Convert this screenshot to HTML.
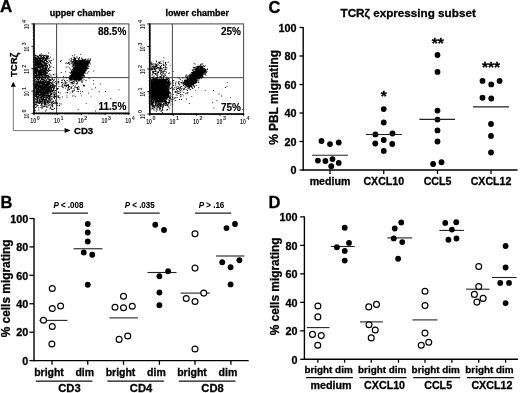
<!DOCTYPE html>
<html><head><meta charset="utf-8"><style>
html,body{margin:0;padding:0;background:#fff;}
svg{display:block;}
text{font-family:"Liberation Sans",sans-serif;}
svg{-webkit-font-smoothing:antialiased;will-change:transform;}
</style></head><body>
<svg width="520" height="393" viewBox="0 0 520 393">
<rect width="520" height="393" fill="#fff"/>
<text x="268.50" y="12.90" font-size="16.5" font-weight="bold" text-anchor="start" fill="#000" stroke="#000" stroke-width="0.3" >C</text>
<text x="408.15" y="16.90" font-size="11.7" font-weight="bold" text-anchor="middle" fill="#000" stroke="#000" stroke-width="0.3" >TCR&#950; expressing subset</text>
<line x1="303.20" y1="26.90" x2="303.20" y2="170.60" stroke="#000" stroke-width="1.4"/>
<line x1="302.50" y1="170.00" x2="517.50" y2="170.00" stroke="#000" stroke-width="1.4"/>
<line x1="299.50" y1="170.00" x2="303.20" y2="170.00" stroke="#000" stroke-width="1.3"/>
<text x="296.60" y="174.20" font-size="10.8" font-weight="bold" text-anchor="end" fill="#000" stroke="#000" stroke-width="0.3" >0</text>
<line x1="299.50" y1="141.50" x2="303.20" y2="141.50" stroke="#000" stroke-width="1.3"/>
<text x="296.60" y="145.70" font-size="10.8" font-weight="bold" text-anchor="end" fill="#000" stroke="#000" stroke-width="0.3" >20</text>
<line x1="299.50" y1="113.00" x2="303.20" y2="113.00" stroke="#000" stroke-width="1.3"/>
<text x="296.60" y="117.20" font-size="10.8" font-weight="bold" text-anchor="end" fill="#000" stroke="#000" stroke-width="0.3" >40</text>
<line x1="299.50" y1="84.50" x2="303.20" y2="84.50" stroke="#000" stroke-width="1.3"/>
<text x="296.60" y="88.70" font-size="10.8" font-weight="bold" text-anchor="end" fill="#000" stroke="#000" stroke-width="0.3" >60</text>
<line x1="299.50" y1="56.00" x2="303.20" y2="56.00" stroke="#000" stroke-width="1.3"/>
<text x="296.60" y="60.20" font-size="10.8" font-weight="bold" text-anchor="end" fill="#000" stroke="#000" stroke-width="0.3" >80</text>
<line x1="299.50" y1="27.50" x2="303.20" y2="27.50" stroke="#000" stroke-width="1.3"/>
<text x="296.60" y="31.70" font-size="10.8" font-weight="bold" text-anchor="end" fill="#000" stroke="#000" stroke-width="0.3" >100</text>
<text transform="translate(278.30,97.40) rotate(-90)" font-size="11.9" font-weight="bold" text-anchor="middle" stroke="#000" stroke-width="0.3">% PBL migrating</text>
<line x1="330.00" y1="170.00" x2="330.00" y2="173.90" stroke="#000" stroke-width="1.3"/>
<text x="330.00" y="185.10" font-size="10.6" font-weight="bold" text-anchor="middle" fill="#000" stroke="#000" stroke-width="0.3" >medium</text>
<line x1="383.75" y1="170.00" x2="383.75" y2="173.90" stroke="#000" stroke-width="1.3"/>
<text x="383.75" y="185.10" font-size="10.6" font-weight="bold" text-anchor="middle" fill="#000" stroke="#000" stroke-width="0.3" >CXCL10</text>
<line x1="437.50" y1="170.00" x2="437.50" y2="173.90" stroke="#000" stroke-width="1.3"/>
<text x="437.50" y="185.10" font-size="10.6" font-weight="bold" text-anchor="middle" fill="#000" stroke="#000" stroke-width="0.3" >CCL5</text>
<line x1="491.00" y1="170.00" x2="491.00" y2="173.90" stroke="#000" stroke-width="1.3"/>
<text x="491.00" y="185.10" font-size="10.6" font-weight="bold" text-anchor="middle" fill="#000" stroke="#000" stroke-width="0.3" >CXCL12</text>
<circle cx="321.50" cy="141.00" r="2.9" fill="#000"/>
<circle cx="330.00" cy="144.10" r="2.9" fill="#000"/>
<circle cx="338.75" cy="142.50" r="2.9" fill="#000"/>
<circle cx="317.90" cy="160.60" r="2.9" fill="#000"/>
<circle cx="325.40" cy="161.00" r="2.9" fill="#000"/>
<circle cx="332.50" cy="159.10" r="2.9" fill="#000"/>
<circle cx="338.75" cy="162.90" r="2.9" fill="#000"/>
<circle cx="331.25" cy="166.25" r="2.9" fill="#000"/>
<circle cx="383.75" cy="109.10" r="2.9" fill="#000"/>
<circle cx="383.75" cy="122.50" r="2.9" fill="#000"/>
<circle cx="375.40" cy="134.40" r="2.9" fill="#000"/>
<circle cx="392.50" cy="133.50" r="2.9" fill="#000"/>
<circle cx="383.75" cy="140.00" r="2.9" fill="#000"/>
<circle cx="375.25" cy="143.50" r="2.9" fill="#000"/>
<circle cx="392.25" cy="144.00" r="2.9" fill="#000"/>
<circle cx="383.75" cy="150.90" r="2.9" fill="#000"/>
<circle cx="437.50" cy="55.00" r="2.9" fill="#000"/>
<circle cx="437.50" cy="71.90" r="2.9" fill="#000"/>
<circle cx="437.50" cy="110.60" r="2.9" fill="#000"/>
<circle cx="437.50" cy="119.60" r="2.9" fill="#000"/>
<circle cx="437.50" cy="130.40" r="2.9" fill="#000"/>
<circle cx="437.50" cy="141.50" r="2.9" fill="#000"/>
<circle cx="433.10" cy="164.00" r="2.9" fill="#000"/>
<circle cx="441.50" cy="162.25" r="2.9" fill="#000"/>
<circle cx="482.50" cy="80.90" r="2.9" fill="#000"/>
<circle cx="491.25" cy="84.40" r="2.9" fill="#000"/>
<circle cx="499.60" cy="80.90" r="2.9" fill="#000"/>
<circle cx="482.50" cy="97.75" r="2.9" fill="#000"/>
<circle cx="491.25" cy="98.50" r="2.9" fill="#000"/>
<circle cx="491.00" cy="124.00" r="2.9" fill="#000"/>
<circle cx="491.00" cy="135.90" r="2.9" fill="#000"/>
<circle cx="491.00" cy="152.50" r="2.9" fill="#000"/>
<line x1="312.10" y1="155.25" x2="347.90" y2="155.25" stroke="#222" stroke-width="1.1"/>
<line x1="366.00" y1="134.50" x2="401.90" y2="134.50" stroke="#222" stroke-width="1.1"/>
<line x1="419.40" y1="119.40" x2="455.00" y2="119.40" stroke="#222" stroke-width="1.1"/>
<line x1="473.10" y1="106.90" x2="509.00" y2="106.90" stroke="#222" stroke-width="1.1"/>
<text x="383.75" y="101.35" font-size="15.5" font-weight="bold" text-anchor="middle" fill="#000" stroke="#000" stroke-width="0.3" >*</text>
<text x="437.75" y="48.20" font-size="15.5" font-weight="bold" text-anchor="middle" fill="#000" stroke="#000" stroke-width="0.3" >**</text>
<text x="491.00" y="72.00" font-size="15.5" font-weight="bold" text-anchor="middle" fill="#000" stroke="#000" stroke-width="0.3" >***</text>
<text x="268.50" y="207.75" font-size="16.5" font-weight="bold" text-anchor="start" fill="#000" stroke="#000" stroke-width="0.3" >D</text>
<line x1="304.40" y1="216.40" x2="304.40" y2="359.90" stroke="#000" stroke-width="1.4"/>
<line x1="303.70" y1="359.30" x2="518.00" y2="359.30" stroke="#000" stroke-width="1.4"/>
<line x1="300.20" y1="359.30" x2="304.40" y2="359.30" stroke="#000" stroke-width="1.3"/>
<text x="297.60" y="363.50" font-size="10.8" font-weight="bold" text-anchor="end" fill="#000" stroke="#000" stroke-width="0.3" >0</text>
<line x1="300.20" y1="330.82" x2="304.40" y2="330.82" stroke="#000" stroke-width="1.3"/>
<text x="297.60" y="335.02" font-size="10.8" font-weight="bold" text-anchor="end" fill="#000" stroke="#000" stroke-width="0.3" >20</text>
<line x1="300.20" y1="302.34" x2="304.40" y2="302.34" stroke="#000" stroke-width="1.3"/>
<text x="297.60" y="306.54" font-size="10.8" font-weight="bold" text-anchor="end" fill="#000" stroke="#000" stroke-width="0.3" >40</text>
<line x1="300.20" y1="273.86" x2="304.40" y2="273.86" stroke="#000" stroke-width="1.3"/>
<text x="297.60" y="278.06" font-size="10.8" font-weight="bold" text-anchor="end" fill="#000" stroke="#000" stroke-width="0.3" >60</text>
<line x1="300.20" y1="245.38" x2="304.40" y2="245.38" stroke="#000" stroke-width="1.3"/>
<text x="297.60" y="249.58" font-size="10.8" font-weight="bold" text-anchor="end" fill="#000" stroke="#000" stroke-width="0.3" >80</text>
<line x1="300.20" y1="216.90" x2="304.40" y2="216.90" stroke="#000" stroke-width="1.3"/>
<text x="297.60" y="221.10" font-size="10.8" font-weight="bold" text-anchor="end" fill="#000" stroke="#000" stroke-width="0.3" >100</text>
<text transform="translate(279.00,286.40) rotate(-90)" font-size="11.9" font-weight="bold" text-anchor="middle" stroke="#000" stroke-width="0.3">% cells migrating</text>
<line x1="317.90" y1="359.30" x2="317.90" y2="362.70" stroke="#000" stroke-width="1.3"/>
<line x1="344.60" y1="359.30" x2="344.60" y2="362.70" stroke="#000" stroke-width="1.3"/>
<line x1="371.25" y1="359.30" x2="371.25" y2="362.70" stroke="#000" stroke-width="1.3"/>
<line x1="398.50" y1="359.30" x2="398.50" y2="362.70" stroke="#000" stroke-width="1.3"/>
<line x1="425.00" y1="359.30" x2="425.00" y2="362.70" stroke="#000" stroke-width="1.3"/>
<line x1="451.90" y1="359.30" x2="451.90" y2="362.70" stroke="#000" stroke-width="1.3"/>
<line x1="478.75" y1="359.30" x2="478.75" y2="362.70" stroke="#000" stroke-width="1.3"/>
<line x1="505.60" y1="359.30" x2="505.60" y2="362.70" stroke="#000" stroke-width="1.3"/>
<text x="328.55" y="373.20" font-size="9.9" font-weight="bold" text-anchor="middle" fill="#000" stroke="#000" stroke-width="0.3" >bright dim</text>
<line x1="305.95" y1="377.70" x2="352.95" y2="377.70" stroke="#111" stroke-width="1.2"/>
<text x="330.95" y="388.80" font-size="10.7" font-weight="bold" text-anchor="middle" fill="#000" stroke="#000" stroke-width="0.3" >medium</text>
<text x="382.18" y="373.20" font-size="9.9" font-weight="bold" text-anchor="middle" fill="#000" stroke="#000" stroke-width="0.3" >bright dim</text>
<line x1="359.57" y1="377.70" x2="406.57" y2="377.70" stroke="#111" stroke-width="1.2"/>
<text x="384.57" y="388.80" font-size="10.7" font-weight="bold" text-anchor="middle" fill="#000" stroke="#000" stroke-width="0.3" >CXCL10</text>
<text x="435.75" y="373.20" font-size="9.9" font-weight="bold" text-anchor="middle" fill="#000" stroke="#000" stroke-width="0.3" >bright dim</text>
<line x1="413.15" y1="377.70" x2="460.15" y2="377.70" stroke="#111" stroke-width="1.2"/>
<text x="438.15" y="388.80" font-size="10.7" font-weight="bold" text-anchor="middle" fill="#000" stroke="#000" stroke-width="0.3" >CCL5</text>
<text x="489.48" y="373.20" font-size="9.9" font-weight="bold" text-anchor="middle" fill="#000" stroke="#000" stroke-width="0.3" >bright dim</text>
<line x1="466.88" y1="377.70" x2="513.88" y2="377.70" stroke="#111" stroke-width="1.2"/>
<text x="491.88" y="388.80" font-size="10.7" font-weight="bold" text-anchor="middle" fill="#000" stroke="#000" stroke-width="0.3" >CXCL12</text>
<line x1="306.90" y1="327.60" x2="329.40" y2="327.60" stroke="#222" stroke-width="1.1"/>
<line x1="331.00" y1="246.50" x2="354.75" y2="246.50" stroke="#222" stroke-width="1.1"/>
<line x1="360.00" y1="321.90" x2="382.75" y2="321.90" stroke="#222" stroke-width="1.1"/>
<line x1="387.25" y1="237.90" x2="412.25" y2="237.90" stroke="#222" stroke-width="1.1"/>
<line x1="412.50" y1="319.90" x2="437.50" y2="319.90" stroke="#222" stroke-width="1.1"/>
<line x1="439.40" y1="230.40" x2="464.00" y2="230.40" stroke="#222" stroke-width="1.1"/>
<line x1="466.00" y1="289.20" x2="489.40" y2="289.20" stroke="#222" stroke-width="1.1"/>
<line x1="491.90" y1="277.50" x2="516.60" y2="277.50" stroke="#222" stroke-width="1.1"/>
<circle cx="317.90" cy="306.00" r="2.95" fill="#fff" stroke="#000" stroke-width="1.15"/>
<circle cx="317.90" cy="316.90" r="2.95" fill="#fff" stroke="#000" stroke-width="1.15"/>
<circle cx="312.50" cy="334.40" r="2.95" fill="#fff" stroke="#000" stroke-width="1.15"/>
<circle cx="321.25" cy="335.60" r="2.95" fill="#fff" stroke="#000" stroke-width="1.15"/>
<circle cx="317.75" cy="345.25" r="2.95" fill="#fff" stroke="#000" stroke-width="1.15"/>
<circle cx="368.75" cy="306.90" r="2.95" fill="#fff" stroke="#000" stroke-width="1.15"/>
<circle cx="376.50" cy="304.40" r="2.95" fill="#fff" stroke="#000" stroke-width="1.15"/>
<circle cx="369.00" cy="324.75" r="2.95" fill="#fff" stroke="#000" stroke-width="1.15"/>
<circle cx="375.25" cy="330.00" r="2.95" fill="#fff" stroke="#000" stroke-width="1.15"/>
<circle cx="371.25" cy="337.90" r="2.95" fill="#fff" stroke="#000" stroke-width="1.15"/>
<circle cx="425.00" cy="291.25" r="2.95" fill="#fff" stroke="#000" stroke-width="1.15"/>
<circle cx="425.00" cy="305.60" r="2.95" fill="#fff" stroke="#000" stroke-width="1.15"/>
<circle cx="425.00" cy="333.10" r="2.95" fill="#fff" stroke="#000" stroke-width="1.15"/>
<circle cx="428.75" cy="342.25" r="2.95" fill="#fff" stroke="#000" stroke-width="1.15"/>
<circle cx="421.25" cy="345.25" r="2.95" fill="#fff" stroke="#000" stroke-width="1.15"/>
<circle cx="478.75" cy="266.50" r="2.95" fill="#fff" stroke="#000" stroke-width="1.15"/>
<circle cx="478.75" cy="286.50" r="2.95" fill="#fff" stroke="#000" stroke-width="1.15"/>
<circle cx="474.40" cy="294.40" r="2.95" fill="#fff" stroke="#000" stroke-width="1.15"/>
<circle cx="483.10" cy="298.40" r="2.95" fill="#fff" stroke="#000" stroke-width="1.15"/>
<circle cx="476.90" cy="302.10" r="2.95" fill="#fff" stroke="#000" stroke-width="1.15"/>
<circle cx="344.75" cy="227.75" r="2.9" fill="#000"/>
<circle cx="349.00" cy="242.90" r="2.9" fill="#000"/>
<circle cx="336.90" cy="247.25" r="2.9" fill="#000"/>
<circle cx="344.75" cy="250.90" r="2.9" fill="#000"/>
<circle cx="344.75" cy="260.60" r="2.9" fill="#000"/>
<circle cx="401.25" cy="222.50" r="2.9" fill="#000"/>
<circle cx="394.75" cy="228.50" r="2.9" fill="#000"/>
<circle cx="393.75" cy="238.40" r="2.9" fill="#000"/>
<circle cx="402.25" cy="242.10" r="2.9" fill="#000"/>
<circle cx="398.10" cy="258.75" r="2.9" fill="#000"/>
<circle cx="445.25" cy="222.90" r="2.9" fill="#000"/>
<circle cx="456.25" cy="222.25" r="2.9" fill="#000"/>
<circle cx="451.90" cy="229.60" r="2.9" fill="#000"/>
<circle cx="448.40" cy="239.75" r="2.9" fill="#000"/>
<circle cx="456.50" cy="238.50" r="2.9" fill="#000"/>
<circle cx="505.60" cy="246.00" r="2.9" fill="#000"/>
<circle cx="505.60" cy="267.50" r="2.9" fill="#000"/>
<circle cx="500.25" cy="282.90" r="2.9" fill="#000"/>
<circle cx="509.00" cy="282.90" r="2.9" fill="#000"/>
<circle cx="505.60" cy="303.10" r="2.9" fill="#000"/>
<text x="0.50" y="207.75" font-size="16.5" font-weight="bold" text-anchor="start" fill="#000" stroke="#000" stroke-width="0.3" >B</text>
<line x1="34.00" y1="217.90" x2="34.00" y2="361.20" stroke="#000" stroke-width="1.4"/>
<line x1="33.30" y1="360.60" x2="248.70" y2="360.60" stroke="#000" stroke-width="1.4"/>
<line x1="29.40" y1="360.60" x2="34.00" y2="360.60" stroke="#000" stroke-width="1.3"/>
<text x="28.20" y="364.80" font-size="10.8" font-weight="bold" text-anchor="end" fill="#000" stroke="#000" stroke-width="0.3" >0</text>
<line x1="29.40" y1="332.18" x2="34.00" y2="332.18" stroke="#000" stroke-width="1.3"/>
<text x="28.20" y="336.38" font-size="10.8" font-weight="bold" text-anchor="end" fill="#000" stroke="#000" stroke-width="0.3" >20</text>
<line x1="29.40" y1="303.76" x2="34.00" y2="303.76" stroke="#000" stroke-width="1.3"/>
<text x="28.20" y="307.96" font-size="10.8" font-weight="bold" text-anchor="end" fill="#000" stroke="#000" stroke-width="0.3" >40</text>
<line x1="29.40" y1="275.34" x2="34.00" y2="275.34" stroke="#000" stroke-width="1.3"/>
<text x="28.20" y="279.54" font-size="10.8" font-weight="bold" text-anchor="end" fill="#000" stroke="#000" stroke-width="0.3" >60</text>
<line x1="29.40" y1="246.92" x2="34.00" y2="246.92" stroke="#000" stroke-width="1.3"/>
<text x="28.20" y="251.12" font-size="10.8" font-weight="bold" text-anchor="end" fill="#000" stroke="#000" stroke-width="0.3" >80</text>
<line x1="29.40" y1="218.50" x2="34.00" y2="218.50" stroke="#000" stroke-width="1.3"/>
<text x="28.20" y="222.70" font-size="10.8" font-weight="bold" text-anchor="end" fill="#000" stroke="#000" stroke-width="0.3" >100</text>
<text transform="translate(9.80,288.40) rotate(-90)" font-size="11.9" font-weight="bold" text-anchor="middle" stroke="#000" stroke-width="0.3">% cells migrating</text>
<line x1="52.00" y1="360.60" x2="52.00" y2="364.80" stroke="#000" stroke-width="1.3"/>
<line x1="87.75" y1="360.60" x2="87.75" y2="364.80" stroke="#000" stroke-width="1.3"/>
<line x1="123.50" y1="360.60" x2="123.50" y2="364.80" stroke="#000" stroke-width="1.3"/>
<line x1="159.40" y1="360.60" x2="159.40" y2="364.80" stroke="#000" stroke-width="1.3"/>
<line x1="195.00" y1="360.60" x2="195.00" y2="364.80" stroke="#000" stroke-width="1.3"/>
<line x1="230.90" y1="360.60" x2="230.90" y2="364.80" stroke="#000" stroke-width="1.3"/>
<text x="49.00" y="375.80" font-size="10.5" font-weight="bold" text-anchor="middle" fill="#000" stroke="#000" stroke-width="0.3" >bright</text>
<text x="84.75" y="375.80" font-size="10.5" font-weight="bold" text-anchor="middle" fill="#000" stroke="#000" stroke-width="0.3" >dim</text>
<line x1="35.78" y1="381.20" x2="92.38" y2="381.20" stroke="#111" stroke-width="1.2"/>
<text x="69.47" y="391.50" font-size="11.2" font-weight="bold" text-anchor="middle" fill="#000" stroke="#000" stroke-width="0.3" >CD3</text>
<line x1="52.00" y1="213.10" x2="88.05" y2="213.10" stroke="#222" stroke-width="1.1"/>
<text x="120.50" y="375.80" font-size="10.5" font-weight="bold" text-anchor="middle" fill="#000" stroke="#000" stroke-width="0.3" >bright</text>
<text x="156.40" y="375.80" font-size="10.5" font-weight="bold" text-anchor="middle" fill="#000" stroke="#000" stroke-width="0.3" >dim</text>
<line x1="107.35" y1="381.20" x2="163.95" y2="381.20" stroke="#111" stroke-width="1.2"/>
<text x="141.05" y="391.50" font-size="11.2" font-weight="bold" text-anchor="middle" fill="#000" stroke="#000" stroke-width="0.3" >CD4</text>
<line x1="123.50" y1="213.10" x2="159.70" y2="213.10" stroke="#222" stroke-width="1.1"/>
<text x="192.00" y="375.80" font-size="10.5" font-weight="bold" text-anchor="middle" fill="#000" stroke="#000" stroke-width="0.3" >bright</text>
<text x="227.90" y="375.80" font-size="10.5" font-weight="bold" text-anchor="middle" fill="#000" stroke="#000" stroke-width="0.3" >dim</text>
<line x1="178.85" y1="381.20" x2="235.45" y2="381.20" stroke="#111" stroke-width="1.2"/>
<text x="212.55" y="391.50" font-size="11.2" font-weight="bold" text-anchor="middle" fill="#000" stroke="#000" stroke-width="0.3" >CD8</text>
<line x1="195.00" y1="213.10" x2="231.20" y2="213.10" stroke="#222" stroke-width="1.1"/>
<text x="68.40" y="207.90" font-size="9.6" font-weight="bold" text-anchor="middle" fill="#000" stroke="#000" stroke-width="0.1" textLength="30.0" lengthAdjust="spacingAndGlyphs"><tspan font-style="italic">P</tspan> &lt; .008</text>
<text x="139.70" y="207.90" font-size="9.6" font-weight="bold" text-anchor="middle" fill="#000" stroke="#000" stroke-width="0.1" textLength="30.0" lengthAdjust="spacingAndGlyphs"><tspan font-style="italic">P</tspan> &lt; .035</text>
<text x="211.50" y="207.90" font-size="9.6" font-weight="bold" text-anchor="middle" fill="#000" stroke="#000" stroke-width="0.1" textLength="25.6" lengthAdjust="spacingAndGlyphs"><tspan font-style="italic">P</tspan> &gt; .16</text>
<line x1="39.40" y1="320.40" x2="67.50" y2="320.40" stroke="#222" stroke-width="1.1"/>
<line x1="73.50" y1="248.75" x2="102.50" y2="248.75" stroke="#222" stroke-width="1.1"/>
<line x1="109.40" y1="317.90" x2="137.90" y2="317.90" stroke="#222" stroke-width="1.1"/>
<line x1="147.50" y1="272.50" x2="176.50" y2="272.50" stroke="#222" stroke-width="1.1"/>
<line x1="180.60" y1="293.10" x2="209.90" y2="293.10" stroke="#222" stroke-width="1.1"/>
<line x1="216.00" y1="256.00" x2="244.40" y2="256.00" stroke="#222" stroke-width="1.1"/>
<circle cx="52.25" cy="288.50" r="2.95" fill="#fff" stroke="#000" stroke-width="1.15"/>
<circle cx="52.25" cy="308.50" r="2.95" fill="#fff" stroke="#000" stroke-width="1.15"/>
<circle cx="60.60" cy="306.00" r="2.95" fill="#fff" stroke="#000" stroke-width="1.15"/>
<circle cx="43.50" cy="320.25" r="2.95" fill="#fff" stroke="#000" stroke-width="1.15"/>
<circle cx="52.25" cy="326.50" r="2.95" fill="#fff" stroke="#000" stroke-width="1.15"/>
<circle cx="51.90" cy="344.00" r="2.95" fill="#fff" stroke="#000" stroke-width="1.15"/>
<circle cx="123.50" cy="296.25" r="2.95" fill="#fff" stroke="#000" stroke-width="1.15"/>
<circle cx="115.00" cy="307.25" r="2.95" fill="#fff" stroke="#000" stroke-width="1.15"/>
<circle cx="123.50" cy="307.75" r="2.95" fill="#fff" stroke="#000" stroke-width="1.15"/>
<circle cx="132.25" cy="306.25" r="2.95" fill="#fff" stroke="#000" stroke-width="1.15"/>
<circle cx="127.75" cy="336.00" r="2.95" fill="#fff" stroke="#000" stroke-width="1.15"/>
<circle cx="119.10" cy="339.40" r="2.95" fill="#fff" stroke="#000" stroke-width="1.15"/>
<circle cx="195.00" cy="233.75" r="2.95" fill="#fff" stroke="#000" stroke-width="1.15"/>
<circle cx="195.00" cy="268.10" r="2.95" fill="#fff" stroke="#000" stroke-width="1.15"/>
<circle cx="203.75" cy="293.10" r="2.95" fill="#fff" stroke="#000" stroke-width="1.15"/>
<circle cx="186.25" cy="298.50" r="2.95" fill="#fff" stroke="#000" stroke-width="1.15"/>
<circle cx="195.00" cy="301.50" r="2.95" fill="#fff" stroke="#000" stroke-width="1.15"/>
<circle cx="195.00" cy="349.00" r="2.95" fill="#fff" stroke="#000" stroke-width="1.15"/>
<circle cx="87.75" cy="224.00" r="2.9" fill="#000"/>
<circle cx="87.75" cy="232.50" r="2.9" fill="#000"/>
<circle cx="87.75" cy="241.50" r="2.9" fill="#000"/>
<circle cx="83.75" cy="252.50" r="2.9" fill="#000"/>
<circle cx="92.25" cy="254.75" r="2.9" fill="#000"/>
<circle cx="87.75" cy="284.75" r="2.9" fill="#000"/>
<circle cx="155.25" cy="224.75" r="2.9" fill="#000"/>
<circle cx="164.00" cy="230.00" r="2.9" fill="#000"/>
<circle cx="168.10" cy="271.25" r="2.9" fill="#000"/>
<circle cx="159.40" cy="276.25" r="2.9" fill="#000"/>
<circle cx="159.40" cy="292.50" r="2.9" fill="#000"/>
<circle cx="159.40" cy="305.25" r="2.9" fill="#000"/>
<circle cx="226.50" cy="228.10" r="2.9" fill="#000"/>
<circle cx="235.00" cy="224.00" r="2.9" fill="#000"/>
<circle cx="222.25" cy="262.25" r="2.9" fill="#000"/>
<circle cx="239.40" cy="260.25" r="2.9" fill="#000"/>
<circle cx="230.60" cy="267.25" r="2.9" fill="#000"/>
<circle cx="230.60" cy="284.40" r="2.9" fill="#000"/>
<text x="0.00" y="12.30" font-size="17" font-weight="bold" text-anchor="start" fill="#000" stroke="#000" stroke-width="0.3" >A</text>
<text x="82.20" y="16.40" font-size="9" font-weight="bold" text-anchor="middle" fill="#000" stroke="#000" stroke-width="0.3" >upper chamber</text>
<text x="197.20" y="16.40" font-size="9" font-weight="bold" text-anchor="middle" fill="#000" stroke="#000" stroke-width="0.3" >lower chamber</text>
<rect x="34.00" y="23.90" width="94.90" height="89.50" fill="none" stroke="#444" stroke-width="1"/>
<line x1="56.60" y1="23.90" x2="56.60" y2="113.40" stroke="#444" stroke-width="1"/>
<line x1="34.00" y1="77.60" x2="128.90" y2="77.60" stroke="#444" stroke-width="1"/>
<path d="M41.9 66.4h.9v.9h-.9zM46.7 66.0h.9v.9h-.9zM43.5 65.4h.9v.9h-.9zM40.6 60.4h.9v.9h-.9zM39.1 61.3h.9v.9h-.9zM45.7 62.4h.9v.9h-.9zM35.6 71.8h.9v.9h-.9zM39.5 62.9h.9v.9h-.9zM43.1 56.0h.9v.9h-.9zM39.0 66.0h.9v.9h-.9zM38.5 62.3h.9v.9h-.9zM35.1 56.7h.9v.9h-.9zM42.2 76.4h.9v.9h-.9zM39.8 63.2h.9v.9h-.9zM36.6 68.1h.9v.9h-.9zM35.6 65.2h.9v.9h-.9zM45.1 58.0h.9v.9h-.9zM43.3 74.3h.9v.9h-.9zM39.4 75.5h.9v.9h-.9zM46.1 59.6h.9v.9h-.9zM34.9 64.7h.9v.9h-.9zM37.8 63.6h.9v.9h-.9zM39.3 58.0h.9v.9h-.9zM34.7 66.7h.9v.9h-.9zM37.7 71.0h.9v.9h-.9zM48.0 68.8h.9v.9h-.9zM36.7 69.8h.9v.9h-.9zM43.6 55.9h.9v.9h-.9zM39.1 58.1h.9v.9h-.9zM42.7 67.2h.9v.9h-.9zM36.7 71.4h.9v.9h-.9zM35.7 63.7h.9v.9h-.9zM34.3 67.1h.9v.9h-.9zM35.0 75.6h.9v.9h-.9zM39.5 54.4h.9v.9h-.9zM35.2 62.5h.9v.9h-.9zM36.3 62.2h.9v.9h-.9zM38.6 76.9h.9v.9h-.9zM42.8 61.5h.9v.9h-.9zM36.6 55.6h.9v.9h-.9zM36.9 63.5h.9v.9h-.9zM39.3 68.1h.9v.9h-.9zM38.9 57.7h.9v.9h-.9zM46.6 73.0h.9v.9h-.9zM43.5 57.7h.9v.9h-.9zM42.7 68.9h.9v.9h-.9zM35.9 59.6h.9v.9h-.9zM42.5 73.9h.9v.9h-.9zM38.5 60.2h.9v.9h-.9zM41.0 68.4h.9v.9h-.9zM36.1 72.1h.9v.9h-.9zM45.6 60.1h.9v.9h-.9zM35.7 57.5h.9v.9h-.9zM42.3 67.0h.9v.9h-.9zM36.6 67.2h.9v.9h-.9zM38.9 65.5h.9v.9h-.9zM42.0 71.9h.9v.9h-.9zM38.3 65.2h.9v.9h-.9zM53.2 66.9h.9v.9h-.9zM43.5 65.1h.9v.9h-.9zM39.9 66.5h.9v.9h-.9zM41.5 64.6h.9v.9h-.9zM43.2 59.1h.9v.9h-.9zM39.7 61.8h.9v.9h-.9zM38.0 61.7h.9v.9h-.9zM36.7 62.0h.9v.9h-.9zM38.2 73.2h.9v.9h-.9zM35.5 58.4h.9v.9h-.9zM46.0 61.0h.9v.9h-.9zM40.8 66.7h.9v.9h-.9zM43.1 63.7h.9v.9h-.9zM40.3 60.5h.9v.9h-.9zM41.2 60.6h.9v.9h-.9zM44.7 67.8h.9v.9h-.9zM42.1 69.8h.9v.9h-.9zM46.5 74.4h.9v.9h-.9zM46.1 73.1h.9v.9h-.9zM45.3 63.4h.9v.9h-.9zM46.3 67.7h.9v.9h-.9zM35.4 64.9h.9v.9h-.9zM36.2 58.5h.9v.9h-.9zM46.5 76.2h.9v.9h-.9zM43.0 56.4h.9v.9h-.9zM35.1 62.3h.9v.9h-.9zM45.6 68.0h.9v.9h-.9zM41.0 65.0h.9v.9h-.9zM41.3 61.4h.9v.9h-.9zM38.3 74.7h.9v.9h-.9zM35.7 63.6h.9v.9h-.9zM37.0 65.2h.9v.9h-.9zM37.4 58.0h.9v.9h-.9zM41.7 76.4h.9v.9h-.9zM39.0 55.2h.9v.9h-.9zM42.7 65.3h.9v.9h-.9zM34.9 73.4h.9v.9h-.9zM43.6 78.4h.9v.9h-.9zM37.2 75.1h.9v.9h-.9zM42.1 72.6h.9v.9h-.9zM41.6 61.8h.9v.9h-.9zM41.8 56.9h.9v.9h-.9zM45.0 64.2h.9v.9h-.9zM44.2 57.8h.9v.9h-.9zM39.7 75.0h.9v.9h-.9zM40.7 53.3h.9v.9h-.9zM49.2 65.0h.9v.9h-.9zM34.4 59.3h.9v.9h-.9zM44.4 55.0h.9v.9h-.9zM42.2 66.4h.9v.9h-.9zM42.7 55.1h.9v.9h-.9zM40.9 72.6h.9v.9h-.9zM41.2 69.3h.9v.9h-.9zM45.8 62.6h.9v.9h-.9zM38.3 73.3h.9v.9h-.9zM45.3 73.7h.9v.9h-.9zM35.8 61.7h.9v.9h-.9zM41.5 73.9h.9v.9h-.9zM37.4 75.8h.9v.9h-.9zM38.6 67.1h.9v.9h-.9zM41.3 63.2h.9v.9h-.9zM44.3 73.2h.9v.9h-.9zM34.7 76.7h.9v.9h-.9zM44.8 63.4h.9v.9h-.9zM42.2 57.3h.9v.9h-.9zM38.2 72.0h.9v.9h-.9zM42.2 69.6h.9v.9h-.9zM40.5 59.4h.9v.9h-.9zM36.1 68.3h.9v.9h-.9zM42.1 61.8h.9v.9h-.9zM34.5 73.7h.9v.9h-.9zM35.0 63.9h.9v.9h-.9zM49.2 60.6h.9v.9h-.9zM40.7 55.6h.9v.9h-.9zM34.4 64.2h.9v.9h-.9zM36.4 75.9h.9v.9h-.9zM48.2 59.7h.9v.9h-.9zM43.1 65.3h.9v.9h-.9zM44.5 74.9h.9v.9h-.9zM41.6 55.1h.9v.9h-.9zM42.5 61.5h.9v.9h-.9zM42.9 74.7h.9v.9h-.9zM44.1 59.5h.9v.9h-.9zM41.0 74.7h.9v.9h-.9zM37.7 75.1h.9v.9h-.9zM43.1 58.4h.9v.9h-.9zM39.3 68.4h.9v.9h-.9zM45.2 68.3h.9v.9h-.9zM35.2 70.4h.9v.9h-.9zM38.1 65.1h.9v.9h-.9zM43.7 63.9h.9v.9h-.9zM46.1 59.0h.9v.9h-.9zM39.9 63.3h.9v.9h-.9zM47.3 58.7h.9v.9h-.9zM44.0 74.1h.9v.9h-.9zM49.5 70.2h.9v.9h-.9zM39.2 64.4h.9v.9h-.9zM48.1 71.1h.9v.9h-.9zM37.2 66.8h.9v.9h-.9zM44.5 62.7h.9v.9h-.9zM41.8 65.0h.9v.9h-.9zM39.6 75.7h.9v.9h-.9zM34.7 63.9h.9v.9h-.9zM47.0 66.7h.9v.9h-.9zM46.5 74.9h.9v.9h-.9zM37.8 63.1h.9v.9h-.9zM41.2 73.0h.9v.9h-.9zM41.3 56.2h.9v.9h-.9zM43.2 71.4h.9v.9h-.9zM41.8 72.2h.9v.9h-.9zM41.0 72.0h.9v.9h-.9zM38.8 76.5h.9v.9h-.9zM41.7 69.9h.9v.9h-.9zM38.5 74.0h.9v.9h-.9zM44.6 59.9h.9v.9h-.9zM35.8 68.8h.9v.9h-.9zM36.2 58.0h.9v.9h-.9zM40.2 57.5h.9v.9h-.9zM40.5 65.5h.9v.9h-.9zM41.1 71.4h.9v.9h-.9zM38.1 70.3h.9v.9h-.9zM35.5 55.4h.9v.9h-.9zM46.5 75.5h.9v.9h-.9zM46.8 61.7h.9v.9h-.9zM44.1 60.8h.9v.9h-.9zM43.6 71.5h.9v.9h-.9zM45.1 75.6h.9v.9h-.9zM34.6 72.4h.9v.9h-.9zM36.4 63.0h.9v.9h-.9zM37.7 64.4h.9v.9h-.9zM36.2 73.6h.9v.9h-.9zM36.5 63.1h.9v.9h-.9zM36.0 73.5h.9v.9h-.9zM41.2 70.3h.9v.9h-.9zM36.5 65.5h.9v.9h-.9zM44.3 74.1h.9v.9h-.9zM35.0 62.1h.9v.9h-.9zM43.6 71.5h.9v.9h-.9zM36.5 69.0h.9v.9h-.9zM39.0 61.9h.9v.9h-.9zM46.5 67.2h.9v.9h-.9zM39.3 66.4h.9v.9h-.9zM49.9 66.7h.9v.9h-.9zM43.1 58.4h.9v.9h-.9zM46.8 76.7h.9v.9h-.9zM39.4 77.2h.9v.9h-.9zM39.0 54.7h.9v.9h-.9zM35.0 73.4h.9v.9h-.9zM45.0 67.0h.9v.9h-.9zM45.7 58.7h.9v.9h-.9zM44.4 75.5h.9v.9h-.9zM34.6 65.4h.9v.9h-.9zM35.8 69.3h.9v.9h-.9zM37.3 73.9h.9v.9h-.9zM39.6 65.7h.9v.9h-.9zM42.7 54.6h.9v.9h-.9zM41.5 76.2h.9v.9h-.9zM35.8 70.5h.9v.9h-.9zM43.7 75.5h.9v.9h-.9zM44.4 61.9h.9v.9h-.9zM37.1 74.3h.9v.9h-.9zM38.0 74.2h.9v.9h-.9zM41.4 64.5h.9v.9h-.9zM38.1 62.8h.9v.9h-.9zM38.1 60.7h.9v.9h-.9zM46.5 57.5h.9v.9h-.9zM38.3 62.3h.9v.9h-.9zM37.4 63.1h.9v.9h-.9zM37.9 58.1h.9v.9h-.9zM42.6 71.8h.9v.9h-.9zM43.0 63.6h.9v.9h-.9zM43.5 69.4h.9v.9h-.9zM39.8 62.3h.9v.9h-.9zM48.0 63.7h.9v.9h-.9zM45.0 71.8h.9v.9h-.9zM45.1 66.7h.9v.9h-.9zM35.3 68.7h.9v.9h-.9zM36.4 65.3h.9v.9h-.9zM41.2 65.7h.9v.9h-.9zM39.3 75.0h.9v.9h-.9zM40.8 64.0h.9v.9h-.9zM50.6 65.7h.9v.9h-.9zM35.8 69.8h.9v.9h-.9zM36.4 58.5h.9v.9h-.9zM42.3 76.9h.9v.9h-.9zM40.9 66.8h.9v.9h-.9zM35.5 58.5h.9v.9h-.9zM38.0 72.1h.9v.9h-.9zM36.9 71.1h.9v.9h-.9zM42.4 67.7h.9v.9h-.9zM51.3 75.5h.9v.9h-.9zM42.1 57.0h.9v.9h-.9zM35.3 67.6h.9v.9h-.9zM38.0 75.2h.9v.9h-.9zM35.6 75.8h.9v.9h-.9zM40.2 69.9h.9v.9h-.9zM35.7 67.0h.9v.9h-.9zM37.6 62.8h.9v.9h-.9zM37.9 66.1h.9v.9h-.9zM45.7 66.5h.9v.9h-.9zM40.0 73.1h.9v.9h-.9zM34.5 72.0h.9v.9h-.9zM38.0 70.7h.9v.9h-.9zM41.1 73.6h.9v.9h-.9zM39.5 55.0h.9v.9h-.9zM38.1 69.9h.9v.9h-.9zM34.7 65.8h.9v.9h-.9zM36.7 71.4h.9v.9h-.9zM50.5 63.1h.9v.9h-.9zM41.0 66.7h.9v.9h-.9zM34.4 72.4h.9v.9h-.9zM46.7 57.1h.9v.9h-.9zM45.0 59.7h.9v.9h-.9zM34.3 68.7h.9v.9h-.9zM36.5 74.9h.9v.9h-.9zM44.3 60.9h.9v.9h-.9zM34.7 71.3h.9v.9h-.9zM47.0 61.1h.9v.9h-.9zM40.4 59.4h.9v.9h-.9zM39.5 66.1h.9v.9h-.9zM42.6 70.2h.9v.9h-.9zM43.3 74.1h.9v.9h-.9zM42.7 73.3h.9v.9h-.9zM39.5 62.0h.9v.9h-.9zM34.4 69.8h.9v.9h-.9zM43.8 69.2h.9v.9h-.9zM36.7 63.0h.9v.9h-.9zM36.5 70.7h.9v.9h-.9zM35.3 75.0h.9v.9h-.9zM41.0 64.3h.9v.9h-.9zM43.7 77.2h.9v.9h-.9zM42.1 57.4h.9v.9h-.9zM34.8 61.6h.9v.9h-.9zM38.8 70.1h.9v.9h-.9zM44.7 62.7h.9v.9h-.9zM39.8 66.2h.9v.9h-.9zM48.9 64.2h.9v.9h-.9zM52.9 58.8h.9v.9h-.9zM40.9 72.2h.9v.9h-.9zM45.1 69.4h.9v.9h-.9zM50.9 60.1h.9v.9h-.9zM41.3 59.9h.9v.9h-.9zM42.5 72.5h.9v.9h-.9zM35.8 75.2h.9v.9h-.9zM41.6 74.5h.9v.9h-.9zM42.5 63.7h.9v.9h-.9zM41.1 65.3h.9v.9h-.9zM41.7 65.6h.9v.9h-.9zM37.5 58.7h.9v.9h-.9zM37.9 64.6h.9v.9h-.9zM37.5 58.1h.9v.9h-.9zM44.0 57.1h.9v.9h-.9zM38.0 64.2h.9v.9h-.9zM38.3 56.4h.9v.9h-.9zM43.8 63.9h.9v.9h-.9zM43.8 69.4h.9v.9h-.9zM40.3 71.2h.9v.9h-.9zM45.1 75.6h.9v.9h-.9zM45.2 73.3h.9v.9h-.9zM38.5 70.6h.9v.9h-.9zM35.0 75.0h.9v.9h-.9zM45.5 64.9h.9v.9h-.9zM42.7 71.5h.9v.9h-.9zM40.1 59.5h.9v.9h-.9zM42.7 65.0h.9v.9h-.9zM41.7 75.5h.9v.9h-.9zM43.6 67.8h.9v.9h-.9zM34.9 66.6h.9v.9h-.9zM35.9 72.8h.9v.9h-.9zM43.7 62.3h.9v.9h-.9zM39.1 73.2h.9v.9h-.9zM34.6 54.6h.9v.9h-.9zM34.4 57.7h.9v.9h-.9zM37.3 58.5h.9v.9h-.9zM37.1 59.7h.9v.9h-.9zM36.4 74.5h.9v.9h-.9zM48.2 55.6h.9v.9h-.9zM38.8 60.2h.9v.9h-.9zM39.3 66.1h.9v.9h-.9zM35.8 70.1h.9v.9h-.9zM45.2 71.9h.9v.9h-.9zM35.6 62.7h.9v.9h-.9zM38.0 60.8h.9v.9h-.9zM41.1 73.1h.9v.9h-.9zM50.1 56.7h.9v.9h-.9zM43.5 56.9h.9v.9h-.9zM35.4 62.8h.9v.9h-.9zM47.0 65.0h.9v.9h-.9zM46.5 76.8h.9v.9h-.9zM43.2 72.6h.9v.9h-.9zM34.6 69.3h.9v.9h-.9zM39.1 65.4h.9v.9h-.9zM34.5 72.7h.9v.9h-.9zM35.6 68.8h.9v.9h-.9zM35.0 62.2h.9v.9h-.9zM47.2 57.1h.9v.9h-.9zM35.4 60.5h.9v.9h-.9zM36.0 72.0h.9v.9h-.9zM43.9 68.6h.9v.9h-.9zM41.3 73.9h.9v.9h-.9zM39.6 55.5h.9v.9h-.9zM40.7 73.1h.9v.9h-.9zM34.9 64.6h.9v.9h-.9zM35.5 75.9h.9v.9h-.9zM34.8 69.4h.9v.9h-.9zM41.9 65.6h.9v.9h-.9zM41.8 74.1h.9v.9h-.9zM37.5 69.3h.9v.9h-.9zM37.8 72.0h.9v.9h-.9zM43.6 57.2h.9v.9h-.9zM46.0 68.5h.9v.9h-.9zM34.6 62.6h.9v.9h-.9zM35.1 55.0h.9v.9h-.9zM38.4 57.4h.9v.9h-.9zM42.3 67.0h.9v.9h-.9zM50.2 60.4h.9v.9h-.9zM38.2 70.6h.9v.9h-.9zM44.6 59.2h.9v.9h-.9zM37.4 57.1h.9v.9h-.9zM39.1 77.7h.9v.9h-.9zM37.7 61.0h.9v.9h-.9zM44.8 66.1h.9v.9h-.9zM34.8 61.3h.9v.9h-.9zM37.7 59.0h.9v.9h-.9zM35.7 63.0h.9v.9h-.9zM34.6 73.2h.9v.9h-.9zM34.5 58.4h.9v.9h-.9zM38.1 71.6h.9v.9h-.9zM45.3 72.9h.9v.9h-.9zM45.1 65.4h.9v.9h-.9zM46.7 61.7h.9v.9h-.9zM41.7 60.2h.9v.9h-.9zM45.4 60.1h.9v.9h-.9zM47.8 62.1h.9v.9h-.9zM45.7 72.5h.9v.9h-.9zM47.1 55.8h.9v.9h-.9zM37.4 70.8h.9v.9h-.9zM35.7 69.5h.9v.9h-.9zM45.6 55.1h.9v.9h-.9zM36.5 60.4h.9v.9h-.9zM45.7 72.0h.9v.9h-.9zM39.7 68.6h.9v.9h-.9zM37.0 60.8h.9v.9h-.9zM40.0 73.0h.9v.9h-.9zM35.2 57.8h.9v.9h-.9zM40.3 63.5h.9v.9h-.9zM38.0 57.0h.9v.9h-.9zM48.6 70.2h.9v.9h-.9zM40.8 56.8h.9v.9h-.9zM43.1 58.2h.9v.9h-.9zM35.1 69.9h.9v.9h-.9zM44.9 64.5h.9v.9h-.9zM41.8 69.3h.9v.9h-.9zM43.6 70.6h.9v.9h-.9zM50.7 69.7h.9v.9h-.9zM39.3 58.8h.9v.9h-.9zM34.7 71.5h.9v.9h-.9zM39.8 58.3h.9v.9h-.9zM39.7 61.2h.9v.9h-.9zM34.6 62.3h.9v.9h-.9zM46.1 56.2h.9v.9h-.9zM37.4 58.7h.9v.9h-.9zM36.2 71.0h.9v.9h-.9zM45.3 71.3h.9v.9h-.9zM38.8 64.3h.9v.9h-.9zM41.7 63.2h.9v.9h-.9zM36.1 59.4h.9v.9h-.9zM44.5 65.6h.9v.9h-.9zM40.6 69.0h.9v.9h-.9zM41.0 75.6h.9v.9h-.9zM46.3 56.0h.9v.9h-.9zM44.1 74.2h.9v.9h-.9zM46.4 77.0h.9v.9h-.9zM39.4 63.2h.9v.9h-.9zM42.9 69.7h.9v.9h-.9zM36.2 75.1h.9v.9h-.9zM44.8 69.5h.9v.9h-.9zM35.7 61.6h.9v.9h-.9zM38.4 70.5h.9v.9h-.9zM44.4 75.2h.9v.9h-.9zM39.7 57.6h.9v.9h-.9zM36.2 66.3h.9v.9h-.9zM45.6 54.6h.9v.9h-.9zM38.9 72.4h.9v.9h-.9zM37.2 68.9h.9v.9h-.9zM47.4 58.1h.9v.9h-.9zM39.8 68.7h.9v.9h-.9zM40.6 70.9h.9v.9h-.9zM35.7 57.1h.9v.9h-.9zM40.5 65.3h.9v.9h-.9zM39.4 69.7h.9v.9h-.9zM40.8 62.9h.9v.9h-.9zM40.3 66.9h.9v.9h-.9zM45.1 78.3h.9v.9h-.9zM42.4 69.3h.9v.9h-.9zM38.8 67.2h.9v.9h-.9zM47.9 56.1h.9v.9h-.9zM37.7 59.0h.9v.9h-.9zM37.1 73.6h.9v.9h-.9zM39.6 70.5h.9v.9h-.9zM44.3 72.9h.9v.9h-.9zM36.6 67.6h.9v.9h-.9zM42.1 67.8h.9v.9h-.9zM41.7 67.2h.9v.9h-.9zM37.4 70.3h.9v.9h-.9zM38.8 61.5h.9v.9h-.9zM46.3 66.9h.9v.9h-.9zM36.9 63.2h.9v.9h-.9zM45.2 68.6h.9v.9h-.9zM43.2 62.1h.9v.9h-.9zM48.0 52.5h.9v.9h-.9zM40.5 56.5h.9v.9h-.9zM38.9 60.2h.9v.9h-.9zM38.7 71.4h.9v.9h-.9zM44.0 73.9h.9v.9h-.9zM43.2 67.9h.9v.9h-.9zM43.5 66.7h.9v.9h-.9zM45.9 59.7h.9v.9h-.9zM43.2 66.5h.9v.9h-.9zM39.3 73.3h.9v.9h-.9zM37.6 66.7h.9v.9h-.9zM38.0 67.6h.9v.9h-.9zM39.5 64.4h.9v.9h-.9zM41.9 57.2h.9v.9h-.9zM40.6 68.3h.9v.9h-.9zM49.2 67.0h.9v.9h-.9zM43.0 61.3h.9v.9h-.9zM40.0 60.5h.9v.9h-.9zM34.4 70.3h.9v.9h-.9zM37.6 60.4h.9v.9h-.9zM41.1 69.1h.9v.9h-.9zM49.5 61.4h.9v.9h-.9zM36.2 69.4h.9v.9h-.9zM41.1 63.3h.9v.9h-.9zM46.4 64.5h.9v.9h-.9zM45.2 74.1h.9v.9h-.9zM45.3 70.7h.9v.9h-.9zM34.9 70.0h.9v.9h-.9zM43.8 63.9h.9v.9h-.9zM38.2 72.2h.9v.9h-.9zM40.6 64.9h.9v.9h-.9zM35.0 76.2h.9v.9h-.9zM39.1 75.4h.9v.9h-.9zM48.8 68.6h.9v.9h-.9zM38.9 72.3h.9v.9h-.9zM40.6 65.4h.9v.9h-.9zM40.6 71.6h.9v.9h-.9zM40.2 59.3h.9v.9h-.9zM41.2 79.0h.9v.9h-.9zM40.5 74.0h.9v.9h-.9zM39.0 58.8h.9v.9h-.9zM35.4 60.3h.9v.9h-.9zM45.9 68.1h.9v.9h-.9zM41.5 71.5h.9v.9h-.9zM36.8 60.5h.9v.9h-.9zM43.4 76.9h.9v.9h-.9zM36.1 61.7h.9v.9h-.9zM37.2 75.5h.9v.9h-.9zM35.7 73.1h.9v.9h-.9zM47.0 66.1h.9v.9h-.9zM38.0 62.8h.9v.9h-.9zM42.6 59.1h.9v.9h-.9zM34.5 56.8h.9v.9h-.9zM46.0 68.4h.9v.9h-.9zM42.7 71.1h.9v.9h-.9zM40.0 72.0h.9v.9h-.9zM39.8 64.3h.9v.9h-.9zM36.8 73.6h.9v.9h-.9zM39.3 61.0h.9v.9h-.9zM53.7 74.3h.9v.9h-.9zM39.8 75.7h.9v.9h-.9zM41.7 58.7h.9v.9h-.9zM38.9 73.6h.9v.9h-.9zM36.5 68.1h.9v.9h-.9zM43.3 70.1h.9v.9h-.9zM39.6 71.2h.9v.9h-.9zM42.0 67.2h.9v.9h-.9zM37.4 66.6h.9v.9h-.9zM38.6 63.2h.9v.9h-.9zM39.3 76.3h.9v.9h-.9zM44.4 75.1h.9v.9h-.9zM37.7 59.6h.9v.9h-.9zM41.2 71.9h.9v.9h-.9zM42.2 61.0h.9v.9h-.9zM39.4 60.6h.9v.9h-.9zM39.4 61.1h.9v.9h-.9zM39.3 65.8h.9v.9h-.9zM36.9 62.7h.9v.9h-.9zM36.9 61.3h.9v.9h-.9zM35.4 58.8h.9v.9h-.9zM35.1 62.9h.9v.9h-.9zM36.5 70.1h.9v.9h-.9zM40.7 54.4h.9v.9h-.9zM47.8 68.0h.9v.9h-.9zM37.2 68.5h.9v.9h-.9zM34.7 54.7h.9v.9h-.9zM39.1 62.1h.9v.9h-.9zM37.0 74.1h.9v.9h-.9zM44.6 74.0h.9v.9h-.9zM39.7 70.4h.9v.9h-.9zM35.4 57.0h.9v.9h-.9zM35.8 71.9h.9v.9h-.9zM35.9 64.9h.9v.9h-.9zM35.5 58.8h.9v.9h-.9zM40.6 66.0h.9v.9h-.9zM36.5 75.7h.9v.9h-.9zM34.5 71.2h.9v.9h-.9zM45.2 63.3h.9v.9h-.9zM38.2 55.8h.9v.9h-.9zM39.6 72.8h.9v.9h-.9zM40.9 75.5h.9v.9h-.9zM40.9 66.1h.9v.9h-.9zM38.5 59.9h.9v.9h-.9zM35.2 65.0h.9v.9h-.9zM46.4 69.5h.9v.9h-.9zM43.0 68.2h.9v.9h-.9zM35.7 61.5h.9v.9h-.9zM34.6 58.5h.9v.9h-.9zM44.3 62.1h.9v.9h-.9zM46.1 57.3h.9v.9h-.9zM36.8 61.5h.9v.9h-.9zM44.6 74.1h.9v.9h-.9zM42.1 57.0h.9v.9h-.9zM47.5 69.8h.9v.9h-.9zM39.3 70.6h.9v.9h-.9zM40.9 63.2h.9v.9h-.9zM35.1 67.9h.9v.9h-.9zM40.5 61.1h.9v.9h-.9zM46.9 70.3h.9v.9h-.9zM43.7 70.3h.9v.9h-.9zM34.7 72.1h.9v.9h-.9zM50.6 65.9h.9v.9h-.9zM44.4 77.0h.9v.9h-.9zM46.4 71.9h.9v.9h-.9zM42.7 65.5h.9v.9h-.9zM45.8 70.8h.9v.9h-.9zM43.0 59.5h.9v.9h-.9zM45.0 74.9h.9v.9h-.9zM34.5 68.9h.9v.9h-.9zM39.2 73.7h.9v.9h-.9zM41.9 61.0h.9v.9h-.9zM36.0 77.9h.9v.9h-.9zM39.2 54.4h.9v.9h-.9zM43.4 67.8h.9v.9h-.9zM35.3 60.8h.9v.9h-.9zM34.7 59.5h.9v.9h-.9zM35.5 71.5h.9v.9h-.9zM42.2 57.8h.9v.9h-.9zM41.7 65.9h.9v.9h-.9zM39.4 58.0h.9v.9h-.9zM48.8 73.5h.9v.9h-.9zM35.2 57.0h.9v.9h-.9zM43.8 63.3h.9v.9h-.9zM45.0 73.7h.9v.9h-.9zM40.6 70.8h.9v.9h-.9zM38.2 69.7h.9v.9h-.9zM38.2 76.4h.9v.9h-.9zM43.9 55.1h.9v.9h-.9zM42.1 68.6h.9v.9h-.9zM34.9 71.0h.9v.9h-.9zM44.3 71.0h.9v.9h-.9zM39.6 69.0h.9v.9h-.9zM35.3 59.1h.9v.9h-.9zM34.9 57.1h.9v.9h-.9zM49.7 69.9h.9v.9h-.9zM44.5 69.8h.9v.9h-.9zM44.0 60.0h.9v.9h-.9zM34.9 56.4h.9v.9h-.9zM46.0 66.7h.9v.9h-.9zM34.7 57.7h.9v.9h-.9zM42.7 71.4h.9v.9h-.9zM35.6 61.9h.9v.9h-.9zM41.6 72.5h.9v.9h-.9zM46.0 60.1h.9v.9h-.9zM35.1 63.0h.9v.9h-.9zM36.3 57.7h.9v.9h-.9zM38.1 72.5h.9v.9h-.9zM40.1 65.9h.9v.9h-.9zM34.9 58.6h.9v.9h-.9zM41.2 78.5h.9v.9h-.9zM36.7 69.3h.9v.9h-.9zM44.7 65.3h.9v.9h-.9zM39.1 74.2h.9v.9h-.9zM38.9 63.6h.9v.9h-.9zM39.3 75.9h.9v.9h-.9zM40.1 62.6h.9v.9h-.9zM41.0 77.7h.9v.9h-.9zM47.9 57.4h.9v.9h-.9zM45.0 71.1h.9v.9h-.9zM37.8 61.8h.9v.9h-.9zM39.0 66.2h.9v.9h-.9zM41.0 69.9h.9v.9h-.9zM47.1 55.2h.9v.9h-.9zM34.7 59.4h.9v.9h-.9zM34.5 58.1h.9v.9h-.9zM45.5 70.2h.9v.9h-.9zM44.5 59.7h.9v.9h-.9zM41.3 64.7h.9v.9h-.9zM40.0 62.1h.9v.9h-.9zM37.0 61.0h.9v.9h-.9zM38.2 76.4h.9v.9h-.9zM37.8 66.2h.9v.9h-.9zM34.8 71.9h.9v.9h-.9zM38.9 70.2h.9v.9h-.9zM37.0 76.9h.9v.9h-.9zM38.6 62.3h.9v.9h-.9zM40.0 57.8h.9v.9h-.9zM43.9 64.7h.9v.9h-.9zM40.8 55.4h.9v.9h-.9zM45.9 55.7h.9v.9h-.9zM36.9 75.0h.9v.9h-.9zM37.2 71.2h.9v.9h-.9zM44.2 62.4h.9v.9h-.9zM36.2 60.8h.9v.9h-.9zM37.4 71.2h.9v.9h-.9zM44.5 67.6h.9v.9h-.9zM36.7 55.9h.9v.9h-.9zM42.7 76.3h.9v.9h-.9zM35.1 75.0h.9v.9h-.9zM39.8 75.9h.9v.9h-.9zM46.7 73.0h.9v.9h-.9zM46.4 65.2h.9v.9h-.9zM36.0 63.0h.9v.9h-.9zM37.7 70.1h.9v.9h-.9zM39.5 59.5h.9v.9h-.9zM42.9 69.8h.9v.9h-.9zM38.2 58.3h.9v.9h-.9zM45.4 55.8h.9v.9h-.9zM46.3 68.8h.9v.9h-.9zM39.7 60.9h.9v.9h-.9zM39.1 71.9h.9v.9h-.9zM43.1 72.8h.9v.9h-.9zM35.3 73.2h.9v.9h-.9zM36.8 67.9h.9v.9h-.9zM37.7 73.3h.9v.9h-.9zM34.8 69.4h.9v.9h-.9zM37.5 74.5h.9v.9h-.9zM39.7 73.4h.9v.9h-.9zM44.9 59.2h.9v.9h-.9zM37.4 61.4h.9v.9h-.9zM46.8 62.9h.9v.9h-.9zM39.6 59.1h.9v.9h-.9zM46.3 58.3h.9v.9h-.9zM45.5 74.8h.9v.9h-.9zM45.7 57.0h.9v.9h-.9zM42.9 59.0h.9v.9h-.9zM42.9 71.5h.9v.9h-.9zM44.7 59.8h.9v.9h-.9zM37.4 59.5h.9v.9h-.9zM43.6 77.5h.9v.9h-.9zM41.3 72.0h.9v.9h-.9zM42.8 68.1h.9v.9h-.9zM46.2 57.4h.9v.9h-.9zM39.7 61.0h.9v.9h-.9zM38.7 77.3h.9v.9h-.9zM44.1 71.8h.9v.9h-.9zM36.4 55.2h.9v.9h-.9zM35.4 69.1h.9v.9h-.9zM36.8 63.5h.9v.9h-.9zM40.2 71.1h.9v.9h-.9zM42.8 61.6h.9v.9h-.9zM42.2 59.5h.9v.9h-.9zM37.4 57.2h.9v.9h-.9zM49.9 62.1h.9v.9h-.9zM48.7 73.6h.9v.9h-.9zM37.7 73.9h.9v.9h-.9zM36.1 70.6h.9v.9h-.9zM36.1 72.4h.9v.9h-.9zM45.9 59.7h.9v.9h-.9zM46.2 63.5h.9v.9h-.9zM38.9 74.0h.9v.9h-.9zM40.5 74.4h.9v.9h-.9zM45.5 63.5h.9v.9h-.9zM34.5 72.8h.9v.9h-.9zM48.1 75.7h.9v.9h-.9zM36.3 78.5h.9v.9h-.9zM36.0 61.8h.9v.9h-.9zM44.2 70.4h.9v.9h-.9zM36.8 65.4h.9v.9h-.9zM43.5 66.6h.9v.9h-.9zM43.9 64.4h.9v.9h-.9zM35.3 61.1h.9v.9h-.9zM37.1 56.1h.9v.9h-.9zM46.1 70.3h.9v.9h-.9zM41.7 70.7h.9v.9h-.9zM40.4 74.5h.9v.9h-.9zM41.0 58.1h.9v.9h-.9zM40.6 63.0h.9v.9h-.9zM39.6 67.6h.9v.9h-.9zM36.5 74.9h.9v.9h-.9zM44.2 65.1h.9v.9h-.9zM40.4 58.8h.9v.9h-.9zM39.6 68.5h.9v.9h-.9zM38.8 75.6h.9v.9h-.9zM38.9 75.9h.9v.9h-.9zM41.0 75.2h.9v.9h-.9zM36.1 64.8h.9v.9h-.9zM34.4 60.7h.9v.9h-.9zM39.4 71.9h.9v.9h-.9zM37.2 71.9h.9v.9h-.9zM40.6 72.3h.9v.9h-.9zM40.7 65.0h.9v.9h-.9zM35.7 61.5h.9v.9h-.9zM41.0 62.7h.9v.9h-.9zM41.4 74.7h.9v.9h-.9zM37.6 75.9h.9v.9h-.9zM38.2 63.5h.9v.9h-.9zM43.3 74.1h.9v.9h-.9zM36.9 64.4h.9v.9h-.9zM37.2 66.1h.9v.9h-.9zM49.1 66.5h.9v.9h-.9zM39.1 60.8h.9v.9h-.9zM41.2 64.5h.9v.9h-.9zM43.6 61.0h.9v.9h-.9zM40.2 60.6h.9v.9h-.9zM44.9 65.4h.9v.9h-.9zM36.8 55.7h.9v.9h-.9zM34.7 73.4h.9v.9h-.9zM39.5 59.3h.9v.9h-.9zM36.2 65.2h.9v.9h-.9zM41.2 71.4h.9v.9h-.9zM38.5 61.7h.9v.9h-.9zM41.2 62.9h.9v.9h-.9zM41.0 68.7h.9v.9h-.9zM39.6 67.9h.9v.9h-.9zM47.7 74.8h.9v.9h-.9zM42.5 72.6h.9v.9h-.9zM42.4 58.0h.9v.9h-.9zM47.0 75.1h.9v.9h-.9zM34.4 67.8h.9v.9h-.9zM37.6 70.2h.9v.9h-.9zM39.4 60.5h.9v.9h-.9zM42.6 66.6h.9v.9h-.9zM34.9 70.8h.9v.9h-.9zM44.5 72.7h.9v.9h-.9zM35.4 74.7h.9v.9h-.9zM34.6 60.7h.9v.9h-.9zM40.1 72.9h.9v.9h-.9zM38.3 66.3h.9v.9h-.9zM35.8 69.1h.9v.9h-.9zM41.8 72.0h.9v.9h-.9zM42.1 64.2h.9v.9h-.9zM46.3 75.2h.9v.9h-.9zM36.0 71.3h.9v.9h-.9zM45.8 72.5h.9v.9h-.9zM35.4 64.3h.9v.9h-.9zM42.8 66.8h.9v.9h-.9zM48.8 57.9h.9v.9h-.9zM43.8 73.1h.9v.9h-.9zM35.8 73.3h.9v.9h-.9zM42.9 57.3h.9v.9h-.9zM44.1 69.7h.9v.9h-.9zM44.4 70.1h.9v.9h-.9zM39.3 57.5h.9v.9h-.9zM48.5 76.3h.9v.9h-.9zM36.3 65.8h.9v.9h-.9zM36.1 59.6h.9v.9h-.9zM40.0 55.3h.9v.9h-.9zM36.5 70.8h.9v.9h-.9zM36.9 62.4h.9v.9h-.9zM36.2 64.0h.9v.9h-.9zM40.3 59.7h.9v.9h-.9zM47.2 87.1h.9v.9h-.9zM46.0 82.4h.9v.9h-.9zM35.0 84.2h.9v.9h-.9zM50.5 94.2h.9v.9h-.9zM40.0 95.2h.9v.9h-.9zM40.9 97.1h.9v.9h-.9zM46.1 85.3h.9v.9h-.9zM48.2 83.4h.9v.9h-.9zM36.9 79.3h.9v.9h-.9zM44.7 87.7h.9v.9h-.9zM42.5 85.5h.9v.9h-.9zM52.3 85.5h.9v.9h-.9zM38.3 95.5h.9v.9h-.9zM52.2 90.0h.9v.9h-.9zM36.9 84.4h.9v.9h-.9zM47.0 88.1h.9v.9h-.9zM53.1 79.8h.9v.9h-.9zM47.4 84.2h.9v.9h-.9zM51.6 87.5h.9v.9h-.9zM49.7 84.1h.9v.9h-.9zM34.8 81.3h.9v.9h-.9zM39.1 81.9h.9v.9h-.9zM50.8 96.0h.9v.9h-.9zM44.8 81.8h.9v.9h-.9zM42.2 83.9h.9v.9h-.9zM52.5 89.9h.9v.9h-.9zM46.2 85.6h.9v.9h-.9zM38.7 83.4h.9v.9h-.9zM35.7 90.2h.9v.9h-.9zM43.6 83.2h.9v.9h-.9zM40.5 97.4h.9v.9h-.9zM36.8 82.5h.9v.9h-.9zM41.5 83.8h.9v.9h-.9zM40.2 91.2h.9v.9h-.9zM54.3 77.3h.9v.9h-.9zM42.9 88.2h.9v.9h-.9zM42.5 86.9h.9v.9h-.9zM40.8 94.0h.9v.9h-.9zM40.0 87.2h.9v.9h-.9zM43.0 88.6h.9v.9h-.9zM41.9 94.0h.9v.9h-.9zM42.9 89.0h.9v.9h-.9zM42.7 82.0h.9v.9h-.9zM37.6 81.7h.9v.9h-.9zM44.3 83.7h.9v.9h-.9zM36.1 89.4h.9v.9h-.9zM46.4 77.4h.9v.9h-.9zM54.0 88.2h.9v.9h-.9zM42.3 94.4h.9v.9h-.9zM43.5 84.4h.9v.9h-.9zM57.3 81.6h.9v.9h-.9zM42.4 93.1h.9v.9h-.9zM36.0 87.4h.9v.9h-.9zM45.5 102.4h.9v.9h-.9zM37.2 87.7h.9v.9h-.9zM47.3 88.5h.9v.9h-.9zM35.2 90.4h.9v.9h-.9zM43.7 90.7h.9v.9h-.9zM50.4 94.1h.9v.9h-.9zM45.7 89.9h.9v.9h-.9zM35.9 87.2h.9v.9h-.9zM44.4 85.6h.9v.9h-.9zM43.6 83.0h.9v.9h-.9zM53.0 100.9h.9v.9h-.9zM40.5 90.4h.9v.9h-.9zM41.5 95.6h.9v.9h-.9zM45.8 88.5h.9v.9h-.9zM41.5 88.8h.9v.9h-.9zM36.5 92.1h.9v.9h-.9zM38.4 91.2h.9v.9h-.9zM43.8 94.6h.9v.9h-.9zM42.9 94.1h.9v.9h-.9zM37.0 91.7h.9v.9h-.9zM41.5 89.2h.9v.9h-.9zM43.5 93.6h.9v.9h-.9zM38.7 89.9h.9v.9h-.9zM35.3 95.2h.9v.9h-.9zM38.4 82.0h.9v.9h-.9zM36.5 97.8h.9v.9h-.9zM34.6 88.7h.9v.9h-.9zM39.5 77.2h.9v.9h-.9zM40.8 92.0h.9v.9h-.9zM41.8 93.6h.9v.9h-.9zM40.6 88.0h.9v.9h-.9zM40.5 90.1h.9v.9h-.9zM55.3 90.2h.9v.9h-.9zM44.3 84.3h.9v.9h-.9zM38.1 96.8h.9v.9h-.9zM35.8 82.5h.9v.9h-.9zM42.4 85.4h.9v.9h-.9zM55.7 73.8h.9v.9h-.9zM45.3 92.3h.9v.9h-.9zM35.7 84.1h.9v.9h-.9zM45.8 97.8h.9v.9h-.9zM37.0 78.5h.9v.9h-.9zM49.3 97.1h.9v.9h-.9zM40.8 74.7h.9v.9h-.9zM52.4 86.8h.9v.9h-.9zM50.3 87.7h.9v.9h-.9zM40.6 85.3h.9v.9h-.9zM52.6 96.6h.9v.9h-.9zM39.5 82.4h.9v.9h-.9zM54.6 85.8h.9v.9h-.9zM34.4 88.0h.9v.9h-.9zM42.3 87.4h.9v.9h-.9zM39.9 86.1h.9v.9h-.9zM40.0 90.0h.9v.9h-.9zM37.7 86.3h.9v.9h-.9zM42.1 95.8h.9v.9h-.9zM45.4 87.3h.9v.9h-.9zM46.5 90.4h.9v.9h-.9zM50.1 91.0h.9v.9h-.9zM54.7 96.1h.9v.9h-.9zM42.7 85.5h.9v.9h-.9zM48.7 91.1h.9v.9h-.9zM42.4 79.1h.9v.9h-.9zM37.5 90.1h.9v.9h-.9zM48.0 92.8h.9v.9h-.9zM34.6 94.2h.9v.9h-.9zM39.5 90.3h.9v.9h-.9zM45.7 83.2h.9v.9h-.9zM39.2 75.6h.9v.9h-.9zM37.0 77.2h.9v.9h-.9zM45.8 88.4h.9v.9h-.9zM48.9 90.1h.9v.9h-.9zM38.9 90.1h.9v.9h-.9zM40.5 91.7h.9v.9h-.9zM45.0 82.1h.9v.9h-.9zM43.0 88.3h.9v.9h-.9zM41.0 93.4h.9v.9h-.9zM54.1 85.8h.9v.9h-.9zM40.7 74.5h.9v.9h-.9zM42.2 85.4h.9v.9h-.9zM39.6 89.7h.9v.9h-.9zM46.8 83.6h.9v.9h-.9zM40.6 82.2h.9v.9h-.9zM48.0 78.9h.9v.9h-.9zM41.0 99.7h.9v.9h-.9zM43.3 90.8h.9v.9h-.9zM42.0 81.0h.9v.9h-.9zM42.8 90.4h.9v.9h-.9zM36.4 90.0h.9v.9h-.9zM51.1 94.4h.9v.9h-.9zM35.9 82.1h.9v.9h-.9zM36.1 94.4h.9v.9h-.9zM47.0 92.2h.9v.9h-.9zM37.3 81.0h.9v.9h-.9zM43.5 88.6h.9v.9h-.9zM37.4 88.9h.9v.9h-.9zM47.2 89.4h.9v.9h-.9zM36.2 75.3h.9v.9h-.9zM41.3 89.0h.9v.9h-.9zM41.3 85.4h.9v.9h-.9zM38.5 92.3h.9v.9h-.9zM42.7 88.7h.9v.9h-.9zM36.7 84.3h.9v.9h-.9zM44.1 82.0h.9v.9h-.9zM34.8 86.0h.9v.9h-.9zM50.8 89.1h.9v.9h-.9zM52.5 87.2h.9v.9h-.9zM41.0 79.6h.9v.9h-.9zM39.3 96.6h.9v.9h-.9zM45.1 92.4h.9v.9h-.9zM47.6 87.9h.9v.9h-.9zM41.7 88.7h.9v.9h-.9zM47.4 90.7h.9v.9h-.9zM46.2 88.9h.9v.9h-.9zM38.0 86.4h.9v.9h-.9zM36.9 94.0h.9v.9h-.9zM39.3 86.7h.9v.9h-.9zM58.5 86.0h.9v.9h-.9zM35.6 87.9h.9v.9h-.9zM51.4 87.0h.9v.9h-.9zM47.0 88.6h.9v.9h-.9zM40.6 106.9h.9v.9h-.9zM43.5 84.8h.9v.9h-.9zM39.8 90.3h.9v.9h-.9zM45.7 92.6h.9v.9h-.9zM43.9 79.4h.9v.9h-.9zM46.5 86.1h.9v.9h-.9zM41.1 79.1h.9v.9h-.9zM39.3 83.6h.9v.9h-.9zM42.8 79.3h.9v.9h-.9zM43.3 88.7h.9v.9h-.9zM35.7 84.3h.9v.9h-.9zM37.4 93.4h.9v.9h-.9zM42.0 85.9h.9v.9h-.9zM36.4 85.4h.9v.9h-.9zM48.5 84.2h.9v.9h-.9zM43.9 82.9h.9v.9h-.9zM55.6 93.5h.9v.9h-.9zM50.3 80.0h.9v.9h-.9zM35.8 94.5h.9v.9h-.9zM41.7 86.5h.9v.9h-.9zM45.2 80.5h.9v.9h-.9zM48.0 88.1h.9v.9h-.9zM46.1 84.0h.9v.9h-.9zM46.3 83.8h.9v.9h-.9zM49.2 94.8h.9v.9h-.9zM48.9 91.1h.9v.9h-.9zM47.1 71.8h.9v.9h-.9zM48.4 86.4h.9v.9h-.9zM43.6 86.3h.9v.9h-.9zM34.6 84.8h.9v.9h-.9zM47.3 96.5h.9v.9h-.9zM39.0 82.6h.9v.9h-.9zM52.4 82.7h.9v.9h-.9zM56.5 88.3h.9v.9h-.9zM37.3 93.9h.9v.9h-.9zM54.0 79.4h.9v.9h-.9zM53.1 86.3h.9v.9h-.9zM52.7 85.7h.9v.9h-.9zM35.9 91.0h.9v.9h-.9zM49.0 100.6h.9v.9h-.9zM54.2 92.2h.9v.9h-.9zM41.5 84.9h.9v.9h-.9zM41.1 83.0h.9v.9h-.9zM41.2 72.7h.9v.9h-.9zM44.2 87.8h.9v.9h-.9zM59.7 92.6h.9v.9h-.9zM39.9 91.4h.9v.9h-.9zM35.0 84.4h.9v.9h-.9zM37.7 96.6h.9v.9h-.9zM46.9 80.9h.9v.9h-.9zM42.6 93.7h.9v.9h-.9zM46.2 90.3h.9v.9h-.9zM37.4 84.2h.9v.9h-.9zM43.6 93.5h.9v.9h-.9zM37.6 81.3h.9v.9h-.9zM50.4 82.4h.9v.9h-.9zM50.0 89.5h.9v.9h-.9zM48.7 98.5h.9v.9h-.9zM47.5 92.7h.9v.9h-.9zM37.0 83.8h.9v.9h-.9zM47.2 97.2h.9v.9h-.9zM52.0 101.9h.9v.9h-.9zM45.0 89.2h.9v.9h-.9zM49.5 88.1h.9v.9h-.9zM42.6 81.7h.9v.9h-.9zM49.4 81.6h.9v.9h-.9zM46.3 79.5h.9v.9h-.9zM50.1 81.8h.9v.9h-.9zM48.5 78.5h.9v.9h-.9zM40.1 95.1h.9v.9h-.9zM37.8 88.4h.9v.9h-.9zM39.9 74.1h.9v.9h-.9zM45.0 90.6h.9v.9h-.9zM35.8 91.4h.9v.9h-.9zM37.8 82.0h.9v.9h-.9zM43.0 83.9h.9v.9h-.9zM57.9 78.7h.9v.9h-.9zM47.8 93.9h.9v.9h-.9zM38.5 77.6h.9v.9h-.9zM46.7 85.1h.9v.9h-.9zM45.5 94.8h.9v.9h-.9zM40.6 81.6h.9v.9h-.9zM43.3 89.2h.9v.9h-.9zM37.0 89.9h.9v.9h-.9zM44.5 79.7h.9v.9h-.9zM54.2 94.5h.9v.9h-.9zM48.5 80.9h.9v.9h-.9zM40.4 84.7h.9v.9h-.9zM40.3 81.3h.9v.9h-.9zM45.8 89.4h.9v.9h-.9zM45.4 85.0h.9v.9h-.9zM51.4 89.1h.9v.9h-.9zM43.4 84.2h.9v.9h-.9zM42.6 93.8h.9v.9h-.9zM41.0 86.5h.9v.9h-.9zM38.7 92.0h.9v.9h-.9zM40.1 84.4h.9v.9h-.9zM38.2 91.3h.9v.9h-.9zM39.5 77.9h.9v.9h-.9zM47.0 83.8h.9v.9h-.9zM45.3 90.2h.9v.9h-.9zM50.8 94.3h.9v.9h-.9zM39.3 87.0h.9v.9h-.9zM34.6 98.1h.9v.9h-.9zM45.9 96.4h.9v.9h-.9zM40.9 75.7h.9v.9h-.9zM53.0 88.6h.9v.9h-.9zM43.9 88.3h.9v.9h-.9zM47.2 91.2h.9v.9h-.9zM35.9 94.5h.9v.9h-.9zM39.6 85.2h.9v.9h-.9zM54.2 93.5h.9v.9h-.9zM40.8 76.9h.9v.9h-.9zM44.1 91.2h.9v.9h-.9zM42.5 80.5h.9v.9h-.9zM37.9 80.5h.9v.9h-.9zM44.4 92.9h.9v.9h-.9zM49.7 83.6h.9v.9h-.9zM44.5 91.3h.9v.9h-.9zM39.7 87.1h.9v.9h-.9zM56.8 89.2h.9v.9h-.9zM48.7 85.4h.9v.9h-.9zM43.3 77.7h.9v.9h-.9zM42.8 95.2h.9v.9h-.9zM56.6 95.2h.9v.9h-.9zM47.5 88.3h.9v.9h-.9zM39.1 87.0h.9v.9h-.9zM47.0 83.3h.9v.9h-.9zM49.1 82.1h.9v.9h-.9zM37.2 81.9h.9v.9h-.9zM36.4 79.8h.9v.9h-.9zM50.4 86.8h.9v.9h-.9zM44.4 94.9h.9v.9h-.9zM51.2 85.0h.9v.9h-.9zM51.6 90.3h.9v.9h-.9zM43.0 90.7h.9v.9h-.9zM34.9 83.3h.9v.9h-.9zM42.3 91.7h.9v.9h-.9zM40.6 87.2h.9v.9h-.9zM49.3 96.5h.9v.9h-.9zM48.0 95.6h.9v.9h-.9zM40.4 86.2h.9v.9h-.9zM45.1 86.2h.9v.9h-.9zM39.7 97.9h.9v.9h-.9zM41.7 82.2h.9v.9h-.9zM46.2 99.0h.9v.9h-.9zM43.5 95.4h.9v.9h-.9zM40.2 85.1h.9v.9h-.9zM38.5 87.1h.9v.9h-.9zM54.9 81.1h.9v.9h-.9zM53.6 81.9h.9v.9h-.9zM41.5 93.0h.9v.9h-.9zM47.1 89.7h.9v.9h-.9zM36.3 90.2h.9v.9h-.9zM36.4 103.4h.9v.9h-.9zM41.6 89.1h.9v.9h-.9zM35.5 85.1h.9v.9h-.9zM34.6 93.9h.9v.9h-.9zM41.3 91.4h.9v.9h-.9zM38.6 85.0h.9v.9h-.9zM51.4 82.2h.9v.9h-.9zM37.3 90.4h.9v.9h-.9zM35.6 85.4h.9v.9h-.9zM48.9 83.1h.9v.9h-.9zM48.7 83.9h.9v.9h-.9zM52.7 96.0h.9v.9h-.9zM39.9 86.7h.9v.9h-.9zM37.6 89.2h.9v.9h-.9zM50.5 79.3h.9v.9h-.9zM49.0 80.1h.9v.9h-.9zM37.4 77.3h.9v.9h-.9zM56.7 88.4h.9v.9h-.9zM44.6 83.9h.9v.9h-.9zM49.9 75.4h.9v.9h-.9zM43.2 101.2h.9v.9h-.9zM40.5 88.1h.9v.9h-.9zM47.4 83.1h.9v.9h-.9zM43.1 93.8h.9v.9h-.9zM44.3 90.2h.9v.9h-.9zM40.7 89.9h.9v.9h-.9zM43.4 96.7h.9v.9h-.9zM47.7 86.5h.9v.9h-.9zM41.5 92.3h.9v.9h-.9zM47.9 82.5h.9v.9h-.9zM38.6 81.1h.9v.9h-.9zM49.0 81.6h.9v.9h-.9zM40.0 89.3h.9v.9h-.9zM51.0 87.9h.9v.9h-.9zM42.3 84.7h.9v.9h-.9zM53.6 94.4h.9v.9h-.9zM42.4 79.6h.9v.9h-.9zM37.9 91.5h.9v.9h-.9zM38.3 93.4h.9v.9h-.9zM45.3 89.8h.9v.9h-.9zM47.2 91.0h.9v.9h-.9zM37.4 86.0h.9v.9h-.9zM58.2 80.8h.9v.9h-.9zM39.9 94.4h.9v.9h-.9zM42.0 83.1h.9v.9h-.9zM34.4 91.2h.9v.9h-.9zM49.6 96.4h.9v.9h-.9zM43.3 94.3h.9v.9h-.9zM36.3 89.0h.9v.9h-.9zM38.6 89.0h.9v.9h-.9zM47.9 94.4h.9v.9h-.9zM36.6 95.6h.9v.9h-.9zM39.9 81.8h.9v.9h-.9zM41.9 79.2h.9v.9h-.9zM43.0 89.7h.9v.9h-.9zM41.7 91.2h.9v.9h-.9zM41.0 88.0h.9v.9h-.9zM35.0 88.3h.9v.9h-.9zM37.5 85.3h.9v.9h-.9zM42.4 89.1h.9v.9h-.9zM36.3 78.6h.9v.9h-.9zM41.0 90.8h.9v.9h-.9zM45.3 93.4h.9v.9h-.9zM51.5 91.0h.9v.9h-.9zM42.9 81.8h.9v.9h-.9zM36.9 85.2h.9v.9h-.9zM44.7 89.3h.9v.9h-.9zM43.0 87.1h.9v.9h-.9zM47.1 89.2h.9v.9h-.9zM44.9 89.9h.9v.9h-.9zM39.4 81.8h.9v.9h-.9zM46.2 90.5h.9v.9h-.9zM41.6 85.5h.9v.9h-.9zM57.8 83.4h.9v.9h-.9zM41.6 89.6h.9v.9h-.9zM35.5 88.7h.9v.9h-.9zM54.7 93.6h.9v.9h-.9zM47.1 91.6h.9v.9h-.9zM43.7 93.8h.9v.9h-.9zM42.0 85.5h.9v.9h-.9zM43.7 93.4h.9v.9h-.9zM45.1 92.0h.9v.9h-.9zM38.8 95.2h.9v.9h-.9zM58.2 96.0h.9v.9h-.9zM40.9 82.9h.9v.9h-.9zM44.8 82.1h.9v.9h-.9zM47.7 84.8h.9v.9h-.9zM49.2 96.2h.9v.9h-.9zM38.8 89.8h.9v.9h-.9zM38.5 79.5h.9v.9h-.9zM39.0 86.7h.9v.9h-.9zM49.7 78.9h.9v.9h-.9zM49.8 100.1h.9v.9h-.9zM46.9 91.3h.9v.9h-.9zM42.9 80.9h.9v.9h-.9zM46.5 90.3h.9v.9h-.9zM47.8 103.4h.9v.9h-.9zM47.7 90.6h.9v.9h-.9zM53.2 79.9h.9v.9h-.9zM35.6 85.7h.9v.9h-.9zM38.7 92.2h.9v.9h-.9zM40.9 98.4h.9v.9h-.9zM52.9 92.6h.9v.9h-.9zM40.5 91.7h.9v.9h-.9zM48.3 81.6h.9v.9h-.9zM45.3 92.2h.9v.9h-.9zM44.4 97.4h.9v.9h-.9zM50.9 83.0h.9v.9h-.9zM43.8 83.0h.9v.9h-.9zM46.8 82.8h.9v.9h-.9zM49.0 90.3h.9v.9h-.9zM49.3 87.1h.9v.9h-.9zM35.1 98.6h.9v.9h-.9zM41.9 96.3h.9v.9h-.9zM45.8 92.0h.9v.9h-.9zM54.9 90.0h.9v.9h-.9zM52.1 79.1h.9v.9h-.9zM48.7 86.5h.9v.9h-.9zM42.1 88.1h.9v.9h-.9zM45.3 97.9h.9v.9h-.9zM37.6 88.3h.9v.9h-.9zM38.3 95.0h.9v.9h-.9zM40.2 90.7h.9v.9h-.9zM40.4 92.0h.9v.9h-.9zM49.6 85.6h.9v.9h-.9zM43.3 79.5h.9v.9h-.9zM45.0 93.1h.9v.9h-.9zM39.4 94.7h.9v.9h-.9zM39.1 76.9h.9v.9h-.9zM34.6 85.1h.9v.9h-.9zM43.1 87.5h.9v.9h-.9zM42.6 92.3h.9v.9h-.9zM39.9 80.4h.9v.9h-.9zM34.9 100.7h.9v.9h-.9zM40.9 86.9h.9v.9h-.9zM52.5 90.9h.9v.9h-.9zM37.6 88.0h.9v.9h-.9zM48.6 95.2h.9v.9h-.9zM37.2 92.6h.9v.9h-.9zM44.6 94.6h.9v.9h-.9zM52.0 85.9h.9v.9h-.9zM35.0 90.4h.9v.9h-.9zM54.5 92.1h.9v.9h-.9zM44.5 102.4h.9v.9h-.9zM36.2 93.4h.9v.9h-.9zM39.3 88.3h.9v.9h-.9zM43.6 97.1h.9v.9h-.9zM36.9 84.8h.9v.9h-.9zM36.0 90.9h.9v.9h-.9zM40.0 90.5h.9v.9h-.9zM36.0 85.8h.9v.9h-.9zM49.8 87.0h.9v.9h-.9zM47.1 91.2h.9v.9h-.9zM40.7 78.6h.9v.9h-.9zM49.4 89.0h.9v.9h-.9zM49.4 75.9h.9v.9h-.9zM36.4 75.1h.9v.9h-.9zM37.3 94.3h.9v.9h-.9zM46.7 87.8h.9v.9h-.9zM43.9 92.6h.9v.9h-.9zM41.0 90.4h.9v.9h-.9zM43.9 74.9h.9v.9h-.9zM40.5 96.2h.9v.9h-.9zM40.4 87.1h.9v.9h-.9zM39.1 85.1h.9v.9h-.9zM50.3 86.4h.9v.9h-.9zM36.4 69.3h.9v.9h-.9zM39.3 76.2h.9v.9h-.9zM37.5 92.8h.9v.9h-.9zM47.6 76.5h.9v.9h-.9zM48.5 90.8h.9v.9h-.9zM37.9 92.4h.9v.9h-.9zM36.2 80.8h.9v.9h-.9zM35.0 81.3h.9v.9h-.9zM48.7 80.0h.9v.9h-.9zM35.5 82.3h.9v.9h-.9zM44.3 86.0h.9v.9h-.9zM48.6 83.7h.9v.9h-.9zM34.6 85.0h.9v.9h-.9zM43.2 82.4h.9v.9h-.9zM44.8 98.9h.9v.9h-.9zM39.2 88.2h.9v.9h-.9zM51.7 84.1h.9v.9h-.9zM37.4 81.4h.9v.9h-.9zM45.5 91.0h.9v.9h-.9zM41.9 88.2h.9v.9h-.9zM51.2 93.1h.9v.9h-.9zM34.8 87.8h.9v.9h-.9zM43.5 92.2h.9v.9h-.9zM41.4 84.0h.9v.9h-.9zM39.9 77.2h.9v.9h-.9zM42.7 84.3h.9v.9h-.9zM45.8 81.7h.9v.9h-.9zM40.0 81.9h.9v.9h-.9zM35.9 92.0h.9v.9h-.9zM39.8 90.5h.9v.9h-.9zM35.5 88.4h.9v.9h-.9zM36.8 84.9h.9v.9h-.9zM39.5 91.3h.9v.9h-.9zM43.9 86.7h.9v.9h-.9zM48.2 88.9h.9v.9h-.9zM46.2 92.3h.9v.9h-.9zM42.3 86.0h.9v.9h-.9zM44.8 85.2h.9v.9h-.9zM45.2 94.4h.9v.9h-.9zM48.3 85.4h.9v.9h-.9zM34.4 87.4h.9v.9h-.9zM41.9 94.4h.9v.9h-.9zM40.2 86.5h.9v.9h-.9zM47.5 84.9h.9v.9h-.9zM41.7 98.0h.9v.9h-.9zM52.4 91.5h.9v.9h-.9zM44.4 81.9h.9v.9h-.9zM46.3 88.1h.9v.9h-.9zM44.1 84.6h.9v.9h-.9zM42.6 86.6h.9v.9h-.9zM44.7 96.3h.9v.9h-.9zM45.0 77.8h.9v.9h-.9zM36.4 78.2h.9v.9h-.9zM37.5 91.1h.9v.9h-.9zM45.3 84.1h.9v.9h-.9zM44.4 83.2h.9v.9h-.9zM35.1 79.3h.9v.9h-.9zM37.1 96.2h.9v.9h-.9zM34.6 95.2h.9v.9h-.9zM51.3 86.6h.9v.9h-.9zM42.4 84.0h.9v.9h-.9zM42.5 91.6h.9v.9h-.9zM42.7 93.7h.9v.9h-.9zM50.4 89.8h.9v.9h-.9zM44.8 87.3h.9v.9h-.9zM44.9 81.0h.9v.9h-.9zM45.3 88.9h.9v.9h-.9zM37.1 100.6h.9v.9h-.9zM36.4 82.5h.9v.9h-.9zM44.5 76.1h.9v.9h-.9zM37.5 78.6h.9v.9h-.9zM36.4 86.9h.9v.9h-.9zM44.7 94.3h.9v.9h-.9zM47.9 94.8h.9v.9h-.9zM46.5 84.9h.9v.9h-.9zM49.9 84.8h.9v.9h-.9zM38.7 96.8h.9v.9h-.9zM47.8 89.0h.9v.9h-.9zM47.5 92.9h.9v.9h-.9zM34.8 87.1h.9v.9h-.9zM35.0 88.4h.9v.9h-.9zM38.3 95.8h.9v.9h-.9zM46.0 82.8h.9v.9h-.9zM42.5 80.4h.9v.9h-.9zM42.9 90.9h.9v.9h-.9zM44.3 76.1h.9v.9h-.9zM40.5 90.7h.9v.9h-.9zM44.6 94.6h.9v.9h-.9zM34.3 90.8h.9v.9h-.9zM38.4 88.8h.9v.9h-.9zM45.3 91.8h.9v.9h-.9zM38.9 88.8h.9v.9h-.9zM35.0 79.2h.9v.9h-.9zM46.2 87.3h.9v.9h-.9zM36.5 82.6h.9v.9h-.9zM42.7 97.0h.9v.9h-.9zM49.4 92.4h.9v.9h-.9zM37.6 87.1h.9v.9h-.9zM45.7 90.0h.9v.9h-.9zM45.3 86.3h.9v.9h-.9zM54.0 96.5h.9v.9h-.9zM42.0 81.8h.9v.9h-.9zM56.0 84.3h.9v.9h-.9zM50.4 99.1h.9v.9h-.9zM36.5 89.4h.9v.9h-.9zM40.4 90.7h.9v.9h-.9zM44.7 99.3h.9v.9h-.9zM46.5 87.6h.9v.9h-.9zM49.9 86.0h.9v.9h-.9zM40.2 101.1h.9v.9h-.9zM37.3 84.7h.9v.9h-.9zM42.9 81.3h.9v.9h-.9zM39.7 94.0h.9v.9h-.9zM37.5 84.4h.9v.9h-.9zM40.2 81.8h.9v.9h-.9zM35.6 88.6h.9v.9h-.9zM58.2 92.1h.9v.9h-.9zM47.5 78.6h.9v.9h-.9zM42.5 80.5h.9v.9h-.9zM47.6 86.3h.9v.9h-.9zM42.9 87.1h.9v.9h-.9zM38.8 78.5h.9v.9h-.9zM46.4 79.3h.9v.9h-.9zM34.9 85.9h.9v.9h-.9zM38.0 89.2h.9v.9h-.9zM49.2 89.1h.9v.9h-.9zM43.9 87.8h.9v.9h-.9zM48.2 76.6h.9v.9h-.9zM45.0 82.0h.9v.9h-.9zM34.6 87.7h.9v.9h-.9zM40.1 91.1h.9v.9h-.9zM49.8 73.7h.9v.9h-.9zM42.1 99.4h.9v.9h-.9zM48.3 96.3h.9v.9h-.9zM43.3 79.0h.9v.9h-.9zM35.3 91.9h.9v.9h-.9zM48.8 83.3h.9v.9h-.9zM40.9 89.2h.9v.9h-.9zM37.4 85.5h.9v.9h-.9zM53.1 100.8h.9v.9h-.9zM41.9 98.6h.9v.9h-.9zM39.2 82.8h.9v.9h-.9zM40.5 93.4h.9v.9h-.9zM40.2 101.7h.9v.9h-.9zM44.8 88.8h.9v.9h-.9zM37.7 96.7h.9v.9h-.9zM40.3 86.7h.9v.9h-.9zM40.3 93.2h.9v.9h-.9zM49.1 84.0h.9v.9h-.9zM43.2 90.0h.9v.9h-.9zM48.9 88.3h.9v.9h-.9zM53.8 86.2h.9v.9h-.9zM38.7 84.9h.9v.9h-.9zM42.5 82.8h.9v.9h-.9zM49.2 89.3h.9v.9h-.9zM37.3 89.8h.9v.9h-.9zM39.1 86.0h.9v.9h-.9zM46.1 91.9h.9v.9h-.9zM37.6 93.1h.9v.9h-.9zM54.8 85.1h.9v.9h-.9zM47.5 78.3h.9v.9h-.9zM38.7 91.4h.9v.9h-.9zM42.9 88.9h.9v.9h-.9zM38.9 85.9h.9v.9h-.9zM47.9 98.0h.9v.9h-.9zM41.3 77.8h.9v.9h-.9zM50.9 91.3h.9v.9h-.9zM47.1 88.8h.9v.9h-.9zM57.8 88.1h.9v.9h-.9zM46.0 76.6h.9v.9h-.9zM38.9 83.6h.9v.9h-.9zM42.5 89.8h.9v.9h-.9zM37.8 98.1h.9v.9h-.9zM35.7 85.0h.9v.9h-.9zM44.2 80.2h.9v.9h-.9zM46.4 91.5h.9v.9h-.9zM40.8 99.2h.9v.9h-.9zM43.2 89.4h.9v.9h-.9zM36.4 77.6h.9v.9h-.9zM38.6 85.8h.9v.9h-.9zM39.7 92.3h.9v.9h-.9zM41.5 80.9h.9v.9h-.9zM37.8 95.7h.9v.9h-.9zM39.0 84.6h.9v.9h-.9zM35.5 93.1h.9v.9h-.9zM40.0 89.0h.9v.9h-.9zM39.2 94.7h.9v.9h-.9zM45.2 91.0h.9v.9h-.9zM50.7 86.5h.9v.9h-.9zM41.6 92.0h.9v.9h-.9zM45.5 86.2h.9v.9h-.9zM43.0 84.7h.9v.9h-.9zM47.3 93.3h.9v.9h-.9zM42.7 99.0h.9v.9h-.9zM35.9 86.3h.9v.9h-.9zM53.8 85.2h.9v.9h-.9zM36.3 96.1h.9v.9h-.9zM46.2 80.5h.9v.9h-.9zM47.7 81.6h.9v.9h-.9zM34.6 86.8h.9v.9h-.9zM39.6 81.1h.9v.9h-.9zM40.3 81.7h.9v.9h-.9zM43.1 87.6h.9v.9h-.9zM47.5 85.0h.9v.9h-.9zM34.6 79.8h.9v.9h-.9zM41.1 97.0h.9v.9h-.9zM48.2 83.9h.9v.9h-.9zM48.8 80.7h.9v.9h-.9zM49.3 85.4h.9v.9h-.9zM47.7 91.5h.9v.9h-.9zM40.9 89.7h.9v.9h-.9zM35.7 87.3h.9v.9h-.9zM49.8 112.4h.9v.9h-.9zM47.3 88.2h.9v.9h-.9zM36.1 94.1h.9v.9h-.9zM36.7 82.9h.9v.9h-.9zM45.0 80.5h.9v.9h-.9zM52.7 94.3h.9v.9h-.9zM39.0 84.4h.9v.9h-.9zM34.5 79.3h.9v.9h-.9zM45.6 91.5h.9v.9h-.9zM45.0 89.3h.9v.9h-.9zM39.0 89.9h.9v.9h-.9zM35.5 87.8h.9v.9h-.9zM52.3 95.7h.9v.9h-.9zM39.7 85.7h.9v.9h-.9zM51.7 98.5h.9v.9h-.9zM35.7 85.2h.9v.9h-.9zM44.2 95.1h.9v.9h-.9zM37.2 91.6h.9v.9h-.9zM40.7 102.0h.9v.9h-.9zM45.5 86.9h.9v.9h-.9zM40.5 94.1h.9v.9h-.9zM47.1 81.2h.9v.9h-.9zM44.1 79.7h.9v.9h-.9zM37.8 79.9h.9v.9h-.9zM34.5 83.6h.9v.9h-.9zM36.3 90.9h.9v.9h-.9zM47.9 86.3h.9v.9h-.9zM35.4 92.6h.9v.9h-.9zM39.1 76.1h.9v.9h-.9zM47.5 91.7h.9v.9h-.9zM49.1 86.4h.9v.9h-.9zM34.5 84.7h.9v.9h-.9zM46.4 83.1h.9v.9h-.9zM38.1 79.3h.9v.9h-.9zM35.1 92.8h.9v.9h-.9zM45.7 80.7h.9v.9h-.9zM35.7 84.3h.9v.9h-.9zM46.3 80.7h.9v.9h-.9zM41.6 74.8h.9v.9h-.9zM34.5 90.3h.9v.9h-.9zM48.6 80.8h.9v.9h-.9zM37.7 92.5h.9v.9h-.9zM40.2 84.5h.9v.9h-.9zM46.1 88.9h.9v.9h-.9zM50.0 92.5h.9v.9h-.9zM39.0 87.0h.9v.9h-.9zM42.3 79.6h.9v.9h-.9zM36.4 93.6h.9v.9h-.9zM36.2 93.7h.9v.9h-.9zM44.6 86.9h.9v.9h-.9zM46.2 90.6h.9v.9h-.9zM50.6 85.3h.9v.9h-.9zM41.2 86.3h.9v.9h-.9zM55.0 93.4h.9v.9h-.9zM36.7 85.7h.9v.9h-.9zM38.1 87.8h.9v.9h-.9zM44.1 101.6h.9v.9h-.9zM37.8 93.9h.9v.9h-.9zM45.6 83.5h.9v.9h-.9zM41.8 84.8h.9v.9h-.9zM43.1 93.8h.9v.9h-.9zM35.8 95.7h.9v.9h-.9zM40.3 96.8h.9v.9h-.9zM45.4 95.2h.9v.9h-.9zM46.4 94.3h.9v.9h-.9zM43.1 82.8h.9v.9h-.9zM47.1 92.1h.9v.9h-.9zM56.4 75.7h.9v.9h-.9zM41.5 94.2h.9v.9h-.9zM34.6 86.4h.9v.9h-.9zM56.6 96.3h.9v.9h-.9zM37.0 96.4h.9v.9h-.9zM50.5 92.5h.9v.9h-.9zM45.3 89.2h.9v.9h-.9zM37.1 84.7h.9v.9h-.9zM47.6 88.7h.9v.9h-.9zM54.8 85.8h.9v.9h-.9zM41.4 85.8h.9v.9h-.9zM44.6 90.1h.9v.9h-.9zM43.3 82.9h.9v.9h-.9zM52.5 83.8h.9v.9h-.9zM47.4 86.1h.9v.9h-.9zM35.0 96.3h.9v.9h-.9zM42.1 82.7h.9v.9h-.9zM45.6 85.7h.9v.9h-.9zM47.7 87.2h.9v.9h-.9zM39.9 100.8h.9v.9h-.9zM41.4 86.9h.9v.9h-.9zM35.8 83.4h.9v.9h-.9zM47.1 91.2h.9v.9h-.9zM42.9 83.7h.9v.9h-.9zM47.3 77.6h.9v.9h-.9zM40.6 86.4h.9v.9h-.9zM37.4 88.8h.9v.9h-.9zM38.5 83.1h.9v.9h-.9zM54.6 92.3h.9v.9h-.9zM50.7 88.2h.9v.9h-.9zM49.2 92.6h.9v.9h-.9zM50.8 102.1h.9v.9h-.9zM41.4 89.5h.9v.9h-.9zM42.6 66.8h.9v.9h-.9zM34.7 88.1h.9v.9h-.9zM47.1 84.5h.9v.9h-.9zM50.3 95.7h.9v.9h-.9zM40.3 96.5h.9v.9h-.9zM54.3 90.8h.9v.9h-.9zM36.6 96.8h.9v.9h-.9zM41.9 85.7h.9v.9h-.9zM43.7 84.8h.9v.9h-.9zM50.0 92.7h.9v.9h-.9zM50.9 91.5h.9v.9h-.9zM37.8 87.0h.9v.9h-.9zM48.7 85.6h.9v.9h-.9zM62.0 86.5h.9v.9h-.9zM39.2 94.9h.9v.9h-.9zM47.9 87.8h.9v.9h-.9zM41.5 90.6h.9v.9h-.9zM48.4 92.6h.9v.9h-.9zM41.0 90.6h.9v.9h-.9zM48.5 92.6h.9v.9h-.9zM45.7 82.7h.9v.9h-.9zM38.0 86.6h.9v.9h-.9zM44.2 93.5h.9v.9h-.9zM47.0 87.2h.9v.9h-.9zM43.2 98.6h.9v.9h-.9zM39.0 89.8h.9v.9h-.9zM53.2 90.1h.9v.9h-.9zM38.9 90.2h.9v.9h-.9zM40.5 87.3h.9v.9h-.9zM49.8 90.8h.9v.9h-.9zM41.3 93.4h.9v.9h-.9zM45.8 88.6h.9v.9h-.9zM45.0 89.5h.9v.9h-.9zM40.8 85.2h.9v.9h-.9zM43.2 82.3h.9v.9h-.9zM34.8 95.8h.9v.9h-.9zM41.4 87.9h.9v.9h-.9zM42.1 88.1h.9v.9h-.9zM43.1 88.4h.9v.9h-.9zM37.8 93.6h.9v.9h-.9zM38.5 94.2h.9v.9h-.9zM38.1 81.6h.9v.9h-.9zM49.4 87.1h.9v.9h-.9zM38.6 90.3h.9v.9h-.9zM36.2 88.5h.9v.9h-.9zM40.0 85.3h.9v.9h-.9zM38.8 91.2h.9v.9h-.9zM48.7 82.9h.9v.9h-.9zM53.5 84.4h.9v.9h-.9zM39.0 73.7h.9v.9h-.9zM53.0 87.5h.9v.9h-.9zM38.8 83.5h.9v.9h-.9zM35.9 96.1h.9v.9h-.9zM42.5 98.7h.9v.9h-.9zM41.7 73.9h.9v.9h-.9zM48.5 85.8h.9v.9h-.9zM41.5 97.4h.9v.9h-.9zM41.3 95.0h.9v.9h-.9zM43.0 83.5h.9v.9h-.9zM46.3 84.4h.9v.9h-.9zM51.0 93.8h.9v.9h-.9zM43.4 91.7h.9v.9h-.9zM46.7 86.3h.9v.9h-.9zM48.8 86.6h.9v.9h-.9zM47.0 82.3h.9v.9h-.9zM43.7 90.5h.9v.9h-.9zM37.9 85.5h.9v.9h-.9zM39.5 92.4h.9v.9h-.9zM38.3 90.7h.9v.9h-.9zM52.9 90.2h.9v.9h-.9zM36.0 88.8h.9v.9h-.9zM49.8 86.3h.9v.9h-.9zM50.3 91.7h.9v.9h-.9zM45.8 86.5h.9v.9h-.9zM39.7 86.5h.9v.9h-.9zM43.5 91.2h.9v.9h-.9zM45.8 86.3h.9v.9h-.9zM43.5 90.4h.9v.9h-.9zM36.1 83.5h.9v.9h-.9zM37.9 86.8h.9v.9h-.9zM41.3 86.5h.9v.9h-.9zM37.4 92.1h.9v.9h-.9zM44.9 78.2h.9v.9h-.9zM43.2 81.3h.9v.9h-.9zM54.2 85.4h.9v.9h-.9zM40.5 88.6h.9v.9h-.9zM41.8 87.7h.9v.9h-.9zM53.2 89.5h.9v.9h-.9zM48.5 94.9h.9v.9h-.9zM36.8 98.2h.9v.9h-.9zM47.6 93.8h.9v.9h-.9zM37.5 93.0h.9v.9h-.9zM45.8 84.9h.9v.9h-.9zM58.0 91.5h.9v.9h-.9zM41.6 89.3h.9v.9h-.9zM49.0 94.9h.9v.9h-.9zM46.9 95.4h.9v.9h-.9zM52.7 80.7h.9v.9h-.9zM40.0 82.5h.9v.9h-.9zM43.8 96.8h.9v.9h-.9zM47.4 81.8h.9v.9h-.9zM41.2 94.3h.9v.9h-.9zM39.7 87.5h.9v.9h-.9zM45.1 77.2h.9v.9h-.9zM48.2 90.2h.9v.9h-.9zM46.8 82.2h.9v.9h-.9zM38.1 84.5h.9v.9h-.9zM44.8 88.5h.9v.9h-.9zM44.0 98.9h.9v.9h-.9zM51.6 83.8h.9v.9h-.9zM38.9 98.4h.9v.9h-.9zM41.1 96.4h.9v.9h-.9zM53.5 84.9h.9v.9h-.9zM41.4 88.6h.9v.9h-.9zM37.5 82.3h.9v.9h-.9zM40.5 93.2h.9v.9h-.9zM40.2 86.9h.9v.9h-.9zM40.1 79.9h.9v.9h-.9zM52.8 74.1h.9v.9h-.9zM38.9 91.5h.9v.9h-.9zM34.5 91.7h.9v.9h-.9zM51.3 83.0h.9v.9h-.9zM44.5 81.5h.9v.9h-.9zM46.4 88.6h.9v.9h-.9zM44.5 96.3h.9v.9h-.9zM46.2 96.2h.9v.9h-.9zM47.2 80.9h.9v.9h-.9zM44.8 91.1h.9v.9h-.9zM34.9 96.1h.9v.9h-.9zM43.6 90.3h.9v.9h-.9zM37.3 88.6h.9v.9h-.9zM45.1 86.2h.9v.9h-.9zM43.6 75.4h.9v.9h-.9zM52.0 81.4h.9v.9h-.9zM39.7 82.4h.9v.9h-.9zM37.7 91.4h.9v.9h-.9zM37.2 89.8h.9v.9h-.9zM36.9 101.4h.9v.9h-.9zM46.7 99.8h.9v.9h-.9zM36.5 92.1h.9v.9h-.9zM36.9 91.6h.9v.9h-.9zM47.5 78.5h.9v.9h-.9zM35.7 81.1h.9v.9h-.9zM35.3 83.7h.9v.9h-.9zM36.9 79.4h.9v.9h-.9zM43.7 91.4h.9v.9h-.9zM34.6 84.7h.9v.9h-.9zM43.1 86.7h.9v.9h-.9zM38.5 92.9h.9v.9h-.9zM48.6 92.2h.9v.9h-.9zM41.7 100.0h.9v.9h-.9zM54.4 85.7h.9v.9h-.9zM42.3 95.2h.9v.9h-.9zM37.9 90.5h.9v.9h-.9zM43.4 83.8h.9v.9h-.9zM41.6 78.6h.9v.9h-.9zM39.5 76.1h.9v.9h-.9zM57.9 97.1h.9v.9h-.9zM51.0 89.9h.9v.9h-.9zM49.5 95.7h.9v.9h-.9zM49.7 93.6h.9v.9h-.9zM37.1 90.6h.9v.9h-.9zM39.6 81.0h.9v.9h-.9zM35.6 90.6h.9v.9h-.9zM49.9 79.8h.9v.9h-.9zM54.4 96.8h.9v.9h-.9zM40.6 85.2h.9v.9h-.9zM42.6 93.9h.9v.9h-.9zM40.5 81.4h.9v.9h-.9zM45.3 75.6h.9v.9h-.9zM43.9 95.0h.9v.9h-.9zM45.0 92.7h.9v.9h-.9zM46.2 92.4h.9v.9h-.9zM43.9 83.0h.9v.9h-.9zM41.5 87.6h.9v.9h-.9zM51.2 97.8h.9v.9h-.9zM45.7 83.5h.9v.9h-.9zM38.3 86.9h.9v.9h-.9zM52.0 90.0h.9v.9h-.9zM42.6 83.4h.9v.9h-.9zM48.7 89.7h.9v.9h-.9zM42.7 88.6h.9v.9h-.9zM54.0 87.0h.9v.9h-.9zM54.0 95.5h.9v.9h-.9zM43.3 93.3h.9v.9h-.9zM42.2 83.0h.9v.9h-.9zM41.3 82.6h.9v.9h-.9zM46.3 88.1h.9v.9h-.9zM46.7 93.0h.9v.9h-.9zM45.9 89.9h.9v.9h-.9zM37.3 89.0h.9v.9h-.9zM37.3 88.6h.9v.9h-.9zM51.9 77.8h.9v.9h-.9zM44.2 87.5h.9v.9h-.9zM37.9 91.9h.9v.9h-.9zM43.2 84.9h.9v.9h-.9zM38.3 107.3h.9v.9h-.9zM40.4 77.2h.9v.9h-.9zM36.9 85.8h.9v.9h-.9zM40.5 87.5h.9v.9h-.9zM36.2 91.2h.9v.9h-.9zM39.9 79.8h.9v.9h-.9zM37.7 85.7h.9v.9h-.9zM48.5 90.9h.9v.9h-.9zM40.8 88.1h.9v.9h-.9zM44.4 100.2h.9v.9h-.9zM39.0 90.8h.9v.9h-.9zM47.7 82.3h.9v.9h-.9zM44.2 89.0h.9v.9h-.9zM39.9 91.4h.9v.9h-.9zM49.7 94.8h.9v.9h-.9zM41.8 89.1h.9v.9h-.9zM58.3 81.4h.9v.9h-.9zM44.4 93.3h.9v.9h-.9zM44.0 91.9h.9v.9h-.9zM44.1 92.5h.9v.9h-.9zM51.3 86.7h.9v.9h-.9zM44.3 87.7h.9v.9h-.9zM40.4 87.9h.9v.9h-.9zM35.6 92.5h.9v.9h-.9zM54.1 98.2h.9v.9h-.9zM51.3 82.2h.9v.9h-.9zM52.9 83.7h.9v.9h-.9zM42.7 99.1h.9v.9h-.9zM36.0 93.0h.9v.9h-.9zM44.8 87.1h.9v.9h-.9zM37.3 90.5h.9v.9h-.9zM40.0 94.3h.9v.9h-.9zM51.0 79.7h.9v.9h-.9zM39.7 86.1h.9v.9h-.9zM35.3 81.3h.9v.9h-.9zM43.6 86.8h.9v.9h-.9zM36.3 84.8h.9v.9h-.9zM46.4 80.8h.9v.9h-.9zM37.0 97.5h.9v.9h-.9zM51.6 78.3h.9v.9h-.9zM34.4 90.3h.9v.9h-.9zM35.3 86.5h.9v.9h-.9zM40.1 91.4h.9v.9h-.9zM42.0 74.8h.9v.9h-.9zM35.0 94.1h.9v.9h-.9zM42.0 77.8h.9v.9h-.9zM46.2 92.2h.9v.9h-.9zM41.4 86.0h.9v.9h-.9zM45.8 95.3h.9v.9h-.9zM44.0 91.2h.9v.9h-.9zM42.7 85.7h.9v.9h-.9zM37.0 89.5h.9v.9h-.9zM41.0 86.5h.9v.9h-.9zM49.0 90.9h.9v.9h-.9zM48.7 78.5h.9v.9h-.9zM46.6 84.5h.9v.9h-.9zM37.7 82.9h.9v.9h-.9zM50.9 93.0h.9v.9h-.9zM38.3 81.2h.9v.9h-.9zM43.1 85.2h.9v.9h-.9zM53.8 79.2h.9v.9h-.9zM37.5 86.5h.9v.9h-.9zM43.1 88.8h.9v.9h-.9zM47.9 100.4h.9v.9h-.9zM40.8 84.7h.9v.9h-.9zM37.0 89.5h.9v.9h-.9zM48.5 86.4h.9v.9h-.9zM50.7 88.2h.9v.9h-.9zM52.8 90.0h.9v.9h-.9zM36.1 84.2h.9v.9h-.9zM35.6 77.6h.9v.9h-.9zM44.7 93.2h.9v.9h-.9zM55.7 87.7h.9v.9h-.9zM41.5 81.3h.9v.9h-.9zM49.4 90.3h.9v.9h-.9zM39.1 92.1h.9v.9h-.9zM46.6 76.8h.9v.9h-.9zM47.8 88.8h.9v.9h-.9zM40.5 85.5h.9v.9h-.9zM54.4 97.2h.9v.9h-.9zM54.9 81.1h.9v.9h-.9zM38.7 93.4h.9v.9h-.9zM35.1 83.7h.9v.9h-.9zM37.3 99.1h.9v.9h-.9zM49.9 90.8h.9v.9h-.9zM44.4 85.5h.9v.9h-.9zM40.4 91.7h.9v.9h-.9zM38.4 95.4h.9v.9h-.9zM39.8 82.8h.9v.9h-.9zM51.4 87.1h.9v.9h-.9zM46.6 85.5h.9v.9h-.9zM40.2 91.3h.9v.9h-.9zM34.4 94.5h.9v.9h-.9zM35.7 76.8h.9v.9h-.9zM45.0 90.6h.9v.9h-.9zM43.7 80.7h.9v.9h-.9zM48.8 79.2h.9v.9h-.9zM40.0 83.3h.9v.9h-.9zM40.5 93.1h.9v.9h-.9zM38.9 91.4h.9v.9h-.9zM47.5 77.7h.9v.9h-.9zM35.4 85.7h.9v.9h-.9zM39.2 89.8h.9v.9h-.9zM38.2 92.3h.9v.9h-.9zM47.8 87.0h.9v.9h-.9zM34.6 88.0h.9v.9h-.9zM39.5 91.4h.9v.9h-.9zM42.4 92.4h.9v.9h-.9zM40.2 96.7h.9v.9h-.9zM40.6 81.9h.9v.9h-.9zM46.2 78.9h.9v.9h-.9zM47.8 80.7h.9v.9h-.9zM43.6 82.5h.9v.9h-.9zM40.1 89.0h.9v.9h-.9zM42.3 85.7h.9v.9h-.9zM57.0 88.1h.9v.9h-.9zM36.7 93.6h.9v.9h-.9zM48.3 95.3h.9v.9h-.9zM54.6 82.4h.9v.9h-.9zM49.9 94.8h.9v.9h-.9zM43.0 89.5h.9v.9h-.9zM45.1 84.6h.9v.9h-.9zM54.6 77.3h.9v.9h-.9zM39.5 89.7h.9v.9h-.9zM46.7 97.8h.9v.9h-.9zM37.1 88.3h.9v.9h-.9zM48.6 80.1h.9v.9h-.9zM42.7 99.3h.9v.9h-.9zM51.6 91.2h.9v.9h-.9zM42.6 87.2h.9v.9h-.9zM45.5 86.1h.9v.9h-.9zM42.6 106.5h.9v.9h-.9zM41.6 82.2h.9v.9h-.9zM44.6 86.1h.9v.9h-.9zM41.0 87.5h.9v.9h-.9zM48.0 89.4h.9v.9h-.9zM35.2 87.2h.9v.9h-.9zM46.1 85.2h.9v.9h-.9zM50.5 92.7h.9v.9h-.9zM36.6 89.9h.9v.9h-.9zM55.9 97.4h.9v.9h-.9zM42.6 93.4h.9v.9h-.9zM38.6 79.3h.9v.9h-.9zM46.6 89.5h.9v.9h-.9zM46.3 87.9h.9v.9h-.9zM45.1 84.9h.9v.9h-.9zM46.1 93.0h.9v.9h-.9zM42.6 92.9h.9v.9h-.9zM37.0 97.9h.9v.9h-.9zM54.1 108.0h.9v.9h-.9zM45.8 100.6h.9v.9h-.9zM35.1 102.5h.9v.9h-.9zM49.4 95.1h.9v.9h-.9zM47.9 103.0h.9v.9h-.9zM47.1 96.5h.9v.9h-.9zM47.8 95.0h.9v.9h-.9zM54.4 101.5h.9v.9h-.9zM35.9 106.4h.9v.9h-.9zM52.1 98.4h.9v.9h-.9zM59.4 97.0h.9v.9h-.9zM46.2 105.7h.9v.9h-.9zM40.5 105.0h.9v.9h-.9zM43.5 100.9h.9v.9h-.9zM36.5 102.3h.9v.9h-.9zM36.2 97.1h.9v.9h-.9zM40.9 96.1h.9v.9h-.9zM55.0 95.7h.9v.9h-.9zM38.7 99.7h.9v.9h-.9zM44.0 104.2h.9v.9h-.9zM49.7 99.8h.9v.9h-.9zM41.3 101.1h.9v.9h-.9zM49.8 103.8h.9v.9h-.9zM40.4 92.8h.9v.9h-.9zM59.0 104.8h.9v.9h-.9zM45.8 102.4h.9v.9h-.9zM40.3 97.0h.9v.9h-.9zM41.7 100.1h.9v.9h-.9zM39.6 95.2h.9v.9h-.9zM41.8 103.3h.9v.9h-.9zM40.5 101.1h.9v.9h-.9zM39.1 100.2h.9v.9h-.9zM43.1 96.1h.9v.9h-.9zM36.7 102.6h.9v.9h-.9zM38.3 103.0h.9v.9h-.9zM41.1 103.5h.9v.9h-.9zM41.6 95.0h.9v.9h-.9zM43.4 99.7h.9v.9h-.9zM48.6 99.2h.9v.9h-.9zM41.2 104.4h.9v.9h-.9zM52.2 104.0h.9v.9h-.9zM51.3 102.8h.9v.9h-.9zM49.4 104.5h.9v.9h-.9zM46.8 101.3h.9v.9h-.9zM45.0 110.6h.9v.9h-.9zM44.1 100.1h.9v.9h-.9zM41.5 100.9h.9v.9h-.9zM45.7 96.5h.9v.9h-.9zM38.5 102.2h.9v.9h-.9zM35.8 102.0h.9v.9h-.9zM45.0 105.6h.9v.9h-.9zM55.7 102.5h.9v.9h-.9zM40.1 96.3h.9v.9h-.9zM38.5 101.2h.9v.9h-.9zM39.1 101.3h.9v.9h-.9zM43.9 103.6h.9v.9h-.9zM41.7 101.4h.9v.9h-.9zM38.8 99.1h.9v.9h-.9zM37.0 101.5h.9v.9h-.9zM54.8 101.7h.9v.9h-.9zM46.6 97.1h.9v.9h-.9zM54.0 97.9h.9v.9h-.9zM49.6 101.4h.9v.9h-.9zM37.3 105.1h.9v.9h-.9zM44.1 101.7h.9v.9h-.9zM47.2 100.9h.9v.9h-.9zM41.3 102.9h.9v.9h-.9zM41.2 101.3h.9v.9h-.9zM39.3 95.0h.9v.9h-.9zM39.3 99.0h.9v.9h-.9zM44.1 105.7h.9v.9h-.9zM36.4 101.5h.9v.9h-.9zM40.1 96.8h.9v.9h-.9zM40.5 92.0h.9v.9h-.9zM37.6 101.6h.9v.9h-.9zM44.5 100.5h.9v.9h-.9zM38.4 109.6h.9v.9h-.9zM42.9 97.6h.9v.9h-.9zM55.7 103.5h.9v.9h-.9zM41.4 105.8h.9v.9h-.9zM45.1 103.6h.9v.9h-.9zM45.6 96.9h.9v.9h-.9zM50.8 101.6h.9v.9h-.9zM36.9 97.9h.9v.9h-.9zM50.7 99.5h.9v.9h-.9zM44.3 103.6h.9v.9h-.9zM44.9 94.9h.9v.9h-.9zM48.5 104.8h.9v.9h-.9zM50.1 107.5h.9v.9h-.9zM46.5 104.1h.9v.9h-.9zM55.1 99.8h.9v.9h-.9zM56.2 107.9h.9v.9h-.9zM49.5 108.4h.9v.9h-.9zM50.0 97.5h.9v.9h-.9zM52.0 102.3h.9v.9h-.9zM46.9 101.6h.9v.9h-.9zM53.5 103.2h.9v.9h-.9zM39.1 102.9h.9v.9h-.9zM49.1 98.1h.9v.9h-.9zM41.0 99.5h.9v.9h-.9zM39.7 102.4h.9v.9h-.9zM51.1 108.6h.9v.9h-.9zM52.4 105.1h.9v.9h-.9zM52.0 106.3h.9v.9h-.9zM41.4 103.8h.9v.9h-.9zM46.3 100.5h.9v.9h-.9zM40.8 99.0h.9v.9h-.9zM42.1 96.1h.9v.9h-.9zM47.7 100.9h.9v.9h-.9zM44.7 102.4h.9v.9h-.9zM49.1 98.6h.9v.9h-.9zM43.3 94.6h.9v.9h-.9zM40.1 93.2h.9v.9h-.9zM54.8 93.7h.9v.9h-.9zM47.3 106.9h.9v.9h-.9zM40.8 107.5h.9v.9h-.9zM56.9 104.8h.9v.9h-.9zM60.6 103.5h.9v.9h-.9zM38.9 103.1h.9v.9h-.9zM40.9 95.8h.9v.9h-.9zM35.1 110.3h.9v.9h-.9zM40.2 100.9h.9v.9h-.9zM39.4 101.6h.9v.9h-.9zM42.4 99.4h.9v.9h-.9zM35.6 95.4h.9v.9h-.9zM38.9 102.2h.9v.9h-.9zM58.6 105.3h.9v.9h-.9zM56.9 103.0h.9v.9h-.9zM43.5 95.8h.9v.9h-.9zM44.1 92.5h.9v.9h-.9zM42.0 107.6h.9v.9h-.9zM46.4 105.6h.9v.9h-.9zM41.5 95.6h.9v.9h-.9zM40.8 99.5h.9v.9h-.9zM52.6 109.0h.9v.9h-.9zM39.0 99.7h.9v.9h-.9zM43.1 99.7h.9v.9h-.9zM35.5 101.5h.9v.9h-.9zM46.7 102.6h.9v.9h-.9zM35.7 100.6h.9v.9h-.9zM36.6 104.8h.9v.9h-.9zM37.0 100.0h.9v.9h-.9zM41.0 98.8h.9v.9h-.9zM36.8 94.0h.9v.9h-.9zM56.3 102.1h.9v.9h-.9zM46.1 109.5h.9v.9h-.9zM43.5 103.3h.9v.9h-.9zM44.4 105.9h.9v.9h-.9zM47.7 102.4h.9v.9h-.9zM42.4 102.2h.9v.9h-.9zM52.4 92.8h.9v.9h-.9zM43.3 99.5h.9v.9h-.9zM42.1 93.2h.9v.9h-.9zM49.3 97.7h.9v.9h-.9zM42.6 99.1h.9v.9h-.9zM36.1 99.3h.9v.9h-.9zM37.3 97.4h.9v.9h-.9zM42.0 101.1h.9v.9h-.9zM44.6 100.6h.9v.9h-.9zM59.2 102.9h.9v.9h-.9zM35.7 98.7h.9v.9h-.9zM39.6 100.4h.9v.9h-.9zM40.0 97.7h.9v.9h-.9zM55.8 101.3h.9v.9h-.9zM41.9 100.1h.9v.9h-.9zM42.7 106.7h.9v.9h-.9zM47.6 105.6h.9v.9h-.9zM46.2 102.4h.9v.9h-.9zM51.7 109.0h.9v.9h-.9zM44.4 94.3h.9v.9h-.9zM48.4 98.7h.9v.9h-.9zM36.9 98.7h.9v.9h-.9zM51.6 105.9h.9v.9h-.9zM49.3 97.0h.9v.9h-.9zM61.9 96.5h.9v.9h-.9zM43.7 95.4h.9v.9h-.9zM53.5 102.9h.9v.9h-.9zM50.5 101.5h.9v.9h-.9zM43.8 101.9h.9v.9h-.9zM37.5 105.1h.9v.9h-.9zM50.7 99.6h.9v.9h-.9zM44.2 102.4h.9v.9h-.9zM55.3 102.9h.9v.9h-.9zM44.6 99.1h.9v.9h-.9zM34.8 98.8h.9v.9h-.9zM44.8 100.2h.9v.9h-.9zM44.8 104.2h.9v.9h-.9zM47.4 102.3h.9v.9h-.9zM48.9 101.9h.9v.9h-.9zM44.1 103.1h.9v.9h-.9zM36.4 106.2h.9v.9h-.9zM35.3 104.5h.9v.9h-.9zM44.4 105.6h.9v.9h-.9zM44.6 97.4h.9v.9h-.9zM51.9 101.9h.9v.9h-.9zM45.2 101.5h.9v.9h-.9zM51.4 104.5h.9v.9h-.9zM46.0 95.0h.9v.9h-.9zM41.5 101.6h.9v.9h-.9zM56.9 102.7h.9v.9h-.9zM43.7 106.0h.9v.9h-.9zM43.6 101.1h.9v.9h-.9zM45.5 95.2h.9v.9h-.9zM51.1 102.9h.9v.9h-.9zM42.4 96.6h.9v.9h-.9zM45.9 106.8h.9v.9h-.9zM39.9 97.0h.9v.9h-.9zM47.3 94.8h.9v.9h-.9zM39.8 99.4h.9v.9h-.9zM39.6 100.1h.9v.9h-.9zM40.5 102.6h.9v.9h-.9zM42.9 98.8h.9v.9h-.9zM41.2 103.8h.9v.9h-.9zM51.1 104.8h.9v.9h-.9zM49.3 88.0h.9v.9h-.9zM37.4 100.0h.9v.9h-.9zM45.8 94.8h.9v.9h-.9zM54.4 102.4h.9v.9h-.9zM40.1 101.9h.9v.9h-.9zM42.0 98.2h.9v.9h-.9zM48.0 99.4h.9v.9h-.9zM34.5 98.7h.9v.9h-.9zM43.6 96.9h.9v.9h-.9zM53.3 96.9h.9v.9h-.9zM56.7 104.8h.9v.9h-.9zM37.8 101.8h.9v.9h-.9zM52.7 100.5h.9v.9h-.9zM36.1 101.7h.9v.9h-.9zM58.4 95.3h.9v.9h-.9zM48.3 101.3h.9v.9h-.9zM43.6 99.7h.9v.9h-.9zM42.2 105.4h.9v.9h-.9zM48.6 97.3h.9v.9h-.9zM55.4 96.1h.9v.9h-.9zM49.1 102.0h.9v.9h-.9zM52.9 102.7h.9v.9h-.9zM51.9 101.2h.9v.9h-.9zM51.3 102.7h.9v.9h-.9zM59.5 98.5h.9v.9h-.9zM52.9 103.1h.9v.9h-.9zM45.7 99.0h.9v.9h-.9zM47.6 95.4h.9v.9h-.9zM34.9 104.1h.9v.9h-.9zM35.0 107.0h.9v.9h-.9zM42.6 102.3h.9v.9h-.9zM45.0 103.0h.9v.9h-.9zM42.6 99.8h.9v.9h-.9zM43.6 105.5h.9v.9h-.9zM52.5 106.4h.9v.9h-.9zM47.1 100.5h.9v.9h-.9zM35.8 103.9h.9v.9h-.9zM50.4 99.7h.9v.9h-.9zM50.2 106.5h.9v.9h-.9zM45.2 105.5h.9v.9h-.9zM46.7 94.4h.9v.9h-.9zM41.2 99.7h.9v.9h-.9zM48.2 97.9h.9v.9h-.9zM41.5 97.5h.9v.9h-.9zM44.3 101.6h.9v.9h-.9zM75.6 75.4h.9v.9h-.9zM83.5 71.1h.9v.9h-.9zM80.6 63.5h.9v.9h-.9zM81.4 64.2h.9v.9h-.9zM79.2 73.0h.9v.9h-.9zM70.6 72.5h.9v.9h-.9zM77.6 67.8h.9v.9h-.9zM81.7 70.5h.9v.9h-.9zM77.2 68.1h.9v.9h-.9zM78.4 74.3h.9v.9h-.9zM85.9 66.1h.9v.9h-.9zM80.7 65.7h.9v.9h-.9zM71.4 76.8h.9v.9h-.9zM76.7 71.1h.9v.9h-.9zM77.9 75.7h.9v.9h-.9zM86.2 64.0h.9v.9h-.9zM79.1 75.7h.9v.9h-.9zM83.9 61.9h.9v.9h-.9zM75.8 75.4h.9v.9h-.9zM77.4 69.9h.9v.9h-.9zM85.0 62.7h.9v.9h-.9zM75.0 68.1h.9v.9h-.9zM76.8 68.8h.9v.9h-.9zM82.6 71.9h.9v.9h-.9zM76.3 69.7h.9v.9h-.9zM83.9 61.3h.9v.9h-.9zM74.2 79.3h.9v.9h-.9zM77.5 66.6h.9v.9h-.9zM82.5 73.2h.9v.9h-.9zM72.6 78.5h.9v.9h-.9zM78.3 78.4h.9v.9h-.9zM77.7 64.5h.9v.9h-.9zM79.0 75.0h.9v.9h-.9zM85.0 69.8h.9v.9h-.9zM81.3 73.9h.9v.9h-.9zM80.1 66.1h.9v.9h-.9zM78.6 63.6h.9v.9h-.9zM79.3 70.3h.9v.9h-.9zM76.7 76.0h.9v.9h-.9zM73.3 68.6h.9v.9h-.9zM73.4 79.5h.9v.9h-.9zM81.7 73.3h.9v.9h-.9zM83.6 62.6h.9v.9h-.9zM72.8 76.9h.9v.9h-.9zM82.1 64.1h.9v.9h-.9zM83.5 63.2h.9v.9h-.9zM81.8 70.9h.9v.9h-.9zM76.5 76.0h.9v.9h-.9zM77.4 63.8h.9v.9h-.9zM77.9 66.6h.9v.9h-.9zM76.8 60.1h.9v.9h-.9zM89.2 61.1h.9v.9h-.9zM79.6 67.7h.9v.9h-.9zM79.2 69.0h.9v.9h-.9zM82.3 68.5h.9v.9h-.9zM78.9 60.3h.9v.9h-.9zM80.4 69.3h.9v.9h-.9zM83.3 70.3h.9v.9h-.9zM82.1 76.8h.9v.9h-.9zM75.8 66.0h.9v.9h-.9zM78.9 72.2h.9v.9h-.9zM77.2 68.6h.9v.9h-.9zM77.5 74.2h.9v.9h-.9zM73.5 72.5h.9v.9h-.9zM70.6 78.7h.9v.9h-.9zM75.4 71.9h.9v.9h-.9zM77.5 65.9h.9v.9h-.9zM81.1 70.0h.9v.9h-.9zM75.0 75.1h.9v.9h-.9zM76.9 67.3h.9v.9h-.9zM69.9 75.9h.9v.9h-.9zM78.0 67.7h.9v.9h-.9zM73.6 77.6h.9v.9h-.9zM79.9 62.7h.9v.9h-.9zM77.6 75.3h.9v.9h-.9zM76.1 68.6h.9v.9h-.9zM86.5 62.8h.9v.9h-.9zM77.7 68.1h.9v.9h-.9zM76.4 62.9h.9v.9h-.9zM76.3 63.4h.9v.9h-.9zM82.3 77.7h.9v.9h-.9zM73.4 70.0h.9v.9h-.9zM78.9 65.6h.9v.9h-.9zM87.2 63.8h.9v.9h-.9zM78.3 63.1h.9v.9h-.9zM76.7 64.7h.9v.9h-.9zM78.3 67.6h.9v.9h-.9zM87.4 61.7h.9v.9h-.9zM76.9 65.6h.9v.9h-.9zM86.3 67.5h.9v.9h-.9zM69.8 78.7h.9v.9h-.9zM77.0 75.4h.9v.9h-.9zM77.9 77.7h.9v.9h-.9zM83.8 62.4h.9v.9h-.9zM82.5 60.3h.9v.9h-.9zM74.7 78.5h.9v.9h-.9zM72.4 74.9h.9v.9h-.9zM85.9 66.4h.9v.9h-.9zM79.0 66.1h.9v.9h-.9zM76.9 77.5h.9v.9h-.9zM77.3 75.8h.9v.9h-.9zM80.5 77.5h.9v.9h-.9zM75.6 69.8h.9v.9h-.9zM75.5 62.8h.9v.9h-.9zM84.7 70.0h.9v.9h-.9zM82.1 61.1h.9v.9h-.9zM83.6 62.2h.9v.9h-.9zM82.5 62.6h.9v.9h-.9zM85.9 64.0h.9v.9h-.9zM84.7 63.1h.9v.9h-.9zM84.1 64.6h.9v.9h-.9zM73.1 73.0h.9v.9h-.9zM82.9 73.8h.9v.9h-.9zM78.8 61.3h.9v.9h-.9zM80.7 76.5h.9v.9h-.9zM70.0 73.4h.9v.9h-.9zM80.3 77.0h.9v.9h-.9zM83.8 65.5h.9v.9h-.9zM73.1 72.5h.9v.9h-.9zM82.7 70.0h.9v.9h-.9zM78.9 72.0h.9v.9h-.9zM69.9 78.5h.9v.9h-.9zM88.3 61.4h.9v.9h-.9zM79.2 74.7h.9v.9h-.9zM74.1 76.8h.9v.9h-.9zM83.4 73.6h.9v.9h-.9zM76.4 68.4h.9v.9h-.9zM75.4 71.5h.9v.9h-.9zM86.7 63.3h.9v.9h-.9zM74.5 73.8h.9v.9h-.9zM83.8 69.9h.9v.9h-.9zM76.4 70.2h.9v.9h-.9zM79.7 72.5h.9v.9h-.9zM81.9 62.8h.9v.9h-.9zM84.2 61.2h.9v.9h-.9zM81.9 62.8h.9v.9h-.9zM81.7 62.7h.9v.9h-.9zM75.2 74.9h.9v.9h-.9zM85.6 61.1h.9v.9h-.9zM78.3 66.3h.9v.9h-.9zM82.6 70.9h.9v.9h-.9zM86.9 62.7h.9v.9h-.9zM72.8 77.1h.9v.9h-.9zM74.0 75.4h.9v.9h-.9zM77.8 65.9h.9v.9h-.9zM82.8 69.7h.9v.9h-.9zM76.5 75.8h.9v.9h-.9zM74.0 77.8h.9v.9h-.9zM80.0 74.3h.9v.9h-.9zM77.3 68.5h.9v.9h-.9zM85.7 60.7h.9v.9h-.9zM81.3 72.8h.9v.9h-.9zM74.4 73.1h.9v.9h-.9zM78.4 73.1h.9v.9h-.9zM83.1 65.4h.9v.9h-.9zM82.1 75.4h.9v.9h-.9zM77.3 69.6h.9v.9h-.9zM79.1 67.0h.9v.9h-.9zM87.0 65.0h.9v.9h-.9zM79.1 63.0h.9v.9h-.9zM81.0 75.2h.9v.9h-.9zM79.5 67.1h.9v.9h-.9zM74.3 77.1h.9v.9h-.9zM84.8 66.6h.9v.9h-.9zM78.1 69.6h.9v.9h-.9zM74.5 76.6h.9v.9h-.9zM74.5 70.8h.9v.9h-.9zM75.0 78.7h.9v.9h-.9zM80.1 71.2h.9v.9h-.9zM71.1 78.7h.9v.9h-.9zM84.2 62.9h.9v.9h-.9zM80.0 61.7h.9v.9h-.9zM87.5 59.5h.9v.9h-.9zM73.0 77.5h.9v.9h-.9zM80.8 69.3h.9v.9h-.9zM80.8 74.8h.9v.9h-.9zM74.9 69.7h.9v.9h-.9zM81.5 75.6h.9v.9h-.9zM75.1 75.7h.9v.9h-.9zM81.7 70.6h.9v.9h-.9zM78.4 62.1h.9v.9h-.9zM82.7 66.2h.9v.9h-.9zM81.9 67.1h.9v.9h-.9zM79.8 66.7h.9v.9h-.9zM84.5 71.2h.9v.9h-.9zM72.5 77.8h.9v.9h-.9zM71.9 76.8h.9v.9h-.9zM85.0 63.2h.9v.9h-.9zM83.7 61.2h.9v.9h-.9zM81.4 73.0h.9v.9h-.9zM74.6 76.3h.9v.9h-.9zM69.3 75.7h.9v.9h-.9zM74.2 78.3h.9v.9h-.9zM76.4 65.3h.9v.9h-.9zM83.5 62.0h.9v.9h-.9zM85.0 65.2h.9v.9h-.9zM80.0 68.9h.9v.9h-.9zM85.6 63.2h.9v.9h-.9zM78.6 70.0h.9v.9h-.9zM74.1 67.3h.9v.9h-.9zM76.9 72.4h.9v.9h-.9zM73.5 76.3h.9v.9h-.9zM78.7 70.5h.9v.9h-.9zM71.8 77.3h.9v.9h-.9zM72.0 77.8h.9v.9h-.9zM80.1 70.5h.9v.9h-.9zM79.5 69.3h.9v.9h-.9zM82.6 68.8h.9v.9h-.9zM85.6 65.8h.9v.9h-.9zM72.6 72.6h.9v.9h-.9zM80.8 71.7h.9v.9h-.9zM82.4 66.9h.9v.9h-.9zM79.3 70.9h.9v.9h-.9zM85.7 70.1h.9v.9h-.9zM82.2 61.4h.9v.9h-.9zM71.1 74.6h.9v.9h-.9zM75.6 69.1h.9v.9h-.9zM74.0 77.7h.9v.9h-.9zM78.1 76.3h.9v.9h-.9zM82.4 63.5h.9v.9h-.9zM85.3 65.1h.9v.9h-.9zM71.5 73.0h.9v.9h-.9zM78.3 63.4h.9v.9h-.9zM75.1 75.5h.9v.9h-.9zM81.0 70.3h.9v.9h-.9zM72.7 81.1h.9v.9h-.9zM79.6 65.9h.9v.9h-.9zM74.9 73.0h.9v.9h-.9zM82.5 70.7h.9v.9h-.9zM81.5 72.1h.9v.9h-.9zM74.2 78.1h.9v.9h-.9zM84.2 66.2h.9v.9h-.9zM78.0 64.1h.9v.9h-.9zM74.3 73.2h.9v.9h-.9zM81.6 62.0h.9v.9h-.9zM82.5 68.9h.9v.9h-.9zM74.8 79.5h.9v.9h-.9zM78.7 74.0h.9v.9h-.9zM80.6 71.5h.9v.9h-.9zM81.9 61.0h.9v.9h-.9zM70.7 80.0h.9v.9h-.9zM78.3 66.4h.9v.9h-.9zM82.3 63.7h.9v.9h-.9zM80.9 61.9h.9v.9h-.9zM76.8 63.5h.9v.9h-.9zM85.7 59.5h.9v.9h-.9zM87.3 68.2h.9v.9h-.9zM84.6 66.1h.9v.9h-.9zM78.7 66.7h.9v.9h-.9zM75.3 75.2h.9v.9h-.9zM85.6 62.9h.9v.9h-.9zM86.2 67.9h.9v.9h-.9zM75.6 74.9h.9v.9h-.9zM80.4 76.2h.9v.9h-.9zM79.6 73.1h.9v.9h-.9zM74.7 70.2h.9v.9h-.9zM81.3 62.2h.9v.9h-.9zM74.4 66.8h.9v.9h-.9zM75.0 74.2h.9v.9h-.9zM76.3 74.2h.9v.9h-.9zM82.1 70.5h.9v.9h-.9zM72.3 77.5h.9v.9h-.9zM80.4 71.3h.9v.9h-.9zM77.9 75.7h.9v.9h-.9zM75.4 75.8h.9v.9h-.9zM81.8 64.7h.9v.9h-.9zM79.4 66.3h.9v.9h-.9zM76.7 77.2h.9v.9h-.9zM81.3 63.8h.9v.9h-.9zM84.5 67.5h.9v.9h-.9zM74.7 66.9h.9v.9h-.9zM82.9 74.1h.9v.9h-.9zM87.6 59.2h.9v.9h-.9zM73.1 70.4h.9v.9h-.9zM82.5 69.9h.9v.9h-.9zM80.2 64.2h.9v.9h-.9zM78.8 69.5h.9v.9h-.9zM76.6 75.6h.9v.9h-.9zM87.9 62.8h.9v.9h-.9zM82.4 64.2h.9v.9h-.9zM81.2 71.0h.9v.9h-.9zM75.7 68.7h.9v.9h-.9zM71.9 75.7h.9v.9h-.9zM84.3 67.9h.9v.9h-.9zM88.5 62.1h.9v.9h-.9zM76.6 66.7h.9v.9h-.9zM82.6 75.5h.9v.9h-.9zM78.9 68.6h.9v.9h-.9zM83.0 68.7h.9v.9h-.9zM74.3 74.6h.9v.9h-.9zM80.9 71.5h.9v.9h-.9zM81.4 61.0h.9v.9h-.9zM86.7 66.9h.9v.9h-.9zM74.6 74.5h.9v.9h-.9zM80.0 63.3h.9v.9h-.9zM79.2 76.0h.9v.9h-.9zM75.0 66.9h.9v.9h-.9zM81.9 75.4h.9v.9h-.9zM80.9 66.0h.9v.9h-.9zM82.7 73.5h.9v.9h-.9zM72.9 73.9h.9v.9h-.9zM85.7 61.4h.9v.9h-.9zM73.1 74.6h.9v.9h-.9zM77.2 61.3h.9v.9h-.9zM82.7 59.1h.9v.9h-.9zM76.0 75.3h.9v.9h-.9zM78.8 70.2h.9v.9h-.9zM84.1 59.9h.9v.9h-.9zM75.2 71.9h.9v.9h-.9zM81.1 70.0h.9v.9h-.9zM71.0 78.2h.9v.9h-.9zM73.5 77.8h.9v.9h-.9zM79.2 73.2h.9v.9h-.9zM81.4 69.3h.9v.9h-.9zM78.7 76.2h.9v.9h-.9zM81.2 74.0h.9v.9h-.9zM84.9 63.4h.9v.9h-.9zM73.1 73.6h.9v.9h-.9zM88.5 66.1h.9v.9h-.9zM80.2 66.8h.9v.9h-.9zM82.5 62.8h.9v.9h-.9zM81.0 61.9h.9v.9h-.9zM78.4 69.0h.9v.9h-.9zM78.3 75.4h.9v.9h-.9zM68.5 77.6h.9v.9h-.9zM83.3 62.9h.9v.9h-.9zM81.1 69.5h.9v.9h-.9zM82.4 66.9h.9v.9h-.9zM84.1 63.5h.9v.9h-.9zM81.6 67.3h.9v.9h-.9zM75.1 69.8h.9v.9h-.9zM74.8 77.5h.9v.9h-.9zM81.0 62.2h.9v.9h-.9zM83.9 64.1h.9v.9h-.9zM79.5 75.7h.9v.9h-.9zM79.4 69.1h.9v.9h-.9zM82.1 67.2h.9v.9h-.9zM72.2 73.2h.9v.9h-.9zM84.8 58.7h.9v.9h-.9zM82.3 76.7h.9v.9h-.9zM84.7 63.4h.9v.9h-.9zM79.1 76.3h.9v.9h-.9zM76.7 76.6h.9v.9h-.9zM81.2 74.7h.9v.9h-.9zM80.5 69.5h.9v.9h-.9zM74.5 71.6h.9v.9h-.9zM84.6 59.9h.9v.9h-.9zM83.7 68.4h.9v.9h-.9zM79.4 71.9h.9v.9h-.9zM86.6 64.8h.9v.9h-.9zM71.8 72.8h.9v.9h-.9zM81.9 71.7h.9v.9h-.9zM81.2 74.7h.9v.9h-.9zM77.1 75.2h.9v.9h-.9zM83.6 67.4h.9v.9h-.9zM75.4 71.4h.9v.9h-.9zM82.6 60.0h.9v.9h-.9zM74.5 76.5h.9v.9h-.9zM77.5 75.6h.9v.9h-.9zM83.1 73.0h.9v.9h-.9zM80.4 73.4h.9v.9h-.9zM73.3 70.3h.9v.9h-.9zM84.3 64.9h.9v.9h-.9zM76.8 77.1h.9v.9h-.9zM78.2 64.0h.9v.9h-.9zM82.7 71.3h.9v.9h-.9zM81.3 63.6h.9v.9h-.9zM70.5 75.5h.9v.9h-.9zM78.1 69.2h.9v.9h-.9zM80.4 72.6h.9v.9h-.9zM86.7 63.1h.9v.9h-.9zM77.0 68.8h.9v.9h-.9zM80.3 72.0h.9v.9h-.9zM71.2 71.5h.9v.9h-.9zM81.6 73.0h.9v.9h-.9zM76.2 62.6h.9v.9h-.9zM84.7 67.5h.9v.9h-.9zM84.4 62.0h.9v.9h-.9zM80.4 75.0h.9v.9h-.9zM81.8 67.4h.9v.9h-.9zM77.5 73.4h.9v.9h-.9zM77.7 74.1h.9v.9h-.9zM79.5 60.1h.9v.9h-.9zM74.5 73.2h.9v.9h-.9zM72.6 75.7h.9v.9h-.9zM73.0 78.2h.9v.9h-.9zM86.6 60.3h.9v.9h-.9zM83.2 62.5h.9v.9h-.9zM81.6 67.4h.9v.9h-.9zM76.7 74.1h.9v.9h-.9zM85.5 64.1h.9v.9h-.9zM78.9 78.7h.9v.9h-.9zM71.6 73.0h.9v.9h-.9zM83.5 62.2h.9v.9h-.9zM83.0 75.1h.9v.9h-.9zM75.9 70.6h.9v.9h-.9zM84.9 61.2h.9v.9h-.9zM80.5 72.8h.9v.9h-.9zM79.5 72.8h.9v.9h-.9zM80.4 70.5h.9v.9h-.9zM86.3 65.2h.9v.9h-.9zM81.7 62.2h.9v.9h-.9zM90.1 58.6h.9v.9h-.9zM83.6 62.3h.9v.9h-.9zM78.8 66.6h.9v.9h-.9zM81.2 68.9h.9v.9h-.9zM85.2 60.8h.9v.9h-.9zM83.1 74.1h.9v.9h-.9zM82.5 61.2h.9v.9h-.9zM82.6 61.4h.9v.9h-.9zM80.6 63.9h.9v.9h-.9zM77.6 68.6h.9v.9h-.9zM76.3 69.8h.9v.9h-.9zM83.5 60.9h.9v.9h-.9zM87.9 60.2h.9v.9h-.9zM84.9 61.1h.9v.9h-.9zM79.0 65.6h.9v.9h-.9zM71.8 74.9h.9v.9h-.9zM79.7 76.0h.9v.9h-.9zM73.8 76.5h.9v.9h-.9zM78.3 77.4h.9v.9h-.9zM87.9 64.9h.9v.9h-.9zM81.1 70.8h.9v.9h-.9zM80.2 69.3h.9v.9h-.9zM83.5 65.6h.9v.9h-.9zM75.5 76.6h.9v.9h-.9zM84.0 70.9h.9v.9h-.9zM81.8 69.3h.9v.9h-.9zM76.6 66.4h.9v.9h-.9zM78.4 79.9h.9v.9h-.9zM73.3 71.9h.9v.9h-.9zM83.6 73.2h.9v.9h-.9zM73.2 73.8h.9v.9h-.9zM78.9 76.1h.9v.9h-.9zM79.2 60.3h.9v.9h-.9zM79.3 66.8h.9v.9h-.9zM75.3 77.4h.9v.9h-.9zM81.2 73.1h.9v.9h-.9zM73.1 75.0h.9v.9h-.9zM83.0 65.2h.9v.9h-.9zM78.6 79.7h.9v.9h-.9zM74.5 67.7h.9v.9h-.9zM80.8 74.4h.9v.9h-.9zM72.5 75.2h.9v.9h-.9zM83.7 70.0h.9v.9h-.9zM85.1 69.0h.9v.9h-.9zM74.1 68.8h.9v.9h-.9zM87.2 62.5h.9v.9h-.9zM84.2 60.2h.9v.9h-.9zM75.0 79.3h.9v.9h-.9zM82.0 71.4h.9v.9h-.9zM79.5 61.8h.9v.9h-.9zM74.5 73.3h.9v.9h-.9zM78.9 64.6h.9v.9h-.9zM80.8 73.5h.9v.9h-.9zM86.8 65.7h.9v.9h-.9zM81.7 60.3h.9v.9h-.9zM74.0 74.8h.9v.9h-.9zM76.0 78.6h.9v.9h-.9zM81.3 73.4h.9v.9h-.9zM69.9 78.8h.9v.9h-.9zM86.0 64.0h.9v.9h-.9zM86.9 64.7h.9v.9h-.9zM74.6 76.3h.9v.9h-.9zM77.4 69.9h.9v.9h-.9zM84.8 64.3h.9v.9h-.9zM80.1 63.5h.9v.9h-.9zM80.4 65.9h.9v.9h-.9zM81.5 74.9h.9v.9h-.9zM79.0 74.0h.9v.9h-.9zM77.3 76.7h.9v.9h-.9zM73.1 72.6h.9v.9h-.9zM80.7 72.6h.9v.9h-.9zM74.9 77.9h.9v.9h-.9zM82.7 65.6h.9v.9h-.9zM78.4 66.6h.9v.9h-.9zM80.3 77.8h.9v.9h-.9zM76.6 78.0h.9v.9h-.9zM80.9 71.7h.9v.9h-.9zM75.5 74.9h.9v.9h-.9zM79.7 70.4h.9v.9h-.9zM77.0 65.0h.9v.9h-.9zM77.9 70.9h.9v.9h-.9zM83.6 64.0h.9v.9h-.9zM78.5 61.6h.9v.9h-.9zM80.2 66.3h.9v.9h-.9zM78.3 75.4h.9v.9h-.9zM80.1 64.0h.9v.9h-.9zM81.0 62.3h.9v.9h-.9zM84.3 66.0h.9v.9h-.9zM74.5 74.9h.9v.9h-.9zM71.2 75.6h.9v.9h-.9zM80.4 63.3h.9v.9h-.9zM75.2 77.3h.9v.9h-.9zM84.4 68.0h.9v.9h-.9zM81.5 70.4h.9v.9h-.9zM78.7 74.7h.9v.9h-.9zM78.3 66.1h.9v.9h-.9zM80.4 76.1h.9v.9h-.9zM81.7 77.4h.9v.9h-.9zM73.0 68.6h.9v.9h-.9zM81.3 69.3h.9v.9h-.9zM79.4 77.4h.9v.9h-.9zM80.0 72.1h.9v.9h-.9zM85.3 69.3h.9v.9h-.9zM79.6 62.4h.9v.9h-.9zM82.1 65.7h.9v.9h-.9zM80.8 67.1h.9v.9h-.9zM73.8 74.3h.9v.9h-.9zM80.4 73.2h.9v.9h-.9zM76.0 70.1h.9v.9h-.9zM78.0 74.8h.9v.9h-.9zM80.5 71.5h.9v.9h-.9zM77.1 79.0h.9v.9h-.9zM79.2 60.7h.9v.9h-.9zM77.8 61.7h.9v.9h-.9zM80.0 76.9h.9v.9h-.9zM79.4 75.3h.9v.9h-.9zM74.6 64.3h.9v.9h-.9zM78.9 61.4h.9v.9h-.9zM83.0 60.4h.9v.9h-.9zM76.0 67.7h.9v.9h-.9zM78.9 77.6h.9v.9h-.9zM80.2 61.1h.9v.9h-.9zM88.8 62.1h.9v.9h-.9zM80.8 73.8h.9v.9h-.9zM83.0 61.8h.9v.9h-.9zM83.6 65.3h.9v.9h-.9zM80.2 74.2h.9v.9h-.9zM74.6 78.5h.9v.9h-.9zM76.2 78.5h.9v.9h-.9zM77.8 61.4h.9v.9h-.9zM74.6 68.0h.9v.9h-.9zM84.0 70.3h.9v.9h-.9zM85.5 64.6h.9v.9h-.9zM79.4 73.9h.9v.9h-.9zM77.0 65.8h.9v.9h-.9zM79.8 69.2h.9v.9h-.9zM82.8 64.6h.9v.9h-.9zM80.9 64.3h.9v.9h-.9zM74.8 74.2h.9v.9h-.9zM80.2 72.0h.9v.9h-.9zM70.6 70.3h.9v.9h-.9zM80.5 67.3h.9v.9h-.9zM74.3 73.7h.9v.9h-.9zM75.0 76.6h.9v.9h-.9zM80.6 68.6h.9v.9h-.9zM81.5 62.5h.9v.9h-.9zM84.0 66.3h.9v.9h-.9zM84.6 71.9h.9v.9h-.9zM84.3 63.4h.9v.9h-.9zM81.1 75.0h.9v.9h-.9zM83.9 63.4h.9v.9h-.9zM75.3 70.3h.9v.9h-.9zM84.3 66.0h.9v.9h-.9zM74.2 68.3h.9v.9h-.9zM82.5 66.8h.9v.9h-.9zM79.9 70.2h.9v.9h-.9zM71.7 72.9h.9v.9h-.9zM75.2 73.7h.9v.9h-.9zM83.3 66.7h.9v.9h-.9zM85.2 62.6h.9v.9h-.9zM77.8 72.4h.9v.9h-.9zM81.3 65.7h.9v.9h-.9zM86.3 65.5h.9v.9h-.9zM79.2 75.4h.9v.9h-.9zM73.5 79.3h.9v.9h-.9zM78.5 73.5h.9v.9h-.9zM83.1 63.5h.9v.9h-.9zM79.0 77.7h.9v.9h-.9zM84.5 59.0h.9v.9h-.9zM85.3 61.6h.9v.9h-.9zM73.0 75.2h.9v.9h-.9zM70.3 76.3h.9v.9h-.9zM81.6 69.8h.9v.9h-.9zM74.7 75.4h.9v.9h-.9zM78.2 72.6h.9v.9h-.9zM86.5 62.4h.9v.9h-.9zM73.1 73.1h.9v.9h-.9zM78.4 75.0h.9v.9h-.9zM75.9 70.0h.9v.9h-.9zM78.0 70.6h.9v.9h-.9zM82.6 71.8h.9v.9h-.9zM85.2 62.4h.9v.9h-.9zM79.0 77.1h.9v.9h-.9zM78.9 63.7h.9v.9h-.9zM82.3 64.0h.9v.9h-.9zM79.7 62.9h.9v.9h-.9zM72.3 68.8h.9v.9h-.9zM83.5 69.7h.9v.9h-.9zM76.4 64.9h.9v.9h-.9zM84.7 66.0h.9v.9h-.9zM74.2 68.1h.9v.9h-.9zM86.5 61.4h.9v.9h-.9zM79.0 68.7h.9v.9h-.9zM83.4 64.1h.9v.9h-.9zM84.6 62.9h.9v.9h-.9zM78.2 63.9h.9v.9h-.9zM79.9 78.0h.9v.9h-.9zM79.6 72.4h.9v.9h-.9zM75.8 81.1h.9v.9h-.9zM75.3 75.4h.9v.9h-.9zM76.7 69.2h.9v.9h-.9zM84.8 65.0h.9v.9h-.9zM78.7 70.6h.9v.9h-.9zM74.3 68.8h.9v.9h-.9zM74.4 78.4h.9v.9h-.9zM86.1 66.3h.9v.9h-.9zM79.9 79.2h.9v.9h-.9zM79.0 77.2h.9v.9h-.9zM75.5 79.1h.9v.9h-.9zM80.9 73.3h.9v.9h-.9zM78.3 74.3h.9v.9h-.9zM76.8 78.1h.9v.9h-.9zM82.1 68.9h.9v.9h-.9zM79.7 72.4h.9v.9h-.9zM88.4 60.5h.9v.9h-.9zM81.4 64.4h.9v.9h-.9zM83.4 69.5h.9v.9h-.9zM78.6 72.1h.9v.9h-.9zM79.8 63.2h.9v.9h-.9zM78.0 76.2h.9v.9h-.9zM81.4 70.2h.9v.9h-.9zM80.8 62.7h.9v.9h-.9zM79.8 60.0h.9v.9h-.9zM76.5 69.5h.9v.9h-.9zM78.3 77.7h.9v.9h-.9zM69.7 78.3h.9v.9h-.9zM72.1 74.0h.9v.9h-.9zM85.7 66.8h.9v.9h-.9zM81.4 77.3h.9v.9h-.9zM87.0 62.4h.9v.9h-.9zM84.6 65.8h.9v.9h-.9zM83.0 71.7h.9v.9h-.9zM79.8 69.5h.9v.9h-.9zM81.0 65.6h.9v.9h-.9zM79.5 72.1h.9v.9h-.9zM74.6 76.8h.9v.9h-.9zM77.2 68.6h.9v.9h-.9zM84.7 63.8h.9v.9h-.9zM82.5 66.6h.9v.9h-.9zM84.0 71.5h.9v.9h-.9zM76.6 68.8h.9v.9h-.9zM74.2 76.0h.9v.9h-.9zM72.9 68.7h.9v.9h-.9zM70.4 75.0h.9v.9h-.9zM71.6 73.1h.9v.9h-.9zM81.6 66.3h.9v.9h-.9zM84.6 68.7h.9v.9h-.9zM72.7 68.6h.9v.9h-.9zM79.1 62.3h.9v.9h-.9zM85.7 61.2h.9v.9h-.9zM79.6 59.5h.9v.9h-.9zM75.9 65.0h.9v.9h-.9zM88.0 61.3h.9v.9h-.9zM75.1 68.3h.9v.9h-.9zM81.3 65.0h.9v.9h-.9zM77.6 79.6h.9v.9h-.9zM84.1 68.1h.9v.9h-.9zM88.5 60.6h.9v.9h-.9zM78.4 72.8h.9v.9h-.9zM73.2 74.6h.9v.9h-.9zM71.1 78.3h.9v.9h-.9zM83.3 64.3h.9v.9h-.9zM80.1 66.8h.9v.9h-.9zM72.9 74.5h.9v.9h-.9zM73.2 72.7h.9v.9h-.9zM75.5 72.0h.9v.9h-.9zM72.4 79.1h.9v.9h-.9zM73.4 78.7h.9v.9h-.9zM80.6 61.8h.9v.9h-.9zM82.8 67.5h.9v.9h-.9zM75.5 76.7h.9v.9h-.9zM89.3 59.6h.9v.9h-.9zM81.8 66.4h.9v.9h-.9zM73.4 75.0h.9v.9h-.9zM87.1 63.5h.9v.9h-.9zM79.7 71.0h.9v.9h-.9zM79.8 76.4h.9v.9h-.9zM75.6 69.4h.9v.9h-.9zM87.0 62.3h.9v.9h-.9zM82.0 62.7h.9v.9h-.9zM75.7 67.2h.9v.9h-.9zM79.8 61.7h.9v.9h-.9zM75.2 70.6h.9v.9h-.9zM74.3 65.5h.9v.9h-.9zM77.3 66.6h.9v.9h-.9zM74.1 74.4h.9v.9h-.9zM78.5 72.2h.9v.9h-.9zM73.8 76.2h.9v.9h-.9zM74.9 66.2h.9v.9h-.9zM76.8 64.9h.9v.9h-.9zM69.5 72.1h.9v.9h-.9zM73.5 70.4h.9v.9h-.9zM72.6 78.0h.9v.9h-.9zM78.7 67.4h.9v.9h-.9zM73.0 75.6h.9v.9h-.9zM85.7 64.5h.9v.9h-.9zM82.4 75.0h.9v.9h-.9zM78.3 75.0h.9v.9h-.9zM69.1 78.6h.9v.9h-.9zM74.0 69.7h.9v.9h-.9zM76.8 73.6h.9v.9h-.9zM84.0 68.5h.9v.9h-.9zM85.4 73.2h.9v.9h-.9zM85.4 66.2h.9v.9h-.9zM80.7 74.5h.9v.9h-.9zM77.0 62.4h.9v.9h-.9zM75.4 78.4h.9v.9h-.9zM78.7 71.0h.9v.9h-.9zM74.7 69.9h.9v.9h-.9zM81.5 63.0h.9v.9h-.9zM81.0 71.5h.9v.9h-.9zM88.4 63.4h.9v.9h-.9zM69.6 75.2h.9v.9h-.9zM71.6 76.2h.9v.9h-.9zM76.5 64.4h.9v.9h-.9zM74.6 72.6h.9v.9h-.9zM76.2 72.5h.9v.9h-.9zM77.8 67.7h.9v.9h-.9zM80.9 72.8h.9v.9h-.9zM75.0 74.5h.9v.9h-.9zM79.5 69.5h.9v.9h-.9zM73.1 73.9h.9v.9h-.9zM73.4 73.5h.9v.9h-.9zM72.7 77.6h.9v.9h-.9zM77.8 73.6h.9v.9h-.9zM77.8 64.2h.9v.9h-.9zM74.5 74.0h.9v.9h-.9zM75.4 74.8h.9v.9h-.9zM74.3 69.9h.9v.9h-.9zM80.5 76.6h.9v.9h-.9zM74.8 64.7h.9v.9h-.9zM81.7 61.8h.9v.9h-.9zM86.5 68.5h.9v.9h-.9zM76.2 61.5h.9v.9h-.9zM76.4 63.1h.9v.9h-.9zM81.0 69.0h.9v.9h-.9zM74.5 78.7h.9v.9h-.9zM76.0 72.5h.9v.9h-.9zM70.5 77.3h.9v.9h-.9zM81.0 69.7h.9v.9h-.9zM77.2 69.6h.9v.9h-.9zM79.4 60.3h.9v.9h-.9zM83.8 60.4h.9v.9h-.9zM80.4 75.5h.9v.9h-.9zM77.4 74.3h.9v.9h-.9zM77.8 70.3h.9v.9h-.9zM78.1 77.4h.9v.9h-.9zM79.1 71.2h.9v.9h-.9zM76.7 66.2h.9v.9h-.9zM79.9 75.2h.9v.9h-.9zM73.1 72.5h.9v.9h-.9zM88.8 62.1h.9v.9h-.9zM78.1 75.5h.9v.9h-.9zM83.4 69.0h.9v.9h-.9zM78.3 73.5h.9v.9h-.9zM80.9 76.0h.9v.9h-.9zM73.9 79.0h.9v.9h-.9zM80.6 64.4h.9v.9h-.9zM80.0 73.2h.9v.9h-.9zM84.6 65.2h.9v.9h-.9zM79.0 75.3h.9v.9h-.9zM84.4 63.0h.9v.9h-.9zM78.6 76.5h.9v.9h-.9zM77.9 78.5h.9v.9h-.9zM74.2 70.6h.9v.9h-.9zM84.2 69.0h.9v.9h-.9zM81.4 70.0h.9v.9h-.9zM81.8 75.0h.9v.9h-.9zM80.5 60.3h.9v.9h-.9zM76.7 75.7h.9v.9h-.9zM83.2 67.2h.9v.9h-.9zM79.7 71.2h.9v.9h-.9zM71.5 76.9h.9v.9h-.9zM80.3 62.7h.9v.9h-.9zM84.6 65.0h.9v.9h-.9zM80.7 71.8h.9v.9h-.9zM71.2 74.1h.9v.9h-.9zM77.4 65.9h.9v.9h-.9zM79.0 74.0h.9v.9h-.9zM76.4 67.5h.9v.9h-.9zM80.4 60.5h.9v.9h-.9zM84.2 63.6h.9v.9h-.9zM73.5 63.2h.9v.9h-.9zM77.2 67.8h.9v.9h-.9zM82.9 69.6h.9v.9h-.9zM73.0 67.2h.9v.9h-.9zM70.9 77.6h.9v.9h-.9zM84.2 65.3h.9v.9h-.9zM85.3 65.2h.9v.9h-.9zM75.0 76.4h.9v.9h-.9zM85.2 69.9h.9v.9h-.9zM74.4 75.8h.9v.9h-.9zM73.3 67.8h.9v.9h-.9zM80.1 72.9h.9v.9h-.9zM83.1 67.4h.9v.9h-.9zM73.9 76.3h.9v.9h-.9zM81.8 65.6h.9v.9h-.9zM70.4 77.1h.9v.9h-.9zM77.6 64.6h.9v.9h-.9zM77.7 73.0h.9v.9h-.9zM81.9 69.4h.9v.9h-.9zM73.3 73.3h.9v.9h-.9zM77.5 60.6h.9v.9h-.9zM72.7 77.4h.9v.9h-.9zM79.2 68.2h.9v.9h-.9zM84.3 60.8h.9v.9h-.9zM80.5 71.7h.9v.9h-.9zM84.6 63.4h.9v.9h-.9zM83.9 71.7h.9v.9h-.9zM79.5 73.7h.9v.9h-.9zM82.3 65.2h.9v.9h-.9zM82.2 63.8h.9v.9h-.9zM84.8 63.8h.9v.9h-.9zM83.8 71.6h.9v.9h-.9zM82.4 72.5h.9v.9h-.9zM69.9 76.0h.9v.9h-.9zM83.3 65.7h.9v.9h-.9zM77.8 62.3h.9v.9h-.9zM74.7 71.7h.9v.9h-.9zM82.0 77.0h.9v.9h-.9zM76.2 73.4h.9v.9h-.9zM77.2 71.7h.9v.9h-.9zM74.5 66.7h.9v.9h-.9zM77.5 73.0h.9v.9h-.9zM68.7 77.1h.9v.9h-.9zM84.2 60.6h.9v.9h-.9zM80.2 75.1h.9v.9h-.9zM78.3 74.9h.9v.9h-.9zM74.9 79.0h.9v.9h-.9zM81.2 65.0h.9v.9h-.9zM75.7 70.9h.9v.9h-.9zM86.7 61.0h.9v.9h-.9zM82.1 63.2h.9v.9h-.9zM74.2 75.4h.9v.9h-.9zM80.4 65.1h.9v.9h-.9zM84.0 75.8h.9v.9h-.9zM83.2 67.1h.9v.9h-.9zM79.9 73.5h.9v.9h-.9zM76.1 68.0h.9v.9h-.9zM82.1 74.3h.9v.9h-.9zM79.1 69.9h.9v.9h-.9zM84.3 62.7h.9v.9h-.9zM82.2 65.9h.9v.9h-.9zM82.8 66.0h.9v.9h-.9zM74.7 65.3h.9v.9h-.9zM71.6 75.2h.9v.9h-.9zM72.0 79.6h.9v.9h-.9zM72.7 75.8h.9v.9h-.9zM85.0 61.6h.9v.9h-.9zM71.9 75.4h.9v.9h-.9zM71.0 75.5h.9v.9h-.9zM74.2 76.5h.9v.9h-.9zM74.4 70.8h.9v.9h-.9zM86.1 62.7h.9v.9h-.9zM78.0 64.8h.9v.9h-.9zM77.3 69.4h.9v.9h-.9zM83.0 64.0h.9v.9h-.9zM87.8 62.2h.9v.9h-.9zM70.4 78.0h.9v.9h-.9zM75.2 67.7h.9v.9h-.9zM75.7 71.7h.9v.9h-.9zM87.6 61.9h.9v.9h-.9zM79.3 77.6h.9v.9h-.9zM72.4 74.3h.9v.9h-.9zM75.8 61.5h.9v.9h-.9zM79.4 62.3h.9v.9h-.9zM75.1 74.3h.9v.9h-.9zM83.3 60.6h.9v.9h-.9zM81.8 60.3h.9v.9h-.9zM85.1 64.0h.9v.9h-.9zM81.3 61.6h.9v.9h-.9zM75.3 74.2h.9v.9h-.9zM82.6 75.4h.9v.9h-.9zM73.6 72.3h.9v.9h-.9zM72.8 65.3h.9v.9h-.9zM70.7 75.0h.9v.9h-.9zM82.7 72.3h.9v.9h-.9zM82.6 60.1h.9v.9h-.9zM84.7 61.1h.9v.9h-.9zM81.5 70.5h.9v.9h-.9zM81.4 71.5h.9v.9h-.9zM78.7 67.7h.9v.9h-.9zM76.7 68.3h.9v.9h-.9zM75.3 64.0h.9v.9h-.9zM78.1 70.5h.9v.9h-.9zM76.5 62.5h.9v.9h-.9zM81.2 78.2h.9v.9h-.9zM76.1 78.3h.9v.9h-.9zM77.0 68.4h.9v.9h-.9zM73.4 78.3h.9v.9h-.9zM77.3 71.7h.9v.9h-.9zM81.1 70.1h.9v.9h-.9zM84.8 71.0h.9v.9h-.9zM76.4 72.8h.9v.9h-.9zM76.5 77.6h.9v.9h-.9zM76.6 75.1h.9v.9h-.9zM86.5 65.1h.9v.9h-.9zM80.5 60.4h.9v.9h-.9zM75.7 79.6h.9v.9h-.9zM74.3 72.2h.9v.9h-.9zM79.0 71.5h.9v.9h-.9zM84.5 72.2h.9v.9h-.9zM78.9 76.6h.9v.9h-.9zM77.3 63.0h.9v.9h-.9zM85.7 65.2h.9v.9h-.9zM80.2 66.7h.9v.9h-.9zM75.4 76.0h.9v.9h-.9zM81.4 74.9h.9v.9h-.9zM78.9 71.4h.9v.9h-.9zM78.3 65.9h.9v.9h-.9zM78.6 65.0h.9v.9h-.9zM90.1 59.8h.9v.9h-.9zM79.9 64.5h.9v.9h-.9zM79.6 62.9h.9v.9h-.9zM78.5 70.4h.9v.9h-.9zM73.1 65.7h.9v.9h-.9zM70.4 77.6h.9v.9h-.9zM73.5 75.9h.9v.9h-.9zM76.1 69.5h.9v.9h-.9zM80.4 63.7h.9v.9h-.9zM75.7 66.0h.9v.9h-.9zM84.9 61.2h.9v.9h-.9zM78.5 74.1h.9v.9h-.9zM81.4 67.3h.9v.9h-.9zM72.9 74.7h.9v.9h-.9zM81.2 65.8h.9v.9h-.9zM72.4 75.9h.9v.9h-.9zM80.0 68.9h.9v.9h-.9zM80.7 73.6h.9v.9h-.9zM81.0 68.2h.9v.9h-.9zM78.1 74.8h.9v.9h-.9zM85.6 65.4h.9v.9h-.9zM83.2 61.5h.9v.9h-.9zM80.4 63.1h.9v.9h-.9zM84.9 67.9h.9v.9h-.9zM73.1 74.4h.9v.9h-.9zM83.8 68.3h.9v.9h-.9zM76.8 75.7h.9v.9h-.9zM78.9 70.2h.9v.9h-.9zM79.3 70.9h.9v.9h-.9zM76.0 67.7h.9v.9h-.9zM77.4 62.5h.9v.9h-.9zM75.6 71.9h.9v.9h-.9zM79.0 66.6h.9v.9h-.9zM82.5 61.9h.9v.9h-.9zM79.8 62.2h.9v.9h-.9zM82.6 63.7h.9v.9h-.9zM82.1 71.7h.9v.9h-.9zM85.3 65.5h.9v.9h-.9zM84.5 64.3h.9v.9h-.9zM79.3 66.5h.9v.9h-.9zM74.7 77.0h.9v.9h-.9zM83.8 64.8h.9v.9h-.9zM84.9 64.3h.9v.9h-.9zM89.9 63.5h.9v.9h-.9zM79.9 65.8h.9v.9h-.9zM78.2 66.8h.9v.9h-.9zM75.7 75.2h.9v.9h-.9zM80.7 79.0h.9v.9h-.9zM86.0 68.9h.9v.9h-.9zM74.5 77.1h.9v.9h-.9zM81.6 61.8h.9v.9h-.9zM80.8 68.6h.9v.9h-.9zM76.1 72.8h.9v.9h-.9zM82.0 61.2h.9v.9h-.9zM70.5 79.1h.9v.9h-.9zM74.5 66.2h.9v.9h-.9zM77.5 71.3h.9v.9h-.9zM71.9 79.4h.9v.9h-.9zM70.0 76.6h.9v.9h-.9zM84.1 65.5h.9v.9h-.9zM81.9 66.8h.9v.9h-.9zM77.2 72.3h.9v.9h-.9zM85.8 68.3h.9v.9h-.9zM70.7 77.4h.9v.9h-.9zM75.8 63.9h.9v.9h-.9zM79.5 76.9h.9v.9h-.9zM81.3 74.3h.9v.9h-.9zM80.9 71.9h.9v.9h-.9zM72.2 73.2h.9v.9h-.9zM80.7 66.2h.9v.9h-.9zM73.5 68.7h.9v.9h-.9zM79.6 64.1h.9v.9h-.9zM81.9 74.3h.9v.9h-.9zM75.3 64.3h.9v.9h-.9zM76.2 65.1h.9v.9h-.9zM71.6 75.3h.9v.9h-.9zM83.9 64.5h.9v.9h-.9zM76.8 76.5h.9v.9h-.9zM77.0 66.4h.9v.9h-.9zM76.7 74.9h.9v.9h-.9zM82.7 75.1h.9v.9h-.9zM75.0 71.7h.9v.9h-.9zM71.1 79.4h.9v.9h-.9zM78.1 75.8h.9v.9h-.9zM69.7 77.3h.9v.9h-.9zM77.7 69.1h.9v.9h-.9zM78.3 62.7h.9v.9h-.9zM76.5 62.8h.9v.9h-.9zM84.1 63.2h.9v.9h-.9zM83.3 69.2h.9v.9h-.9zM71.7 79.3h.9v.9h-.9zM73.1 71.5h.9v.9h-.9zM86.0 68.1h.9v.9h-.9zM81.5 60.3h.9v.9h-.9zM76.0 68.2h.9v.9h-.9zM79.8 65.0h.9v.9h-.9zM78.0 68.6h.9v.9h-.9zM77.5 67.1h.9v.9h-.9zM80.0 77.9h.9v.9h-.9zM71.8 69.0h.9v.9h-.9zM82.5 73.9h.9v.9h-.9zM83.5 62.0h.9v.9h-.9zM76.0 64.3h.9v.9h-.9zM72.5 73.6h.9v.9h-.9zM78.6 70.9h.9v.9h-.9zM82.9 62.0h.9v.9h-.9zM76.7 67.6h.9v.9h-.9zM77.6 70.0h.9v.9h-.9zM78.8 77.7h.9v.9h-.9zM84.2 67.9h.9v.9h-.9zM83.4 63.9h.9v.9h-.9zM83.4 73.7h.9v.9h-.9zM74.0 71.1h.9v.9h-.9zM78.6 66.8h.9v.9h-.9zM83.9 70.5h.9v.9h-.9zM79.7 66.7h.9v.9h-.9zM74.6 73.9h.9v.9h-.9zM79.4 75.6h.9v.9h-.9zM87.8 64.2h.9v.9h-.9zM77.7 78.6h.9v.9h-.9zM81.1 67.9h.9v.9h-.9zM79.2 68.3h.9v.9h-.9zM82.6 64.2h.9v.9h-.9zM80.3 61.2h.9v.9h-.9zM77.5 63.3h.9v.9h-.9zM76.2 63.0h.9v.9h-.9zM79.9 70.0h.9v.9h-.9zM85.8 69.9h.9v.9h-.9zM77.5 77.0h.9v.9h-.9zM77.6 66.5h.9v.9h-.9zM78.8 74.7h.9v.9h-.9zM78.0 65.3h.9v.9h-.9zM83.5 70.7h.9v.9h-.9zM81.9 63.0h.9v.9h-.9zM73.2 77.0h.9v.9h-.9zM76.1 66.0h.9v.9h-.9zM71.6 70.4h.9v.9h-.9zM74.0 69.6h.9v.9h-.9zM77.3 68.4h.9v.9h-.9zM80.6 64.1h.9v.9h-.9zM79.8 73.7h.9v.9h-.9zM84.9 71.2h.9v.9h-.9zM85.2 63.2h.9v.9h-.9zM83.9 59.6h.9v.9h-.9zM78.5 68.1h.9v.9h-.9zM77.2 68.9h.9v.9h-.9zM80.7 65.8h.9v.9h-.9zM76.2 66.1h.9v.9h-.9zM71.4 74.1h.9v.9h-.9zM78.3 73.6h.9v.9h-.9zM79.1 62.7h.9v.9h-.9zM78.9 76.6h.9v.9h-.9zM82.4 63.3h.9v.9h-.9zM77.1 76.1h.9v.9h-.9zM80.8 76.5h.9v.9h-.9zM77.4 62.7h.9v.9h-.9zM72.8 77.8h.9v.9h-.9zM77.1 75.2h.9v.9h-.9zM86.3 64.2h.9v.9h-.9zM73.8 72.2h.9v.9h-.9zM81.2 68.4h.9v.9h-.9zM88.5 63.0h.9v.9h-.9zM78.8 64.0h.9v.9h-.9zM85.4 62.8h.9v.9h-.9zM79.8 71.9h.9v.9h-.9zM76.2 72.3h.9v.9h-.9zM75.0 77.7h.9v.9h-.9zM88.2 67.9h.9v.9h-.9zM79.2 67.6h.9v.9h-.9zM81.0 65.4h.9v.9h-.9zM82.2 67.5h.9v.9h-.9zM70.8 72.0h.9v.9h-.9zM79.6 73.8h.9v.9h-.9zM71.4 73.6h.9v.9h-.9zM85.9 63.8h.9v.9h-.9zM84.1 66.9h.9v.9h-.9zM81.1 71.6h.9v.9h-.9zM83.0 74.1h.9v.9h-.9zM79.2 73.9h.9v.9h-.9zM77.9 67.0h.9v.9h-.9zM80.4 69.1h.9v.9h-.9zM81.9 63.2h.9v.9h-.9zM76.2 68.2h.9v.9h-.9zM84.7 64.9h.9v.9h-.9zM75.8 68.7h.9v.9h-.9zM78.0 72.5h.9v.9h-.9zM80.2 60.3h.9v.9h-.9zM79.9 60.4h.9v.9h-.9zM79.2 76.1h.9v.9h-.9zM79.1 74.4h.9v.9h-.9zM69.6 76.5h.9v.9h-.9zM82.7 69.5h.9v.9h-.9zM87.3 62.8h.9v.9h-.9zM84.8 62.6h.9v.9h-.9zM77.3 77.7h.9v.9h-.9zM74.3 72.7h.9v.9h-.9zM85.9 64.6h.9v.9h-.9zM76.0 68.1h.9v.9h-.9zM87.3 65.1h.9v.9h-.9zM79.3 75.0h.9v.9h-.9zM75.4 73.1h.9v.9h-.9zM78.5 79.1h.9v.9h-.9zM80.9 71.7h.9v.9h-.9zM74.6 68.4h.9v.9h-.9zM71.0 76.1h.9v.9h-.9zM74.3 67.1h.9v.9h-.9zM78.3 73.4h.9v.9h-.9zM77.8 63.6h.9v.9h-.9zM79.4 65.8h.9v.9h-.9zM76.0 73.1h.9v.9h-.9zM75.4 68.2h.9v.9h-.9zM73.0 77.9h.9v.9h-.9zM74.2 69.6h.9v.9h-.9zM69.6 79.1h.9v.9h-.9zM79.2 71.9h.9v.9h-.9zM74.0 73.2h.9v.9h-.9zM86.1 68.0h.9v.9h-.9zM77.2 65.9h.9v.9h-.9zM78.4 66.0h.9v.9h-.9zM72.4 78.1h.9v.9h-.9zM80.5 72.1h.9v.9h-.9zM79.0 75.6h.9v.9h-.9zM73.8 67.6h.9v.9h-.9zM79.0 61.7h.9v.9h-.9zM75.1 73.5h.9v.9h-.9zM83.2 67.7h.9v.9h-.9zM78.0 74.5h.9v.9h-.9zM85.2 58.8h.9v.9h-.9zM80.8 65.3h.9v.9h-.9zM78.0 71.2h.9v.9h-.9zM78.0 77.0h.9v.9h-.9zM77.9 64.4h.9v.9h-.9zM75.8 77.1h.9v.9h-.9zM83.3 70.7h.9v.9h-.9zM82.7 64.5h.9v.9h-.9zM79.4 60.3h.9v.9h-.9zM73.4 78.4h.9v.9h-.9zM83.1 72.0h.9v.9h-.9zM80.3 74.4h.9v.9h-.9zM81.5 66.8h.9v.9h-.9zM85.5 62.4h.9v.9h-.9zM79.7 69.2h.9v.9h-.9zM83.7 72.7h.9v.9h-.9zM83.3 64.3h.9v.9h-.9zM74.0 77.6h.9v.9h-.9zM81.3 73.3h.9v.9h-.9zM77.5 60.6h.9v.9h-.9zM80.8 66.6h.9v.9h-.9zM78.2 80.6h.9v.9h-.9zM77.0 74.0h.9v.9h-.9zM76.5 75.9h.9v.9h-.9zM82.5 64.0h.9v.9h-.9zM79.8 77.8h.9v.9h-.9zM73.1 73.0h.9v.9h-.9zM81.1 69.1h.9v.9h-.9zM75.9 73.3h.9v.9h-.9zM76.9 68.0h.9v.9h-.9zM69.8 78.5h.9v.9h-.9zM84.4 59.7h.9v.9h-.9zM76.8 65.7h.9v.9h-.9zM77.8 73.5h.9v.9h-.9zM82.2 65.1h.9v.9h-.9zM75.3 75.3h.9v.9h-.9zM80.4 74.8h.9v.9h-.9zM72.8 71.8h.9v.9h-.9zM81.5 67.2h.9v.9h-.9zM79.3 66.1h.9v.9h-.9zM75.7 67.4h.9v.9h-.9zM78.5 67.1h.9v.9h-.9zM87.2 61.2h.9v.9h-.9zM78.1 64.7h.9v.9h-.9zM80.0 73.0h.9v.9h-.9zM74.3 69.7h.9v.9h-.9zM78.6 68.0h.9v.9h-.9zM77.5 67.0h.9v.9h-.9zM76.4 66.3h.9v.9h-.9zM87.5 61.4h.9v.9h-.9zM81.1 65.2h.9v.9h-.9zM75.1 71.0h.9v.9h-.9zM73.6 77.0h.9v.9h-.9zM83.7 71.5h.9v.9h-.9zM84.9 67.4h.9v.9h-.9zM76.3 70.6h.9v.9h-.9zM78.0 63.7h.9v.9h-.9zM83.2 63.9h.9v.9h-.9zM78.5 61.6h.9v.9h-.9zM84.4 71.2h.9v.9h-.9zM71.4 72.2h.9v.9h-.9zM77.0 63.2h.9v.9h-.9zM74.1 76.8h.9v.9h-.9zM80.2 63.5h.9v.9h-.9zM70.8 70.3h.9v.9h-.9zM73.9 73.2h.9v.9h-.9zM86.2 62.2h.9v.9h-.9zM84.0 64.5h.9v.9h-.9zM73.2 70.7h.9v.9h-.9zM81.0 74.3h.9v.9h-.9zM77.2 72.2h.9v.9h-.9zM83.7 72.9h.9v.9h-.9zM79.6 61.0h.9v.9h-.9zM81.3 61.8h.9v.9h-.9zM75.1 78.3h.9v.9h-.9zM81.7 63.4h.9v.9h-.9zM78.5 65.8h.9v.9h-.9zM75.3 76.1h.9v.9h-.9zM82.2 61.6h.9v.9h-.9zM74.0 77.4h.9v.9h-.9zM81.5 70.5h.9v.9h-.9zM84.2 66.3h.9v.9h-.9zM85.0 64.7h.9v.9h-.9zM81.6 67.9h.9v.9h-.9zM72.5 76.8h.9v.9h-.9zM86.1 61.5h.9v.9h-.9zM78.2 63.9h.9v.9h-.9zM74.6 67.6h.9v.9h-.9zM77.1 74.2h.9v.9h-.9zM76.0 69.1h.9v.9h-.9zM75.2 68.7h.9v.9h-.9zM76.0 79.0h.9v.9h-.9zM83.7 70.9h.9v.9h-.9zM72.5 72.0h.9v.9h-.9zM75.6 73.0h.9v.9h-.9zM73.2 68.0h.9v.9h-.9zM81.6 67.7h.9v.9h-.9zM78.0 71.8h.9v.9h-.9zM76.7 74.8h.9v.9h-.9zM74.4 63.7h.9v.9h-.9zM83.8 64.3h.9v.9h-.9zM79.4 66.6h.9v.9h-.9zM80.5 75.9h.9v.9h-.9zM80.4 67.9h.9v.9h-.9zM82.5 69.6h.9v.9h-.9zM78.7 70.9h.9v.9h-.9zM81.4 77.7h.9v.9h-.9zM75.6 63.1h.9v.9h-.9zM81.9 62.5h.9v.9h-.9zM73.0 76.7h.9v.9h-.9zM76.4 68.7h.9v.9h-.9zM85.7 66.8h.9v.9h-.9zM80.1 77.9h.9v.9h-.9zM81.1 61.5h.9v.9h-.9zM79.4 61.9h.9v.9h-.9zM72.6 77.9h.9v.9h-.9zM79.3 75.4h.9v.9h-.9zM80.2 71.1h.9v.9h-.9zM77.4 63.9h.9v.9h-.9zM80.8 72.2h.9v.9h-.9zM83.2 62.6h.9v.9h-.9zM78.8 67.9h.9v.9h-.9zM86.4 66.8h.9v.9h-.9zM82.4 67.5h.9v.9h-.9zM77.1 62.0h.9v.9h-.9zM84.3 69.9h.9v.9h-.9zM77.8 71.4h.9v.9h-.9zM71.0 78.3h.9v.9h-.9zM84.2 68.2h.9v.9h-.9zM79.9 69.8h.9v.9h-.9zM83.6 62.1h.9v.9h-.9zM83.6 64.3h.9v.9h-.9zM77.7 63.6h.9v.9h-.9zM80.6 79.9h.9v.9h-.9zM83.0 63.2h.9v.9h-.9zM73.9 71.9h.9v.9h-.9zM75.1 75.5h.9v.9h-.9zM70.4 76.7h.9v.9h-.9zM82.7 73.2h.9v.9h-.9zM83.2 63.7h.9v.9h-.9zM74.0 77.9h.9v.9h-.9zM79.4 71.0h.9v.9h-.9zM83.4 67.9h.9v.9h-.9zM78.1 76.9h.9v.9h-.9zM77.3 62.6h.9v.9h-.9zM72.9 72.1h.9v.9h-.9zM83.0 73.9h.9v.9h-.9zM81.5 72.8h.9v.9h-.9zM79.7 65.4h.9v.9h-.9zM73.7 77.7h.9v.9h-.9zM79.1 64.5h.9v.9h-.9zM76.4 67.0h.9v.9h-.9zM80.3 76.9h.9v.9h-.9zM77.2 77.6h.9v.9h-.9zM83.2 67.7h.9v.9h-.9zM79.3 69.7h.9v.9h-.9zM73.2 74.4h.9v.9h-.9zM74.0 69.2h.9v.9h-.9zM76.3 64.4h.9v.9h-.9zM80.6 66.9h.9v.9h-.9zM77.9 72.7h.9v.9h-.9zM80.8 74.0h.9v.9h-.9zM85.7 68.3h.9v.9h-.9zM81.6 65.0h.9v.9h-.9zM75.1 76.5h.9v.9h-.9zM77.4 65.0h.9v.9h-.9zM83.5 64.4h.9v.9h-.9zM78.2 66.6h.9v.9h-.9zM83.6 64.8h.9v.9h-.9zM81.6 63.7h.9v.9h-.9zM75.2 67.8h.9v.9h-.9zM85.3 63.1h.9v.9h-.9zM71.0 74.4h.9v.9h-.9zM79.3 63.9h.9v.9h-.9zM87.7 64.9h.9v.9h-.9zM76.6 76.8h.9v.9h-.9zM83.7 68.8h.9v.9h-.9zM79.0 77.5h.9v.9h-.9zM78.9 64.5h.9v.9h-.9zM81.6 72.9h.9v.9h-.9zM83.3 63.2h.9v.9h-.9zM71.5 77.4h.9v.9h-.9zM70.5 79.4h.9v.9h-.9zM74.6 73.4h.9v.9h-.9zM81.1 65.5h.9v.9h-.9zM79.3 75.2h.9v.9h-.9zM79.4 76.2h.9v.9h-.9zM74.9 71.6h.9v.9h-.9zM80.5 75.8h.9v.9h-.9zM78.4 65.4h.9v.9h-.9zM76.8 73.0h.9v.9h-.9zM81.5 64.1h.9v.9h-.9zM78.2 69.2h.9v.9h-.9zM84.7 68.3h.9v.9h-.9zM78.4 65.3h.9v.9h-.9zM76.3 63.7h.9v.9h-.9zM80.9 77.4h.9v.9h-.9zM87.1 61.6h.9v.9h-.9zM74.6 68.0h.9v.9h-.9zM75.1 70.3h.9v.9h-.9zM81.6 61.5h.9v.9h-.9zM79.7 60.5h.9v.9h-.9zM77.4 69.4h.9v.9h-.9zM82.3 68.1h.9v.9h-.9zM85.0 64.3h.9v.9h-.9zM76.3 66.5h.9v.9h-.9zM78.6 66.0h.9v.9h-.9zM76.3 71.3h.9v.9h-.9zM76.5 80.7h.9v.9h-.9zM77.3 66.0h.9v.9h-.9zM83.9 68.0h.9v.9h-.9zM74.4 70.0h.9v.9h-.9zM80.1 66.9h.9v.9h-.9zM84.8 62.0h.9v.9h-.9zM82.7 72.8h.9v.9h-.9zM81.7 64.7h.9v.9h-.9zM86.0 62.1h.9v.9h-.9zM81.0 68.3h.9v.9h-.9zM70.9 78.8h.9v.9h-.9zM81.9 57.7h.9v.9h-.9zM77.4 77.3h.9v.9h-.9zM79.3 72.0h.9v.9h-.9zM81.0 71.6h.9v.9h-.9zM79.5 69.7h.9v.9h-.9zM75.0 73.2h.9v.9h-.9zM74.9 78.3h.9v.9h-.9zM83.6 62.6h.9v.9h-.9zM77.3 62.8h.9v.9h-.9zM76.6 70.8h.9v.9h-.9zM79.5 69.6h.9v.9h-.9zM79.6 69.4h.9v.9h-.9zM79.1 68.2h.9v.9h-.9zM77.9 79.4h.9v.9h-.9zM80.2 69.7h.9v.9h-.9zM78.3 73.0h.9v.9h-.9zM80.7 60.1h.9v.9h-.9zM85.5 65.2h.9v.9h-.9zM83.7 67.1h.9v.9h-.9zM79.0 78.5h.9v.9h-.9zM79.4 63.8h.9v.9h-.9zM82.5 70.7h.9v.9h-.9zM77.6 74.5h.9v.9h-.9zM83.8 71.0h.9v.9h-.9zM73.4 73.0h.9v.9h-.9zM82.1 67.9h.9v.9h-.9zM81.6 64.5h.9v.9h-.9zM86.4 65.1h.9v.9h-.9zM79.0 70.2h.9v.9h-.9zM71.3 71.0h.9v.9h-.9zM82.5 67.8h.9v.9h-.9zM76.9 75.3h.9v.9h-.9zM77.3 68.1h.9v.9h-.9zM77.4 65.0h.9v.9h-.9zM75.6 72.4h.9v.9h-.9zM79.9 69.9h.9v.9h-.9zM78.2 73.7h.9v.9h-.9zM72.3 71.1h.9v.9h-.9zM78.8 60.1h.9v.9h-.9zM79.9 69.2h.9v.9h-.9zM82.5 65.1h.9v.9h-.9zM86.0 65.3h.9v.9h-.9zM73.1 76.8h.9v.9h-.9zM73.1 78.3h.9v.9h-.9zM79.5 78.5h.9v.9h-.9zM76.6 66.2h.9v.9h-.9zM72.6 71.5h.9v.9h-.9zM73.3 76.1h.9v.9h-.9zM74.8 75.6h.9v.9h-.9zM78.6 63.3h.9v.9h-.9zM87.1 64.9h.9v.9h-.9zM75.5 70.6h.9v.9h-.9zM77.9 64.4h.9v.9h-.9zM84.8 61.4h.9v.9h-.9zM76.5 62.8h.9v.9h-.9zM77.6 70.7h.9v.9h-.9zM77.8 73.1h.9v.9h-.9zM73.6 73.9h.9v.9h-.9zM82.2 71.0h.9v.9h-.9zM74.7 71.1h.9v.9h-.9zM80.0 71.4h.9v.9h-.9zM74.1 75.5h.9v.9h-.9zM75.9 72.1h.9v.9h-.9zM81.1 73.0h.9v.9h-.9zM79.3 78.2h.9v.9h-.9zM86.5 63.7h.9v.9h-.9zM81.4 62.9h.9v.9h-.9zM76.6 70.0h.9v.9h-.9zM78.4 68.8h.9v.9h-.9zM76.2 79.6h.9v.9h-.9zM75.5 66.1h.9v.9h-.9zM79.5 75.0h.9v.9h-.9zM76.9 74.2h.9v.9h-.9zM83.8 64.4h.9v.9h-.9zM82.3 59.0h.9v.9h-.9zM76.8 69.0h.9v.9h-.9zM77.1 63.4h.9v.9h-.9zM82.2 63.1h.9v.9h-.9zM83.7 66.7h.9v.9h-.9zM80.7 65.4h.9v.9h-.9zM83.1 70.8h.9v.9h-.9zM78.9 71.8h.9v.9h-.9zM75.1 69.6h.9v.9h-.9zM80.0 71.1h.9v.9h-.9zM82.9 64.3h.9v.9h-.9zM80.3 71.7h.9v.9h-.9zM72.6 75.6h.9v.9h-.9zM74.5 72.6h.9v.9h-.9zM80.7 63.6h.9v.9h-.9zM73.9 67.0h.9v.9h-.9zM72.8 73.6h.9v.9h-.9zM76.3 73.3h.9v.9h-.9zM82.6 65.8h.9v.9h-.9zM82.0 71.9h.9v.9h-.9zM76.3 78.7h.9v.9h-.9zM79.1 71.3h.9v.9h-.9zM84.8 63.0h.9v.9h-.9zM74.0 77.4h.9v.9h-.9zM74.2 70.1h.9v.9h-.9zM83.7 65.3h.9v.9h-.9zM84.2 63.6h.9v.9h-.9zM79.4 80.3h.9v.9h-.9zM82.3 74.9h.9v.9h-.9zM86.7 61.9h.9v.9h-.9zM86.4 64.3h.9v.9h-.9zM74.3 76.1h.9v.9h-.9zM89.4 62.2h.9v.9h-.9zM77.9 72.4h.9v.9h-.9zM80.5 69.6h.9v.9h-.9zM81.2 67.9h.9v.9h-.9zM73.0 75.6h.9v.9h-.9zM78.3 66.8h.9v.9h-.9zM83.2 70.6h.9v.9h-.9zM77.3 75.9h.9v.9h-.9zM82.3 72.9h.9v.9h-.9zM75.4 72.2h.9v.9h-.9zM77.6 70.9h.9v.9h-.9zM83.5 64.2h.9v.9h-.9zM74.5 67.8h.9v.9h-.9zM79.2 73.1h.9v.9h-.9zM75.0 69.3h.9v.9h-.9zM83.8 61.5h.9v.9h-.9zM70.3 76.3h.9v.9h-.9zM80.2 67.0h.9v.9h-.9zM84.6 63.4h.9v.9h-.9zM85.8 63.0h.9v.9h-.9zM78.5 78.5h.9v.9h-.9zM79.7 74.7h.9v.9h-.9zM85.7 65.9h.9v.9h-.9zM82.9 66.6h.9v.9h-.9zM74.9 74.9h.9v.9h-.9zM82.0 63.2h.9v.9h-.9zM75.0 68.3h.9v.9h-.9zM78.5 73.7h.9v.9h-.9zM72.5 77.4h.9v.9h-.9zM78.0 70.8h.9v.9h-.9zM87.9 61.5h.9v.9h-.9zM71.7 72.3h.9v.9h-.9zM81.1 78.0h.9v.9h-.9zM75.5 65.6h.9v.9h-.9zM83.4 63.3h.9v.9h-.9zM79.5 59.6h.9v.9h-.9zM72.0 74.6h.9v.9h-.9zM76.4 75.7h.9v.9h-.9zM76.8 67.9h.9v.9h-.9zM76.3 65.6h.9v.9h-.9zM82.4 68.5h.9v.9h-.9zM78.0 65.1h.9v.9h-.9zM83.6 69.7h.9v.9h-.9zM79.8 72.6h.9v.9h-.9zM77.2 69.6h.9v.9h-.9zM75.5 62.5h.9v.9h-.9zM78.5 78.8h.9v.9h-.9zM73.8 70.8h.9v.9h-.9zM80.7 70.6h.9v.9h-.9zM78.0 76.0h.9v.9h-.9zM83.1 60.4h.9v.9h-.9zM74.2 71.8h.9v.9h-.9zM77.5 68.9h.9v.9h-.9zM72.4 70.7h.9v.9h-.9zM81.0 74.6h.9v.9h-.9zM83.2 62.0h.9v.9h-.9zM78.5 62.4h.9v.9h-.9zM80.3 67.2h.9v.9h-.9zM74.7 69.6h.9v.9h-.9zM78.7 75.9h.9v.9h-.9zM71.6 75.3h.9v.9h-.9zM74.6 71.6h.9v.9h-.9zM77.8 63.6h.9v.9h-.9zM83.6 68.2h.9v.9h-.9zM86.3 65.3h.9v.9h-.9zM81.5 59.8h.9v.9h-.9zM77.0 76.1h.9v.9h-.9zM75.7 75.9h.9v.9h-.9zM73.9 70.8h.9v.9h-.9zM81.9 64.3h.9v.9h-.9zM73.9 68.9h.9v.9h-.9zM85.9 64.3h.9v.9h-.9zM84.6 70.0h.9v.9h-.9zM79.6 62.1h.9v.9h-.9zM83.4 68.9h.9v.9h-.9zM82.1 71.5h.9v.9h-.9zM69.6 76.1h.9v.9h-.9zM77.7 71.5h.9v.9h-.9zM75.6 75.0h.9v.9h-.9zM80.1 65.5h.9v.9h-.9zM76.7 72.0h.9v.9h-.9zM77.4 65.4h.9v.9h-.9zM69.5 77.0h.9v.9h-.9zM71.4 77.2h.9v.9h-.9zM80.0 64.0h.9v.9h-.9zM78.5 72.6h.9v.9h-.9zM85.3 61.7h.9v.9h-.9zM80.4 70.4h.9v.9h-.9zM78.7 78.8h.9v.9h-.9zM85.4 62.4h.9v.9h-.9zM77.4 75.1h.9v.9h-.9zM80.9 67.4h.9v.9h-.9zM69.8 78.7h.9v.9h-.9zM81.1 68.5h.9v.9h-.9zM78.3 74.4h.9v.9h-.9zM75.9 70.4h.9v.9h-.9zM77.3 76.1h.9v.9h-.9zM79.2 75.4h.9v.9h-.9zM80.5 69.7h.9v.9h-.9zM76.3 65.1h.9v.9h-.9zM83.5 72.5h.9v.9h-.9zM76.1 73.6h.9v.9h-.9zM69.5 77.0h.9v.9h-.9zM73.1 73.6h.9v.9h-.9zM85.5 68.4h.9v.9h-.9zM76.0 62.7h.9v.9h-.9zM87.9 61.5h.9v.9h-.9zM72.4 71.6h.9v.9h-.9zM77.3 66.7h.9v.9h-.9zM76.4 73.4h.9v.9h-.9zM79.6 68.2h.9v.9h-.9zM76.7 67.5h.9v.9h-.9zM80.9 64.2h.9v.9h-.9zM77.9 76.4h.9v.9h-.9zM83.5 62.6h.9v.9h-.9zM77.0 69.5h.9v.9h-.9zM87.3 61.2h.9v.9h-.9zM81.6 77.5h.9v.9h-.9zM80.4 63.4h.9v.9h-.9zM78.5 69.8h.9v.9h-.9zM70.9 77.7h.9v.9h-.9zM74.1 65.5h.9v.9h-.9zM74.2 72.9h.9v.9h-.9zM74.8 67.2h.9v.9h-.9zM80.4 78.8h.9v.9h-.9zM83.8 63.8h.9v.9h-.9zM78.7 64.8h.9v.9h-.9zM79.7 70.2h.9v.9h-.9zM73.3 73.6h.9v.9h-.9zM82.5 72.8h.9v.9h-.9zM82.8 62.7h.9v.9h-.9zM83.3 66.5h.9v.9h-.9zM78.4 62.7h.9v.9h-.9zM77.2 73.6h.9v.9h-.9zM82.5 66.1h.9v.9h-.9zM75.2 77.2h.9v.9h-.9zM72.6 71.2h.9v.9h-.9zM84.6 60.8h.9v.9h-.9zM87.5 59.1h.9v.9h-.9zM80.6 65.8h.9v.9h-.9zM85.4 65.8h.9v.9h-.9zM76.1 76.8h.9v.9h-.9zM81.7 74.0h.9v.9h-.9zM74.6 67.5h.9v.9h-.9zM82.0 64.6h.9v.9h-.9zM81.2 61.9h.9v.9h-.9zM80.5 62.7h.9v.9h-.9zM82.6 72.5h.9v.9h-.9zM78.5 61.6h.9v.9h-.9zM78.8 73.1h.9v.9h-.9zM76.8 68.8h.9v.9h-.9zM81.1 71.6h.9v.9h-.9zM81.4 71.3h.9v.9h-.9zM77.6 60.1h.9v.9h-.9zM71.4 73.5h.9v.9h-.9zM72.4 74.7h.9v.9h-.9zM78.3 64.4h.9v.9h-.9zM79.5 77.8h.9v.9h-.9zM79.9 75.7h.9v.9h-.9zM82.6 69.1h.9v.9h-.9zM75.0 71.4h.9v.9h-.9zM83.2 61.1h.9v.9h-.9zM82.5 62.8h.9v.9h-.9zM80.9 78.3h.9v.9h-.9zM69.4 75.5h.9v.9h-.9zM78.8 64.6h.9v.9h-.9zM78.7 70.7h.9v.9h-.9zM77.5 66.5h.9v.9h-.9zM85.1 64.8h.9v.9h-.9zM72.8 73.7h.9v.9h-.9zM82.4 73.1h.9v.9h-.9zM77.6 63.2h.9v.9h-.9zM73.9 72.8h.9v.9h-.9zM82.6 60.9h.9v.9h-.9zM84.6 61.8h.9v.9h-.9zM87.2 68.0h.9v.9h-.9zM83.2 62.0h.9v.9h-.9zM80.5 69.5h.9v.9h-.9zM82.6 70.6h.9v.9h-.9zM84.2 65.3h.9v.9h-.9zM75.5 72.8h.9v.9h-.9zM82.7 62.4h.9v.9h-.9zM75.2 62.1h.9v.9h-.9zM75.4 71.5h.9v.9h-.9zM82.1 59.4h.9v.9h-.9zM72.8 72.9h.9v.9h-.9zM81.3 77.4h.9v.9h-.9zM81.5 59.3h.9v.9h-.9zM72.8 75.3h.9v.9h-.9zM76.2 70.7h.9v.9h-.9zM70.3 75.5h.9v.9h-.9zM79.2 75.7h.9v.9h-.9zM74.2 78.5h.9v.9h-.9zM76.7 76.1h.9v.9h-.9zM77.3 74.0h.9v.9h-.9zM83.6 75.1h.9v.9h-.9zM74.9 75.4h.9v.9h-.9zM81.4 61.9h.9v.9h-.9zM77.7 75.5h.9v.9h-.9zM81.4 71.7h.9v.9h-.9zM85.5 64.8h.9v.9h-.9zM85.7 68.2h.9v.9h-.9zM75.7 62.4h.9v.9h-.9zM83.7 65.0h.9v.9h-.9zM83.2 72.3h.9v.9h-.9zM74.3 71.3h.9v.9h-.9zM79.6 77.0h.9v.9h-.9zM85.1 64.5h.9v.9h-.9zM85.4 63.8h.9v.9h-.9zM80.8 73.9h.9v.9h-.9zM79.5 77.8h.9v.9h-.9zM85.6 66.8h.9v.9h-.9zM84.1 65.8h.9v.9h-.9zM78.7 61.0h.9v.9h-.9zM80.4 63.9h.9v.9h-.9zM72.7 76.9h.9v.9h-.9zM73.4 79.5h.9v.9h-.9zM72.6 70.5h.9v.9h-.9zM76.2 76.6h.9v.9h-.9zM86.0 64.5h.9v.9h-.9zM83.8 71.7h.9v.9h-.9zM69.5 77.3h.9v.9h-.9zM83.5 66.1h.9v.9h-.9zM74.1 71.5h.9v.9h-.9zM82.2 72.8h.9v.9h-.9zM76.6 62.9h.9v.9h-.9zM77.2 65.0h.9v.9h-.9zM73.8 73.5h.9v.9h-.9zM76.9 65.8h.9v.9h-.9zM84.4 62.9h.9v.9h-.9zM78.5 64.3h.9v.9h-.9zM80.4 73.9h.9v.9h-.9zM85.4 70.0h.9v.9h-.9zM78.7 71.4h.9v.9h-.9zM76.3 75.6h.9v.9h-.9zM86.7 64.9h.9v.9h-.9zM73.7 72.2h.9v.9h-.9zM84.3 68.4h.9v.9h-.9zM84.3 62.5h.9v.9h-.9zM72.4 70.8h.9v.9h-.9zM80.2 68.2h.9v.9h-.9zM78.3 71.9h.9v.9h-.9zM70.0 78.1h.9v.9h-.9zM87.8 62.5h.9v.9h-.9zM84.7 70.1h.9v.9h-.9zM82.8 71.2h.9v.9h-.9zM80.7 70.5h.9v.9h-.9zM79.2 69.3h.9v.9h-.9zM81.1 74.6h.9v.9h-.9zM78.6 69.0h.9v.9h-.9zM80.9 67.7h.9v.9h-.9zM80.4 72.5h.9v.9h-.9zM77.8 71.9h.9v.9h-.9zM80.9 61.9h.9v.9h-.9zM77.2 66.9h.9v.9h-.9zM74.8 77.8h.9v.9h-.9zM79.9 62.8h.9v.9h-.9zM82.2 69.2h.9v.9h-.9zM81.0 71.4h.9v.9h-.9zM86.3 62.0h.9v.9h-.9zM83.8 64.2h.9v.9h-.9zM77.3 66.0h.9v.9h-.9zM77.6 70.7h.9v.9h-.9zM85.5 64.5h.9v.9h-.9zM71.9 74.6h.9v.9h-.9zM79.9 72.3h.9v.9h-.9zM75.0 76.5h.9v.9h-.9zM85.9 64.1h.9v.9h-.9zM79.2 70.2h.9v.9h-.9zM80.3 75.8h.9v.9h-.9zM75.9 67.6h.9v.9h-.9zM73.7 70.2h.9v.9h-.9zM84.7 67.9h.9v.9h-.9zM82.1 72.0h.9v.9h-.9zM79.5 71.3h.9v.9h-.9zM79.8 74.3h.9v.9h-.9zM70.1 78.2h.9v.9h-.9zM75.1 74.8h.9v.9h-.9zM80.7 73.7h.9v.9h-.9zM84.7 65.9h.9v.9h-.9zM76.0 69.5h.9v.9h-.9zM70.5 77.3h.9v.9h-.9zM80.9 78.2h.9v.9h-.9zM86.1 63.2h.9v.9h-.9zM75.6 72.2h.9v.9h-.9zM84.7 62.7h.9v.9h-.9zM86.6 61.0h.9v.9h-.9zM75.2 67.9h.9v.9h-.9zM87.2 62.8h.9v.9h-.9zM79.3 70.7h.9v.9h-.9zM76.8 70.2h.9v.9h-.9zM76.5 68.1h.9v.9h-.9zM79.4 75.0h.9v.9h-.9zM80.0 69.7h.9v.9h-.9zM79.8 65.8h.9v.9h-.9zM77.7 65.2h.9v.9h-.9zM87.3 60.3h.9v.9h-.9zM75.4 72.5h.9v.9h-.9zM76.8 72.4h.9v.9h-.9zM81.7 68.0h.9v.9h-.9zM71.6 73.4h.9v.9h-.9zM86.3 65.1h.9v.9h-.9zM83.5 63.4h.9v.9h-.9zM88.7 60.6h.9v.9h-.9zM80.1 63.2h.9v.9h-.9zM78.8 67.7h.9v.9h-.9zM77.8 67.2h.9v.9h-.9zM76.5 69.6h.9v.9h-.9zM80.0 61.5h.9v.9h-.9zM87.7 58.2h.9v.9h-.9zM77.4 72.4h.9v.9h-.9zM85.1 68.6h.9v.9h-.9zM75.2 74.5h.9v.9h-.9zM72.4 76.0h.9v.9h-.9zM73.7 67.1h.9v.9h-.9zM84.1 66.9h.9v.9h-.9zM72.5 71.1h.9v.9h-.9zM81.4 63.6h.9v.9h-.9zM79.0 74.3h.9v.9h-.9zM77.9 67.6h.9v.9h-.9zM85.3 64.6h.9v.9h-.9zM83.2 68.7h.9v.9h-.9zM71.9 73.8h.9v.9h-.9zM74.2 74.1h.9v.9h-.9zM79.9 75.2h.9v.9h-.9zM81.8 59.7h.9v.9h-.9zM81.1 63.5h.9v.9h-.9zM81.7 67.1h.9v.9h-.9zM88.9 62.3h.9v.9h-.9zM83.8 68.7h.9v.9h-.9zM78.3 66.9h.9v.9h-.9zM82.5 70.2h.9v.9h-.9zM79.7 67.8h.9v.9h-.9zM85.5 66.0h.9v.9h-.9zM79.3 73.7h.9v.9h-.9zM74.5 80.0h.9v.9h-.9zM67.3 85.2h.9v.9h-.9zM77.7 79.4h.9v.9h-.9zM76.8 87.9h.9v.9h-.9zM65.0 87.7h.9v.9h-.9zM65.7 84.8h.9v.9h-.9zM68.7 85.9h.9v.9h-.9zM62.9 87.3h.9v.9h-.9zM56.3 82.9h.9v.9h-.9zM67.0 92.3h.9v.9h-.9zM74.3 82.5h.9v.9h-.9zM64.8 85.0h.9v.9h-.9zM66.5 95.4h.9v.9h-.9zM52.3 85.1h.9v.9h-.9zM54.4 89.7h.9v.9h-.9zM65.4 92.4h.9v.9h-.9zM67.1 89.9h.9v.9h-.9zM72.1 90.4h.9v.9h-.9zM70.9 70.7h.9v.9h-.9zM65.9 77.4h.9v.9h-.9zM77.0 87.4h.9v.9h-.9zM70.8 87.0h.9v.9h-.9zM72.0 82.1h.9v.9h-.9zM83.7 85.9h.9v.9h-.9zM69.5 77.9h.9v.9h-.9zM66.6 84.9h.9v.9h-.9zM69.6 82.5h.9v.9h-.9zM70.4 79.5h.9v.9h-.9zM70.8 77.5h.9v.9h-.9zM65.0 81.3h.9v.9h-.9zM76.5 87.1h.9v.9h-.9zM71.2 79.4h.9v.9h-.9zM68.1 88.6h.9v.9h-.9zM79.1 77.8h.9v.9h-.9zM67.9 85.3h.9v.9h-.9zM73.1 84.9h.9v.9h-.9zM75.2 78.0h.9v.9h-.9zM81.1 79.4h.9v.9h-.9zM71.1 87.3h.9v.9h-.9zM78.5 89.1h.9v.9h-.9zM76.6 90.9h.9v.9h-.9zM69.8 88.4h.9v.9h-.9zM81.0 81.2h.9v.9h-.9zM61.5 80.1h.9v.9h-.9zM80.2 90.8h.9v.9h-.9zM68.4 86.0h.9v.9h-.9zM74.0 89.9h.9v.9h-.9zM58.3 82.2h.9v.9h-.9zM69.1 86.4h.9v.9h-.9zM71.3 83.4h.9v.9h-.9zM72.8 72.6h.9v.9h-.9zM91.4 88.8h.9v.9h-.9zM76.8 81.8h.9v.9h-.9zM73.6 94.7h.9v.9h-.9zM83.0 85.3h.9v.9h-.9zM62.6 85.7h.9v.9h-.9zM68.9 89.0h.9v.9h-.9zM62.3 84.0h.9v.9h-.9zM72.7 82.7h.9v.9h-.9zM77.9 79.5h.9v.9h-.9zM62.6 83.2h.9v.9h-.9zM76.4 83.5h.9v.9h-.9zM66.9 88.8h.9v.9h-.9zM72.4 82.4h.9v.9h-.9zM71.7 83.8h.9v.9h-.9zM75.0 85.6h.9v.9h-.9zM65.5 82.6h.9v.9h-.9zM68.1 86.7h.9v.9h-.9zM73.4 80.9h.9v.9h-.9zM69.6 86.4h.9v.9h-.9zM78.2 86.1h.9v.9h-.9zM83.9 85.0h.9v.9h-.9zM75.8 83.3h.9v.9h-.9zM64.2 85.4h.9v.9h-.9zM74.1 86.5h.9v.9h-.9zM71.8 83.3h.9v.9h-.9zM65.4 83.5h.9v.9h-.9zM74.0 89.5h.9v.9h-.9zM48.8 87.8h.9v.9h-.9zM78.1 91.0h.9v.9h-.9zM73.4 88.1h.9v.9h-.9zM67.9 84.5h.9v.9h-.9zM74.4 79.7h.9v.9h-.9zM65.6 85.9h.9v.9h-.9zM61.9 85.2h.9v.9h-.9zM60.9 85.8h.9v.9h-.9zM71.1 82.2h.9v.9h-.9zM64.6 82.5h.9v.9h-.9zM55.8 83.0h.9v.9h-.9zM71.7 90.7h.9v.9h-.9zM67.5 84.1h.9v.9h-.9zM80.2 93.2h.9v.9h-.9zM67.6 89.9h.9v.9h-.9zM78.8 87.4h.9v.9h-.9zM64.2 80.4h.9v.9h-.9zM74.7 96.1h.9v.9h-.9zM69.7 92.4h.9v.9h-.9zM83.6 78.9h.9v.9h-.9zM66.8 92.1h.9v.9h-.9zM77.4 87.5h.9v.9h-.9zM70.8 87.9h.9v.9h-.9zM66.6 96.9h.9v.9h-.9zM63.1 76.3h.9v.9h-.9zM71.9 91.8h.9v.9h-.9zM67.6 84.6h.9v.9h-.9zM64.0 84.6h.9v.9h-.9zM64.0 80.1h.9v.9h-.9zM61.0 82.3h.9v.9h-.9zM83.4 84.6h.9v.9h-.9zM72.2 95.6h.9v.9h-.9zM66.6 80.1h.9v.9h-.9zM74.4 79.0h.9v.9h-.9zM73.1 90.5h.9v.9h-.9zM63.6 82.4h.9v.9h-.9zM82.3 79.8h.9v.9h-.9zM66.3 86.0h.9v.9h-.9zM68.7 80.8h.9v.9h-.9zM81.6 82.1h.9v.9h-.9zM73.1 82.9h.9v.9h-.9zM69.3 78.3h.9v.9h-.9zM77.1 82.8h.9v.9h-.9zM79.4 79.3h.9v.9h-.9zM67.6 87.2h.9v.9h-.9zM71.6 81.7h.9v.9h-.9zM69.9 78.7h.9v.9h-.9zM71.2 72.2h.9v.9h-.9zM72.0 91.4h.9v.9h-.9zM76.9 89.0h.9v.9h-.9zM68.0 87.3h.9v.9h-.9zM68.2 84.5h.9v.9h-.9zM70.2 68.7h.9v.9h-.9zM77.1 87.1h.9v.9h-.9zM76.5 80.3h.9v.9h-.9zM75.5 87.2h.9v.9h-.9zM55.8 76.4h.9v.9h-.9zM71.2 81.7h.9v.9h-.9zM70.7 81.8h.9v.9h-.9zM80.9 75.8h.9v.9h-.9zM61.7 80.2h.9v.9h-.9zM61.7 82.1h.9v.9h-.9zM74.7 58.8h.9v.9h-.9zM77.3 76.7h.9v.9h-.9zM82.2 81.4h.9v.9h-.9zM82.5 67.7h.9v.9h-.9zM86.9 72.6h.9v.9h-.9zM87.5 66.6h.9v.9h-.9zM60.7 60.0h.9v.9h-.9zM76.1 71.6h.9v.9h-.9zM73.5 74.7h.9v.9h-.9zM67.2 63.2h.9v.9h-.9zM81.6 68.3h.9v.9h-.9zM75.6 77.4h.9v.9h-.9zM82.3 62.6h.9v.9h-.9zM76.3 56.5h.9v.9h-.9zM74.9 70.6h.9v.9h-.9zM63.3 78.5h.9v.9h-.9zM88.4 71.3h.9v.9h-.9zM81.2 78.1h.9v.9h-.9zM73.8 75.0h.9v.9h-.9zM77.6 57.7h.9v.9h-.9zM68.9 64.2h.9v.9h-.9zM82.2 68.7h.9v.9h-.9zM81.6 64.8h.9v.9h-.9zM66.4 81.9h.9v.9h-.9zM93.4 70.6h.9v.9h-.9zM73.7 76.0h.9v.9h-.9zM67.5 66.6h.9v.9h-.9zM65.3 71.3h.9v.9h-.9zM76.7 65.3h.9v.9h-.9zM70.6 57.8h.9v.9h-.9zM69.4 76.3h.9v.9h-.9zM72.6 76.5h.9v.9h-.9zM69.2 67.5h.9v.9h-.9zM71.9 66.3h.9v.9h-.9zM80.2 54.2h.9v.9h-.9zM80.0 72.7h.9v.9h-.9zM75.0 68.5h.9v.9h-.9zM73.5 72.7h.9v.9h-.9zM75.4 62.3h.9v.9h-.9zM76.0 74.4h.9v.9h-.9zM77.5 68.2h.9v.9h-.9zM76.4 64.7h.9v.9h-.9zM71.9 55.3h.9v.9h-.9zM73.8 74.6h.9v.9h-.9zM72.4 61.9h.9v.9h-.9zM81.1 69.1h.9v.9h-.9zM76.0 71.2h.9v.9h-.9zM79.7 67.7h.9v.9h-.9zM69.4 79.7h.9v.9h-.9zM75.4 62.8h.9v.9h-.9zM76.3 76.0h.9v.9h-.9zM65.5 76.8h.9v.9h-.9zM74.1 81.4h.9v.9h-.9zM79.5 67.3h.9v.9h-.9zM83.4 76.6h.9v.9h-.9zM72.7 69.6h.9v.9h-.9zM71.6 74.2h.9v.9h-.9zM65.6 66.8h.9v.9h-.9zM60.8 72.0h.9v.9h-.9zM60.1 61.0h.9v.9h-.9zM75.9 60.2h.9v.9h-.9zM73.5 58.7h.9v.9h-.9zM73.5 56.8h.9v.9h-.9zM76.1 62.9h.9v.9h-.9zM77.6 60.9h.9v.9h-.9zM79.1 62.1h.9v.9h-.9zM78.2 61.9h.9v.9h-.9zM75.1 59.2h.9v.9h-.9zM66.2 62.5h.9v.9h-.9zM74.6 65.7h.9v.9h-.9zM68.4 63.0h.9v.9h-.9zM71.9 61.0h.9v.9h-.9zM72.1 61.8h.9v.9h-.9zM74.9 63.1h.9v.9h-.9zM75.5 62.2h.9v.9h-.9zM79.3 62.2h.9v.9h-.9zM74.6 64.0h.9v.9h-.9zM74.6 62.0h.9v.9h-.9zM73.9 59.4h.9v.9h-.9zM65.0 62.7h.9v.9h-.9zM71.2 62.8h.9v.9h-.9zM81.0 57.9h.9v.9h-.9zM77.9 60.8h.9v.9h-.9zM76.5 58.2h.9v.9h-.9zM75.1 61.4h.9v.9h-.9zM79.8 66.1h.9v.9h-.9zM76.1 60.2h.9v.9h-.9zM82.4 60.8h.9v.9h-.9zM74.8 61.3h.9v.9h-.9zM76.6 62.7h.9v.9h-.9zM73.1 60.8h.9v.9h-.9zM81.3 64.8h.9v.9h-.9zM76.5 61.7h.9v.9h-.9zM74.3 63.5h.9v.9h-.9zM73.3 61.3h.9v.9h-.9zM73.5 59.6h.9v.9h-.9zM75.2 61.0h.9v.9h-.9zM73.1 60.9h.9v.9h-.9zM75.3 59.9h.9v.9h-.9zM72.9 60.7h.9v.9h-.9zM77.4 63.7h.9v.9h-.9zM75.7 60.4h.9v.9h-.9zM75.0 65.6h.9v.9h-.9zM78.1 58.8h.9v.9h-.9zM74.9 59.8h.9v.9h-.9zM73.8 57.0h.9v.9h-.9zM75.1 57.8h.9v.9h-.9zM73.1 64.6h.9v.9h-.9zM78.4 59.0h.9v.9h-.9zM71.6 58.9h.9v.9h-.9zM68.8 58.7h.9v.9h-.9zM74.2 58.6h.9v.9h-.9zM77.6 60.9h.9v.9h-.9zM73.3 65.2h.9v.9h-.9zM77.4 61.2h.9v.9h-.9zM81.2 64.2h.9v.9h-.9zM72.7 61.8h.9v.9h-.9zM73.6 57.6h.9v.9h-.9zM81.4 64.6h.9v.9h-.9zM70.8 62.2h.9v.9h-.9zM69.6 63.6h.9v.9h-.9zM74.9 60.4h.9v.9h-.9zM79.3 61.1h.9v.9h-.9zM74.2 63.2h.9v.9h-.9zM74.1 63.1h.9v.9h-.9zM75.1 63.0h.9v.9h-.9zM77.2 62.9h.9v.9h-.9zM71.7 65.5h.9v.9h-.9zM74.5 65.3h.9v.9h-.9zM73.1 60.4h.9v.9h-.9zM74.2 63.8h.9v.9h-.9zM73.6 62.0h.9v.9h-.9zM69.8 59.9h.9v.9h-.9zM75.8 60.8h.9v.9h-.9zM68.8 62.2h.9v.9h-.9zM71.8 65.7h.9v.9h-.9zM74.4 66.5h.9v.9h-.9zM77.3 62.2h.9v.9h-.9zM73.5 60.8h.9v.9h-.9zM76.6 56.4h.9v.9h-.9zM78.4 58.2h.9v.9h-.9zM74.2 54.5h.9v.9h-.9zM76.6 62.8h.9v.9h-.9zM76.0 61.8h.9v.9h-.9zM73.8 61.4h.9v.9h-.9zM79.1 60.0h.9v.9h-.9zM76.8 62.8h.9v.9h-.9zM74.3 61.6h.9v.9h-.9zM75.8 59.9h.9v.9h-.9zM83.3 60.0h.9v.9h-.9zM80.8 63.6h.9v.9h-.9zM68.2 61.7h.9v.9h-.9zM78.6 63.0h.9v.9h-.9zM72.0 61.7h.9v.9h-.9zM71.0 58.5h.9v.9h-.9zM74.3 61.5h.9v.9h-.9zM80.5 61.9h.9v.9h-.9zM78.7 58.1h.9v.9h-.9zM71.1 59.9h.9v.9h-.9zM81.0 57.8h.9v.9h-.9zM69.7 60.9h.9v.9h-.9zM79.1 57.1h.9v.9h-.9zM74.2 57.8h.9v.9h-.9zM80.0 62.7h.9v.9h-.9zM76.0 60.9h.9v.9h-.9zM74.3 61.4h.9v.9h-.9zM72.9 58.9h.9v.9h-.9zM71.3 61.1h.9v.9h-.9zM72.3 63.2h.9v.9h-.9zM67.9 62.4h.9v.9h-.9zM76.9 64.0h.9v.9h-.9zM74.2 57.4h.9v.9h-.9zM71.9 63.8h.9v.9h-.9zM74.0 60.0h.9v.9h-.9zM73.1 60.9h.9v.9h-.9zM74.3 57.2h.9v.9h-.9zM73.0 63.5h.9v.9h-.9zM80.0 60.7h.9v.9h-.9zM73.3 64.3h.9v.9h-.9zM74.4 58.2h.9v.9h-.9zM85.8 103.2h.9v.9h-.9zM118.5 89.4h.9v.9h-.9zM98.7 91.3h.9v.9h-.9zM110.4 98.1h.9v.9h-.9zM93.3 83.6h.9v.9h-.9zM82.0 91.3h.9v.9h-.9zM88.0 92.7h.9v.9h-.9zM81.2 95.4h.9v.9h-.9zM92.9 79.9h.9v.9h-.9zM90.6 96.4h.9v.9h-.9zM88.7 77.8h.9v.9h-.9zM85.5 80.1h.9v.9h-.9zM95.0 110.5h.9v.9h-.9zM105.1 91.1h.9v.9h-.9zM77.6 88.5h.9v.9h-.9zM95.0 87.3h.9v.9h-.9zM77.7 65.8h.9v.9h-.9zM71.6 85.9h.9v.9h-.9zM77.7 109.3h.9v.9h-.9zM61.8 79.6h.9v.9h-.9zM99.8 83.6h.9v.9h-.9z" fill="#000"/>
<line x1="34.00" y1="23.40" x2="34.00" y2="114.20" stroke="#000" stroke-width="1.5"/>
<line x1="33.20" y1="113.40" x2="129.40" y2="113.40" stroke="#000" stroke-width="1.6"/>
<line x1="34.00" y1="113.40" x2="34.00" y2="115.20" stroke="#000" stroke-width="0.9"/>
<line x1="31.40" y1="113.40" x2="34.00" y2="113.40" stroke="#000" stroke-width="0.9"/>
<line x1="41.14" y1="113.40" x2="41.14" y2="114.50" stroke="#000" stroke-width="0.6"/>
<line x1="32.70" y1="106.66" x2="34.00" y2="106.66" stroke="#000" stroke-width="0.6"/>
<line x1="45.32" y1="113.40" x2="45.32" y2="114.50" stroke="#000" stroke-width="0.6"/>
<line x1="32.70" y1="102.72" x2="34.00" y2="102.72" stroke="#000" stroke-width="0.6"/>
<line x1="48.28" y1="113.40" x2="48.28" y2="114.50" stroke="#000" stroke-width="0.6"/>
<line x1="32.70" y1="99.93" x2="34.00" y2="99.93" stroke="#000" stroke-width="0.6"/>
<line x1="50.58" y1="113.40" x2="50.58" y2="114.50" stroke="#000" stroke-width="0.6"/>
<line x1="32.70" y1="97.76" x2="34.00" y2="97.76" stroke="#000" stroke-width="0.6"/>
<line x1="52.46" y1="113.40" x2="52.46" y2="114.50" stroke="#000" stroke-width="0.6"/>
<line x1="32.70" y1="95.99" x2="34.00" y2="95.99" stroke="#000" stroke-width="0.6"/>
<line x1="54.05" y1="113.40" x2="54.05" y2="114.50" stroke="#000" stroke-width="0.6"/>
<line x1="32.70" y1="94.49" x2="34.00" y2="94.49" stroke="#000" stroke-width="0.6"/>
<line x1="55.43" y1="113.40" x2="55.43" y2="114.50" stroke="#000" stroke-width="0.6"/>
<line x1="32.70" y1="93.19" x2="34.00" y2="93.19" stroke="#000" stroke-width="0.6"/>
<line x1="56.64" y1="113.40" x2="56.64" y2="114.50" stroke="#000" stroke-width="0.6"/>
<line x1="32.70" y1="92.05" x2="34.00" y2="92.05" stroke="#000" stroke-width="0.6"/>
<text x="33.30" y="123.00" font-size="6.6" fill="#2a2a2a" font-weight="bold" text-anchor="middle" textLength="5.9" lengthAdjust="spacingAndGlyphs">10</text>
<text x="36.80" y="119.60" font-size="5.4" fill="#2a2a2a" font-weight="bold">0</text>
<g transform="translate(29.30,113.40) rotate(-90)"><text x="-2.6" y="0" font-size="6.6" fill="#2a2a2a" font-weight="bold" text-anchor="middle" textLength="5.0" lengthAdjust="spacingAndGlyphs">10</text><text x="1.0" y="-3.3" font-size="5.4" fill="#2a2a2a" font-weight="bold">0</text></g>
<line x1="57.73" y1="113.40" x2="57.73" y2="115.20" stroke="#000" stroke-width="0.9"/>
<line x1="31.40" y1="91.03" x2="34.00" y2="91.03" stroke="#000" stroke-width="0.9"/>
<line x1="64.87" y1="113.40" x2="64.87" y2="114.50" stroke="#000" stroke-width="0.6"/>
<line x1="32.70" y1="84.29" x2="34.00" y2="84.29" stroke="#000" stroke-width="0.6"/>
<line x1="69.04" y1="113.40" x2="69.04" y2="114.50" stroke="#000" stroke-width="0.6"/>
<line x1="32.70" y1="80.35" x2="34.00" y2="80.35" stroke="#000" stroke-width="0.6"/>
<line x1="72.01" y1="113.40" x2="72.01" y2="114.50" stroke="#000" stroke-width="0.6"/>
<line x1="32.70" y1="77.55" x2="34.00" y2="77.55" stroke="#000" stroke-width="0.6"/>
<line x1="74.31" y1="113.40" x2="74.31" y2="114.50" stroke="#000" stroke-width="0.6"/>
<line x1="32.70" y1="75.39" x2="34.00" y2="75.39" stroke="#000" stroke-width="0.6"/>
<line x1="76.19" y1="113.40" x2="76.19" y2="114.50" stroke="#000" stroke-width="0.6"/>
<line x1="32.70" y1="73.61" x2="34.00" y2="73.61" stroke="#000" stroke-width="0.6"/>
<line x1="77.77" y1="113.40" x2="77.77" y2="114.50" stroke="#000" stroke-width="0.6"/>
<line x1="32.70" y1="72.12" x2="34.00" y2="72.12" stroke="#000" stroke-width="0.6"/>
<line x1="79.15" y1="113.40" x2="79.15" y2="114.50" stroke="#000" stroke-width="0.6"/>
<line x1="32.70" y1="70.82" x2="34.00" y2="70.82" stroke="#000" stroke-width="0.6"/>
<line x1="80.36" y1="113.40" x2="80.36" y2="114.50" stroke="#000" stroke-width="0.6"/>
<line x1="32.70" y1="69.67" x2="34.00" y2="69.67" stroke="#000" stroke-width="0.6"/>
<text x="57.02" y="123.00" font-size="6.6" fill="#2a2a2a" font-weight="bold" text-anchor="middle" textLength="5.9" lengthAdjust="spacingAndGlyphs">10</text>
<text x="60.52" y="119.60" font-size="5.4" fill="#2a2a2a" font-weight="bold">1</text>
<g transform="translate(29.30,91.03) rotate(-90)"><text x="-2.6" y="0" font-size="6.6" fill="#2a2a2a" font-weight="bold" text-anchor="middle" textLength="5.0" lengthAdjust="spacingAndGlyphs">10</text><text x="1.0" y="-3.3" font-size="5.4" fill="#2a2a2a" font-weight="bold">1</text></g>
<line x1="81.45" y1="113.40" x2="81.45" y2="115.20" stroke="#000" stroke-width="0.9"/>
<line x1="31.40" y1="68.65" x2="34.00" y2="68.65" stroke="#000" stroke-width="0.9"/>
<line x1="88.59" y1="113.40" x2="88.59" y2="114.50" stroke="#000" stroke-width="0.6"/>
<line x1="32.70" y1="61.91" x2="34.00" y2="61.91" stroke="#000" stroke-width="0.6"/>
<line x1="92.77" y1="113.40" x2="92.77" y2="114.50" stroke="#000" stroke-width="0.6"/>
<line x1="32.70" y1="57.97" x2="34.00" y2="57.97" stroke="#000" stroke-width="0.6"/>
<line x1="95.73" y1="113.40" x2="95.73" y2="114.50" stroke="#000" stroke-width="0.6"/>
<line x1="32.70" y1="55.18" x2="34.00" y2="55.18" stroke="#000" stroke-width="0.6"/>
<line x1="98.03" y1="113.40" x2="98.03" y2="114.50" stroke="#000" stroke-width="0.6"/>
<line x1="32.70" y1="53.01" x2="34.00" y2="53.01" stroke="#000" stroke-width="0.6"/>
<line x1="99.91" y1="113.40" x2="99.91" y2="114.50" stroke="#000" stroke-width="0.6"/>
<line x1="32.70" y1="51.24" x2="34.00" y2="51.24" stroke="#000" stroke-width="0.6"/>
<line x1="101.50" y1="113.40" x2="101.50" y2="114.50" stroke="#000" stroke-width="0.6"/>
<line x1="32.70" y1="49.74" x2="34.00" y2="49.74" stroke="#000" stroke-width="0.6"/>
<line x1="102.88" y1="113.40" x2="102.88" y2="114.50" stroke="#000" stroke-width="0.6"/>
<line x1="32.70" y1="48.44" x2="34.00" y2="48.44" stroke="#000" stroke-width="0.6"/>
<line x1="104.09" y1="113.40" x2="104.09" y2="114.50" stroke="#000" stroke-width="0.6"/>
<line x1="32.70" y1="47.30" x2="34.00" y2="47.30" stroke="#000" stroke-width="0.6"/>
<text x="80.75" y="123.00" font-size="6.6" fill="#2a2a2a" font-weight="bold" text-anchor="middle" textLength="5.9" lengthAdjust="spacingAndGlyphs">10</text>
<text x="84.25" y="119.60" font-size="5.4" fill="#2a2a2a" font-weight="bold">2</text>
<g transform="translate(29.30,68.65) rotate(-90)"><text x="-2.6" y="0" font-size="6.6" fill="#2a2a2a" font-weight="bold" text-anchor="middle" textLength="5.0" lengthAdjust="spacingAndGlyphs">10</text><text x="1.0" y="-3.3" font-size="5.4" fill="#2a2a2a" font-weight="bold">2</text></g>
<line x1="105.18" y1="113.40" x2="105.18" y2="115.20" stroke="#000" stroke-width="0.9"/>
<line x1="31.40" y1="46.28" x2="34.00" y2="46.28" stroke="#000" stroke-width="0.9"/>
<line x1="112.32" y1="113.40" x2="112.32" y2="114.50" stroke="#000" stroke-width="0.6"/>
<line x1="32.70" y1="39.54" x2="34.00" y2="39.54" stroke="#000" stroke-width="0.6"/>
<line x1="116.49" y1="113.40" x2="116.49" y2="114.50" stroke="#000" stroke-width="0.6"/>
<line x1="32.70" y1="35.60" x2="34.00" y2="35.60" stroke="#000" stroke-width="0.6"/>
<line x1="119.46" y1="113.40" x2="119.46" y2="114.50" stroke="#000" stroke-width="0.6"/>
<line x1="32.70" y1="32.80" x2="34.00" y2="32.80" stroke="#000" stroke-width="0.6"/>
<line x1="121.76" y1="113.40" x2="121.76" y2="114.50" stroke="#000" stroke-width="0.6"/>
<line x1="32.70" y1="30.64" x2="34.00" y2="30.64" stroke="#000" stroke-width="0.6"/>
<line x1="123.64" y1="113.40" x2="123.64" y2="114.50" stroke="#000" stroke-width="0.6"/>
<line x1="32.70" y1="28.86" x2="34.00" y2="28.86" stroke="#000" stroke-width="0.6"/>
<line x1="125.22" y1="113.40" x2="125.22" y2="114.50" stroke="#000" stroke-width="0.6"/>
<line x1="32.70" y1="27.37" x2="34.00" y2="27.37" stroke="#000" stroke-width="0.6"/>
<line x1="126.60" y1="113.40" x2="126.60" y2="114.50" stroke="#000" stroke-width="0.6"/>
<line x1="32.70" y1="26.07" x2="34.00" y2="26.07" stroke="#000" stroke-width="0.6"/>
<line x1="127.81" y1="113.40" x2="127.81" y2="114.50" stroke="#000" stroke-width="0.6"/>
<line x1="32.70" y1="24.92" x2="34.00" y2="24.92" stroke="#000" stroke-width="0.6"/>
<text x="104.48" y="123.00" font-size="6.6" fill="#2a2a2a" font-weight="bold" text-anchor="middle" textLength="5.9" lengthAdjust="spacingAndGlyphs">10</text>
<text x="107.98" y="119.60" font-size="5.4" fill="#2a2a2a" font-weight="bold">3</text>
<g transform="translate(29.30,46.28) rotate(-90)"><text x="-2.6" y="0" font-size="6.6" fill="#2a2a2a" font-weight="bold" text-anchor="middle" textLength="5.0" lengthAdjust="spacingAndGlyphs">10</text><text x="1.0" y="-3.3" font-size="5.4" fill="#2a2a2a" font-weight="bold">3</text></g>
<line x1="128.90" y1="113.40" x2="128.90" y2="115.20" stroke="#000" stroke-width="0.9"/>
<line x1="31.40" y1="23.90" x2="34.00" y2="23.90" stroke="#000" stroke-width="0.9"/>
<text x="128.20" y="123.00" font-size="6.6" fill="#2a2a2a" font-weight="bold" text-anchor="middle" textLength="5.9" lengthAdjust="spacingAndGlyphs">10</text>
<text x="131.70" y="119.60" font-size="5.4" fill="#2a2a2a" font-weight="bold">4</text>
<g transform="translate(29.30,23.90) rotate(-90)"><text x="-2.6" y="0" font-size="6.6" fill="#2a2a2a" font-weight="bold" text-anchor="middle" textLength="5.0" lengthAdjust="spacingAndGlyphs">10</text><text x="1.0" y="-3.3" font-size="5.4" fill="#2a2a2a" font-weight="bold">4</text></g>
<text x="126.30" y="34.80" font-size="10" font-weight="bold" text-anchor="end" fill="#000" stroke="#000" stroke-width="0.15" >88.5%</text>
<text x="126.30" y="110.40" font-size="10" font-weight="bold" text-anchor="end" fill="#000" stroke="#000" stroke-width="0.15" >11.5%</text>
<rect x="149.80" y="23.90" width="93.80" height="90.10" fill="none" stroke="#444" stroke-width="1"/>
<line x1="172.40" y1="23.90" x2="172.40" y2="114.00" stroke="#444" stroke-width="1"/>
<line x1="149.80" y1="77.70" x2="243.60" y2="77.70" stroke="#444" stroke-width="1"/>
<path d="M155.2 68.4h.9v.9h-.9zM157.8 67.1h.9v.9h-.9zM165.0 63.1h.9v.9h-.9zM164.9 73.6h.9v.9h-.9zM152.9 67.5h.9v.9h-.9zM159.7 67.0h.9v.9h-.9zM153.5 66.5h.9v.9h-.9zM154.3 66.3h.9v.9h-.9zM152.8 71.8h.9v.9h-.9zM160.3 65.7h.9v.9h-.9zM155.3 70.1h.9v.9h-.9zM150.8 67.2h.9v.9h-.9zM165.9 71.8h.9v.9h-.9zM158.5 68.1h.9v.9h-.9zM164.3 70.9h.9v.9h-.9zM156.4 73.3h.9v.9h-.9zM152.1 72.2h.9v.9h-.9zM161.4 74.7h.9v.9h-.9zM154.7 73.4h.9v.9h-.9zM164.2 64.7h.9v.9h-.9zM160.1 67.7h.9v.9h-.9zM163.5 70.7h.9v.9h-.9zM153.6 65.8h.9v.9h-.9zM156.6 68.0h.9v.9h-.9zM163.1 62.4h.9v.9h-.9zM159.9 68.0h.9v.9h-.9zM165.5 70.7h.9v.9h-.9zM167.7 61.8h.9v.9h-.9zM158.8 67.8h.9v.9h-.9zM165.3 62.1h.9v.9h-.9zM159.1 67.4h.9v.9h-.9zM165.5 67.0h.9v.9h-.9zM153.1 71.2h.9v.9h-.9zM155.2 69.4h.9v.9h-.9zM154.4 63.5h.9v.9h-.9zM152.1 77.2h.9v.9h-.9zM161.1 65.1h.9v.9h-.9zM165.5 68.4h.9v.9h-.9zM162.7 64.1h.9v.9h-.9zM161.1 74.9h.9v.9h-.9zM162.2 72.2h.9v.9h-.9zM163.7 70.7h.9v.9h-.9zM155.4 68.7h.9v.9h-.9zM152.4 66.4h.9v.9h-.9zM167.9 72.9h.9v.9h-.9zM169.1 72.5h.9v.9h-.9zM163.8 70.2h.9v.9h-.9zM153.8 70.8h.9v.9h-.9zM160.2 76.1h.9v.9h-.9zM157.4 67.0h.9v.9h-.9zM160.8 63.1h.9v.9h-.9zM157.1 72.3h.9v.9h-.9zM150.9 68.5h.9v.9h-.9zM154.5 66.5h.9v.9h-.9zM155.2 73.4h.9v.9h-.9zM155.2 73.1h.9v.9h-.9zM153.0 63.4h.9v.9h-.9zM152.1 65.8h.9v.9h-.9zM158.3 72.2h.9v.9h-.9zM163.0 75.8h.9v.9h-.9zM158.9 70.0h.9v.9h-.9zM154.1 67.8h.9v.9h-.9zM164.8 62.6h.9v.9h-.9zM163.0 79.2h.9v.9h-.9zM164.8 75.1h.9v.9h-.9zM154.1 69.1h.9v.9h-.9zM160.1 67.9h.9v.9h-.9zM155.1 74.1h.9v.9h-.9zM159.9 69.3h.9v.9h-.9zM155.5 64.1h.9v.9h-.9zM154.9 65.6h.9v.9h-.9zM166.3 76.5h.9v.9h-.9zM163.2 67.0h.9v.9h-.9zM159.7 62.9h.9v.9h-.9zM156.0 63.9h.9v.9h-.9zM159.1 61.7h.9v.9h-.9zM157.9 72.0h.9v.9h-.9zM156.9 67.2h.9v.9h-.9zM156.4 71.4h.9v.9h-.9zM152.5 66.3h.9v.9h-.9zM160.2 72.9h.9v.9h-.9zM154.1 68.7h.9v.9h-.9zM157.7 76.7h.9v.9h-.9zM153.6 71.1h.9v.9h-.9zM164.7 66.6h.9v.9h-.9zM161.0 74.5h.9v.9h-.9zM152.9 67.7h.9v.9h-.9zM153.7 67.8h.9v.9h-.9zM160.4 69.5h.9v.9h-.9zM163.4 57.3h.9v.9h-.9zM150.7 64.9h.9v.9h-.9zM158.4 61.9h.9v.9h-.9zM155.3 63.6h.9v.9h-.9zM157.0 65.2h.9v.9h-.9zM156.6 66.6h.9v.9h-.9zM160.5 68.0h.9v.9h-.9zM162.5 71.0h.9v.9h-.9zM154.3 73.1h.9v.9h-.9zM155.9 60.4h.9v.9h-.9zM151.8 66.6h.9v.9h-.9zM158.1 63.8h.9v.9h-.9zM157.0 73.4h.9v.9h-.9zM159.1 63.1h.9v.9h-.9zM152.2 71.1h.9v.9h-.9zM151.4 68.7h.9v.9h-.9zM158.6 62.2h.9v.9h-.9zM153.3 71.8h.9v.9h-.9zM153.7 69.3h.9v.9h-.9zM164.9 68.6h.9v.9h-.9zM160.0 72.5h.9v.9h-.9zM155.6 65.0h.9v.9h-.9zM158.2 67.4h.9v.9h-.9zM169.7 64.7h.9v.9h-.9zM162.3 74.6h.9v.9h-.9zM151.2 68.0h.9v.9h-.9zM163.0 71.7h.9v.9h-.9zM157.5 74.6h.9v.9h-.9zM158.7 67.8h.9v.9h-.9zM151.8 69.2h.9v.9h-.9zM152.7 64.7h.9v.9h-.9zM166.0 64.3h.9v.9h-.9zM154.8 66.2h.9v.9h-.9zM152.3 74.4h.9v.9h-.9zM156.7 67.8h.9v.9h-.9zM156.5 75.3h.9v.9h-.9zM151.2 64.1h.9v.9h-.9zM158.7 64.9h.9v.9h-.9zM160.4 61.2h.9v.9h-.9zM161.4 70.7h.9v.9h-.9zM164.9 65.9h.9v.9h-.9zM163.1 65.0h.9v.9h-.9zM163.7 68.8h.9v.9h-.9zM157.8 71.0h.9v.9h-.9zM164.9 69.0h.9v.9h-.9zM164.2 74.4h.9v.9h-.9zM157.1 63.4h.9v.9h-.9zM160.6 67.0h.9v.9h-.9zM160.5 76.8h.9v.9h-.9zM155.4 67.5h.9v.9h-.9zM151.6 68.0h.9v.9h-.9zM155.6 66.3h.9v.9h-.9zM160.2 73.6h.9v.9h-.9zM160.6 71.1h.9v.9h-.9zM160.3 66.8h.9v.9h-.9zM159.7 62.4h.9v.9h-.9zM159.5 70.4h.9v.9h-.9zM153.0 76.7h.9v.9h-.9zM154.1 66.6h.9v.9h-.9zM162.3 68.6h.9v.9h-.9zM153.1 67.7h.9v.9h-.9zM164.2 75.7h.9v.9h-.9zM163.1 64.4h.9v.9h-.9zM158.5 68.0h.9v.9h-.9zM165.0 64.6h.9v.9h-.9zM155.7 65.4h.9v.9h-.9zM158.7 69.0h.9v.9h-.9zM162.7 60.6h.9v.9h-.9zM151.6 74.5h.9v.9h-.9zM156.2 65.6h.9v.9h-.9zM155.6 64.4h.9v.9h-.9zM155.6 65.3h.9v.9h-.9zM155.2 73.4h.9v.9h-.9zM161.3 70.1h.9v.9h-.9zM165.7 69.2h.9v.9h-.9zM150.5 61.8h.9v.9h-.9zM151.5 63.0h.9v.9h-.9zM159.9 65.9h.9v.9h-.9zM158.2 61.8h.9v.9h-.9zM160.9 72.0h.9v.9h-.9zM159.6 70.0h.9v.9h-.9zM161.5 68.4h.9v.9h-.9zM151.3 62.4h.9v.9h-.9zM153.6 75.8h.9v.9h-.9zM160.8 68.2h.9v.9h-.9zM151.6 65.9h.9v.9h-.9zM159.4 76.3h.9v.9h-.9zM158.2 72.2h.9v.9h-.9zM156.1 67.9h.9v.9h-.9zM166.7 67.4h.9v.9h-.9zM153.0 72.6h.9v.9h-.9zM151.5 70.2h.9v.9h-.9zM163.2 75.5h.9v.9h-.9zM163.5 73.2h.9v.9h-.9zM150.5 69.1h.9v.9h-.9zM161.8 74.6h.9v.9h-.9zM157.2 76.2h.9v.9h-.9zM152.3 63.9h.9v.9h-.9zM155.6 70.7h.9v.9h-.9zM156.3 74.6h.9v.9h-.9zM162.5 73.0h.9v.9h-.9zM154.9 71.1h.9v.9h-.9zM151.7 68.8h.9v.9h-.9zM152.2 74.3h.9v.9h-.9zM152.4 68.8h.9v.9h-.9zM153.3 67.4h.9v.9h-.9zM152.2 68.4h.9v.9h-.9zM152.4 72.8h.9v.9h-.9zM150.4 62.9h.9v.9h-.9zM156.2 64.6h.9v.9h-.9zM156.0 61.3h.9v.9h-.9zM162.5 96.9h.9v.9h-.9zM164.4 86.7h.9v.9h-.9zM156.6 87.3h.9v.9h-.9zM155.1 79.4h.9v.9h-.9zM153.2 80.1h.9v.9h-.9zM162.8 81.2h.9v.9h-.9zM162.4 85.0h.9v.9h-.9zM168.0 83.5h.9v.9h-.9zM162.8 89.9h.9v.9h-.9zM150.4 83.5h.9v.9h-.9zM152.8 91.9h.9v.9h-.9zM150.6 85.2h.9v.9h-.9zM153.5 80.7h.9v.9h-.9zM159.0 90.4h.9v.9h-.9zM162.7 91.1h.9v.9h-.9zM159.5 92.8h.9v.9h-.9zM155.9 93.8h.9v.9h-.9zM166.9 84.9h.9v.9h-.9zM158.1 81.0h.9v.9h-.9zM155.5 81.2h.9v.9h-.9zM156.0 85.9h.9v.9h-.9zM155.3 86.2h.9v.9h-.9zM155.3 93.0h.9v.9h-.9zM159.1 87.8h.9v.9h-.9zM159.2 88.9h.9v.9h-.9zM150.8 85.5h.9v.9h-.9zM152.6 91.3h.9v.9h-.9zM152.0 89.1h.9v.9h-.9zM155.1 93.1h.9v.9h-.9zM153.9 87.1h.9v.9h-.9zM150.9 94.8h.9v.9h-.9zM153.3 92.6h.9v.9h-.9zM152.1 82.5h.9v.9h-.9zM153.0 86.1h.9v.9h-.9zM162.1 94.4h.9v.9h-.9zM153.0 84.8h.9v.9h-.9zM162.5 88.8h.9v.9h-.9zM157.4 94.4h.9v.9h-.9zM161.5 88.7h.9v.9h-.9zM163.3 76.2h.9v.9h-.9zM151.1 86.0h.9v.9h-.9zM151.8 90.7h.9v.9h-.9zM157.1 97.7h.9v.9h-.9zM167.7 97.2h.9v.9h-.9zM156.9 84.2h.9v.9h-.9zM156.9 81.8h.9v.9h-.9zM159.9 87.4h.9v.9h-.9zM151.1 84.5h.9v.9h-.9zM161.8 93.3h.9v.9h-.9zM163.8 89.5h.9v.9h-.9zM168.8 82.7h.9v.9h-.9zM159.8 86.4h.9v.9h-.9zM161.3 84.0h.9v.9h-.9zM151.9 93.8h.9v.9h-.9zM157.6 90.3h.9v.9h-.9zM152.2 92.1h.9v.9h-.9zM158.8 79.2h.9v.9h-.9zM153.8 97.7h.9v.9h-.9zM156.7 88.5h.9v.9h-.9zM152.1 89.3h.9v.9h-.9zM155.4 93.6h.9v.9h-.9zM151.6 92.8h.9v.9h-.9zM166.5 92.1h.9v.9h-.9zM158.5 85.6h.9v.9h-.9zM158.5 93.7h.9v.9h-.9zM163.4 96.0h.9v.9h-.9zM165.1 91.6h.9v.9h-.9zM160.3 91.5h.9v.9h-.9zM150.8 86.4h.9v.9h-.9zM161.7 83.4h.9v.9h-.9zM157.9 97.7h.9v.9h-.9zM163.1 84.4h.9v.9h-.9zM159.5 90.2h.9v.9h-.9zM164.7 90.5h.9v.9h-.9zM155.9 95.5h.9v.9h-.9zM152.9 85.3h.9v.9h-.9zM167.6 83.6h.9v.9h-.9zM152.8 88.9h.9v.9h-.9zM164.6 94.9h.9v.9h-.9zM169.8 83.7h.9v.9h-.9zM158.7 83.1h.9v.9h-.9zM156.4 82.5h.9v.9h-.9zM151.0 91.6h.9v.9h-.9zM160.8 81.4h.9v.9h-.9zM163.3 89.5h.9v.9h-.9zM155.8 97.6h.9v.9h-.9zM160.5 91.0h.9v.9h-.9zM156.6 81.6h.9v.9h-.9zM159.7 76.6h.9v.9h-.9zM163.5 82.0h.9v.9h-.9zM157.3 94.5h.9v.9h-.9zM160.5 92.7h.9v.9h-.9zM154.4 82.2h.9v.9h-.9zM159.2 88.2h.9v.9h-.9zM164.2 82.6h.9v.9h-.9zM166.3 87.2h.9v.9h-.9zM164.2 90.0h.9v.9h-.9zM153.6 99.4h.9v.9h-.9zM151.1 79.8h.9v.9h-.9zM152.4 93.7h.9v.9h-.9zM152.5 95.1h.9v.9h-.9zM162.2 88.1h.9v.9h-.9zM153.2 95.8h.9v.9h-.9zM164.0 87.3h.9v.9h-.9zM152.6 82.0h.9v.9h-.9zM165.0 86.9h.9v.9h-.9zM157.7 88.6h.9v.9h-.9zM153.9 90.0h.9v.9h-.9zM159.3 80.9h.9v.9h-.9zM161.8 79.1h.9v.9h-.9zM152.2 83.2h.9v.9h-.9zM158.2 83.0h.9v.9h-.9zM155.2 83.7h.9v.9h-.9zM166.3 90.5h.9v.9h-.9zM156.1 84.8h.9v.9h-.9zM158.7 93.4h.9v.9h-.9zM159.8 93.3h.9v.9h-.9zM163.0 94.0h.9v.9h-.9zM168.5 95.7h.9v.9h-.9zM160.1 97.6h.9v.9h-.9zM158.1 87.1h.9v.9h-.9zM163.6 85.0h.9v.9h-.9zM163.3 89.0h.9v.9h-.9zM161.9 83.8h.9v.9h-.9zM162.0 83.5h.9v.9h-.9zM167.5 99.4h.9v.9h-.9zM151.7 90.9h.9v.9h-.9zM161.9 95.6h.9v.9h-.9zM153.9 94.1h.9v.9h-.9zM166.0 97.3h.9v.9h-.9zM150.4 86.6h.9v.9h-.9zM154.5 81.0h.9v.9h-.9zM162.1 87.7h.9v.9h-.9zM152.2 95.7h.9v.9h-.9zM154.2 81.6h.9v.9h-.9zM156.3 85.7h.9v.9h-.9zM151.0 81.8h.9v.9h-.9zM164.1 92.4h.9v.9h-.9zM155.6 95.5h.9v.9h-.9zM158.3 83.5h.9v.9h-.9zM164.4 91.0h.9v.9h-.9zM166.1 95.5h.9v.9h-.9zM154.8 83.6h.9v.9h-.9zM163.0 89.4h.9v.9h-.9zM156.0 86.8h.9v.9h-.9zM167.9 85.9h.9v.9h-.9zM165.7 86.8h.9v.9h-.9zM158.1 83.4h.9v.9h-.9zM151.2 88.7h.9v.9h-.9zM165.4 88.5h.9v.9h-.9zM161.5 94.8h.9v.9h-.9zM163.3 86.3h.9v.9h-.9zM156.8 93.5h.9v.9h-.9zM169.8 92.3h.9v.9h-.9zM154.5 95.7h.9v.9h-.9zM166.1 95.7h.9v.9h-.9zM153.2 96.1h.9v.9h-.9zM167.7 86.1h.9v.9h-.9zM156.4 93.7h.9v.9h-.9zM153.4 83.2h.9v.9h-.9zM158.0 97.1h.9v.9h-.9zM153.4 94.9h.9v.9h-.9zM161.5 87.0h.9v.9h-.9zM163.5 93.0h.9v.9h-.9zM152.9 92.0h.9v.9h-.9zM152.6 80.7h.9v.9h-.9zM167.3 85.4h.9v.9h-.9zM164.1 80.1h.9v.9h-.9zM159.4 92.1h.9v.9h-.9zM167.3 95.5h.9v.9h-.9zM152.6 80.4h.9v.9h-.9zM159.7 84.4h.9v.9h-.9zM152.9 82.2h.9v.9h-.9zM166.5 89.8h.9v.9h-.9zM162.3 97.1h.9v.9h-.9zM160.5 96.1h.9v.9h-.9zM161.5 92.4h.9v.9h-.9zM162.9 89.1h.9v.9h-.9zM162.4 94.8h.9v.9h-.9zM162.5 78.4h.9v.9h-.9zM154.0 88.2h.9v.9h-.9zM162.6 89.9h.9v.9h-.9zM163.7 98.3h.9v.9h-.9zM157.4 83.9h.9v.9h-.9zM160.7 96.2h.9v.9h-.9zM159.0 85.9h.9v.9h-.9zM162.5 97.7h.9v.9h-.9zM167.8 91.5h.9v.9h-.9zM152.9 85.6h.9v.9h-.9zM164.6 90.7h.9v.9h-.9zM164.9 90.5h.9v.9h-.9zM157.9 86.7h.9v.9h-.9zM154.6 78.7h.9v.9h-.9zM163.3 78.8h.9v.9h-.9zM166.4 87.3h.9v.9h-.9zM152.4 96.9h.9v.9h-.9zM157.8 81.7h.9v.9h-.9zM166.4 82.8h.9v.9h-.9zM156.7 89.4h.9v.9h-.9zM167.3 82.9h.9v.9h-.9zM161.1 88.0h.9v.9h-.9zM152.0 94.0h.9v.9h-.9zM163.7 86.2h.9v.9h-.9zM151.2 95.6h.9v.9h-.9zM166.8 95.5h.9v.9h-.9zM161.3 96.8h.9v.9h-.9zM150.9 85.0h.9v.9h-.9zM151.2 91.9h.9v.9h-.9zM151.7 85.6h.9v.9h-.9zM160.5 91.8h.9v.9h-.9zM163.1 91.9h.9v.9h-.9zM152.1 89.5h.9v.9h-.9zM161.8 84.5h.9v.9h-.9zM162.4 82.1h.9v.9h-.9zM164.2 96.6h.9v.9h-.9zM154.5 93.6h.9v.9h-.9zM152.9 87.1h.9v.9h-.9zM155.8 94.9h.9v.9h-.9zM165.4 80.1h.9v.9h-.9zM153.5 84.9h.9v.9h-.9zM163.7 85.0h.9v.9h-.9zM152.3 88.7h.9v.9h-.9zM165.0 91.6h.9v.9h-.9zM158.2 80.9h.9v.9h-.9zM163.2 88.3h.9v.9h-.9zM159.5 83.9h.9v.9h-.9zM157.7 98.0h.9v.9h-.9zM163.6 79.4h.9v.9h-.9zM152.5 85.3h.9v.9h-.9zM151.7 82.6h.9v.9h-.9zM156.9 81.6h.9v.9h-.9zM151.0 80.5h.9v.9h-.9zM153.4 82.8h.9v.9h-.9zM153.0 90.2h.9v.9h-.9zM153.6 88.6h.9v.9h-.9zM166.2 90.7h.9v.9h-.9zM161.8 94.6h.9v.9h-.9zM156.0 85.3h.9v.9h-.9zM163.3 93.5h.9v.9h-.9zM150.4 91.9h.9v.9h-.9zM165.5 93.8h.9v.9h-.9zM163.9 90.9h.9v.9h-.9zM157.6 80.2h.9v.9h-.9zM165.6 96.4h.9v.9h-.9zM157.6 88.9h.9v.9h-.9zM150.7 97.9h.9v.9h-.9zM152.1 98.7h.9v.9h-.9zM164.9 80.9h.9v.9h-.9zM154.3 83.5h.9v.9h-.9zM153.4 88.1h.9v.9h-.9zM163.8 96.0h.9v.9h-.9zM164.8 83.9h.9v.9h-.9zM157.4 88.1h.9v.9h-.9zM158.4 83.8h.9v.9h-.9zM159.0 85.5h.9v.9h-.9zM158.1 84.3h.9v.9h-.9zM164.6 82.1h.9v.9h-.9zM158.7 95.8h.9v.9h-.9zM155.4 90.8h.9v.9h-.9zM151.2 94.5h.9v.9h-.9zM168.5 82.3h.9v.9h-.9zM155.5 89.4h.9v.9h-.9zM166.3 91.7h.9v.9h-.9zM164.0 92.9h.9v.9h-.9zM157.0 83.7h.9v.9h-.9zM152.7 83.7h.9v.9h-.9zM162.0 86.6h.9v.9h-.9zM151.4 95.4h.9v.9h-.9zM151.4 82.5h.9v.9h-.9zM153.6 87.9h.9v.9h-.9zM157.2 83.7h.9v.9h-.9zM166.5 79.9h.9v.9h-.9zM161.3 94.3h.9v.9h-.9zM167.7 86.5h.9v.9h-.9zM150.5 86.5h.9v.9h-.9zM166.1 96.1h.9v.9h-.9zM160.7 90.1h.9v.9h-.9zM162.6 97.2h.9v.9h-.9zM161.6 82.5h.9v.9h-.9zM150.7 92.3h.9v.9h-.9zM152.6 82.6h.9v.9h-.9zM154.4 94.5h.9v.9h-.9zM165.6 86.9h.9v.9h-.9zM162.1 92.6h.9v.9h-.9zM164.6 86.9h.9v.9h-.9zM157.9 95.1h.9v.9h-.9zM153.5 84.0h.9v.9h-.9zM165.1 80.7h.9v.9h-.9zM154.4 90.9h.9v.9h-.9zM161.4 80.2h.9v.9h-.9zM157.1 94.0h.9v.9h-.9zM161.8 94.2h.9v.9h-.9zM151.8 87.2h.9v.9h-.9zM168.3 84.7h.9v.9h-.9zM155.7 92.2h.9v.9h-.9zM163.9 96.9h.9v.9h-.9zM165.8 99.1h.9v.9h-.9zM159.2 89.9h.9v.9h-.9zM156.7 82.5h.9v.9h-.9zM157.5 95.6h.9v.9h-.9zM158.3 85.4h.9v.9h-.9zM155.5 85.6h.9v.9h-.9zM153.9 84.4h.9v.9h-.9zM165.2 93.0h.9v.9h-.9zM158.1 95.5h.9v.9h-.9zM161.2 86.2h.9v.9h-.9zM153.0 84.1h.9v.9h-.9zM158.6 89.2h.9v.9h-.9zM164.1 83.4h.9v.9h-.9zM155.2 80.3h.9v.9h-.9zM161.7 87.3h.9v.9h-.9zM155.8 84.1h.9v.9h-.9zM152.3 78.2h.9v.9h-.9zM164.6 96.5h.9v.9h-.9zM153.4 97.6h.9v.9h-.9zM170.4 93.8h.9v.9h-.9zM153.9 84.8h.9v.9h-.9zM153.5 87.9h.9v.9h-.9zM156.8 93.8h.9v.9h-.9zM150.7 91.9h.9v.9h-.9zM153.4 95.7h.9v.9h-.9zM157.9 91.5h.9v.9h-.9zM159.9 88.2h.9v.9h-.9zM159.1 85.7h.9v.9h-.9zM166.2 82.1h.9v.9h-.9zM155.1 95.5h.9v.9h-.9zM163.0 85.6h.9v.9h-.9zM158.6 89.0h.9v.9h-.9zM162.8 92.0h.9v.9h-.9zM155.5 77.3h.9v.9h-.9zM158.7 85.9h.9v.9h-.9zM153.9 96.1h.9v.9h-.9zM152.8 88.1h.9v.9h-.9zM155.9 84.8h.9v.9h-.9zM162.4 91.4h.9v.9h-.9zM158.6 82.7h.9v.9h-.9zM156.6 89.9h.9v.9h-.9zM155.0 91.1h.9v.9h-.9zM165.5 95.1h.9v.9h-.9zM151.2 81.1h.9v.9h-.9zM159.0 78.8h.9v.9h-.9zM164.7 93.2h.9v.9h-.9zM161.5 87.8h.9v.9h-.9zM157.8 95.3h.9v.9h-.9zM154.9 94.8h.9v.9h-.9zM156.3 97.8h.9v.9h-.9zM167.9 78.0h.9v.9h-.9zM161.3 93.8h.9v.9h-.9zM150.5 89.8h.9v.9h-.9zM165.4 92.4h.9v.9h-.9zM164.6 83.0h.9v.9h-.9zM163.5 83.4h.9v.9h-.9zM153.4 87.6h.9v.9h-.9zM157.6 81.6h.9v.9h-.9zM163.6 88.1h.9v.9h-.9zM154.1 83.7h.9v.9h-.9zM164.9 83.3h.9v.9h-.9zM157.7 91.5h.9v.9h-.9zM157.8 83.8h.9v.9h-.9zM162.7 92.9h.9v.9h-.9zM154.2 78.2h.9v.9h-.9zM160.9 96.3h.9v.9h-.9zM160.6 90.9h.9v.9h-.9zM150.7 83.5h.9v.9h-.9zM152.4 88.5h.9v.9h-.9zM152.4 94.1h.9v.9h-.9zM157.5 97.6h.9v.9h-.9zM161.4 85.7h.9v.9h-.9zM151.3 90.0h.9v.9h-.9zM159.3 85.1h.9v.9h-.9zM153.9 92.4h.9v.9h-.9zM163.9 93.6h.9v.9h-.9zM153.1 88.5h.9v.9h-.9zM153.5 82.5h.9v.9h-.9zM163.6 82.3h.9v.9h-.9zM156.1 93.1h.9v.9h-.9zM168.2 86.4h.9v.9h-.9zM154.9 98.5h.9v.9h-.9zM166.0 95.6h.9v.9h-.9zM158.8 90.3h.9v.9h-.9zM160.1 82.9h.9v.9h-.9zM156.4 97.4h.9v.9h-.9zM162.6 84.2h.9v.9h-.9zM151.8 96.0h.9v.9h-.9zM165.9 80.5h.9v.9h-.9zM162.5 95.1h.9v.9h-.9zM163.6 97.1h.9v.9h-.9zM151.1 93.6h.9v.9h-.9zM165.4 90.4h.9v.9h-.9zM159.5 96.2h.9v.9h-.9zM162.3 84.0h.9v.9h-.9zM158.8 88.5h.9v.9h-.9zM163.7 82.0h.9v.9h-.9zM163.1 93.3h.9v.9h-.9zM157.7 88.4h.9v.9h-.9zM167.6 92.0h.9v.9h-.9zM159.1 80.0h.9v.9h-.9zM156.6 82.8h.9v.9h-.9zM163.1 83.3h.9v.9h-.9zM152.8 96.5h.9v.9h-.9zM162.5 86.4h.9v.9h-.9zM161.3 81.0h.9v.9h-.9zM164.8 83.8h.9v.9h-.9zM151.9 92.9h.9v.9h-.9zM157.4 81.6h.9v.9h-.9zM166.8 92.0h.9v.9h-.9zM157.8 82.5h.9v.9h-.9zM156.1 94.7h.9v.9h-.9zM164.8 85.7h.9v.9h-.9zM160.6 93.5h.9v.9h-.9zM156.8 84.6h.9v.9h-.9zM153.5 79.5h.9v.9h-.9zM151.2 80.8h.9v.9h-.9zM165.5 93.4h.9v.9h-.9zM159.2 86.5h.9v.9h-.9zM169.7 91.9h.9v.9h-.9zM157.7 82.5h.9v.9h-.9zM155.4 85.1h.9v.9h-.9zM152.5 90.7h.9v.9h-.9zM160.9 91.1h.9v.9h-.9zM164.4 96.7h.9v.9h-.9zM165.6 85.4h.9v.9h-.9zM157.2 85.7h.9v.9h-.9zM154.6 84.7h.9v.9h-.9zM150.8 91.1h.9v.9h-.9zM168.0 86.9h.9v.9h-.9zM161.0 81.3h.9v.9h-.9zM158.6 81.6h.9v.9h-.9zM165.5 79.9h.9v.9h-.9zM160.9 82.0h.9v.9h-.9zM157.5 95.6h.9v.9h-.9zM160.7 94.3h.9v.9h-.9zM162.5 87.5h.9v.9h-.9zM165.1 94.8h.9v.9h-.9zM156.2 88.5h.9v.9h-.9zM160.6 91.2h.9v.9h-.9zM155.2 95.2h.9v.9h-.9zM150.6 84.8h.9v.9h-.9zM156.4 90.1h.9v.9h-.9zM160.4 99.3h.9v.9h-.9zM154.4 96.3h.9v.9h-.9zM167.9 91.3h.9v.9h-.9zM157.7 88.9h.9v.9h-.9zM160.7 79.4h.9v.9h-.9zM164.8 86.9h.9v.9h-.9zM162.7 85.9h.9v.9h-.9zM160.6 86.4h.9v.9h-.9zM155.5 82.8h.9v.9h-.9zM152.2 97.9h.9v.9h-.9zM161.6 84.9h.9v.9h-.9zM158.9 93.3h.9v.9h-.9zM161.7 79.1h.9v.9h-.9zM157.7 84.7h.9v.9h-.9zM152.7 98.4h.9v.9h-.9zM165.7 84.0h.9v.9h-.9zM161.4 80.5h.9v.9h-.9zM164.9 91.0h.9v.9h-.9zM151.2 96.9h.9v.9h-.9zM161.3 80.2h.9v.9h-.9zM161.1 88.6h.9v.9h-.9zM151.0 80.9h.9v.9h-.9zM156.6 95.2h.9v.9h-.9zM151.4 87.6h.9v.9h-.9zM161.3 92.0h.9v.9h-.9zM165.5 97.5h.9v.9h-.9zM161.2 92.7h.9v.9h-.9zM157.2 92.0h.9v.9h-.9zM164.2 86.7h.9v.9h-.9zM159.5 85.1h.9v.9h-.9zM166.3 94.2h.9v.9h-.9zM160.1 84.1h.9v.9h-.9zM151.4 96.9h.9v.9h-.9zM158.6 88.0h.9v.9h-.9zM154.7 81.4h.9v.9h-.9zM154.8 89.8h.9v.9h-.9zM152.1 91.8h.9v.9h-.9zM162.3 80.3h.9v.9h-.9zM158.4 95.5h.9v.9h-.9zM155.4 85.9h.9v.9h-.9zM162.3 87.0h.9v.9h-.9zM158.5 92.1h.9v.9h-.9zM151.0 89.3h.9v.9h-.9zM166.9 86.4h.9v.9h-.9zM165.3 98.3h.9v.9h-.9zM160.0 79.6h.9v.9h-.9zM161.8 92.3h.9v.9h-.9zM155.9 77.9h.9v.9h-.9zM156.7 94.2h.9v.9h-.9zM151.0 91.7h.9v.9h-.9zM162.2 86.9h.9v.9h-.9zM153.2 87.4h.9v.9h-.9zM164.6 90.0h.9v.9h-.9zM154.7 95.5h.9v.9h-.9zM156.6 82.7h.9v.9h-.9zM168.3 86.7h.9v.9h-.9zM153.8 86.9h.9v.9h-.9zM152.6 85.2h.9v.9h-.9zM161.1 83.3h.9v.9h-.9zM157.9 87.0h.9v.9h-.9zM164.8 84.6h.9v.9h-.9zM153.7 91.7h.9v.9h-.9zM151.1 85.0h.9v.9h-.9zM161.0 96.4h.9v.9h-.9zM151.5 93.4h.9v.9h-.9zM154.9 89.9h.9v.9h-.9zM154.5 94.8h.9v.9h-.9zM159.0 88.1h.9v.9h-.9zM167.9 86.5h.9v.9h-.9zM159.0 91.9h.9v.9h-.9zM162.4 94.2h.9v.9h-.9zM154.1 89.0h.9v.9h-.9zM159.3 92.8h.9v.9h-.9zM153.3 88.5h.9v.9h-.9zM153.3 92.8h.9v.9h-.9zM157.1 90.9h.9v.9h-.9zM159.3 91.0h.9v.9h-.9zM164.7 84.6h.9v.9h-.9zM151.1 82.4h.9v.9h-.9zM156.5 77.2h.9v.9h-.9zM165.2 80.1h.9v.9h-.9zM155.9 82.1h.9v.9h-.9zM151.6 86.1h.9v.9h-.9zM163.1 85.1h.9v.9h-.9zM152.2 87.5h.9v.9h-.9zM155.6 97.2h.9v.9h-.9zM165.2 87.3h.9v.9h-.9zM168.2 84.5h.9v.9h-.9zM164.2 90.8h.9v.9h-.9zM166.6 86.4h.9v.9h-.9zM160.7 79.1h.9v.9h-.9zM167.4 93.6h.9v.9h-.9zM153.2 86.9h.9v.9h-.9zM158.1 89.0h.9v.9h-.9zM160.9 89.1h.9v.9h-.9zM162.4 95.1h.9v.9h-.9zM161.7 86.6h.9v.9h-.9zM153.0 86.8h.9v.9h-.9zM156.9 95.1h.9v.9h-.9zM163.2 96.7h.9v.9h-.9zM153.0 91.5h.9v.9h-.9zM159.9 94.0h.9v.9h-.9zM166.7 77.5h.9v.9h-.9zM150.3 88.8h.9v.9h-.9zM166.8 84.8h.9v.9h-.9zM166.0 90.8h.9v.9h-.9zM159.1 92.4h.9v.9h-.9zM155.3 85.9h.9v.9h-.9zM165.9 95.2h.9v.9h-.9zM157.1 93.6h.9v.9h-.9zM163.1 79.4h.9v.9h-.9zM153.5 93.9h.9v.9h-.9zM162.3 92.4h.9v.9h-.9zM164.4 94.3h.9v.9h-.9zM168.0 83.8h.9v.9h-.9zM168.1 90.4h.9v.9h-.9zM150.3 92.5h.9v.9h-.9zM164.3 95.5h.9v.9h-.9zM156.8 84.2h.9v.9h-.9zM151.2 95.3h.9v.9h-.9zM162.5 83.2h.9v.9h-.9zM166.8 87.2h.9v.9h-.9zM152.8 88.3h.9v.9h-.9zM152.0 87.9h.9v.9h-.9zM156.9 94.9h.9v.9h-.9zM165.5 92.7h.9v.9h-.9zM160.5 82.4h.9v.9h-.9zM151.1 81.5h.9v.9h-.9zM159.2 80.5h.9v.9h-.9zM168.3 81.7h.9v.9h-.9zM153.0 82.9h.9v.9h-.9zM163.7 83.1h.9v.9h-.9zM164.9 82.0h.9v.9h-.9zM159.4 86.5h.9v.9h-.9zM165.1 91.3h.9v.9h-.9zM161.9 90.6h.9v.9h-.9zM167.7 82.1h.9v.9h-.9zM162.6 89.8h.9v.9h-.9zM156.6 91.5h.9v.9h-.9zM165.2 80.5h.9v.9h-.9zM154.3 93.4h.9v.9h-.9zM156.3 81.6h.9v.9h-.9zM151.0 87.3h.9v.9h-.9zM154.4 89.0h.9v.9h-.9zM153.0 82.2h.9v.9h-.9zM159.2 80.7h.9v.9h-.9zM159.2 81.4h.9v.9h-.9zM156.0 96.3h.9v.9h-.9zM159.6 95.1h.9v.9h-.9zM155.1 94.8h.9v.9h-.9zM153.9 83.6h.9v.9h-.9zM157.7 86.3h.9v.9h-.9zM166.3 91.4h.9v.9h-.9zM162.8 81.8h.9v.9h-.9zM158.3 81.3h.9v.9h-.9zM168.1 89.5h.9v.9h-.9zM169.5 84.0h.9v.9h-.9zM163.5 88.2h.9v.9h-.9zM154.7 89.2h.9v.9h-.9zM163.5 79.3h.9v.9h-.9zM150.8 93.2h.9v.9h-.9zM168.1 86.5h.9v.9h-.9zM158.1 89.6h.9v.9h-.9zM150.4 89.6h.9v.9h-.9zM152.3 92.4h.9v.9h-.9zM162.1 81.5h.9v.9h-.9zM162.1 83.1h.9v.9h-.9zM155.6 87.7h.9v.9h-.9zM157.4 94.7h.9v.9h-.9zM160.8 82.1h.9v.9h-.9zM167.2 86.1h.9v.9h-.9zM162.6 80.3h.9v.9h-.9zM156.3 81.2h.9v.9h-.9zM156.7 93.8h.9v.9h-.9zM162.5 93.1h.9v.9h-.9zM152.5 91.4h.9v.9h-.9zM160.8 81.3h.9v.9h-.9zM159.5 91.7h.9v.9h-.9zM163.2 91.1h.9v.9h-.9zM153.2 86.6h.9v.9h-.9zM155.3 94.2h.9v.9h-.9zM154.5 95.5h.9v.9h-.9zM158.2 81.0h.9v.9h-.9zM163.3 79.1h.9v.9h-.9zM157.9 84.8h.9v.9h-.9zM162.7 92.4h.9v.9h-.9zM161.3 94.4h.9v.9h-.9zM165.4 95.4h.9v.9h-.9zM164.2 91.1h.9v.9h-.9zM165.0 89.5h.9v.9h-.9zM154.3 83.3h.9v.9h-.9zM155.3 84.2h.9v.9h-.9zM151.4 82.9h.9v.9h-.9zM157.8 88.2h.9v.9h-.9zM158.9 79.8h.9v.9h-.9zM157.7 93.7h.9v.9h-.9zM156.7 88.5h.9v.9h-.9zM153.8 93.4h.9v.9h-.9zM168.3 93.5h.9v.9h-.9zM155.3 90.3h.9v.9h-.9zM150.4 84.3h.9v.9h-.9zM157.4 94.1h.9v.9h-.9zM157.8 91.0h.9v.9h-.9zM155.2 80.7h.9v.9h-.9zM160.2 81.7h.9v.9h-.9zM159.4 80.8h.9v.9h-.9zM161.8 90.5h.9v.9h-.9zM165.0 85.8h.9v.9h-.9zM165.7 83.6h.9v.9h-.9zM157.9 93.1h.9v.9h-.9zM150.5 82.4h.9v.9h-.9zM154.6 96.3h.9v.9h-.9zM162.1 96.1h.9v.9h-.9zM153.8 79.7h.9v.9h-.9zM160.5 90.9h.9v.9h-.9zM152.4 91.0h.9v.9h-.9zM166.3 85.7h.9v.9h-.9zM156.2 87.1h.9v.9h-.9zM154.8 94.0h.9v.9h-.9zM163.5 82.9h.9v.9h-.9zM162.2 95.7h.9v.9h-.9zM159.9 90.1h.9v.9h-.9zM167.3 89.0h.9v.9h-.9zM165.2 89.9h.9v.9h-.9zM151.3 93.1h.9v.9h-.9zM166.6 81.2h.9v.9h-.9zM155.8 83.9h.9v.9h-.9zM162.5 80.6h.9v.9h-.9zM153.6 87.2h.9v.9h-.9zM159.3 80.8h.9v.9h-.9zM158.5 97.4h.9v.9h-.9zM151.5 88.0h.9v.9h-.9zM168.8 86.8h.9v.9h-.9zM153.6 93.5h.9v.9h-.9zM161.7 96.0h.9v.9h-.9zM150.9 82.0h.9v.9h-.9zM152.8 80.8h.9v.9h-.9zM151.2 91.4h.9v.9h-.9zM157.4 84.0h.9v.9h-.9zM156.1 95.1h.9v.9h-.9zM162.4 84.6h.9v.9h-.9zM157.4 83.9h.9v.9h-.9zM161.6 89.4h.9v.9h-.9zM159.7 77.0h.9v.9h-.9zM152.5 80.1h.9v.9h-.9zM156.5 83.3h.9v.9h-.9zM162.1 91.2h.9v.9h-.9zM166.5 85.7h.9v.9h-.9zM156.5 93.6h.9v.9h-.9zM155.9 95.3h.9v.9h-.9zM161.5 89.0h.9v.9h-.9zM157.9 81.7h.9v.9h-.9zM151.4 78.9h.9v.9h-.9zM150.9 96.5h.9v.9h-.9zM158.8 80.0h.9v.9h-.9zM154.0 90.4h.9v.9h-.9zM157.2 77.4h.9v.9h-.9zM166.9 96.7h.9v.9h-.9zM159.7 91.8h.9v.9h-.9zM156.4 92.5h.9v.9h-.9zM161.4 89.3h.9v.9h-.9zM161.8 82.8h.9v.9h-.9zM163.8 80.1h.9v.9h-.9zM151.3 94.0h.9v.9h-.9zM163.6 90.5h.9v.9h-.9zM153.7 89.2h.9v.9h-.9zM151.9 81.3h.9v.9h-.9zM157.8 91.4h.9v.9h-.9zM160.4 92.0h.9v.9h-.9zM152.1 85.1h.9v.9h-.9zM162.9 79.9h.9v.9h-.9zM158.0 88.1h.9v.9h-.9zM163.9 96.7h.9v.9h-.9zM155.6 93.7h.9v.9h-.9zM157.9 81.9h.9v.9h-.9zM158.4 89.3h.9v.9h-.9zM162.7 92.5h.9v.9h-.9zM165.6 86.2h.9v.9h-.9zM158.9 94.8h.9v.9h-.9zM157.7 95.4h.9v.9h-.9zM157.5 86.3h.9v.9h-.9zM159.5 81.2h.9v.9h-.9zM159.5 87.4h.9v.9h-.9zM166.2 94.8h.9v.9h-.9zM163.4 87.5h.9v.9h-.9zM150.5 82.8h.9v.9h-.9zM162.8 89.2h.9v.9h-.9zM157.9 94.6h.9v.9h-.9zM155.0 89.4h.9v.9h-.9zM152.9 79.6h.9v.9h-.9zM163.7 84.9h.9v.9h-.9zM166.6 85.6h.9v.9h-.9zM159.2 96.0h.9v.9h-.9zM158.2 91.1h.9v.9h-.9zM156.0 80.2h.9v.9h-.9zM165.7 79.2h.9v.9h-.9zM168.6 84.4h.9v.9h-.9zM159.9 90.0h.9v.9h-.9zM158.3 88.4h.9v.9h-.9zM152.4 87.0h.9v.9h-.9zM155.7 87.1h.9v.9h-.9zM157.8 85.3h.9v.9h-.9zM156.6 80.8h.9v.9h-.9zM153.9 86.8h.9v.9h-.9zM155.1 90.7h.9v.9h-.9zM151.7 82.9h.9v.9h-.9zM154.2 95.3h.9v.9h-.9zM165.0 89.5h.9v.9h-.9zM167.8 82.4h.9v.9h-.9zM154.4 88.9h.9v.9h-.9zM160.2 84.2h.9v.9h-.9zM152.3 84.9h.9v.9h-.9zM167.7 81.2h.9v.9h-.9zM154.3 84.1h.9v.9h-.9zM151.6 79.1h.9v.9h-.9zM164.1 99.0h.9v.9h-.9zM153.8 80.3h.9v.9h-.9zM154.0 89.1h.9v.9h-.9zM157.8 90.5h.9v.9h-.9zM162.7 81.5h.9v.9h-.9zM155.8 86.1h.9v.9h-.9zM159.4 85.7h.9v.9h-.9zM160.8 86.9h.9v.9h-.9zM151.6 87.3h.9v.9h-.9zM168.5 89.2h.9v.9h-.9zM163.1 88.4h.9v.9h-.9zM160.7 84.1h.9v.9h-.9zM155.5 82.1h.9v.9h-.9zM168.9 91.5h.9v.9h-.9zM151.3 89.0h.9v.9h-.9zM152.0 85.8h.9v.9h-.9zM160.5 89.8h.9v.9h-.9zM159.6 95.4h.9v.9h-.9zM154.5 94.1h.9v.9h-.9zM163.8 87.3h.9v.9h-.9zM158.6 81.3h.9v.9h-.9zM155.6 82.0h.9v.9h-.9zM162.2 92.2h.9v.9h-.9zM157.3 91.9h.9v.9h-.9zM150.6 93.1h.9v.9h-.9zM155.9 92.6h.9v.9h-.9zM150.4 78.0h.9v.9h-.9zM159.2 81.8h.9v.9h-.9zM161.6 92.7h.9v.9h-.9zM152.8 93.6h.9v.9h-.9zM156.1 81.5h.9v.9h-.9zM160.0 96.5h.9v.9h-.9zM152.9 86.5h.9v.9h-.9zM155.1 84.5h.9v.9h-.9zM155.3 90.8h.9v.9h-.9zM157.1 93.6h.9v.9h-.9zM159.6 97.9h.9v.9h-.9zM150.7 97.1h.9v.9h-.9zM158.5 85.8h.9v.9h-.9zM165.2 94.0h.9v.9h-.9zM151.9 85.3h.9v.9h-.9zM160.5 97.1h.9v.9h-.9zM156.0 87.8h.9v.9h-.9zM153.4 85.1h.9v.9h-.9zM166.5 81.6h.9v.9h-.9zM154.6 85.4h.9v.9h-.9zM163.8 89.7h.9v.9h-.9zM167.7 82.5h.9v.9h-.9zM154.0 88.5h.9v.9h-.9zM164.0 84.0h.9v.9h-.9zM166.4 81.8h.9v.9h-.9zM150.8 87.5h.9v.9h-.9zM165.7 84.3h.9v.9h-.9zM161.1 87.6h.9v.9h-.9zM151.4 89.5h.9v.9h-.9zM160.8 84.0h.9v.9h-.9zM163.7 80.7h.9v.9h-.9zM163.0 85.1h.9v.9h-.9zM168.1 81.7h.9v.9h-.9zM158.1 90.6h.9v.9h-.9zM151.0 95.4h.9v.9h-.9zM153.2 78.7h.9v.9h-.9zM155.3 84.2h.9v.9h-.9zM160.0 88.4h.9v.9h-.9zM151.9 81.9h.9v.9h-.9zM158.4 97.0h.9v.9h-.9zM153.9 80.9h.9v.9h-.9zM159.9 82.3h.9v.9h-.9zM161.7 80.2h.9v.9h-.9zM164.3 84.2h.9v.9h-.9zM151.6 90.5h.9v.9h-.9zM157.8 89.8h.9v.9h-.9zM156.9 87.3h.9v.9h-.9zM161.4 84.7h.9v.9h-.9zM164.3 93.4h.9v.9h-.9zM162.7 84.6h.9v.9h-.9zM154.1 89.3h.9v.9h-.9zM153.6 90.8h.9v.9h-.9zM164.2 79.2h.9v.9h-.9zM157.8 83.9h.9v.9h-.9zM162.8 87.7h.9v.9h-.9zM151.9 82.6h.9v.9h-.9zM158.8 82.2h.9v.9h-.9zM152.5 98.3h.9v.9h-.9zM161.5 80.2h.9v.9h-.9zM150.4 87.5h.9v.9h-.9zM166.5 83.3h.9v.9h-.9zM162.8 83.6h.9v.9h-.9zM163.0 97.3h.9v.9h-.9zM159.4 85.0h.9v.9h-.9zM162.1 91.3h.9v.9h-.9zM159.3 90.3h.9v.9h-.9zM160.2 95.1h.9v.9h-.9zM155.9 96.2h.9v.9h-.9zM150.6 84.9h.9v.9h-.9zM158.2 89.5h.9v.9h-.9zM165.7 80.0h.9v.9h-.9zM165.8 91.8h.9v.9h-.9zM152.5 84.1h.9v.9h-.9zM153.2 79.8h.9v.9h-.9zM152.9 94.0h.9v.9h-.9zM161.6 95.7h.9v.9h-.9zM154.7 91.2h.9v.9h-.9zM153.8 95.5h.9v.9h-.9zM167.4 94.5h.9v.9h-.9zM151.2 87.4h.9v.9h-.9zM165.1 94.5h.9v.9h-.9zM155.0 88.9h.9v.9h-.9zM166.9 88.9h.9v.9h-.9zM155.0 80.4h.9v.9h-.9zM158.1 84.5h.9v.9h-.9zM152.7 87.8h.9v.9h-.9zM156.1 88.1h.9v.9h-.9zM162.6 82.1h.9v.9h-.9zM164.3 97.8h.9v.9h-.9zM151.5 94.2h.9v.9h-.9zM160.6 81.8h.9v.9h-.9zM169.6 81.2h.9v.9h-.9zM164.3 79.8h.9v.9h-.9zM154.1 80.4h.9v.9h-.9zM161.8 92.9h.9v.9h-.9zM157.9 83.0h.9v.9h-.9zM160.3 88.0h.9v.9h-.9zM163.3 88.6h.9v.9h-.9zM166.2 96.6h.9v.9h-.9zM151.0 89.5h.9v.9h-.9zM156.0 82.4h.9v.9h-.9zM152.5 90.4h.9v.9h-.9zM167.0 85.4h.9v.9h-.9zM168.7 82.2h.9v.9h-.9zM162.8 94.6h.9v.9h-.9zM159.0 86.7h.9v.9h-.9zM153.0 79.8h.9v.9h-.9zM159.0 93.8h.9v.9h-.9zM152.7 92.2h.9v.9h-.9zM157.3 87.7h.9v.9h-.9zM151.6 91.3h.9v.9h-.9zM150.3 87.4h.9v.9h-.9zM152.1 92.6h.9v.9h-.9zM153.7 88.0h.9v.9h-.9zM151.1 81.9h.9v.9h-.9zM150.3 96.3h.9v.9h-.9zM162.8 80.1h.9v.9h-.9zM165.7 79.5h.9v.9h-.9zM170.4 87.8h.9v.9h-.9zM165.1 82.7h.9v.9h-.9zM167.2 93.7h.9v.9h-.9zM162.6 95.4h.9v.9h-.9zM161.8 85.8h.9v.9h-.9zM155.8 81.6h.9v.9h-.9zM155.2 90.4h.9v.9h-.9zM150.8 88.7h.9v.9h-.9zM163.0 99.2h.9v.9h-.9zM152.7 86.3h.9v.9h-.9zM163.6 88.9h.9v.9h-.9zM163.9 97.9h.9v.9h-.9zM165.1 95.5h.9v.9h-.9zM160.4 83.0h.9v.9h-.9zM156.3 86.6h.9v.9h-.9zM166.3 89.9h.9v.9h-.9zM154.7 91.2h.9v.9h-.9zM159.4 94.8h.9v.9h-.9zM162.1 93.4h.9v.9h-.9zM163.9 92.6h.9v.9h-.9zM156.1 93.4h.9v.9h-.9zM156.4 91.8h.9v.9h-.9zM156.7 83.2h.9v.9h-.9zM162.0 98.0h.9v.9h-.9zM165.2 87.3h.9v.9h-.9zM153.0 78.3h.9v.9h-.9zM164.4 84.9h.9v.9h-.9zM158.6 92.7h.9v.9h-.9zM162.8 85.9h.9v.9h-.9zM159.6 90.5h.9v.9h-.9zM164.2 93.1h.9v.9h-.9zM155.9 84.7h.9v.9h-.9zM156.1 85.1h.9v.9h-.9zM159.8 91.6h.9v.9h-.9zM165.1 81.1h.9v.9h-.9zM160.2 96.6h.9v.9h-.9zM157.8 94.2h.9v.9h-.9zM158.1 86.7h.9v.9h-.9zM169.0 85.6h.9v.9h-.9zM151.4 94.0h.9v.9h-.9zM162.3 93.7h.9v.9h-.9zM160.9 96.4h.9v.9h-.9zM168.6 87.9h.9v.9h-.9zM155.4 87.5h.9v.9h-.9zM160.2 80.4h.9v.9h-.9zM153.3 96.4h.9v.9h-.9zM155.0 85.2h.9v.9h-.9zM152.0 86.3h.9v.9h-.9zM153.4 94.3h.9v.9h-.9zM157.5 91.8h.9v.9h-.9zM154.4 87.3h.9v.9h-.9zM159.1 89.1h.9v.9h-.9zM151.2 94.2h.9v.9h-.9zM155.3 87.1h.9v.9h-.9zM156.2 81.6h.9v.9h-.9zM161.8 96.3h.9v.9h-.9zM160.0 95.4h.9v.9h-.9zM169.9 95.2h.9v.9h-.9zM152.0 81.9h.9v.9h-.9zM164.8 88.5h.9v.9h-.9zM151.2 82.5h.9v.9h-.9zM153.6 89.6h.9v.9h-.9zM150.7 93.5h.9v.9h-.9zM159.9 88.3h.9v.9h-.9zM151.9 80.2h.9v.9h-.9zM150.6 80.6h.9v.9h-.9zM159.1 89.9h.9v.9h-.9zM162.1 82.9h.9v.9h-.9zM150.5 92.1h.9v.9h-.9zM159.8 89.0h.9v.9h-.9zM158.7 84.6h.9v.9h-.9zM165.2 87.8h.9v.9h-.9zM160.8 92.8h.9v.9h-.9zM159.1 93.3h.9v.9h-.9zM168.0 80.8h.9v.9h-.9zM155.2 94.3h.9v.9h-.9zM156.3 91.9h.9v.9h-.9zM163.9 82.1h.9v.9h-.9zM162.2 82.8h.9v.9h-.9zM150.6 84.1h.9v.9h-.9zM150.9 97.5h.9v.9h-.9zM154.2 91.6h.9v.9h-.9zM165.3 80.0h.9v.9h-.9zM153.3 86.3h.9v.9h-.9zM153.6 90.0h.9v.9h-.9zM165.6 84.3h.9v.9h-.9zM154.5 87.1h.9v.9h-.9zM156.3 85.7h.9v.9h-.9zM164.1 88.0h.9v.9h-.9zM155.8 80.0h.9v.9h-.9zM150.6 90.4h.9v.9h-.9zM156.7 81.8h.9v.9h-.9zM162.3 86.7h.9v.9h-.9zM152.8 84.5h.9v.9h-.9zM153.0 93.2h.9v.9h-.9zM157.4 77.6h.9v.9h-.9zM151.9 85.1h.9v.9h-.9zM160.4 92.4h.9v.9h-.9zM153.3 82.2h.9v.9h-.9zM155.2 83.5h.9v.9h-.9zM160.3 90.1h.9v.9h-.9zM163.5 91.1h.9v.9h-.9zM150.7 80.8h.9v.9h-.9zM168.7 91.1h.9v.9h-.9zM158.8 96.2h.9v.9h-.9zM152.9 79.6h.9v.9h-.9zM152.0 85.9h.9v.9h-.9zM160.2 80.2h.9v.9h-.9zM152.6 90.3h.9v.9h-.9zM153.9 79.4h.9v.9h-.9zM163.5 89.0h.9v.9h-.9zM166.7 82.7h.9v.9h-.9zM158.4 92.8h.9v.9h-.9zM164.2 80.6h.9v.9h-.9zM156.1 85.4h.9v.9h-.9zM154.6 91.1h.9v.9h-.9zM151.9 82.4h.9v.9h-.9zM163.4 91.4h.9v.9h-.9zM151.0 81.5h.9v.9h-.9zM150.3 81.7h.9v.9h-.9zM169.4 98.6h.9v.9h-.9zM153.3 82.4h.9v.9h-.9zM164.8 84.4h.9v.9h-.9zM157.4 86.5h.9v.9h-.9zM157.5 91.6h.9v.9h-.9zM151.4 82.9h.9v.9h-.9zM158.4 81.8h.9v.9h-.9zM157.9 81.3h.9v.9h-.9zM162.1 91.1h.9v.9h-.9zM166.5 97.6h.9v.9h-.9zM153.3 88.4h.9v.9h-.9zM151.5 79.1h.9v.9h-.9zM165.7 86.6h.9v.9h-.9zM159.6 90.0h.9v.9h-.9zM159.0 93.6h.9v.9h-.9zM163.4 96.1h.9v.9h-.9zM157.9 82.5h.9v.9h-.9zM158.0 94.0h.9v.9h-.9zM154.9 90.6h.9v.9h-.9zM164.4 90.4h.9v.9h-.9zM156.7 88.6h.9v.9h-.9zM157.1 91.8h.9v.9h-.9zM153.3 83.4h.9v.9h-.9zM154.0 79.7h.9v.9h-.9zM158.4 83.5h.9v.9h-.9zM162.1 80.0h.9v.9h-.9zM168.5 96.4h.9v.9h-.9zM162.9 84.0h.9v.9h-.9zM160.4 97.0h.9v.9h-.9zM161.1 90.6h.9v.9h-.9zM157.2 93.5h.9v.9h-.9zM164.3 90.8h.9v.9h-.9zM160.7 95.5h.9v.9h-.9zM152.9 91.6h.9v.9h-.9zM157.4 81.3h.9v.9h-.9zM158.2 93.6h.9v.9h-.9zM152.8 97.0h.9v.9h-.9zM163.9 93.5h.9v.9h-.9zM165.6 97.4h.9v.9h-.9zM166.1 92.5h.9v.9h-.9zM164.8 86.4h.9v.9h-.9zM166.2 81.0h.9v.9h-.9zM153.8 84.1h.9v.9h-.9zM160.4 93.4h.9v.9h-.9zM159.5 85.9h.9v.9h-.9zM162.6 91.7h.9v.9h-.9zM162.7 95.4h.9v.9h-.9zM154.3 96.2h.9v.9h-.9zM155.5 95.6h.9v.9h-.9zM154.8 97.5h.9v.9h-.9zM154.1 84.8h.9v.9h-.9zM155.1 81.9h.9v.9h-.9zM159.2 93.4h.9v.9h-.9zM156.8 85.1h.9v.9h-.9zM152.7 96.4h.9v.9h-.9zM162.3 91.4h.9v.9h-.9zM151.5 95.2h.9v.9h-.9zM154.1 79.7h.9v.9h-.9zM163.8 84.5h.9v.9h-.9zM158.8 90.2h.9v.9h-.9zM164.0 79.7h.9v.9h-.9zM153.1 90.0h.9v.9h-.9zM165.4 88.5h.9v.9h-.9zM154.7 87.5h.9v.9h-.9zM163.7 82.1h.9v.9h-.9zM157.0 91.4h.9v.9h-.9zM163.4 78.8h.9v.9h-.9zM152.3 91.9h.9v.9h-.9zM153.8 94.7h.9v.9h-.9zM168.3 82.7h.9v.9h-.9zM152.8 95.4h.9v.9h-.9zM162.2 83.6h.9v.9h-.9zM156.1 86.8h.9v.9h-.9zM160.6 91.1h.9v.9h-.9zM156.5 95.1h.9v.9h-.9zM156.5 95.3h.9v.9h-.9zM165.4 93.3h.9v.9h-.9zM157.2 78.9h.9v.9h-.9zM152.8 94.2h.9v.9h-.9zM165.4 91.6h.9v.9h-.9zM154.7 95.4h.9v.9h-.9zM159.3 87.3h.9v.9h-.9zM164.1 82.2h.9v.9h-.9zM159.4 93.8h.9v.9h-.9zM151.5 84.8h.9v.9h-.9zM161.3 88.6h.9v.9h-.9zM166.3 94.3h.9v.9h-.9zM163.8 80.6h.9v.9h-.9zM168.0 82.9h.9v.9h-.9zM157.1 84.4h.9v.9h-.9zM153.8 93.8h.9v.9h-.9zM154.8 97.3h.9v.9h-.9zM163.3 81.4h.9v.9h-.9zM166.6 83.1h.9v.9h-.9zM154.3 94.2h.9v.9h-.9zM163.5 84.7h.9v.9h-.9zM161.5 88.9h.9v.9h-.9zM151.6 88.5h.9v.9h-.9zM164.1 93.9h.9v.9h-.9zM157.8 83.4h.9v.9h-.9zM153.7 88.5h.9v.9h-.9zM158.6 88.6h.9v.9h-.9zM153.5 77.9h.9v.9h-.9zM161.6 78.7h.9v.9h-.9zM167.4 82.0h.9v.9h-.9zM155.1 80.6h.9v.9h-.9zM158.9 86.8h.9v.9h-.9zM158.0 90.5h.9v.9h-.9zM151.3 86.9h.9v.9h-.9zM162.3 90.6h.9v.9h-.9zM152.7 87.6h.9v.9h-.9zM163.1 90.7h.9v.9h-.9zM163.8 95.8h.9v.9h-.9zM161.4 79.7h.9v.9h-.9zM154.5 83.3h.9v.9h-.9zM153.1 80.9h.9v.9h-.9zM154.4 88.6h.9v.9h-.9zM159.3 81.2h.9v.9h-.9zM160.1 85.2h.9v.9h-.9zM150.4 86.2h.9v.9h-.9zM165.8 88.2h.9v.9h-.9zM158.4 92.1h.9v.9h-.9zM169.0 92.8h.9v.9h-.9zM154.6 80.4h.9v.9h-.9zM159.1 86.8h.9v.9h-.9zM162.0 82.3h.9v.9h-.9zM155.3 88.7h.9v.9h-.9zM164.1 86.4h.9v.9h-.9zM161.2 77.8h.9v.9h-.9zM154.5 88.2h.9v.9h-.9zM167.9 90.5h.9v.9h-.9zM165.3 93.3h.9v.9h-.9zM153.7 87.5h.9v.9h-.9zM155.0 82.4h.9v.9h-.9zM159.2 81.3h.9v.9h-.9zM152.5 81.1h.9v.9h-.9zM157.0 94.5h.9v.9h-.9zM152.8 86.3h.9v.9h-.9zM156.5 94.0h.9v.9h-.9zM160.4 79.0h.9v.9h-.9zM165.3 83.8h.9v.9h-.9zM166.5 95.8h.9v.9h-.9zM156.7 78.5h.9v.9h-.9zM160.1 86.6h.9v.9h-.9zM166.7 90.8h.9v.9h-.9zM153.6 88.9h.9v.9h-.9zM158.2 89.6h.9v.9h-.9zM151.6 82.2h.9v.9h-.9zM154.1 90.0h.9v.9h-.9zM160.0 91.6h.9v.9h-.9zM151.9 89.2h.9v.9h-.9zM157.9 85.7h.9v.9h-.9zM156.7 86.2h.9v.9h-.9zM153.7 87.7h.9v.9h-.9zM160.9 82.0h.9v.9h-.9zM152.6 91.5h.9v.9h-.9zM152.4 89.6h.9v.9h-.9zM166.9 83.4h.9v.9h-.9zM159.1 93.5h.9v.9h-.9zM160.4 86.5h.9v.9h-.9zM151.4 89.6h.9v.9h-.9zM165.2 94.2h.9v.9h-.9zM162.4 96.3h.9v.9h-.9zM155.1 89.8h.9v.9h-.9zM164.7 86.7h.9v.9h-.9zM159.5 94.2h.9v.9h-.9zM158.1 98.1h.9v.9h-.9zM156.6 93.5h.9v.9h-.9zM154.8 92.0h.9v.9h-.9zM165.3 95.3h.9v.9h-.9zM150.4 97.5h.9v.9h-.9zM152.3 85.4h.9v.9h-.9zM162.9 80.9h.9v.9h-.9zM165.5 92.9h.9v.9h-.9zM164.0 95.2h.9v.9h-.9zM151.7 90.3h.9v.9h-.9zM164.9 84.6h.9v.9h-.9zM153.1 84.1h.9v.9h-.9zM153.8 78.7h.9v.9h-.9zM158.9 93.1h.9v.9h-.9zM159.6 96.9h.9v.9h-.9zM159.0 84.0h.9v.9h-.9zM167.1 91.1h.9v.9h-.9zM158.7 88.9h.9v.9h-.9zM156.1 90.5h.9v.9h-.9zM159.3 98.0h.9v.9h-.9zM150.3 92.9h.9v.9h-.9zM164.7 89.5h.9v.9h-.9zM154.0 81.4h.9v.9h-.9zM157.4 85.7h.9v.9h-.9zM151.6 84.1h.9v.9h-.9zM164.7 93.5h.9v.9h-.9zM157.4 83.9h.9v.9h-.9zM161.0 84.7h.9v.9h-.9zM151.6 83.4h.9v.9h-.9zM159.0 92.9h.9v.9h-.9zM168.2 80.8h.9v.9h-.9zM164.1 84.9h.9v.9h-.9zM153.5 83.0h.9v.9h-.9zM152.9 94.6h.9v.9h-.9zM160.6 75.9h.9v.9h-.9zM166.7 91.6h.9v.9h-.9zM157.9 85.8h.9v.9h-.9zM159.0 85.3h.9v.9h-.9zM163.6 79.1h.9v.9h-.9zM168.0 86.4h.9v.9h-.9zM156.6 95.2h.9v.9h-.9zM150.5 92.2h.9v.9h-.9zM150.5 84.3h.9v.9h-.9zM166.4 80.3h.9v.9h-.9zM154.2 86.5h.9v.9h-.9zM160.6 92.7h.9v.9h-.9zM164.0 96.8h.9v.9h-.9zM162.3 96.0h.9v.9h-.9zM156.5 94.1h.9v.9h-.9zM153.4 82.2h.9v.9h-.9zM167.4 86.7h.9v.9h-.9zM160.5 84.7h.9v.9h-.9zM165.9 89.8h.9v.9h-.9zM164.0 83.0h.9v.9h-.9zM162.4 87.8h.9v.9h-.9zM161.0 94.0h.9v.9h-.9zM150.7 84.9h.9v.9h-.9zM163.7 93.2h.9v.9h-.9zM155.6 89.4h.9v.9h-.9zM150.6 84.4h.9v.9h-.9zM163.8 90.4h.9v.9h-.9zM168.5 92.3h.9v.9h-.9zM162.6 86.2h.9v.9h-.9zM153.1 94.5h.9v.9h-.9zM158.4 90.0h.9v.9h-.9zM156.3 90.7h.9v.9h-.9zM156.3 91.4h.9v.9h-.9zM160.3 91.1h.9v.9h-.9zM161.8 89.9h.9v.9h-.9zM151.7 92.7h.9v.9h-.9zM154.9 87.0h.9v.9h-.9zM156.4 85.7h.9v.9h-.9zM156.7 83.9h.9v.9h-.9zM161.2 86.0h.9v.9h-.9zM162.2 94.0h.9v.9h-.9zM162.8 85.5h.9v.9h-.9zM168.7 92.2h.9v.9h-.9zM166.2 86.1h.9v.9h-.9zM168.3 90.1h.9v.9h-.9zM163.7 79.4h.9v.9h-.9zM154.7 80.4h.9v.9h-.9zM161.7 87.1h.9v.9h-.9zM166.5 82.8h.9v.9h-.9zM158.6 97.4h.9v.9h-.9zM157.3 92.3h.9v.9h-.9zM150.3 94.7h.9v.9h-.9zM166.4 87.4h.9v.9h-.9zM164.3 90.3h.9v.9h-.9zM151.7 88.7h.9v.9h-.9zM157.8 86.3h.9v.9h-.9zM154.9 78.2h.9v.9h-.9zM157.5 98.2h.9v.9h-.9zM160.3 94.2h.9v.9h-.9zM168.6 79.9h.9v.9h-.9zM155.2 86.0h.9v.9h-.9zM161.1 92.7h.9v.9h-.9zM162.0 90.7h.9v.9h-.9zM160.7 91.6h.9v.9h-.9zM151.1 87.7h.9v.9h-.9zM157.2 84.0h.9v.9h-.9zM164.4 84.8h.9v.9h-.9zM154.6 91.7h.9v.9h-.9zM159.4 88.9h.9v.9h-.9zM165.1 89.5h.9v.9h-.9zM153.6 91.4h.9v.9h-.9zM156.6 90.3h.9v.9h-.9zM169.5 84.4h.9v.9h-.9zM151.2 83.5h.9v.9h-.9zM156.4 96.1h.9v.9h-.9zM151.5 85.6h.9v.9h-.9zM150.8 90.7h.9v.9h-.9zM167.0 86.2h.9v.9h-.9zM160.5 85.3h.9v.9h-.9zM160.9 94.2h.9v.9h-.9zM154.1 93.1h.9v.9h-.9zM160.9 91.5h.9v.9h-.9zM150.8 85.1h.9v.9h-.9zM154.7 89.9h.9v.9h-.9zM150.7 84.6h.9v.9h-.9zM165.9 93.1h.9v.9h-.9zM156.8 95.5h.9v.9h-.9zM154.7 79.6h.9v.9h-.9zM158.6 91.5h.9v.9h-.9zM153.3 86.4h.9v.9h-.9zM165.1 78.7h.9v.9h-.9zM156.6 92.3h.9v.9h-.9zM150.6 95.5h.9v.9h-.9zM165.7 84.5h.9v.9h-.9zM163.6 89.2h.9v.9h-.9zM153.5 92.6h.9v.9h-.9zM154.1 90.8h.9v.9h-.9zM151.0 94.2h.9v.9h-.9zM164.0 91.8h.9v.9h-.9zM164.0 91.1h.9v.9h-.9zM152.6 97.0h.9v.9h-.9zM152.7 80.6h.9v.9h-.9zM155.4 92.3h.9v.9h-.9zM160.2 92.0h.9v.9h-.9zM164.4 95.3h.9v.9h-.9zM163.1 95.1h.9v.9h-.9zM167.3 88.4h.9v.9h-.9zM161.3 82.1h.9v.9h-.9zM162.1 90.3h.9v.9h-.9zM167.0 82.6h.9v.9h-.9zM160.6 92.7h.9v.9h-.9zM157.4 93.3h.9v.9h-.9zM164.3 80.6h.9v.9h-.9zM161.2 89.3h.9v.9h-.9zM157.0 84.6h.9v.9h-.9zM150.3 94.0h.9v.9h-.9zM161.8 80.6h.9v.9h-.9zM151.0 79.5h.9v.9h-.9zM164.1 86.2h.9v.9h-.9zM164.4 86.1h.9v.9h-.9zM153.1 88.5h.9v.9h-.9zM165.3 81.5h.9v.9h-.9zM159.0 79.5h.9v.9h-.9zM167.6 87.7h.9v.9h-.9zM165.3 91.9h.9v.9h-.9zM150.9 97.6h.9v.9h-.9zM156.2 93.7h.9v.9h-.9zM163.1 84.6h.9v.9h-.9zM159.4 87.4h.9v.9h-.9zM153.7 92.8h.9v.9h-.9zM158.6 85.2h.9v.9h-.9zM157.7 89.5h.9v.9h-.9zM156.0 88.2h.9v.9h-.9zM153.8 92.9h.9v.9h-.9zM158.3 87.2h.9v.9h-.9zM162.4 80.2h.9v.9h-.9zM157.0 88.6h.9v.9h-.9zM158.0 87.4h.9v.9h-.9zM168.4 89.0h.9v.9h-.9zM159.8 83.8h.9v.9h-.9zM167.0 84.4h.9v.9h-.9zM164.0 92.7h.9v.9h-.9zM150.6 93.2h.9v.9h-.9zM163.5 80.1h.9v.9h-.9zM152.4 91.0h.9v.9h-.9zM155.3 93.7h.9v.9h-.9zM161.7 80.9h.9v.9h-.9zM150.6 87.4h.9v.9h-.9zM153.2 81.7h.9v.9h-.9zM166.7 87.9h.9v.9h-.9zM156.1 87.1h.9v.9h-.9zM161.9 88.5h.9v.9h-.9zM166.9 92.9h.9v.9h-.9zM159.9 82.8h.9v.9h-.9zM163.0 84.0h.9v.9h-.9zM153.9 82.3h.9v.9h-.9zM154.5 97.8h.9v.9h-.9zM164.6 82.0h.9v.9h-.9zM155.7 83.9h.9v.9h-.9zM152.7 84.0h.9v.9h-.9zM158.0 80.7h.9v.9h-.9zM160.3 88.6h.9v.9h-.9zM158.5 84.7h.9v.9h-.9zM164.6 92.3h.9v.9h-.9zM155.4 94.6h.9v.9h-.9zM166.6 95.2h.9v.9h-.9zM166.7 86.3h.9v.9h-.9zM159.6 83.6h.9v.9h-.9zM161.8 82.7h.9v.9h-.9zM162.4 93.5h.9v.9h-.9zM152.8 78.3h.9v.9h-.9zM154.9 96.1h.9v.9h-.9zM166.9 92.6h.9v.9h-.9zM154.4 92.0h.9v.9h-.9zM155.8 94.4h.9v.9h-.9zM156.9 77.9h.9v.9h-.9zM165.3 82.3h.9v.9h-.9zM163.9 90.9h.9v.9h-.9zM153.8 89.4h.9v.9h-.9zM157.4 83.7h.9v.9h-.9zM150.8 90.3h.9v.9h-.9zM152.8 82.0h.9v.9h-.9zM156.8 88.2h.9v.9h-.9zM154.1 81.4h.9v.9h-.9zM156.3 94.9h.9v.9h-.9zM165.3 90.8h.9v.9h-.9zM155.7 92.8h.9v.9h-.9zM161.4 87.1h.9v.9h-.9zM168.4 83.4h.9v.9h-.9zM151.4 90.8h.9v.9h-.9zM159.7 84.4h.9v.9h-.9zM165.4 82.3h.9v.9h-.9zM164.7 80.3h.9v.9h-.9zM161.0 85.7h.9v.9h-.9zM162.5 90.2h.9v.9h-.9zM151.9 86.3h.9v.9h-.9zM152.0 88.2h.9v.9h-.9zM153.9 80.9h.9v.9h-.9zM164.9 89.3h.9v.9h-.9zM154.7 100.1h.9v.9h-.9zM161.4 83.1h.9v.9h-.9zM152.6 95.3h.9v.9h-.9zM165.4 80.8h.9v.9h-.9zM164.9 88.7h.9v.9h-.9zM167.9 85.4h.9v.9h-.9zM167.5 88.4h.9v.9h-.9zM160.7 90.5h.9v.9h-.9zM164.8 87.2h.9v.9h-.9zM168.4 91.9h.9v.9h-.9zM151.1 88.6h.9v.9h-.9zM152.6 96.4h.9v.9h-.9zM163.5 94.4h.9v.9h-.9zM161.8 80.4h.9v.9h-.9zM153.6 91.4h.9v.9h-.9zM160.4 90.6h.9v.9h-.9zM160.5 95.4h.9v.9h-.9zM156.8 91.3h.9v.9h-.9zM150.7 93.1h.9v.9h-.9zM168.4 90.0h.9v.9h-.9zM156.4 85.8h.9v.9h-.9zM150.9 87.9h.9v.9h-.9zM163.8 95.7h.9v.9h-.9zM162.5 82.6h.9v.9h-.9zM155.8 85.4h.9v.9h-.9zM161.6 93.4h.9v.9h-.9zM151.4 94.3h.9v.9h-.9zM162.0 83.4h.9v.9h-.9zM168.3 82.8h.9v.9h-.9zM161.9 91.3h.9v.9h-.9zM152.4 94.0h.9v.9h-.9zM156.2 85.2h.9v.9h-.9zM162.0 82.6h.9v.9h-.9zM158.0 81.8h.9v.9h-.9zM167.7 97.1h.9v.9h-.9zM165.7 97.0h.9v.9h-.9zM157.2 81.1h.9v.9h-.9zM162.1 85.2h.9v.9h-.9zM150.4 85.3h.9v.9h-.9zM155.1 86.0h.9v.9h-.9zM152.6 87.3h.9v.9h-.9zM156.7 87.7h.9v.9h-.9zM151.4 90.4h.9v.9h-.9zM160.6 88.9h.9v.9h-.9zM152.8 91.5h.9v.9h-.9zM150.7 96.3h.9v.9h-.9zM154.6 85.1h.9v.9h-.9zM157.6 83.1h.9v.9h-.9zM161.5 92.7h.9v.9h-.9zM156.2 88.3h.9v.9h-.9zM157.7 81.2h.9v.9h-.9zM164.6 94.8h.9v.9h-.9zM157.9 88.3h.9v.9h-.9zM157.5 91.9h.9v.9h-.9zM155.1 83.2h.9v.9h-.9zM165.8 95.3h.9v.9h-.9zM154.0 80.3h.9v.9h-.9zM158.5 94.1h.9v.9h-.9zM164.3 84.9h.9v.9h-.9zM162.2 94.9h.9v.9h-.9zM156.5 97.8h.9v.9h-.9zM158.2 93.4h.9v.9h-.9zM154.2 92.6h.9v.9h-.9zM164.4 93.3h.9v.9h-.9zM164.3 95.1h.9v.9h-.9zM164.7 95.4h.9v.9h-.9zM154.0 83.6h.9v.9h-.9zM163.2 86.6h.9v.9h-.9zM164.8 93.1h.9v.9h-.9zM154.7 80.6h.9v.9h-.9zM155.7 80.3h.9v.9h-.9zM168.0 92.8h.9v.9h-.9zM151.4 94.1h.9v.9h-.9zM161.1 91.6h.9v.9h-.9zM155.0 91.4h.9v.9h-.9zM159.1 88.9h.9v.9h-.9zM162.7 83.1h.9v.9h-.9zM166.5 86.5h.9v.9h-.9zM164.9 83.1h.9v.9h-.9zM154.2 89.0h.9v.9h-.9zM165.9 91.0h.9v.9h-.9zM164.6 87.5h.9v.9h-.9zM152.0 97.7h.9v.9h-.9zM156.0 93.3h.9v.9h-.9zM165.7 88.7h.9v.9h-.9zM162.0 83.4h.9v.9h-.9zM150.9 82.0h.9v.9h-.9zM163.0 82.3h.9v.9h-.9zM168.0 85.7h.9v.9h-.9zM150.4 82.9h.9v.9h-.9zM166.8 85.6h.9v.9h-.9zM161.1 80.3h.9v.9h-.9zM163.5 93.7h.9v.9h-.9zM152.2 84.9h.9v.9h-.9zM167.7 80.2h.9v.9h-.9zM167.8 93.8h.9v.9h-.9zM150.7 85.1h.9v.9h-.9zM164.3 95.8h.9v.9h-.9zM156.8 92.3h.9v.9h-.9zM152.4 89.9h.9v.9h-.9zM160.0 94.0h.9v.9h-.9zM165.9 81.7h.9v.9h-.9zM161.4 91.4h.9v.9h-.9zM150.5 93.7h.9v.9h-.9zM165.7 81.0h.9v.9h-.9zM157.4 92.4h.9v.9h-.9zM158.0 88.7h.9v.9h-.9zM155.0 82.8h.9v.9h-.9zM168.3 83.7h.9v.9h-.9zM161.9 97.8h.9v.9h-.9zM166.7 93.5h.9v.9h-.9zM165.3 94.9h.9v.9h-.9zM162.9 81.4h.9v.9h-.9zM167.4 92.0h.9v.9h-.9zM152.8 89.1h.9v.9h-.9zM154.4 83.1h.9v.9h-.9zM165.8 94.9h.9v.9h-.9zM162.1 79.8h.9v.9h-.9zM168.6 95.6h.9v.9h-.9zM155.6 81.3h.9v.9h-.9zM152.9 94.8h.9v.9h-.9zM158.9 93.6h.9v.9h-.9zM165.4 87.6h.9v.9h-.9zM160.0 84.3h.9v.9h-.9zM155.9 90.3h.9v.9h-.9zM157.4 81.3h.9v.9h-.9zM165.3 95.7h.9v.9h-.9zM152.0 91.3h.9v.9h-.9zM161.9 95.4h.9v.9h-.9zM157.2 94.6h.9v.9h-.9zM165.6 92.2h.9v.9h-.9zM162.7 88.3h.9v.9h-.9zM164.9 91.5h.9v.9h-.9zM150.6 83.3h.9v.9h-.9zM160.8 94.0h.9v.9h-.9zM150.7 85.2h.9v.9h-.9zM154.9 90.7h.9v.9h-.9zM151.9 88.1h.9v.9h-.9zM159.2 95.8h.9v.9h-.9zM152.0 95.8h.9v.9h-.9zM157.1 86.4h.9v.9h-.9zM162.8 88.7h.9v.9h-.9zM165.1 86.1h.9v.9h-.9zM162.7 85.3h.9v.9h-.9zM164.2 96.5h.9v.9h-.9zM154.8 92.5h.9v.9h-.9zM151.3 93.7h.9v.9h-.9zM152.3 83.8h.9v.9h-.9zM159.5 92.9h.9v.9h-.9zM168.6 91.0h.9v.9h-.9zM158.1 84.0h.9v.9h-.9zM159.2 84.0h.9v.9h-.9zM163.9 89.8h.9v.9h-.9zM154.0 88.8h.9v.9h-.9zM156.5 85.6h.9v.9h-.9zM166.4 93.9h.9v.9h-.9zM151.9 94.0h.9v.9h-.9zM159.8 86.8h.9v.9h-.9zM150.7 80.8h.9v.9h-.9zM155.2 84.1h.9v.9h-.9zM168.2 83.4h.9v.9h-.9zM164.0 90.5h.9v.9h-.9zM162.4 90.6h.9v.9h-.9zM152.8 98.8h.9v.9h-.9zM166.1 90.0h.9v.9h-.9zM158.0 87.7h.9v.9h-.9zM150.4 89.4h.9v.9h-.9zM160.9 95.5h.9v.9h-.9zM152.9 95.1h.9v.9h-.9zM165.6 93.6h.9v.9h-.9zM156.1 87.3h.9v.9h-.9zM156.4 90.2h.9v.9h-.9zM153.8 95.6h.9v.9h-.9zM155.9 77.6h.9v.9h-.9zM152.7 86.9h.9v.9h-.9zM159.9 88.7h.9v.9h-.9zM152.7 95.9h.9v.9h-.9zM158.1 97.0h.9v.9h-.9zM164.0 82.0h.9v.9h-.9zM162.6 97.0h.9v.9h-.9zM155.7 80.6h.9v.9h-.9zM160.9 93.3h.9v.9h-.9zM156.9 80.1h.9v.9h-.9zM155.1 78.3h.9v.9h-.9zM156.1 86.3h.9v.9h-.9zM167.6 93.9h.9v.9h-.9zM159.8 84.3h.9v.9h-.9zM155.5 78.8h.9v.9h-.9zM152.7 90.2h.9v.9h-.9zM157.8 85.3h.9v.9h-.9zM155.1 80.0h.9v.9h-.9zM156.0 80.6h.9v.9h-.9zM158.4 94.6h.9v.9h-.9zM162.1 83.4h.9v.9h-.9zM161.9 83.6h.9v.9h-.9zM164.2 86.0h.9v.9h-.9zM161.3 81.9h.9v.9h-.9zM164.7 93.0h.9v.9h-.9zM150.6 91.9h.9v.9h-.9zM162.6 83.3h.9v.9h-.9zM162.4 90.1h.9v.9h-.9zM162.1 86.2h.9v.9h-.9zM166.4 87.6h.9v.9h-.9zM151.6 87.1h.9v.9h-.9zM163.8 93.3h.9v.9h-.9zM164.5 79.6h.9v.9h-.9zM158.9 80.0h.9v.9h-.9zM154.2 85.9h.9v.9h-.9zM159.3 83.0h.9v.9h-.9zM164.3 90.0h.9v.9h-.9zM153.9 95.2h.9v.9h-.9zM164.3 86.4h.9v.9h-.9zM163.8 86.0h.9v.9h-.9zM160.7 89.2h.9v.9h-.9zM158.9 91.7h.9v.9h-.9zM164.2 94.3h.9v.9h-.9zM152.1 90.5h.9v.9h-.9zM153.4 96.0h.9v.9h-.9zM158.8 80.5h.9v.9h-.9zM150.5 91.2h.9v.9h-.9zM156.0 79.0h.9v.9h-.9zM152.3 81.2h.9v.9h-.9zM169.8 98.4h.9v.9h-.9zM158.5 95.9h.9v.9h-.9zM152.2 85.8h.9v.9h-.9zM156.6 95.9h.9v.9h-.9zM154.3 86.3h.9v.9h-.9zM157.3 83.1h.9v.9h-.9zM156.9 80.2h.9v.9h-.9zM163.4 86.3h.9v.9h-.9zM160.4 82.0h.9v.9h-.9zM152.4 88.9h.9v.9h-.9zM163.9 90.5h.9v.9h-.9zM158.5 96.8h.9v.9h-.9zM152.9 85.3h.9v.9h-.9zM162.0 92.3h.9v.9h-.9zM162.4 94.0h.9v.9h-.9zM160.5 85.6h.9v.9h-.9zM158.5 81.9h.9v.9h-.9zM160.3 91.4h.9v.9h-.9zM167.5 95.0h.9v.9h-.9zM158.3 86.1h.9v.9h-.9zM167.7 82.6h.9v.9h-.9zM159.5 80.4h.9v.9h-.9zM157.5 85.5h.9v.9h-.9zM160.6 97.4h.9v.9h-.9zM164.6 96.5h.9v.9h-.9zM151.1 99.2h.9v.9h-.9zM156.8 84.6h.9v.9h-.9zM154.8 86.8h.9v.9h-.9zM151.1 91.6h.9v.9h-.9zM157.3 83.7h.9v.9h-.9zM158.7 83.1h.9v.9h-.9zM157.7 80.8h.9v.9h-.9zM157.2 86.0h.9v.9h-.9zM164.7 87.9h.9v.9h-.9zM154.2 86.1h.9v.9h-.9zM166.2 93.7h.9v.9h-.9zM163.8 89.5h.9v.9h-.9zM151.7 83.5h.9v.9h-.9zM151.7 82.6h.9v.9h-.9zM150.3 89.9h.9v.9h-.9zM161.1 84.8h.9v.9h-.9zM160.9 93.7h.9v.9h-.9zM152.3 95.5h.9v.9h-.9zM164.3 93.5h.9v.9h-.9zM158.5 91.0h.9v.9h-.9zM164.1 86.2h.9v.9h-.9zM166.2 92.5h.9v.9h-.9zM153.1 85.0h.9v.9h-.9zM150.6 83.2h.9v.9h-.9zM159.9 90.3h.9v.9h-.9zM150.6 89.0h.9v.9h-.9zM163.0 84.7h.9v.9h-.9zM161.9 92.0h.9v.9h-.9zM152.8 94.1h.9v.9h-.9zM164.1 86.2h.9v.9h-.9zM159.7 90.8h.9v.9h-.9zM161.4 86.9h.9v.9h-.9zM158.6 84.9h.9v.9h-.9zM163.0 99.2h.9v.9h-.9zM160.8 92.1h.9v.9h-.9zM159.0 80.7h.9v.9h-.9zM160.6 91.0h.9v.9h-.9zM153.5 92.4h.9v.9h-.9zM160.9 87.0h.9v.9h-.9zM151.5 83.2h.9v.9h-.9zM160.6 94.9h.9v.9h-.9zM163.3 86.9h.9v.9h-.9zM167.2 92.7h.9v.9h-.9zM165.7 84.0h.9v.9h-.9zM163.3 86.6h.9v.9h-.9zM167.1 93.0h.9v.9h-.9zM168.6 85.0h.9v.9h-.9zM158.2 95.5h.9v.9h-.9zM162.5 83.0h.9v.9h-.9zM154.0 95.4h.9v.9h-.9zM159.8 92.9h.9v.9h-.9zM154.9 85.8h.9v.9h-.9zM163.8 92.6h.9v.9h-.9zM152.1 91.0h.9v.9h-.9zM152.8 86.3h.9v.9h-.9zM160.8 88.4h.9v.9h-.9zM160.8 84.1h.9v.9h-.9zM159.5 78.3h.9v.9h-.9zM160.1 97.5h.9v.9h-.9zM152.5 91.2h.9v.9h-.9zM163.3 92.5h.9v.9h-.9zM157.9 86.0h.9v.9h-.9zM155.6 79.0h.9v.9h-.9zM166.7 78.6h.9v.9h-.9zM161.3 83.5h.9v.9h-.9zM162.0 82.3h.9v.9h-.9zM155.8 88.3h.9v.9h-.9zM152.4 84.8h.9v.9h-.9zM151.0 95.3h.9v.9h-.9zM163.3 83.9h.9v.9h-.9zM159.2 85.5h.9v.9h-.9zM158.4 87.2h.9v.9h-.9zM155.0 82.1h.9v.9h-.9zM158.3 80.4h.9v.9h-.9zM159.8 92.2h.9v.9h-.9zM155.2 85.1h.9v.9h-.9zM164.5 88.1h.9v.9h-.9zM152.5 94.9h.9v.9h-.9zM152.1 90.8h.9v.9h-.9zM163.2 95.7h.9v.9h-.9zM152.2 90.6h.9v.9h-.9zM154.0 93.5h.9v.9h-.9zM161.0 91.5h.9v.9h-.9zM151.1 86.8h.9v.9h-.9zM158.0 97.7h.9v.9h-.9zM155.9 84.8h.9v.9h-.9zM171.4 87.1h.9v.9h-.9zM158.4 87.6h.9v.9h-.9zM156.6 90.2h.9v.9h-.9zM162.3 91.1h.9v.9h-.9zM162.1 91.2h.9v.9h-.9zM153.9 80.7h.9v.9h-.9zM150.4 93.0h.9v.9h-.9zM160.5 93.0h.9v.9h-.9zM158.1 93.9h.9v.9h-.9zM154.3 81.0h.9v.9h-.9zM162.5 81.7h.9v.9h-.9zM164.7 95.2h.9v.9h-.9zM168.5 82.9h.9v.9h-.9zM165.7 88.5h.9v.9h-.9zM154.0 97.3h.9v.9h-.9zM154.8 83.8h.9v.9h-.9zM164.2 87.1h.9v.9h-.9zM150.3 87.6h.9v.9h-.9zM167.4 91.5h.9v.9h-.9zM160.5 90.2h.9v.9h-.9zM158.0 84.5h.9v.9h-.9zM163.9 91.2h.9v.9h-.9zM155.7 86.5h.9v.9h-.9zM153.0 86.8h.9v.9h-.9zM164.8 85.0h.9v.9h-.9zM167.6 89.4h.9v.9h-.9zM151.4 89.8h.9v.9h-.9zM168.1 79.6h.9v.9h-.9zM152.4 81.3h.9v.9h-.9zM161.3 84.5h.9v.9h-.9zM158.3 91.8h.9v.9h-.9zM167.9 96.2h.9v.9h-.9zM167.6 81.5h.9v.9h-.9zM152.5 80.5h.9v.9h-.9zM155.7 88.5h.9v.9h-.9zM165.4 93.5h.9v.9h-.9zM157.7 94.6h.9v.9h-.9zM155.8 83.3h.9v.9h-.9zM157.2 85.9h.9v.9h-.9zM150.7 90.2h.9v.9h-.9zM151.9 93.9h.9v.9h-.9zM163.9 94.8h.9v.9h-.9zM165.7 84.9h.9v.9h-.9zM162.9 91.2h.9v.9h-.9zM153.3 88.6h.9v.9h-.9zM161.5 82.2h.9v.9h-.9zM156.6 93.0h.9v.9h-.9zM160.7 82.3h.9v.9h-.9zM154.0 91.2h.9v.9h-.9zM153.1 89.5h.9v.9h-.9zM168.0 92.9h.9v.9h-.9zM163.5 94.4h.9v.9h-.9zM159.6 82.5h.9v.9h-.9zM158.3 88.4h.9v.9h-.9zM157.9 96.1h.9v.9h-.9zM156.7 92.5h.9v.9h-.9zM165.9 87.2h.9v.9h-.9zM165.7 83.5h.9v.9h-.9zM151.7 86.5h.9v.9h-.9zM163.5 87.8h.9v.9h-.9zM161.2 93.0h.9v.9h-.9zM161.7 94.5h.9v.9h-.9zM153.3 93.9h.9v.9h-.9zM166.5 89.4h.9v.9h-.9zM160.3 95.6h.9v.9h-.9zM162.7 88.9h.9v.9h-.9zM152.4 88.5h.9v.9h-.9zM157.5 96.2h.9v.9h-.9zM150.3 95.7h.9v.9h-.9zM154.3 94.1h.9v.9h-.9zM156.1 85.6h.9v.9h-.9zM160.7 90.2h.9v.9h-.9zM151.9 82.3h.9v.9h-.9zM155.6 92.4h.9v.9h-.9zM155.5 83.5h.9v.9h-.9zM163.4 89.4h.9v.9h-.9zM154.4 80.6h.9v.9h-.9zM153.9 86.9h.9v.9h-.9zM155.4 81.7h.9v.9h-.9zM166.1 87.9h.9v.9h-.9zM151.6 89.8h.9v.9h-.9zM153.6 88.3h.9v.9h-.9zM166.2 80.4h.9v.9h-.9zM156.5 88.7h.9v.9h-.9zM161.6 82.2h.9v.9h-.9zM151.4 85.7h.9v.9h-.9zM152.9 94.1h.9v.9h-.9zM162.5 89.7h.9v.9h-.9zM151.2 87.8h.9v.9h-.9zM154.2 88.9h.9v.9h-.9zM155.1 87.9h.9v.9h-.9zM161.4 88.8h.9v.9h-.9zM152.2 88.2h.9v.9h-.9zM154.1 92.9h.9v.9h-.9zM158.5 90.5h.9v.9h-.9zM160.8 92.4h.9v.9h-.9zM162.4 81.9h.9v.9h-.9zM157.6 94.4h.9v.9h-.9zM154.1 94.6h.9v.9h-.9zM164.1 82.0h.9v.9h-.9zM155.4 91.5h.9v.9h-.9zM163.7 85.1h.9v.9h-.9zM163.2 92.8h.9v.9h-.9zM162.2 89.1h.9v.9h-.9zM158.0 92.0h.9v.9h-.9zM154.8 91.8h.9v.9h-.9zM159.8 92.3h.9v.9h-.9zM151.1 88.9h.9v.9h-.9zM167.5 91.7h.9v.9h-.9zM158.7 89.1h.9v.9h-.9zM160.4 89.2h.9v.9h-.9zM167.8 80.7h.9v.9h-.9zM164.3 86.4h.9v.9h-.9zM158.1 86.5h.9v.9h-.9zM168.9 79.3h.9v.9h-.9zM163.5 94.4h.9v.9h-.9zM151.0 89.1h.9v.9h-.9zM156.7 86.8h.9v.9h-.9zM157.6 90.6h.9v.9h-.9zM161.3 95.1h.9v.9h-.9zM162.5 81.4h.9v.9h-.9zM157.2 92.3h.9v.9h-.9zM163.2 98.2h.9v.9h-.9zM162.1 82.6h.9v.9h-.9zM158.2 85.2h.9v.9h-.9zM151.0 86.3h.9v.9h-.9zM156.4 95.8h.9v.9h-.9zM155.8 79.0h.9v.9h-.9zM161.6 89.1h.9v.9h-.9zM155.2 83.4h.9v.9h-.9zM156.9 79.8h.9v.9h-.9zM152.0 76.8h.9v.9h-.9zM163.8 87.6h.9v.9h-.9zM156.0 85.1h.9v.9h-.9zM159.2 88.6h.9v.9h-.9zM167.3 92.8h.9v.9h-.9zM161.1 88.4h.9v.9h-.9zM156.3 86.4h.9v.9h-.9zM155.0 89.6h.9v.9h-.9zM160.9 88.2h.9v.9h-.9zM165.4 93.6h.9v.9h-.9zM154.7 90.9h.9v.9h-.9zM160.2 86.3h.9v.9h-.9zM153.3 96.8h.9v.9h-.9zM154.9 96.0h.9v.9h-.9zM161.0 91.1h.9v.9h-.9zM155.9 94.2h.9v.9h-.9zM153.8 81.9h.9v.9h-.9zM166.1 95.1h.9v.9h-.9zM152.8 94.9h.9v.9h-.9zM152.3 86.2h.9v.9h-.9zM150.7 84.3h.9v.9h-.9zM150.4 89.7h.9v.9h-.9zM157.0 88.1h.9v.9h-.9zM155.9 87.2h.9v.9h-.9zM162.4 89.3h.9v.9h-.9zM152.8 83.3h.9v.9h-.9zM150.9 91.2h.9v.9h-.9zM163.1 94.9h.9v.9h-.9zM152.1 94.6h.9v.9h-.9zM157.5 84.5h.9v.9h-.9zM151.0 94.1h.9v.9h-.9zM167.2 92.0h.9v.9h-.9zM161.2 86.4h.9v.9h-.9zM151.7 94.4h.9v.9h-.9zM169.2 83.4h.9v.9h-.9zM157.8 79.6h.9v.9h-.9zM165.0 90.9h.9v.9h-.9zM164.3 98.1h.9v.9h-.9zM159.0 86.5h.9v.9h-.9zM157.9 87.3h.9v.9h-.9zM154.2 83.4h.9v.9h-.9zM158.2 87.6h.9v.9h-.9zM154.5 96.2h.9v.9h-.9zM159.9 95.4h.9v.9h-.9zM162.4 94.0h.9v.9h-.9zM164.4 93.5h.9v.9h-.9zM161.4 88.2h.9v.9h-.9zM156.1 88.0h.9v.9h-.9zM158.9 79.5h.9v.9h-.9zM155.9 81.9h.9v.9h-.9zM159.3 84.7h.9v.9h-.9zM151.8 88.4h.9v.9h-.9zM155.4 91.3h.9v.9h-.9zM162.8 79.5h.9v.9h-.9zM152.0 85.7h.9v.9h-.9zM163.6 91.1h.9v.9h-.9zM165.1 93.3h.9v.9h-.9zM161.2 92.9h.9v.9h-.9zM153.1 84.4h.9v.9h-.9zM158.0 81.5h.9v.9h-.9zM154.3 88.3h.9v.9h-.9zM163.1 96.1h.9v.9h-.9zM165.0 83.3h.9v.9h-.9zM153.2 82.9h.9v.9h-.9zM152.6 94.6h.9v.9h-.9zM160.5 93.4h.9v.9h-.9zM166.1 94.8h.9v.9h-.9zM156.3 85.8h.9v.9h-.9zM153.2 79.0h.9v.9h-.9zM158.0 95.8h.9v.9h-.9zM155.9 96.0h.9v.9h-.9zM155.0 88.8h.9v.9h-.9zM162.5 85.1h.9v.9h-.9zM151.1 81.3h.9v.9h-.9zM153.1 84.8h.9v.9h-.9zM158.3 87.0h.9v.9h-.9zM166.5 92.9h.9v.9h-.9zM152.5 80.9h.9v.9h-.9zM154.5 85.0h.9v.9h-.9zM151.0 79.8h.9v.9h-.9zM151.3 90.8h.9v.9h-.9zM153.5 87.6h.9v.9h-.9zM157.1 87.7h.9v.9h-.9zM152.7 84.2h.9v.9h-.9zM158.6 81.1h.9v.9h-.9zM152.4 92.5h.9v.9h-.9zM168.9 96.0h.9v.9h-.9zM159.4 88.5h.9v.9h-.9zM164.1 95.3h.9v.9h-.9zM152.1 88.4h.9v.9h-.9zM164.8 86.3h.9v.9h-.9zM155.9 84.8h.9v.9h-.9zM156.4 80.0h.9v.9h-.9zM166.1 87.7h.9v.9h-.9zM159.5 88.0h.9v.9h-.9zM153.9 89.3h.9v.9h-.9zM158.6 85.7h.9v.9h-.9zM163.5 85.6h.9v.9h-.9zM155.7 91.9h.9v.9h-.9zM160.0 89.7h.9v.9h-.9zM152.1 91.2h.9v.9h-.9zM154.6 85.7h.9v.9h-.9zM153.8 82.8h.9v.9h-.9zM166.4 87.4h.9v.9h-.9zM166.5 89.0h.9v.9h-.9zM156.5 95.2h.9v.9h-.9zM168.2 85.1h.9v.9h-.9zM156.2 83.5h.9v.9h-.9zM155.7 82.0h.9v.9h-.9zM157.0 95.7h.9v.9h-.9zM156.4 88.4h.9v.9h-.9zM153.0 93.3h.9v.9h-.9zM152.7 94.9h.9v.9h-.9zM165.0 89.6h.9v.9h-.9zM156.1 83.0h.9v.9h-.9zM154.2 88.2h.9v.9h-.9zM157.8 79.0h.9v.9h-.9zM155.6 89.1h.9v.9h-.9zM164.0 95.6h.9v.9h-.9zM156.5 86.0h.9v.9h-.9zM161.6 89.1h.9v.9h-.9zM161.7 83.3h.9v.9h-.9zM162.2 93.1h.9v.9h-.9zM153.0 96.1h.9v.9h-.9zM157.0 90.3h.9v.9h-.9zM160.3 87.2h.9v.9h-.9zM154.9 82.3h.9v.9h-.9zM163.8 90.8h.9v.9h-.9zM155.2 83.1h.9v.9h-.9zM157.5 83.0h.9v.9h-.9zM151.5 86.6h.9v.9h-.9zM163.0 86.8h.9v.9h-.9zM154.5 92.1h.9v.9h-.9zM151.0 89.8h.9v.9h-.9zM153.3 96.2h.9v.9h-.9zM150.3 93.9h.9v.9h-.9zM156.1 92.6h.9v.9h-.9zM164.6 83.7h.9v.9h-.9zM165.3 88.9h.9v.9h-.9zM164.9 95.9h.9v.9h-.9zM164.3 88.1h.9v.9h-.9zM166.5 85.8h.9v.9h-.9zM152.6 91.2h.9v.9h-.9zM158.8 86.2h.9v.9h-.9zM165.6 89.9h.9v.9h-.9zM166.2 94.6h.9v.9h-.9zM160.8 90.4h.9v.9h-.9zM151.9 88.4h.9v.9h-.9zM154.5 86.0h.9v.9h-.9zM155.3 90.4h.9v.9h-.9zM162.1 95.7h.9v.9h-.9zM162.4 90.8h.9v.9h-.9zM158.6 90.0h.9v.9h-.9zM152.3 90.9h.9v.9h-.9zM167.7 92.2h.9v.9h-.9zM165.3 81.1h.9v.9h-.9zM165.3 90.2h.9v.9h-.9zM159.9 80.1h.9v.9h-.9zM169.4 82.0h.9v.9h-.9zM152.1 84.0h.9v.9h-.9zM150.5 97.8h.9v.9h-.9zM165.9 90.9h.9v.9h-.9zM162.3 96.6h.9v.9h-.9zM155.7 88.2h.9v.9h-.9zM160.5 89.7h.9v.9h-.9zM151.4 88.7h.9v.9h-.9zM151.1 89.4h.9v.9h-.9zM165.9 84.8h.9v.9h-.9zM165.7 88.8h.9v.9h-.9zM151.7 87.3h.9v.9h-.9zM162.5 87.5h.9v.9h-.9zM162.9 81.4h.9v.9h-.9zM160.2 88.9h.9v.9h-.9zM159.3 85.0h.9v.9h-.9zM162.9 80.7h.9v.9h-.9zM151.3 92.9h.9v.9h-.9zM168.2 81.7h.9v.9h-.9zM161.4 97.0h.9v.9h-.9zM159.0 87.5h.9v.9h-.9zM153.6 84.0h.9v.9h-.9zM152.2 81.2h.9v.9h-.9zM161.0 76.8h.9v.9h-.9zM155.1 92.2h.9v.9h-.9zM160.8 93.5h.9v.9h-.9zM151.4 84.0h.9v.9h-.9zM156.0 91.3h.9v.9h-.9zM155.7 83.4h.9v.9h-.9zM151.7 89.1h.9v.9h-.9zM161.7 80.6h.9v.9h-.9zM163.7 87.1h.9v.9h-.9zM156.8 93.1h.9v.9h-.9zM155.5 85.7h.9v.9h-.9zM161.5 85.3h.9v.9h-.9zM153.8 86.3h.9v.9h-.9zM164.1 93.5h.9v.9h-.9zM160.3 90.1h.9v.9h-.9zM164.6 86.0h.9v.9h-.9zM153.9 96.2h.9v.9h-.9zM157.9 83.5h.9v.9h-.9zM161.0 90.6h.9v.9h-.9zM165.9 91.8h.9v.9h-.9zM164.7 87.5h.9v.9h-.9zM157.6 84.4h.9v.9h-.9zM159.8 86.3h.9v.9h-.9zM157.4 82.9h.9v.9h-.9zM152.2 90.7h.9v.9h-.9zM155.1 90.4h.9v.9h-.9zM168.4 78.1h.9v.9h-.9zM159.3 83.8h.9v.9h-.9zM154.4 87.2h.9v.9h-.9zM165.7 96.6h.9v.9h-.9zM155.2 87.9h.9v.9h-.9zM159.3 87.5h.9v.9h-.9zM153.6 89.2h.9v.9h-.9zM156.1 80.4h.9v.9h-.9zM152.1 87.7h.9v.9h-.9zM158.2 82.8h.9v.9h-.9zM152.3 92.2h.9v.9h-.9zM157.8 93.1h.9v.9h-.9zM164.7 93.9h.9v.9h-.9zM165.5 85.5h.9v.9h-.9zM161.0 88.8h.9v.9h-.9zM157.6 82.3h.9v.9h-.9zM155.5 90.4h.9v.9h-.9zM156.7 81.2h.9v.9h-.9zM155.4 92.7h.9v.9h-.9zM161.1 87.8h.9v.9h-.9zM162.7 82.6h.9v.9h-.9zM150.6 89.4h.9v.9h-.9zM158.2 85.2h.9v.9h-.9zM163.3 90.5h.9v.9h-.9zM164.9 96.6h.9v.9h-.9zM152.5 79.2h.9v.9h-.9zM161.3 81.4h.9v.9h-.9zM168.4 94.3h.9v.9h-.9zM162.0 81.4h.9v.9h-.9zM153.3 88.9h.9v.9h-.9zM164.4 99.2h.9v.9h-.9zM167.4 84.6h.9v.9h-.9zM164.5 97.7h.9v.9h-.9zM166.6 83.3h.9v.9h-.9zM153.8 90.6h.9v.9h-.9zM158.5 91.5h.9v.9h-.9zM162.7 80.7h.9v.9h-.9zM163.5 93.2h.9v.9h-.9zM166.4 94.3h.9v.9h-.9zM156.4 77.2h.9v.9h-.9zM153.4 89.3h.9v.9h-.9zM162.5 99.6h.9v.9h-.9zM155.7 87.8h.9v.9h-.9zM156.4 84.2h.9v.9h-.9zM162.3 85.4h.9v.9h-.9zM153.3 79.6h.9v.9h-.9zM164.6 80.3h.9v.9h-.9zM153.4 90.8h.9v.9h-.9zM153.4 85.9h.9v.9h-.9zM158.1 97.2h.9v.9h-.9zM161.7 94.1h.9v.9h-.9zM155.8 93.0h.9v.9h-.9zM166.5 88.4h.9v.9h-.9zM158.7 95.7h.9v.9h-.9zM152.6 77.6h.9v.9h-.9zM155.2 95.9h.9v.9h-.9zM163.6 95.2h.9v.9h-.9zM150.7 89.8h.9v.9h-.9zM151.5 86.5h.9v.9h-.9zM156.4 91.2h.9v.9h-.9zM150.3 79.3h.9v.9h-.9zM158.2 90.8h.9v.9h-.9zM157.6 84.8h.9v.9h-.9zM165.5 79.4h.9v.9h-.9zM158.6 86.3h.9v.9h-.9zM159.5 94.3h.9v.9h-.9zM153.6 89.4h.9v.9h-.9zM154.8 84.1h.9v.9h-.9zM161.4 88.7h.9v.9h-.9zM156.7 91.5h.9v.9h-.9zM162.9 81.4h.9v.9h-.9zM157.6 97.9h.9v.9h-.9zM164.3 80.2h.9v.9h-.9zM151.8 81.9h.9v.9h-.9zM162.9 79.2h.9v.9h-.9zM163.2 96.5h.9v.9h-.9zM167.5 92.0h.9v.9h-.9zM156.0 91.2h.9v.9h-.9zM161.2 85.8h.9v.9h-.9zM167.0 79.1h.9v.9h-.9zM156.9 85.2h.9v.9h-.9zM168.5 81.2h.9v.9h-.9zM167.2 89.6h.9v.9h-.9zM153.7 93.2h.9v.9h-.9zM159.7 91.5h.9v.9h-.9zM156.4 86.5h.9v.9h-.9zM163.8 84.2h.9v.9h-.9zM151.3 91.2h.9v.9h-.9zM166.0 83.0h.9v.9h-.9zM151.3 95.5h.9v.9h-.9zM150.7 90.7h.9v.9h-.9zM163.8 87.8h.9v.9h-.9zM153.6 94.5h.9v.9h-.9zM157.2 80.7h.9v.9h-.9zM167.0 96.9h.9v.9h-.9zM154.8 97.7h.9v.9h-.9zM159.8 87.0h.9v.9h-.9zM162.7 82.7h.9v.9h-.9zM158.8 93.5h.9v.9h-.9zM162.1 81.0h.9v.9h-.9zM151.9 92.0h.9v.9h-.9zM159.3 94.5h.9v.9h-.9zM164.1 84.3h.9v.9h-.9zM159.6 80.9h.9v.9h-.9zM160.6 82.6h.9v.9h-.9zM163.4 91.3h.9v.9h-.9zM155.1 89.6h.9v.9h-.9zM163.0 94.5h.9v.9h-.9zM157.6 80.8h.9v.9h-.9zM154.0 99.3h.9v.9h-.9zM150.6 95.8h.9v.9h-.9zM165.2 83.8h.9v.9h-.9zM155.4 78.3h.9v.9h-.9zM161.2 95.5h.9v.9h-.9zM156.0 92.5h.9v.9h-.9zM162.1 92.3h.9v.9h-.9zM161.3 80.4h.9v.9h-.9zM163.2 80.3h.9v.9h-.9zM158.5 83.3h.9v.9h-.9zM168.5 96.0h.9v.9h-.9zM151.8 81.8h.9v.9h-.9zM166.5 94.4h.9v.9h-.9zM152.5 83.5h.9v.9h-.9zM162.1 87.0h.9v.9h-.9zM151.0 91.8h.9v.9h-.9zM153.5 93.5h.9v.9h-.9zM165.6 89.8h.9v.9h-.9zM165.7 87.7h.9v.9h-.9zM150.6 91.8h.9v.9h-.9zM150.6 93.4h.9v.9h-.9zM150.4 92.8h.9v.9h-.9zM163.8 84.8h.9v.9h-.9zM159.5 97.9h.9v.9h-.9zM165.2 97.1h.9v.9h-.9zM160.8 89.9h.9v.9h-.9zM165.2 80.4h.9v.9h-.9zM155.2 86.0h.9v.9h-.9zM161.1 92.2h.9v.9h-.9zM157.0 86.3h.9v.9h-.9zM164.9 88.1h.9v.9h-.9zM151.9 85.3h.9v.9h-.9zM155.0 83.8h.9v.9h-.9zM164.7 89.7h.9v.9h-.9zM152.0 84.1h.9v.9h-.9zM152.1 93.9h.9v.9h-.9zM155.1 81.7h.9v.9h-.9zM156.5 95.5h.9v.9h-.9zM166.0 87.6h.9v.9h-.9zM164.1 93.6h.9v.9h-.9zM161.8 84.1h.9v.9h-.9zM156.0 80.8h.9v.9h-.9zM161.4 80.5h.9v.9h-.9zM158.9 86.9h.9v.9h-.9zM160.0 81.1h.9v.9h-.9zM162.0 92.2h.9v.9h-.9zM165.7 91.0h.9v.9h-.9zM160.9 94.4h.9v.9h-.9zM151.2 90.4h.9v.9h-.9zM165.5 90.2h.9v.9h-.9zM160.4 82.3h.9v.9h-.9zM164.9 80.4h.9v.9h-.9zM156.2 91.2h.9v.9h-.9zM156.3 81.3h.9v.9h-.9zM157.0 97.2h.9v.9h-.9zM152.4 93.4h.9v.9h-.9zM159.6 80.5h.9v.9h-.9zM162.9 86.1h.9v.9h-.9zM164.6 79.0h.9v.9h-.9zM151.6 77.2h.9v.9h-.9zM163.1 87.9h.9v.9h-.9zM153.3 95.5h.9v.9h-.9zM158.6 81.8h.9v.9h-.9zM158.9 96.6h.9v.9h-.9zM166.4 86.4h.9v.9h-.9zM161.4 87.3h.9v.9h-.9zM167.0 96.8h.9v.9h-.9zM156.9 87.1h.9v.9h-.9zM156.5 80.6h.9v.9h-.9zM162.3 96.5h.9v.9h-.9zM164.3 96.6h.9v.9h-.9zM157.5 91.7h.9v.9h-.9zM159.6 91.8h.9v.9h-.9zM152.8 86.6h.9v.9h-.9zM160.6 95.9h.9v.9h-.9zM164.6 87.0h.9v.9h-.9zM162.9 87.0h.9v.9h-.9zM165.5 83.4h.9v.9h-.9zM160.4 88.0h.9v.9h-.9zM150.3 92.3h.9v.9h-.9zM155.0 84.1h.9v.9h-.9zM155.2 80.8h.9v.9h-.9zM167.8 82.2h.9v.9h-.9zM157.5 87.9h.9v.9h-.9zM165.6 78.3h.9v.9h-.9zM159.1 86.7h.9v.9h-.9zM163.6 92.3h.9v.9h-.9zM163.0 77.6h.9v.9h-.9zM152.4 94.7h.9v.9h-.9zM156.3 81.6h.9v.9h-.9zM160.7 80.0h.9v.9h-.9zM167.8 91.0h.9v.9h-.9zM164.2 94.5h.9v.9h-.9zM156.5 79.5h.9v.9h-.9zM155.1 92.4h.9v.9h-.9zM160.2 88.2h.9v.9h-.9zM158.2 80.7h.9v.9h-.9zM157.1 88.8h.9v.9h-.9zM159.7 87.1h.9v.9h-.9zM152.3 84.1h.9v.9h-.9zM158.4 96.3h.9v.9h-.9zM152.5 88.4h.9v.9h-.9zM151.4 94.3h.9v.9h-.9zM165.7 81.2h.9v.9h-.9zM153.9 94.8h.9v.9h-.9zM161.2 84.0h.9v.9h-.9zM163.8 88.7h.9v.9h-.9zM151.3 81.3h.9v.9h-.9zM153.1 82.7h.9v.9h-.9zM153.1 89.3h.9v.9h-.9zM167.9 93.7h.9v.9h-.9zM159.3 95.2h.9v.9h-.9zM152.5 89.3h.9v.9h-.9zM167.6 82.1h.9v.9h-.9zM162.7 89.4h.9v.9h-.9zM166.1 86.7h.9v.9h-.9zM153.1 83.8h.9v.9h-.9zM162.3 92.0h.9v.9h-.9zM163.6 93.4h.9v.9h-.9zM159.1 83.0h.9v.9h-.9zM161.2 80.1h.9v.9h-.9zM152.1 94.0h.9v.9h-.9zM153.0 92.3h.9v.9h-.9zM156.0 81.6h.9v.9h-.9zM161.2 85.4h.9v.9h-.9zM150.5 92.3h.9v.9h-.9zM152.5 84.2h.9v.9h-.9zM161.1 93.0h.9v.9h-.9zM168.7 81.6h.9v.9h-.9zM154.1 88.1h.9v.9h-.9zM159.4 83.5h.9v.9h-.9zM162.0 93.0h.9v.9h-.9zM164.7 79.7h.9v.9h-.9zM158.5 91.6h.9v.9h-.9zM160.4 87.6h.9v.9h-.9zM151.1 90.6h.9v.9h-.9zM153.0 82.6h.9v.9h-.9zM155.4 95.2h.9v.9h-.9zM152.6 93.5h.9v.9h-.9zM157.4 80.6h.9v.9h-.9zM150.9 96.3h.9v.9h-.9zM162.8 81.8h.9v.9h-.9zM156.1 87.0h.9v.9h-.9zM161.5 84.5h.9v.9h-.9zM160.0 93.5h.9v.9h-.9zM162.8 92.4h.9v.9h-.9zM152.8 82.4h.9v.9h-.9zM151.8 91.7h.9v.9h-.9zM168.0 82.2h.9v.9h-.9zM157.8 91.7h.9v.9h-.9zM163.3 82.7h.9v.9h-.9zM157.9 85.8h.9v.9h-.9zM152.1 80.9h.9v.9h-.9zM153.0 93.0h.9v.9h-.9zM153.5 85.8h.9v.9h-.9zM152.7 88.9h.9v.9h-.9zM163.2 98.6h.9v.9h-.9zM164.1 91.2h.9v.9h-.9zM156.2 83.7h.9v.9h-.9zM169.3 87.7h.9v.9h-.9zM153.9 89.9h.9v.9h-.9zM156.0 83.1h.9v.9h-.9zM158.2 78.7h.9v.9h-.9zM160.3 84.6h.9v.9h-.9zM154.1 83.3h.9v.9h-.9zM167.6 84.0h.9v.9h-.9zM169.4 81.8h.9v.9h-.9zM152.9 83.4h.9v.9h-.9zM153.3 94.3h.9v.9h-.9zM160.3 88.4h.9v.9h-.9zM155.4 91.4h.9v.9h-.9zM159.5 92.4h.9v.9h-.9zM163.5 95.1h.9v.9h-.9zM162.1 91.1h.9v.9h-.9zM152.0 93.5h.9v.9h-.9zM155.1 83.7h.9v.9h-.9zM166.2 82.6h.9v.9h-.9zM167.1 93.1h.9v.9h-.9zM155.8 84.5h.9v.9h-.9zM151.1 82.5h.9v.9h-.9zM163.7 87.0h.9v.9h-.9zM151.0 86.4h.9v.9h-.9zM151.1 94.4h.9v.9h-.9zM156.3 88.0h.9v.9h-.9zM152.0 96.5h.9v.9h-.9zM164.8 82.6h.9v.9h-.9zM165.7 95.9h.9v.9h-.9zM154.6 93.4h.9v.9h-.9zM161.1 81.6h.9v.9h-.9zM150.6 94.8h.9v.9h-.9zM156.4 92.7h.9v.9h-.9zM152.9 92.8h.9v.9h-.9zM152.1 96.4h.9v.9h-.9zM155.5 86.2h.9v.9h-.9zM158.3 86.9h.9v.9h-.9zM151.8 83.7h.9v.9h-.9zM159.5 88.4h.9v.9h-.9zM162.7 97.0h.9v.9h-.9zM153.7 90.4h.9v.9h-.9zM158.4 92.8h.9v.9h-.9zM155.2 93.0h.9v.9h-.9zM154.7 89.9h.9v.9h-.9zM166.6 88.6h.9v.9h-.9zM166.2 84.8h.9v.9h-.9zM157.8 87.6h.9v.9h-.9zM165.8 88.0h.9v.9h-.9zM159.5 77.9h.9v.9h-.9zM166.4 79.3h.9v.9h-.9zM162.2 97.3h.9v.9h-.9zM168.4 82.7h.9v.9h-.9zM162.5 91.5h.9v.9h-.9zM162.3 90.7h.9v.9h-.9zM160.3 93.4h.9v.9h-.9zM164.6 91.3h.9v.9h-.9zM152.7 89.8h.9v.9h-.9zM159.9 85.5h.9v.9h-.9zM165.3 89.9h.9v.9h-.9zM165.2 96.7h.9v.9h-.9zM157.0 84.1h.9v.9h-.9zM160.2 94.9h.9v.9h-.9zM156.9 85.3h.9v.9h-.9zM161.8 90.4h.9v.9h-.9zM151.3 92.5h.9v.9h-.9zM163.1 93.8h.9v.9h-.9zM152.6 83.3h.9v.9h-.9zM160.2 90.1h.9v.9h-.9zM153.0 95.6h.9v.9h-.9zM166.8 97.1h.9v.9h-.9zM164.3 93.3h.9v.9h-.9zM161.2 94.0h.9v.9h-.9zM163.8 87.5h.9v.9h-.9zM167.8 89.6h.9v.9h-.9zM164.4 86.7h.9v.9h-.9zM152.9 85.9h.9v.9h-.9zM150.4 86.1h.9v.9h-.9zM164.8 93.9h.9v.9h-.9zM158.2 95.7h.9v.9h-.9zM161.6 96.2h.9v.9h-.9zM156.7 86.7h.9v.9h-.9zM164.8 95.9h.9v.9h-.9zM155.5 91.4h.9v.9h-.9zM151.9 83.8h.9v.9h-.9zM161.0 86.3h.9v.9h-.9zM153.5 79.6h.9v.9h-.9zM156.2 89.6h.9v.9h-.9zM164.4 97.3h.9v.9h-.9zM153.8 85.0h.9v.9h-.9zM166.8 87.1h.9v.9h-.9zM153.0 79.0h.9v.9h-.9zM168.1 87.9h.9v.9h-.9zM166.4 93.2h.9v.9h-.9zM159.5 93.5h.9v.9h-.9zM155.3 85.6h.9v.9h-.9zM152.1 83.6h.9v.9h-.9zM164.1 94.4h.9v.9h-.9zM164.4 82.4h.9v.9h-.9zM165.0 84.7h.9v.9h-.9zM165.1 87.2h.9v.9h-.9zM158.9 94.6h.9v.9h-.9zM167.1 90.7h.9v.9h-.9zM168.4 95.6h.9v.9h-.9zM163.8 97.2h.9v.9h-.9zM164.6 92.4h.9v.9h-.9zM152.6 92.3h.9v.9h-.9zM166.7 85.2h.9v.9h-.9zM157.8 93.0h.9v.9h-.9zM156.9 94.5h.9v.9h-.9zM160.1 87.4h.9v.9h-.9zM164.2 84.2h.9v.9h-.9zM155.2 81.7h.9v.9h-.9zM162.1 92.9h.9v.9h-.9zM164.7 90.7h.9v.9h-.9zM156.7 89.1h.9v.9h-.9zM157.5 80.0h.9v.9h-.9zM164.8 96.2h.9v.9h-.9zM156.5 80.1h.9v.9h-.9zM164.2 83.4h.9v.9h-.9zM161.5 95.3h.9v.9h-.9zM157.0 87.6h.9v.9h-.9zM155.9 87.5h.9v.9h-.9zM152.6 88.6h.9v.9h-.9zM154.1 92.6h.9v.9h-.9zM164.1 90.3h.9v.9h-.9zM155.3 86.7h.9v.9h-.9zM153.6 82.3h.9v.9h-.9zM162.6 80.7h.9v.9h-.9zM155.7 84.3h.9v.9h-.9zM152.9 87.2h.9v.9h-.9zM165.2 89.4h.9v.9h-.9zM168.5 92.9h.9v.9h-.9zM164.1 81.7h.9v.9h-.9zM164.0 79.8h.9v.9h-.9zM155.0 94.4h.9v.9h-.9zM155.3 88.9h.9v.9h-.9zM164.7 88.5h.9v.9h-.9zM159.8 80.9h.9v.9h-.9zM153.9 84.8h.9v.9h-.9zM154.6 92.8h.9v.9h-.9zM162.5 89.7h.9v.9h-.9zM156.2 79.0h.9v.9h-.9zM162.4 86.9h.9v.9h-.9zM152.4 86.8h.9v.9h-.9zM151.5 92.5h.9v.9h-.9zM150.4 84.7h.9v.9h-.9zM152.9 84.6h.9v.9h-.9zM154.8 94.6h.9v.9h-.9zM168.5 93.2h.9v.9h-.9zM160.3 90.7h.9v.9h-.9zM156.6 86.7h.9v.9h-.9zM153.2 84.9h.9v.9h-.9zM163.5 80.9h.9v.9h-.9zM160.8 83.8h.9v.9h-.9zM154.3 84.0h.9v.9h-.9zM156.0 87.1h.9v.9h-.9zM166.9 95.0h.9v.9h-.9zM164.6 87.3h.9v.9h-.9zM164.2 92.4h.9v.9h-.9zM161.6 81.8h.9v.9h-.9zM157.7 86.3h.9v.9h-.9zM159.2 94.6h.9v.9h-.9zM151.0 79.9h.9v.9h-.9zM155.9 82.2h.9v.9h-.9zM163.9 80.1h.9v.9h-.9zM154.3 80.4h.9v.9h-.9zM159.8 81.2h.9v.9h-.9zM167.3 78.9h.9v.9h-.9zM163.8 81.2h.9v.9h-.9zM153.9 86.2h.9v.9h-.9zM152.6 90.8h.9v.9h-.9zM164.9 93.4h.9v.9h-.9zM153.8 90.3h.9v.9h-.9zM163.3 81.2h.9v.9h-.9zM162.7 94.5h.9v.9h-.9zM159.4 90.9h.9v.9h-.9zM157.9 93.0h.9v.9h-.9zM168.2 91.3h.9v.9h-.9zM165.9 80.0h.9v.9h-.9zM156.0 97.2h.9v.9h-.9zM154.0 94.7h.9v.9h-.9zM159.0 83.8h.9v.9h-.9zM152.3 91.6h.9v.9h-.9zM154.9 85.7h.9v.9h-.9zM155.0 81.8h.9v.9h-.9zM154.4 90.6h.9v.9h-.9zM159.8 96.5h.9v.9h-.9zM154.6 91.0h.9v.9h-.9zM151.2 93.2h.9v.9h-.9zM150.7 82.7h.9v.9h-.9zM166.6 88.0h.9v.9h-.9zM152.8 85.4h.9v.9h-.9zM164.7 95.0h.9v.9h-.9zM168.2 81.3h.9v.9h-.9zM160.9 80.2h.9v.9h-.9zM167.1 92.5h.9v.9h-.9zM151.0 85.9h.9v.9h-.9zM165.2 86.0h.9v.9h-.9zM160.2 94.4h.9v.9h-.9zM162.3 84.6h.9v.9h-.9zM167.4 82.3h.9v.9h-.9zM152.4 93.2h.9v.9h-.9zM154.5 96.7h.9v.9h-.9zM161.2 87.1h.9v.9h-.9zM154.8 94.2h.9v.9h-.9zM164.9 82.3h.9v.9h-.9zM152.1 93.3h.9v.9h-.9zM157.6 89.2h.9v.9h-.9zM162.8 90.1h.9v.9h-.9zM162.0 89.3h.9v.9h-.9zM162.8 76.9h.9v.9h-.9zM163.8 89.3h.9v.9h-.9zM159.8 82.0h.9v.9h-.9zM157.8 79.8h.9v.9h-.9zM158.1 94.4h.9v.9h-.9zM151.6 84.4h.9v.9h-.9zM158.8 94.0h.9v.9h-.9zM160.2 93.0h.9v.9h-.9zM154.6 93.1h.9v.9h-.9zM153.5 85.3h.9v.9h-.9zM150.9 81.2h.9v.9h-.9zM157.0 95.4h.9v.9h-.9zM161.4 78.2h.9v.9h-.9zM163.1 87.2h.9v.9h-.9zM153.6 96.1h.9v.9h-.9zM151.0 91.9h.9v.9h-.9zM156.2 87.0h.9v.9h-.9zM158.5 90.7h.9v.9h-.9zM160.2 95.2h.9v.9h-.9zM156.5 95.2h.9v.9h-.9zM166.2 88.7h.9v.9h-.9zM154.1 87.0h.9v.9h-.9zM157.3 81.9h.9v.9h-.9zM156.3 94.3h.9v.9h-.9zM168.4 91.7h.9v.9h-.9zM157.5 89.8h.9v.9h-.9zM155.6 95.3h.9v.9h-.9zM152.8 79.9h.9v.9h-.9zM155.3 81.1h.9v.9h-.9zM165.7 91.1h.9v.9h-.9zM162.6 97.0h.9v.9h-.9zM170.0 96.8h.9v.9h-.9zM155.6 90.8h.9v.9h-.9zM150.5 81.9h.9v.9h-.9zM152.6 88.4h.9v.9h-.9zM150.6 104.3h.9v.9h-.9zM164.1 103.5h.9v.9h-.9zM154.1 105.3h.9v.9h-.9zM159.5 101.6h.9v.9h-.9zM154.9 99.0h.9v.9h-.9zM155.2 102.4h.9v.9h-.9zM154.9 100.8h.9v.9h-.9zM155.7 95.9h.9v.9h-.9zM159.2 101.5h.9v.9h-.9zM159.4 89.2h.9v.9h-.9zM165.1 100.9h.9v.9h-.9zM153.2 108.5h.9v.9h-.9zM159.1 103.9h.9v.9h-.9zM159.7 91.8h.9v.9h-.9zM166.0 96.4h.9v.9h-.9zM165.4 100.4h.9v.9h-.9zM153.8 91.3h.9v.9h-.9zM156.1 97.0h.9v.9h-.9zM159.1 96.6h.9v.9h-.9zM163.2 98.8h.9v.9h-.9zM156.2 108.8h.9v.9h-.9zM163.6 98.4h.9v.9h-.9zM161.1 94.6h.9v.9h-.9zM154.5 100.2h.9v.9h-.9zM154.5 97.0h.9v.9h-.9zM162.7 98.6h.9v.9h-.9zM154.1 98.6h.9v.9h-.9zM155.0 104.0h.9v.9h-.9zM160.6 95.0h.9v.9h-.9zM166.8 105.2h.9v.9h-.9zM157.2 97.0h.9v.9h-.9zM159.0 98.7h.9v.9h-.9zM161.9 100.8h.9v.9h-.9zM166.4 94.5h.9v.9h-.9zM155.2 102.0h.9v.9h-.9zM155.9 99.3h.9v.9h-.9zM152.1 108.4h.9v.9h-.9zM157.8 103.6h.9v.9h-.9zM154.3 99.1h.9v.9h-.9zM158.4 107.4h.9v.9h-.9zM166.9 109.1h.9v.9h-.9zM167.8 106.7h.9v.9h-.9zM157.6 98.2h.9v.9h-.9zM166.6 98.1h.9v.9h-.9zM162.0 98.5h.9v.9h-.9zM152.7 101.1h.9v.9h-.9zM153.6 99.7h.9v.9h-.9zM164.0 100.2h.9v.9h-.9zM164.7 99.2h.9v.9h-.9zM160.9 96.9h.9v.9h-.9zM166.6 92.9h.9v.9h-.9zM160.5 103.1h.9v.9h-.9zM157.1 94.5h.9v.9h-.9zM150.7 100.6h.9v.9h-.9zM157.3 99.6h.9v.9h-.9zM162.4 109.8h.9v.9h-.9zM152.9 102.3h.9v.9h-.9zM159.1 105.2h.9v.9h-.9zM154.2 94.6h.9v.9h-.9zM152.5 96.6h.9v.9h-.9zM160.2 99.0h.9v.9h-.9zM153.6 98.0h.9v.9h-.9zM151.3 97.9h.9v.9h-.9zM157.7 97.8h.9v.9h-.9zM166.0 109.7h.9v.9h-.9zM161.7 94.8h.9v.9h-.9zM167.2 109.1h.9v.9h-.9zM157.7 102.3h.9v.9h-.9zM165.2 101.6h.9v.9h-.9zM166.2 103.0h.9v.9h-.9zM155.2 98.9h.9v.9h-.9zM157.3 98.2h.9v.9h-.9zM166.5 102.1h.9v.9h-.9zM157.6 104.0h.9v.9h-.9zM159.2 104.9h.9v.9h-.9zM168.3 101.5h.9v.9h-.9zM155.3 96.2h.9v.9h-.9zM169.2 102.4h.9v.9h-.9zM155.3 100.5h.9v.9h-.9zM152.2 106.1h.9v.9h-.9zM160.6 99.4h.9v.9h-.9zM150.5 109.1h.9v.9h-.9zM159.5 92.2h.9v.9h-.9zM155.4 100.7h.9v.9h-.9zM159.7 96.6h.9v.9h-.9zM165.5 103.1h.9v.9h-.9zM159.0 98.3h.9v.9h-.9zM152.3 99.0h.9v.9h-.9zM157.5 96.2h.9v.9h-.9zM160.5 104.0h.9v.9h-.9zM156.0 99.3h.9v.9h-.9zM158.6 107.3h.9v.9h-.9zM167.1 94.3h.9v.9h-.9zM155.9 110.8h.9v.9h-.9zM156.8 107.7h.9v.9h-.9zM161.7 105.8h.9v.9h-.9zM156.7 101.2h.9v.9h-.9zM162.0 100.8h.9v.9h-.9zM158.5 106.4h.9v.9h-.9zM157.8 106.0h.9v.9h-.9zM155.3 99.6h.9v.9h-.9zM163.1 102.9h.9v.9h-.9zM164.5 101.0h.9v.9h-.9zM158.6 99.0h.9v.9h-.9zM151.0 99.3h.9v.9h-.9zM164.9 100.6h.9v.9h-.9zM160.0 105.8h.9v.9h-.9zM153.4 102.2h.9v.9h-.9zM155.5 105.3h.9v.9h-.9zM150.4 99.5h.9v.9h-.9zM155.8 99.6h.9v.9h-.9zM155.6 108.2h.9v.9h-.9zM157.5 100.3h.9v.9h-.9zM150.4 95.7h.9v.9h-.9zM154.4 96.2h.9v.9h-.9zM161.8 98.6h.9v.9h-.9zM156.2 100.3h.9v.9h-.9zM153.5 96.0h.9v.9h-.9zM154.9 101.7h.9v.9h-.9zM158.2 97.6h.9v.9h-.9zM168.1 102.3h.9v.9h-.9zM162.7 106.9h.9v.9h-.9zM153.5 104.6h.9v.9h-.9zM160.3 102.0h.9v.9h-.9zM150.6 97.7h.9v.9h-.9zM158.9 100.7h.9v.9h-.9zM167.8 99.4h.9v.9h-.9zM160.3 99.7h.9v.9h-.9zM151.3 99.6h.9v.9h-.9zM159.4 107.6h.9v.9h-.9zM166.1 98.8h.9v.9h-.9zM153.6 100.8h.9v.9h-.9zM155.6 110.4h.9v.9h-.9zM163.8 100.7h.9v.9h-.9zM155.8 96.8h.9v.9h-.9zM158.3 91.0h.9v.9h-.9zM156.6 99.2h.9v.9h-.9zM167.7 94.1h.9v.9h-.9zM164.2 99.6h.9v.9h-.9zM163.4 98.1h.9v.9h-.9zM161.3 104.2h.9v.9h-.9zM173.7 97.8h.9v.9h-.9zM158.2 100.5h.9v.9h-.9zM155.5 100.6h.9v.9h-.9zM159.1 99.6h.9v.9h-.9zM151.6 102.0h.9v.9h-.9zM150.5 100.6h.9v.9h-.9zM164.8 96.0h.9v.9h-.9zM158.2 101.7h.9v.9h-.9zM158.7 99.2h.9v.9h-.9zM159.0 103.6h.9v.9h-.9zM153.1 100.3h.9v.9h-.9zM163.1 98.7h.9v.9h-.9zM152.0 103.9h.9v.9h-.9zM163.0 104.7h.9v.9h-.9zM158.9 98.5h.9v.9h-.9zM167.7 105.8h.9v.9h-.9zM163.6 99.1h.9v.9h-.9zM159.7 97.6h.9v.9h-.9zM152.9 101.3h.9v.9h-.9zM160.8 103.1h.9v.9h-.9zM159.6 108.9h.9v.9h-.9zM153.3 106.1h.9v.9h-.9zM156.7 104.6h.9v.9h-.9zM153.7 109.5h.9v.9h-.9zM167.3 94.8h.9v.9h-.9zM166.6 101.7h.9v.9h-.9zM164.3 101.0h.9v.9h-.9zM158.3 95.7h.9v.9h-.9zM156.4 101.0h.9v.9h-.9zM151.2 97.3h.9v.9h-.9zM159.1 102.8h.9v.9h-.9zM156.5 106.5h.9v.9h-.9zM156.1 103.5h.9v.9h-.9zM166.7 98.1h.9v.9h-.9zM165.8 100.6h.9v.9h-.9zM154.2 107.3h.9v.9h-.9zM168.7 99.9h.9v.9h-.9zM165.4 105.0h.9v.9h-.9zM159.1 109.6h.9v.9h-.9zM158.6 98.6h.9v.9h-.9zM159.4 100.7h.9v.9h-.9zM156.7 100.1h.9v.9h-.9zM151.5 103.5h.9v.9h-.9zM151.4 105.4h.9v.9h-.9zM163.3 99.7h.9v.9h-.9zM157.0 98.7h.9v.9h-.9zM159.3 108.0h.9v.9h-.9zM161.2 99.6h.9v.9h-.9zM169.5 99.7h.9v.9h-.9zM157.3 109.5h.9v.9h-.9zM163.2 105.9h.9v.9h-.9zM162.9 103.3h.9v.9h-.9zM163.3 104.2h.9v.9h-.9zM172.2 96.7h.9v.9h-.9zM155.1 100.1h.9v.9h-.9zM150.7 101.8h.9v.9h-.9zM152.4 101.4h.9v.9h-.9zM165.8 99.2h.9v.9h-.9zM155.0 104.3h.9v.9h-.9zM155.0 100.9h.9v.9h-.9zM158.5 96.2h.9v.9h-.9zM164.8 97.0h.9v.9h-.9zM164.6 102.7h.9v.9h-.9zM153.1 99.9h.9v.9h-.9zM164.3 100.1h.9v.9h-.9zM172.1 97.4h.9v.9h-.9zM166.3 94.8h.9v.9h-.9zM157.8 105.1h.9v.9h-.9zM152.4 102.3h.9v.9h-.9zM152.9 96.0h.9v.9h-.9zM155.0 99.0h.9v.9h-.9zM156.4 98.8h.9v.9h-.9zM154.2 91.0h.9v.9h-.9zM167.1 109.4h.9v.9h-.9zM161.9 100.1h.9v.9h-.9zM153.5 102.2h.9v.9h-.9zM160.9 97.6h.9v.9h-.9zM158.2 104.1h.9v.9h-.9zM160.9 100.9h.9v.9h-.9zM160.0 98.3h.9v.9h-.9zM158.9 101.4h.9v.9h-.9zM154.9 100.7h.9v.9h-.9zM164.5 105.2h.9v.9h-.9zM154.2 95.5h.9v.9h-.9zM165.1 102.8h.9v.9h-.9zM161.8 95.7h.9v.9h-.9zM159.6 103.4h.9v.9h-.9zM161.7 98.3h.9v.9h-.9zM155.8 102.3h.9v.9h-.9zM160.3 106.2h.9v.9h-.9zM154.7 98.8h.9v.9h-.9zM166.4 96.7h.9v.9h-.9zM159.8 106.7h.9v.9h-.9zM153.3 102.4h.9v.9h-.9zM170.4 96.2h.9v.9h-.9zM153.0 105.3h.9v.9h-.9zM156.3 100.9h.9v.9h-.9zM159.6 106.0h.9v.9h-.9zM157.5 105.0h.9v.9h-.9zM163.7 101.1h.9v.9h-.9zM165.4 102.3h.9v.9h-.9zM158.6 112.9h.9v.9h-.9zM153.2 96.6h.9v.9h-.9zM153.2 99.5h.9v.9h-.9zM160.2 100.2h.9v.9h-.9zM172.5 99.1h.9v.9h-.9zM152.8 101.2h.9v.9h-.9zM156.6 99.2h.9v.9h-.9zM164.6 102.3h.9v.9h-.9zM165.8 96.9h.9v.9h-.9zM162.7 101.1h.9v.9h-.9zM155.5 94.9h.9v.9h-.9zM158.6 96.5h.9v.9h-.9zM163.3 102.9h.9v.9h-.9zM161.9 112.0h.9v.9h-.9zM166.6 93.1h.9v.9h-.9zM162.6 101.9h.9v.9h-.9zM160.3 99.1h.9v.9h-.9zM164.5 90.0h.9v.9h-.9zM151.2 103.5h.9v.9h-.9zM160.2 104.7h.9v.9h-.9zM156.8 98.9h.9v.9h-.9zM163.7 101.7h.9v.9h-.9zM151.7 104.8h.9v.9h-.9zM152.6 104.5h.9v.9h-.9zM160.2 103.3h.9v.9h-.9zM165.1 97.1h.9v.9h-.9zM162.9 100.8h.9v.9h-.9zM157.6 101.1h.9v.9h-.9zM156.1 101.2h.9v.9h-.9zM160.5 98.5h.9v.9h-.9zM165.5 101.4h.9v.9h-.9zM152.5 102.8h.9v.9h-.9zM162.1 95.4h.9v.9h-.9zM160.8 99.6h.9v.9h-.9zM160.6 100.4h.9v.9h-.9zM161.3 101.8h.9v.9h-.9zM155.0 101.3h.9v.9h-.9zM162.3 103.9h.9v.9h-.9zM166.4 102.4h.9v.9h-.9zM166.8 104.4h.9v.9h-.9zM156.3 98.3h.9v.9h-.9zM166.6 103.8h.9v.9h-.9zM151.9 96.9h.9v.9h-.9zM165.9 101.7h.9v.9h-.9zM151.7 102.8h.9v.9h-.9zM164.9 103.6h.9v.9h-.9zM158.8 100.3h.9v.9h-.9zM155.9 99.0h.9v.9h-.9zM160.7 111.0h.9v.9h-.9zM174.4 100.4h.9v.9h-.9zM150.3 100.7h.9v.9h-.9zM157.4 100.0h.9v.9h-.9zM151.4 100.8h.9v.9h-.9zM155.2 101.2h.9v.9h-.9zM150.7 101.2h.9v.9h-.9zM151.9 97.7h.9v.9h-.9zM155.2 98.9h.9v.9h-.9zM155.8 98.8h.9v.9h-.9zM155.4 98.3h.9v.9h-.9zM155.6 99.6h.9v.9h-.9zM170.2 104.7h.9v.9h-.9zM155.5 95.6h.9v.9h-.9zM165.8 101.0h.9v.9h-.9zM161.1 105.6h.9v.9h-.9zM152.9 98.6h.9v.9h-.9zM160.2 106.5h.9v.9h-.9zM158.6 101.3h.9v.9h-.9zM158.8 100.9h.9v.9h-.9zM159.9 98.8h.9v.9h-.9zM154.8 99.5h.9v.9h-.9zM162.7 105.6h.9v.9h-.9zM159.8 100.0h.9v.9h-.9zM166.3 103.2h.9v.9h-.9zM163.4 100.5h.9v.9h-.9zM156.6 103.0h.9v.9h-.9zM158.1 105.7h.9v.9h-.9zM153.8 102.3h.9v.9h-.9zM159.2 97.0h.9v.9h-.9zM157.0 96.9h.9v.9h-.9zM157.0 100.0h.9v.9h-.9zM174.7 96.9h.9v.9h-.9zM162.9 99.2h.9v.9h-.9zM161.2 99.7h.9v.9h-.9zM154.3 106.7h.9v.9h-.9zM165.7 94.2h.9v.9h-.9zM158.2 99.6h.9v.9h-.9zM151.0 101.7h.9v.9h-.9zM162.1 101.2h.9v.9h-.9zM161.8 108.0h.9v.9h-.9zM156.4 106.0h.9v.9h-.9zM172.0 89.6h.9v.9h-.9zM157.7 106.4h.9v.9h-.9zM161.1 98.6h.9v.9h-.9zM167.5 104.6h.9v.9h-.9zM151.0 104.3h.9v.9h-.9zM158.0 101.9h.9v.9h-.9zM152.2 103.2h.9v.9h-.9zM160.1 97.4h.9v.9h-.9zM157.1 106.7h.9v.9h-.9zM168.2 95.2h.9v.9h-.9zM162.1 99.9h.9v.9h-.9zM156.1 102.1h.9v.9h-.9zM168.1 103.3h.9v.9h-.9zM153.5 101.3h.9v.9h-.9zM161.8 105.5h.9v.9h-.9zM158.8 101.6h.9v.9h-.9zM160.6 103.7h.9v.9h-.9zM152.6 106.6h.9v.9h-.9zM161.1 101.2h.9v.9h-.9zM152.7 102.2h.9v.9h-.9zM170.9 98.8h.9v.9h-.9zM151.1 102.9h.9v.9h-.9zM159.4 100.9h.9v.9h-.9zM150.4 102.8h.9v.9h-.9zM163.0 84.1h.9v.9h-.9zM160.1 104.1h.9v.9h-.9zM153.9 92.7h.9v.9h-.9zM159.7 109.6h.9v.9h-.9zM161.3 110.0h.9v.9h-.9zM161.2 100.3h.9v.9h-.9zM154.6 106.7h.9v.9h-.9zM151.3 98.7h.9v.9h-.9zM156.7 102.3h.9v.9h-.9zM159.5 95.3h.9v.9h-.9zM152.2 107.9h.9v.9h-.9zM159.7 101.1h.9v.9h-.9zM157.1 102.3h.9v.9h-.9zM154.7 105.6h.9v.9h-.9zM164.3 101.1h.9v.9h-.9zM164.7 100.5h.9v.9h-.9zM156.7 105.1h.9v.9h-.9zM158.7 97.9h.9v.9h-.9zM168.7 100.4h.9v.9h-.9zM161.9 107.1h.9v.9h-.9zM151.7 99.9h.9v.9h-.9zM165.0 100.0h.9v.9h-.9zM156.6 100.6h.9v.9h-.9zM157.4 99.9h.9v.9h-.9zM161.6 101.5h.9v.9h-.9zM169.5 102.5h.9v.9h-.9zM169.2 101.7h.9v.9h-.9zM169.6 100.7h.9v.9h-.9zM166.5 101.8h.9v.9h-.9zM168.9 98.1h.9v.9h-.9zM156.5 102.7h.9v.9h-.9zM153.6 107.0h.9v.9h-.9zM158.2 103.3h.9v.9h-.9zM165.4 103.6h.9v.9h-.9zM154.9 95.9h.9v.9h-.9zM151.2 97.6h.9v.9h-.9zM154.8 98.0h.9v.9h-.9zM162.0 95.8h.9v.9h-.9zM150.9 101.9h.9v.9h-.9zM169.9 97.5h.9v.9h-.9zM158.6 101.0h.9v.9h-.9zM165.7 104.6h.9v.9h-.9zM156.6 104.8h.9v.9h-.9zM159.7 104.4h.9v.9h-.9zM170.0 92.5h.9v.9h-.9zM150.8 95.8h.9v.9h-.9zM151.9 101.6h.9v.9h-.9zM159.9 108.0h.9v.9h-.9zM167.6 102.3h.9v.9h-.9zM158.4 103.8h.9v.9h-.9zM161.7 99.3h.9v.9h-.9zM163.3 99.1h.9v.9h-.9zM158.6 100.5h.9v.9h-.9zM155.7 98.6h.9v.9h-.9zM159.6 100.6h.9v.9h-.9zM151.9 107.7h.9v.9h-.9zM169.2 107.6h.9v.9h-.9zM166.1 100.7h.9v.9h-.9zM153.5 97.1h.9v.9h-.9zM151.7 99.8h.9v.9h-.9zM151.7 101.5h.9v.9h-.9zM160.7 98.9h.9v.9h-.9zM155.9 100.8h.9v.9h-.9zM162.4 99.7h.9v.9h-.9zM169.1 97.5h.9v.9h-.9zM155.4 99.2h.9v.9h-.9zM157.9 101.9h.9v.9h-.9zM162.3 99.7h.9v.9h-.9zM168.4 93.7h.9v.9h-.9zM160.6 101.2h.9v.9h-.9zM151.0 95.4h.9v.9h-.9zM159.6 105.5h.9v.9h-.9zM161.3 100.7h.9v.9h-.9zM157.1 99.0h.9v.9h-.9zM156.6 103.5h.9v.9h-.9zM165.2 103.1h.9v.9h-.9zM154.9 103.2h.9v.9h-.9zM164.9 93.8h.9v.9h-.9zM160.8 98.8h.9v.9h-.9zM159.6 96.0h.9v.9h-.9zM152.7 100.5h.9v.9h-.9zM155.6 99.0h.9v.9h-.9zM153.7 102.6h.9v.9h-.9zM165.1 97.2h.9v.9h-.9zM160.4 99.2h.9v.9h-.9zM160.3 105.2h.9v.9h-.9zM160.3 100.4h.9v.9h-.9zM152.7 105.2h.9v.9h-.9zM168.4 93.4h.9v.9h-.9zM162.2 100.2h.9v.9h-.9zM151.4 107.6h.9v.9h-.9zM161.9 109.0h.9v.9h-.9zM154.2 99.1h.9v.9h-.9zM150.5 101.1h.9v.9h-.9zM195.5 76.4h.9v.9h-.9zM193.7 73.3h.9v.9h-.9zM186.0 81.4h.9v.9h-.9zM191.7 78.0h.9v.9h-.9zM190.2 82.3h.9v.9h-.9zM203.6 71.0h.9v.9h-.9zM191.7 78.8h.9v.9h-.9zM196.0 77.4h.9v.9h-.9zM188.5 87.0h.9v.9h-.9zM196.5 75.3h.9v.9h-.9zM190.1 83.5h.9v.9h-.9zM197.4 72.1h.9v.9h-.9zM196.4 68.3h.9v.9h-.9zM191.5 81.8h.9v.9h-.9zM188.1 78.8h.9v.9h-.9zM190.1 82.6h.9v.9h-.9zM197.8 69.5h.9v.9h-.9zM193.3 73.1h.9v.9h-.9zM187.0 83.5h.9v.9h-.9zM194.1 72.0h.9v.9h-.9zM197.4 73.1h.9v.9h-.9zM186.2 84.1h.9v.9h-.9zM188.7 81.4h.9v.9h-.9zM192.9 82.8h.9v.9h-.9zM189.7 83.9h.9v.9h-.9zM189.0 80.9h.9v.9h-.9zM194.7 78.5h.9v.9h-.9zM190.4 81.6h.9v.9h-.9zM194.5 74.7h.9v.9h-.9zM190.5 75.5h.9v.9h-.9zM190.3 77.8h.9v.9h-.9zM198.2 78.7h.9v.9h-.9zM198.4 71.9h.9v.9h-.9zM199.5 72.5h.9v.9h-.9zM204.4 71.2h.9v.9h-.9zM194.7 73.2h.9v.9h-.9zM190.5 83.9h.9v.9h-.9zM185.6 76.6h.9v.9h-.9zM195.2 71.6h.9v.9h-.9zM187.0 76.4h.9v.9h-.9zM200.8 69.1h.9v.9h-.9zM198.2 72.0h.9v.9h-.9zM195.6 72.2h.9v.9h-.9zM196.9 71.1h.9v.9h-.9zM198.4 81.8h.9v.9h-.9zM198.8 72.6h.9v.9h-.9zM195.5 76.6h.9v.9h-.9zM194.5 72.7h.9v.9h-.9zM200.6 66.6h.9v.9h-.9zM199.0 71.7h.9v.9h-.9zM194.7 74.5h.9v.9h-.9zM187.9 82.3h.9v.9h-.9zM188.3 81.5h.9v.9h-.9zM196.5 67.7h.9v.9h-.9zM184.1 88.3h.9v.9h-.9zM194.1 77.0h.9v.9h-.9zM196.6 75.6h.9v.9h-.9zM193.9 79.0h.9v.9h-.9zM194.9 81.8h.9v.9h-.9zM196.6 72.3h.9v.9h-.9zM199.3 71.4h.9v.9h-.9zM196.2 78.8h.9v.9h-.9zM194.1 75.1h.9v.9h-.9zM193.5 81.0h.9v.9h-.9zM188.7 80.4h.9v.9h-.9zM194.7 74.1h.9v.9h-.9zM196.0 70.5h.9v.9h-.9zM191.9 78.2h.9v.9h-.9zM202.1 75.0h.9v.9h-.9zM202.1 74.1h.9v.9h-.9zM190.7 80.3h.9v.9h-.9zM193.7 78.5h.9v.9h-.9zM197.7 76.4h.9v.9h-.9zM191.6 75.3h.9v.9h-.9zM188.0 81.4h.9v.9h-.9zM192.8 77.1h.9v.9h-.9zM187.0 77.5h.9v.9h-.9zM197.9 69.5h.9v.9h-.9zM187.7 81.1h.9v.9h-.9zM196.9 72.2h.9v.9h-.9zM201.3 67.9h.9v.9h-.9zM187.5 75.5h.9v.9h-.9zM195.1 76.8h.9v.9h-.9zM192.2 76.6h.9v.9h-.9zM202.1 69.3h.9v.9h-.9zM189.6 83.2h.9v.9h-.9zM192.7 77.1h.9v.9h-.9zM195.2 81.3h.9v.9h-.9zM195.9 68.4h.9v.9h-.9zM197.7 72.2h.9v.9h-.9zM188.3 82.7h.9v.9h-.9zM198.3 76.7h.9v.9h-.9zM194.2 75.8h.9v.9h-.9zM189.7 82.8h.9v.9h-.9zM195.0 75.9h.9v.9h-.9zM193.0 84.5h.9v.9h-.9zM191.1 78.2h.9v.9h-.9zM191.3 76.2h.9v.9h-.9zM186.0 83.2h.9v.9h-.9zM193.5 78.4h.9v.9h-.9zM191.7 83.8h.9v.9h-.9zM181.1 81.9h.9v.9h-.9zM195.2 70.5h.9v.9h-.9zM205.6 68.9h.9v.9h-.9zM195.3 73.4h.9v.9h-.9zM197.4 70.1h.9v.9h-.9zM186.2 83.1h.9v.9h-.9zM190.4 77.1h.9v.9h-.9zM185.9 81.3h.9v.9h-.9zM189.4 81.5h.9v.9h-.9zM186.6 81.6h.9v.9h-.9zM201.5 74.3h.9v.9h-.9zM194.5 67.1h.9v.9h-.9zM189.9 82.5h.9v.9h-.9zM187.1 81.3h.9v.9h-.9zM191.0 85.4h.9v.9h-.9zM198.2 68.4h.9v.9h-.9zM192.6 79.6h.9v.9h-.9zM194.0 82.0h.9v.9h-.9zM200.1 71.7h.9v.9h-.9zM187.0 81.7h.9v.9h-.9zM194.2 75.5h.9v.9h-.9zM194.0 77.0h.9v.9h-.9zM194.1 81.3h.9v.9h-.9zM197.0 73.6h.9v.9h-.9zM202.6 69.2h.9v.9h-.9zM189.4 77.4h.9v.9h-.9zM188.4 82.5h.9v.9h-.9zM195.8 78.8h.9v.9h-.9zM195.8 73.5h.9v.9h-.9zM198.1 70.2h.9v.9h-.9zM194.6 74.4h.9v.9h-.9zM200.4 73.5h.9v.9h-.9zM196.3 75.7h.9v.9h-.9zM194.3 77.4h.9v.9h-.9zM193.5 74.4h.9v.9h-.9zM188.8 75.8h.9v.9h-.9zM197.4 76.4h.9v.9h-.9zM189.0 80.2h.9v.9h-.9zM198.0 75.0h.9v.9h-.9zM190.2 82.3h.9v.9h-.9zM189.5 79.1h.9v.9h-.9zM194.2 72.3h.9v.9h-.9zM201.6 71.5h.9v.9h-.9zM196.6 66.1h.9v.9h-.9zM193.7 68.5h.9v.9h-.9zM195.7 79.9h.9v.9h-.9zM195.0 72.3h.9v.9h-.9zM190.8 80.4h.9v.9h-.9zM197.2 76.6h.9v.9h-.9zM199.4 77.8h.9v.9h-.9zM192.5 74.4h.9v.9h-.9zM195.8 73.8h.9v.9h-.9zM192.4 81.2h.9v.9h-.9zM192.8 77.5h.9v.9h-.9zM188.2 79.8h.9v.9h-.9zM195.3 78.2h.9v.9h-.9zM195.3 68.9h.9v.9h-.9zM194.9 78.8h.9v.9h-.9zM194.7 75.3h.9v.9h-.9zM197.6 72.4h.9v.9h-.9zM189.7 78.4h.9v.9h-.9zM193.9 75.5h.9v.9h-.9zM198.4 75.2h.9v.9h-.9zM197.6 73.3h.9v.9h-.9zM199.6 74.1h.9v.9h-.9zM190.9 81.6h.9v.9h-.9zM189.3 80.0h.9v.9h-.9zM187.0 82.8h.9v.9h-.9zM196.3 74.0h.9v.9h-.9zM195.2 73.4h.9v.9h-.9zM197.8 77.1h.9v.9h-.9zM196.0 70.1h.9v.9h-.9zM202.0 73.7h.9v.9h-.9zM190.9 77.1h.9v.9h-.9zM194.9 72.2h.9v.9h-.9zM192.7 77.6h.9v.9h-.9zM196.5 69.1h.9v.9h-.9zM188.5 88.0h.9v.9h-.9zM191.9 84.2h.9v.9h-.9zM197.7 77.3h.9v.9h-.9zM190.8 85.8h.9v.9h-.9zM196.1 78.4h.9v.9h-.9zM184.1 80.5h.9v.9h-.9zM200.2 71.9h.9v.9h-.9zM191.0 77.0h.9v.9h-.9zM189.9 83.7h.9v.9h-.9zM191.2 78.3h.9v.9h-.9zM193.0 75.7h.9v.9h-.9zM192.6 74.6h.9v.9h-.9zM190.6 82.0h.9v.9h-.9zM199.6 74.1h.9v.9h-.9zM193.4 73.1h.9v.9h-.9zM198.3 72.9h.9v.9h-.9zM191.9 80.1h.9v.9h-.9zM188.7 81.6h.9v.9h-.9zM186.9 83.2h.9v.9h-.9zM201.3 72.6h.9v.9h-.9zM196.0 78.7h.9v.9h-.9zM194.3 78.5h.9v.9h-.9zM193.1 79.6h.9v.9h-.9zM195.6 77.2h.9v.9h-.9zM184.7 84.2h.9v.9h-.9zM200.6 69.0h.9v.9h-.9zM199.0 71.0h.9v.9h-.9zM186.5 81.1h.9v.9h-.9zM195.6 77.3h.9v.9h-.9zM193.1 83.8h.9v.9h-.9zM194.2 83.2h.9v.9h-.9zM193.3 76.3h.9v.9h-.9zM192.3 76.4h.9v.9h-.9zM198.3 68.8h.9v.9h-.9zM195.7 76.9h.9v.9h-.9zM184.4 86.3h.9v.9h-.9zM190.5 84.1h.9v.9h-.9zM186.8 80.2h.9v.9h-.9zM197.7 72.8h.9v.9h-.9zM194.3 73.8h.9v.9h-.9zM198.4 72.5h.9v.9h-.9zM193.6 75.9h.9v.9h-.9zM195.9 67.8h.9v.9h-.9zM198.4 74.5h.9v.9h-.9zM191.2 79.5h.9v.9h-.9zM190.6 80.5h.9v.9h-.9zM195.3 74.6h.9v.9h-.9zM190.0 77.3h.9v.9h-.9zM196.5 73.7h.9v.9h-.9zM187.9 85.6h.9v.9h-.9zM194.7 81.4h.9v.9h-.9zM191.9 79.3h.9v.9h-.9zM192.1 76.5h.9v.9h-.9zM200.7 73.2h.9v.9h-.9zM195.3 74.2h.9v.9h-.9zM195.1 74.3h.9v.9h-.9zM190.9 79.5h.9v.9h-.9zM196.1 76.2h.9v.9h-.9zM190.7 75.6h.9v.9h-.9zM192.2 78.6h.9v.9h-.9zM193.4 76.7h.9v.9h-.9zM196.1 72.6h.9v.9h-.9zM192.6 83.6h.9v.9h-.9zM185.8 79.7h.9v.9h-.9zM186.4 84.3h.9v.9h-.9zM190.1 81.2h.9v.9h-.9zM190.4 80.9h.9v.9h-.9zM200.5 74.5h.9v.9h-.9zM184.0 79.7h.9v.9h-.9zM190.1 79.3h.9v.9h-.9zM193.5 73.9h.9v.9h-.9zM196.7 68.5h.9v.9h-.9zM194.0 74.2h.9v.9h-.9zM197.2 74.3h.9v.9h-.9zM196.5 72.7h.9v.9h-.9zM194.9 82.1h.9v.9h-.9zM197.2 67.6h.9v.9h-.9zM193.3 78.2h.9v.9h-.9zM195.2 76.1h.9v.9h-.9zM193.9 76.9h.9v.9h-.9zM194.4 78.1h.9v.9h-.9zM189.8 80.0h.9v.9h-.9zM199.6 72.1h.9v.9h-.9zM195.9 73.5h.9v.9h-.9zM195.1 73.6h.9v.9h-.9zM191.8 75.6h.9v.9h-.9zM189.4 79.8h.9v.9h-.9zM194.6 78.3h.9v.9h-.9zM194.2 74.5h.9v.9h-.9zM193.8 79.2h.9v.9h-.9zM188.4 81.8h.9v.9h-.9zM199.2 70.9h.9v.9h-.9zM192.3 82.7h.9v.9h-.9zM198.5 67.6h.9v.9h-.9zM199.9 69.9h.9v.9h-.9zM199.8 73.3h.9v.9h-.9zM186.9 86.0h.9v.9h-.9zM195.2 76.6h.9v.9h-.9zM202.3 72.4h.9v.9h-.9zM187.3 82.2h.9v.9h-.9zM195.3 75.5h.9v.9h-.9zM202.6 73.4h.9v.9h-.9zM194.1 72.4h.9v.9h-.9zM199.8 72.2h.9v.9h-.9zM199.2 73.0h.9v.9h-.9zM190.6 81.3h.9v.9h-.9zM194.8 77.2h.9v.9h-.9zM190.2 77.7h.9v.9h-.9zM194.3 76.9h.9v.9h-.9zM199.2 70.7h.9v.9h-.9zM195.7 76.0h.9v.9h-.9zM202.5 68.0h.9v.9h-.9zM196.5 80.3h.9v.9h-.9zM201.8 71.7h.9v.9h-.9zM201.5 75.9h.9v.9h-.9zM196.4 77.5h.9v.9h-.9zM190.0 82.5h.9v.9h-.9zM199.1 73.8h.9v.9h-.9zM201.8 72.9h.9v.9h-.9zM189.0 79.3h.9v.9h-.9zM194.6 70.9h.9v.9h-.9zM192.5 73.4h.9v.9h-.9zM187.9 85.8h.9v.9h-.9zM192.6 77.0h.9v.9h-.9zM198.2 71.2h.9v.9h-.9zM189.1 82.4h.9v.9h-.9zM194.4 79.0h.9v.9h-.9zM196.2 73.0h.9v.9h-.9zM196.7 71.0h.9v.9h-.9zM187.5 81.9h.9v.9h-.9zM195.2 78.0h.9v.9h-.9zM199.0 70.7h.9v.9h-.9zM195.0 77.7h.9v.9h-.9zM199.9 73.8h.9v.9h-.9zM195.1 74.6h.9v.9h-.9zM196.2 71.5h.9v.9h-.9zM190.9 75.8h.9v.9h-.9zM193.0 75.9h.9v.9h-.9zM194.7 72.3h.9v.9h-.9zM191.1 80.4h.9v.9h-.9zM185.9 80.9h.9v.9h-.9zM200.7 70.0h.9v.9h-.9zM193.5 75.8h.9v.9h-.9zM195.2 78.0h.9v.9h-.9zM187.4 79.9h.9v.9h-.9zM196.4 74.3h.9v.9h-.9zM190.5 82.8h.9v.9h-.9zM194.9 70.2h.9v.9h-.9zM187.7 84.5h.9v.9h-.9zM197.7 70.7h.9v.9h-.9zM183.6 84.5h.9v.9h-.9zM192.7 72.7h.9v.9h-.9zM191.2 79.7h.9v.9h-.9zM187.3 81.7h.9v.9h-.9zM187.9 81.8h.9v.9h-.9zM198.3 74.5h.9v.9h-.9zM192.9 67.3h.9v.9h-.9zM188.5 85.4h.9v.9h-.9zM196.1 82.0h.9v.9h-.9zM189.1 81.5h.9v.9h-.9zM197.8 71.0h.9v.9h-.9zM191.6 78.6h.9v.9h-.9zM198.9 74.2h.9v.9h-.9zM202.3 76.0h.9v.9h-.9zM191.6 76.2h.9v.9h-.9zM193.4 66.7h.9v.9h-.9zM188.6 83.3h.9v.9h-.9zM184.7 86.2h.9v.9h-.9zM191.2 78.9h.9v.9h-.9zM196.4 73.1h.9v.9h-.9zM186.7 76.8h.9v.9h-.9zM197.1 74.2h.9v.9h-.9zM188.7 79.7h.9v.9h-.9zM191.2 80.4h.9v.9h-.9zM197.6 70.9h.9v.9h-.9zM186.8 81.0h.9v.9h-.9zM187.0 77.6h.9v.9h-.9zM198.5 76.4h.9v.9h-.9zM194.4 75.7h.9v.9h-.9zM193.3 78.4h.9v.9h-.9zM195.6 80.0h.9v.9h-.9zM200.7 71.0h.9v.9h-.9zM187.6 84.1h.9v.9h-.9zM192.3 70.4h.9v.9h-.9zM190.4 84.2h.9v.9h-.9zM191.8 81.8h.9v.9h-.9zM189.8 77.0h.9v.9h-.9zM188.1 77.5h.9v.9h-.9zM190.8 81.1h.9v.9h-.9zM195.4 74.4h.9v.9h-.9zM196.0 79.2h.9v.9h-.9zM194.4 71.4h.9v.9h-.9zM197.2 72.8h.9v.9h-.9zM196.7 75.7h.9v.9h-.9zM193.6 78.4h.9v.9h-.9zM197.4 68.5h.9v.9h-.9zM186.9 79.1h.9v.9h-.9zM185.1 84.4h.9v.9h-.9zM195.9 81.7h.9v.9h-.9zM192.4 75.4h.9v.9h-.9zM193.4 75.5h.9v.9h-.9zM195.2 78.1h.9v.9h-.9zM189.8 82.5h.9v.9h-.9zM204.2 70.2h.9v.9h-.9zM196.3 71.6h.9v.9h-.9zM189.5 78.9h.9v.9h-.9zM195.9 77.2h.9v.9h-.9zM199.2 70.1h.9v.9h-.9zM197.5 72.6h.9v.9h-.9zM192.9 74.1h.9v.9h-.9zM197.5 70.0h.9v.9h-.9zM189.0 79.0h.9v.9h-.9zM186.7 82.1h.9v.9h-.9zM194.6 73.4h.9v.9h-.9zM192.5 76.9h.9v.9h-.9zM188.6 81.0h.9v.9h-.9zM191.6 82.7h.9v.9h-.9zM194.2 82.3h.9v.9h-.9zM197.1 72.0h.9v.9h-.9zM194.7 81.0h.9v.9h-.9zM189.8 82.5h.9v.9h-.9zM186.0 77.3h.9v.9h-.9zM190.8 80.7h.9v.9h-.9zM198.7 66.5h.9v.9h-.9zM191.3 83.0h.9v.9h-.9zM191.1 77.7h.9v.9h-.9zM193.9 81.9h.9v.9h-.9zM189.1 86.6h.9v.9h-.9zM194.7 74.0h.9v.9h-.9zM189.2 78.2h.9v.9h-.9zM200.4 73.2h.9v.9h-.9zM189.9 77.8h.9v.9h-.9zM192.5 77.7h.9v.9h-.9zM192.5 81.4h.9v.9h-.9zM192.0 78.1h.9v.9h-.9zM201.4 71.0h.9v.9h-.9zM207.1 69.0h.9v.9h-.9zM193.3 78.4h.9v.9h-.9zM200.9 71.4h.9v.9h-.9zM192.5 76.0h.9v.9h-.9zM193.9 67.4h.9v.9h-.9zM196.1 74.7h.9v.9h-.9zM188.3 82.7h.9v.9h-.9zM199.5 72.4h.9v.9h-.9zM195.3 75.2h.9v.9h-.9zM192.8 75.7h.9v.9h-.9zM193.6 74.8h.9v.9h-.9zM201.8 68.3h.9v.9h-.9zM191.1 76.5h.9v.9h-.9zM188.6 77.5h.9v.9h-.9zM195.3 75.9h.9v.9h-.9zM195.0 75.3h.9v.9h-.9zM190.9 81.7h.9v.9h-.9zM190.3 78.6h.9v.9h-.9zM190.9 79.3h.9v.9h-.9zM187.4 80.4h.9v.9h-.9zM186.0 83.7h.9v.9h-.9zM187.4 86.4h.9v.9h-.9zM193.3 83.1h.9v.9h-.9zM197.1 72.1h.9v.9h-.9zM193.4 78.6h.9v.9h-.9zM197.4 70.3h.9v.9h-.9zM190.9 74.8h.9v.9h-.9zM196.7 71.6h.9v.9h-.9zM191.8 78.0h.9v.9h-.9zM197.7 71.4h.9v.9h-.9zM194.9 72.7h.9v.9h-.9zM188.4 83.0h.9v.9h-.9zM193.2 81.2h.9v.9h-.9zM194.0 74.6h.9v.9h-.9zM195.0 76.7h.9v.9h-.9zM186.5 86.5h.9v.9h-.9zM193.6 80.2h.9v.9h-.9zM197.4 75.1h.9v.9h-.9zM192.1 81.9h.9v.9h-.9zM196.7 73.9h.9v.9h-.9zM189.2 77.3h.9v.9h-.9zM195.6 71.1h.9v.9h-.9zM186.5 83.0h.9v.9h-.9zM197.3 69.6h.9v.9h-.9zM194.2 73.7h.9v.9h-.9zM197.8 71.8h.9v.9h-.9zM193.2 77.3h.9v.9h-.9zM194.1 75.0h.9v.9h-.9zM188.2 83.8h.9v.9h-.9zM201.4 75.1h.9v.9h-.9zM187.9 79.7h.9v.9h-.9zM191.1 77.7h.9v.9h-.9zM196.9 69.5h.9v.9h-.9zM188.3 86.5h.9v.9h-.9zM202.7 70.1h.9v.9h-.9zM192.0 74.1h.9v.9h-.9zM188.8 83.7h.9v.9h-.9zM195.1 70.6h.9v.9h-.9zM195.6 76.1h.9v.9h-.9zM198.5 71.7h.9v.9h-.9zM197.8 72.6h.9v.9h-.9zM187.3 77.6h.9v.9h-.9zM201.7 68.9h.9v.9h-.9zM186.4 85.3h.9v.9h-.9zM198.1 76.6h.9v.9h-.9zM193.7 77.3h.9v.9h-.9zM201.1 68.7h.9v.9h-.9zM191.0 77.3h.9v.9h-.9zM189.7 83.0h.9v.9h-.9zM198.4 74.6h.9v.9h-.9zM190.3 83.1h.9v.9h-.9zM196.3 77.2h.9v.9h-.9zM199.3 70.3h.9v.9h-.9zM189.5 76.6h.9v.9h-.9zM197.5 73.1h.9v.9h-.9zM191.6 84.1h.9v.9h-.9zM202.6 71.5h.9v.9h-.9zM198.6 69.4h.9v.9h-.9zM197.0 80.4h.9v.9h-.9zM200.7 74.1h.9v.9h-.9zM198.7 74.4h.9v.9h-.9zM190.3 77.2h.9v.9h-.9zM188.4 84.9h.9v.9h-.9zM198.6 74.9h.9v.9h-.9zM200.4 77.2h.9v.9h-.9zM191.9 77.4h.9v.9h-.9zM185.3 85.0h.9v.9h-.9zM195.9 78.7h.9v.9h-.9zM191.4 83.4h.9v.9h-.9zM193.6 80.0h.9v.9h-.9zM194.8 74.0h.9v.9h-.9zM188.3 80.5h.9v.9h-.9zM196.0 75.4h.9v.9h-.9zM190.0 82.6h.9v.9h-.9zM196.6 77.0h.9v.9h-.9zM190.9 77.5h.9v.9h-.9zM193.7 71.6h.9v.9h-.9zM192.1 82.4h.9v.9h-.9zM196.4 73.8h.9v.9h-.9zM189.8 80.7h.9v.9h-.9zM196.2 77.6h.9v.9h-.9zM184.5 81.9h.9v.9h-.9zM195.8 74.7h.9v.9h-.9zM199.9 69.1h.9v.9h-.9zM195.5 76.6h.9v.9h-.9zM193.4 77.2h.9v.9h-.9zM200.2 72.3h.9v.9h-.9zM196.1 70.0h.9v.9h-.9zM199.0 69.8h.9v.9h-.9zM192.5 75.2h.9v.9h-.9zM202.0 71.7h.9v.9h-.9zM202.8 71.5h.9v.9h-.9zM193.7 77.3h.9v.9h-.9zM201.7 70.7h.9v.9h-.9zM198.6 71.0h.9v.9h-.9zM188.1 80.8h.9v.9h-.9zM193.1 82.3h.9v.9h-.9zM195.2 75.0h.9v.9h-.9zM199.6 75.3h.9v.9h-.9zM191.7 87.3h.9v.9h-.9zM195.2 71.4h.9v.9h-.9zM193.7 79.0h.9v.9h-.9zM198.1 71.2h.9v.9h-.9zM187.4 85.1h.9v.9h-.9zM191.0 72.0h.9v.9h-.9zM193.6 79.2h.9v.9h-.9zM192.0 75.9h.9v.9h-.9zM189.3 82.8h.9v.9h-.9zM200.0 71.8h.9v.9h-.9zM201.0 72.0h.9v.9h-.9zM191.1 79.8h.9v.9h-.9zM193.8 78.0h.9v.9h-.9zM198.2 71.2h.9v.9h-.9zM194.8 70.7h.9v.9h-.9zM190.6 78.3h.9v.9h-.9zM186.1 83.5h.9v.9h-.9zM189.8 80.0h.9v.9h-.9zM196.7 74.4h.9v.9h-.9zM198.0 73.2h.9v.9h-.9zM193.9 80.5h.9v.9h-.9zM198.6 78.5h.9v.9h-.9zM191.6 75.8h.9v.9h-.9zM196.2 74.8h.9v.9h-.9zM187.5 85.2h.9v.9h-.9zM185.5 85.0h.9v.9h-.9zM196.4 76.4h.9v.9h-.9zM182.3 81.6h.9v.9h-.9zM198.8 73.8h.9v.9h-.9zM198.0 71.7h.9v.9h-.9zM195.3 68.9h.9v.9h-.9zM198.9 70.5h.9v.9h-.9zM199.5 77.4h.9v.9h-.9zM196.5 73.7h.9v.9h-.9zM205.2 71.7h.9v.9h-.9zM193.6 84.7h.9v.9h-.9zM186.9 85.3h.9v.9h-.9zM185.4 85.0h.9v.9h-.9zM196.6 76.4h.9v.9h-.9zM204.8 70.2h.9v.9h-.9zM199.8 76.6h.9v.9h-.9zM188.2 84.2h.9v.9h-.9zM196.6 71.0h.9v.9h-.9zM201.8 73.7h.9v.9h-.9zM186.6 78.4h.9v.9h-.9zM188.4 82.0h.9v.9h-.9zM190.0 81.3h.9v.9h-.9zM198.4 73.8h.9v.9h-.9zM196.7 71.8h.9v.9h-.9zM190.9 80.7h.9v.9h-.9zM202.9 70.4h.9v.9h-.9zM194.2 76.7h.9v.9h-.9zM196.3 71.4h.9v.9h-.9zM199.3 73.8h.9v.9h-.9zM191.4 80.2h.9v.9h-.9zM197.9 69.3h.9v.9h-.9zM192.2 76.3h.9v.9h-.9zM201.8 74.9h.9v.9h-.9zM190.0 80.5h.9v.9h-.9zM190.3 82.6h.9v.9h-.9zM187.2 82.4h.9v.9h-.9zM189.9 80.6h.9v.9h-.9zM193.2 77.6h.9v.9h-.9zM190.0 79.4h.9v.9h-.9zM199.3 73.8h.9v.9h-.9zM200.0 74.0h.9v.9h-.9zM190.4 83.5h.9v.9h-.9zM194.9 74.5h.9v.9h-.9zM187.9 81.2h.9v.9h-.9zM196.9 66.8h.9v.9h-.9zM193.8 80.8h.9v.9h-.9zM191.7 78.2h.9v.9h-.9zM186.4 80.8h.9v.9h-.9zM190.1 77.0h.9v.9h-.9zM200.5 72.5h.9v.9h-.9zM190.0 80.2h.9v.9h-.9zM192.7 80.8h.9v.9h-.9zM201.4 69.5h.9v.9h-.9zM195.8 78.1h.9v.9h-.9zM196.8 74.7h.9v.9h-.9zM191.7 69.5h.9v.9h-.9zM189.1 86.8h.9v.9h-.9zM197.3 68.8h.9v.9h-.9zM188.3 88.1h.9v.9h-.9zM194.8 76.5h.9v.9h-.9zM197.0 70.9h.9v.9h-.9zM194.3 74.6h.9v.9h-.9zM191.6 76.6h.9v.9h-.9zM199.3 72.3h.9v.9h-.9zM201.5 70.5h.9v.9h-.9zM186.9 79.8h.9v.9h-.9zM194.7 69.7h.9v.9h-.9zM200.3 74.5h.9v.9h-.9zM196.4 75.6h.9v.9h-.9zM197.3 68.7h.9v.9h-.9zM203.2 70.4h.9v.9h-.9zM195.3 79.5h.9v.9h-.9zM201.7 70.2h.9v.9h-.9zM195.8 76.6h.9v.9h-.9zM197.1 71.6h.9v.9h-.9zM181.7 79.9h.9v.9h-.9zM199.1 73.8h.9v.9h-.9zM190.8 77.4h.9v.9h-.9zM200.7 76.5h.9v.9h-.9zM186.2 83.7h.9v.9h-.9zM195.2 77.4h.9v.9h-.9zM187.5 81.1h.9v.9h-.9zM190.0 76.0h.9v.9h-.9zM191.5 77.6h.9v.9h-.9zM203.6 73.8h.9v.9h-.9zM200.3 70.1h.9v.9h-.9zM193.2 70.8h.9v.9h-.9zM195.1 79.2h.9v.9h-.9zM199.5 75.0h.9v.9h-.9zM191.0 77.2h.9v.9h-.9zM194.9 76.2h.9v.9h-.9zM187.4 83.8h.9v.9h-.9zM197.5 70.3h.9v.9h-.9zM193.5 77.7h.9v.9h-.9zM185.3 80.6h.9v.9h-.9zM187.3 85.2h.9v.9h-.9zM192.1 82.3h.9v.9h-.9zM196.0 71.6h.9v.9h-.9zM198.6 74.1h.9v.9h-.9zM194.7 78.7h.9v.9h-.9zM199.4 73.0h.9v.9h-.9zM193.1 82.8h.9v.9h-.9zM192.9 78.0h.9v.9h-.9zM185.2 83.6h.9v.9h-.9zM191.1 82.6h.9v.9h-.9zM189.5 83.4h.9v.9h-.9zM196.8 66.2h.9v.9h-.9zM190.2 81.1h.9v.9h-.9zM193.5 74.6h.9v.9h-.9zM189.3 80.5h.9v.9h-.9zM191.4 79.8h.9v.9h-.9zM201.0 74.6h.9v.9h-.9zM192.3 79.9h.9v.9h-.9zM190.1 78.5h.9v.9h-.9zM188.8 80.3h.9v.9h-.9zM199.5 71.6h.9v.9h-.9zM199.8 71.9h.9v.9h-.9zM202.8 76.8h.9v.9h-.9zM188.5 79.2h.9v.9h-.9zM189.4 79.7h.9v.9h-.9zM192.9 81.3h.9v.9h-.9zM194.6 74.9h.9v.9h-.9zM189.1 82.6h.9v.9h-.9zM191.7 73.5h.9v.9h-.9zM183.8 81.9h.9v.9h-.9zM190.6 82.7h.9v.9h-.9zM190.3 77.1h.9v.9h-.9zM197.1 76.1h.9v.9h-.9zM194.4 74.5h.9v.9h-.9zM197.4 74.2h.9v.9h-.9zM195.2 79.6h.9v.9h-.9zM194.4 73.5h.9v.9h-.9zM191.7 76.4h.9v.9h-.9zM198.3 76.0h.9v.9h-.9zM194.9 75.8h.9v.9h-.9zM193.5 76.7h.9v.9h-.9zM190.0 84.1h.9v.9h-.9zM191.4 76.0h.9v.9h-.9zM193.6 77.0h.9v.9h-.9zM191.0 75.5h.9v.9h-.9zM183.4 83.4h.9v.9h-.9zM198.9 73.7h.9v.9h-.9zM197.9 76.7h.9v.9h-.9zM201.2 69.6h.9v.9h-.9zM186.5 79.6h.9v.9h-.9zM197.9 72.0h.9v.9h-.9zM191.3 80.7h.9v.9h-.9zM195.4 75.1h.9v.9h-.9zM192.0 82.9h.9v.9h-.9zM191.5 76.5h.9v.9h-.9zM190.7 81.3h.9v.9h-.9zM195.2 74.2h.9v.9h-.9zM193.5 76.9h.9v.9h-.9zM193.8 75.7h.9v.9h-.9zM189.3 83.4h.9v.9h-.9zM196.4 69.9h.9v.9h-.9zM188.3 81.8h.9v.9h-.9zM194.9 76.9h.9v.9h-.9zM192.8 81.0h.9v.9h-.9zM191.5 83.1h.9v.9h-.9zM196.2 74.9h.9v.9h-.9zM191.9 82.9h.9v.9h-.9zM195.2 79.8h.9v.9h-.9zM195.7 74.4h.9v.9h-.9zM193.2 84.4h.9v.9h-.9zM194.4 81.5h.9v.9h-.9zM197.6 71.8h.9v.9h-.9zM190.7 79.8h.9v.9h-.9zM191.2 78.0h.9v.9h-.9zM196.2 73.9h.9v.9h-.9zM198.7 72.8h.9v.9h-.9zM191.8 80.0h.9v.9h-.9zM195.8 73.4h.9v.9h-.9zM197.8 74.3h.9v.9h-.9zM197.9 76.7h.9v.9h-.9zM200.0 73.4h.9v.9h-.9zM189.4 83.9h.9v.9h-.9zM188.7 81.2h.9v.9h-.9zM202.0 67.0h.9v.9h-.9zM195.9 80.4h.9v.9h-.9zM188.8 82.4h.9v.9h-.9zM196.1 71.8h.9v.9h-.9zM187.7 86.6h.9v.9h-.9zM190.8 85.9h.9v.9h-.9zM191.3 74.3h.9v.9h-.9zM196.3 79.9h.9v.9h-.9zM184.6 83.4h.9v.9h-.9zM202.9 70.1h.9v.9h-.9zM189.7 81.5h.9v.9h-.9zM192.6 76.0h.9v.9h-.9zM186.2 81.7h.9v.9h-.9zM189.8 77.6h.9v.9h-.9zM195.6 70.6h.9v.9h-.9zM190.8 78.8h.9v.9h-.9zM189.4 85.1h.9v.9h-.9zM189.4 80.6h.9v.9h-.9zM199.9 77.0h.9v.9h-.9zM191.0 79.1h.9v.9h-.9zM186.6 82.2h.9v.9h-.9zM193.4 77.2h.9v.9h-.9zM197.6 78.5h.9v.9h-.9zM190.1 78.2h.9v.9h-.9zM188.9 82.1h.9v.9h-.9zM191.0 83.4h.9v.9h-.9zM191.8 77.2h.9v.9h-.9zM192.5 80.0h.9v.9h-.9zM191.8 78.4h.9v.9h-.9zM188.7 81.6h.9v.9h-.9zM188.5 82.0h.9v.9h-.9zM189.1 81.0h.9v.9h-.9zM194.0 79.3h.9v.9h-.9zM197.6 67.3h.9v.9h-.9zM194.1 72.1h.9v.9h-.9zM189.3 80.0h.9v.9h-.9zM194.0 71.3h.9v.9h-.9zM192.0 75.5h.9v.9h-.9zM186.2 80.7h.9v.9h-.9zM188.5 82.1h.9v.9h-.9zM183.5 82.0h.9v.9h-.9zM200.7 68.3h.9v.9h-.9zM199.7 68.2h.9v.9h-.9zM195.1 78.9h.9v.9h-.9zM184.2 81.4h.9v.9h-.9zM198.0 66.5h.9v.9h-.9zM190.2 75.1h.9v.9h-.9zM193.3 73.4h.9v.9h-.9zM192.6 74.8h.9v.9h-.9zM198.4 73.7h.9v.9h-.9zM186.9 81.2h.9v.9h-.9zM195.5 74.0h.9v.9h-.9zM196.7 73.0h.9v.9h-.9zM197.4 74.6h.9v.9h-.9zM191.8 73.8h.9v.9h-.9zM190.9 76.8h.9v.9h-.9zM191.0 79.5h.9v.9h-.9zM199.8 74.8h.9v.9h-.9zM192.9 75.2h.9v.9h-.9zM192.5 75.4h.9v.9h-.9zM188.7 84.6h.9v.9h-.9zM201.2 68.9h.9v.9h-.9zM189.1 81.6h.9v.9h-.9zM204.4 71.5h.9v.9h-.9zM194.3 73.5h.9v.9h-.9zM187.6 85.8h.9v.9h-.9zM199.7 76.8h.9v.9h-.9zM185.6 83.9h.9v.9h-.9zM195.2 82.9h.9v.9h-.9zM191.1 82.0h.9v.9h-.9zM192.6 79.1h.9v.9h-.9zM191.1 84.6h.9v.9h-.9zM201.8 68.8h.9v.9h-.9zM192.3 69.6h.9v.9h-.9zM201.7 69.2h.9v.9h-.9zM199.3 70.2h.9v.9h-.9zM193.6 71.9h.9v.9h-.9zM197.0 75.8h.9v.9h-.9zM196.6 71.8h.9v.9h-.9zM194.5 72.9h.9v.9h-.9zM189.5 88.9h.9v.9h-.9zM199.5 74.5h.9v.9h-.9zM193.8 82.0h.9v.9h-.9zM196.4 80.1h.9v.9h-.9zM187.3 79.2h.9v.9h-.9zM195.8 81.1h.9v.9h-.9zM198.2 68.5h.9v.9h-.9zM198.4 68.2h.9v.9h-.9zM187.7 84.5h.9v.9h-.9zM191.1 78.5h.9v.9h-.9zM202.0 73.9h.9v.9h-.9zM185.7 84.3h.9v.9h-.9zM191.2 81.8h.9v.9h-.9zM193.0 77.6h.9v.9h-.9zM192.8 75.2h.9v.9h-.9zM190.4 79.5h.9v.9h-.9zM190.8 78.6h.9v.9h-.9zM189.8 81.7h.9v.9h-.9zM187.2 83.3h.9v.9h-.9zM191.0 82.7h.9v.9h-.9zM195.9 73.6h.9v.9h-.9zM192.1 79.5h.9v.9h-.9zM204.3 71.2h.9v.9h-.9zM196.3 75.8h.9v.9h-.9zM192.4 88.0h.9v.9h-.9zM187.7 83.8h.9v.9h-.9zM195.8 75.8h.9v.9h-.9zM202.3 69.8h.9v.9h-.9zM191.9 82.9h.9v.9h-.9zM191.4 82.1h.9v.9h-.9zM190.3 80.5h.9v.9h-.9zM194.7 75.2h.9v.9h-.9zM196.5 72.6h.9v.9h-.9zM196.3 74.1h.9v.9h-.9zM193.7 71.7h.9v.9h-.9zM185.9 81.1h.9v.9h-.9zM189.3 77.7h.9v.9h-.9zM190.9 84.8h.9v.9h-.9zM192.4 79.3h.9v.9h-.9zM192.9 81.3h.9v.9h-.9zM192.9 77.0h.9v.9h-.9zM190.3 81.7h.9v.9h-.9zM186.2 82.1h.9v.9h-.9zM184.8 79.8h.9v.9h-.9zM197.0 72.5h.9v.9h-.9zM199.3 69.2h.9v.9h-.9zM194.0 74.4h.9v.9h-.9zM196.4 69.2h.9v.9h-.9zM201.2 70.9h.9v.9h-.9zM196.4 76.7h.9v.9h-.9zM197.5 74.7h.9v.9h-.9zM194.0 80.3h.9v.9h-.9zM185.3 83.0h.9v.9h-.9zM198.2 74.1h.9v.9h-.9zM199.7 70.2h.9v.9h-.9zM193.1 75.9h.9v.9h-.9zM188.0 83.0h.9v.9h-.9zM195.5 71.7h.9v.9h-.9zM193.8 75.7h.9v.9h-.9zM189.3 81.6h.9v.9h-.9zM192.8 71.7h.9v.9h-.9zM195.0 80.6h.9v.9h-.9zM196.2 77.5h.9v.9h-.9zM198.5 74.5h.9v.9h-.9zM195.6 80.7h.9v.9h-.9zM199.1 73.4h.9v.9h-.9zM190.4 82.5h.9v.9h-.9zM201.7 74.0h.9v.9h-.9zM187.5 81.9h.9v.9h-.9zM186.4 80.2h.9v.9h-.9zM198.8 74.7h.9v.9h-.9zM200.5 68.8h.9v.9h-.9zM190.6 83.8h.9v.9h-.9zM198.6 74.0h.9v.9h-.9zM186.2 82.6h.9v.9h-.9zM199.6 70.4h.9v.9h-.9zM193.1 73.8h.9v.9h-.9zM192.7 78.1h.9v.9h-.9zM191.6 78.6h.9v.9h-.9zM197.9 75.2h.9v.9h-.9zM190.9 86.4h.9v.9h-.9zM199.9 71.2h.9v.9h-.9zM193.4 76.3h.9v.9h-.9zM191.7 79.5h.9v.9h-.9zM193.7 76.6h.9v.9h-.9zM195.6 73.3h.9v.9h-.9zM189.0 82.8h.9v.9h-.9zM187.0 80.3h.9v.9h-.9zM193.6 74.2h.9v.9h-.9zM188.2 83.6h.9v.9h-.9zM202.5 70.8h.9v.9h-.9zM198.3 73.8h.9v.9h-.9zM187.8 82.3h.9v.9h-.9zM191.8 82.8h.9v.9h-.9zM192.8 79.0h.9v.9h-.9zM195.8 80.6h.9v.9h-.9zM195.8 76.5h.9v.9h-.9zM194.9 75.7h.9v.9h-.9zM189.8 76.9h.9v.9h-.9zM197.6 77.2h.9v.9h-.9zM196.5 77.3h.9v.9h-.9zM191.9 83.6h.9v.9h-.9zM195.6 73.1h.9v.9h-.9zM192.3 74.7h.9v.9h-.9zM201.4 73.4h.9v.9h-.9zM195.8 74.6h.9v.9h-.9zM193.6 68.6h.9v.9h-.9zM196.7 75.9h.9v.9h-.9zM187.3 79.5h.9v.9h-.9zM193.0 82.5h.9v.9h-.9zM188.7 86.0h.9v.9h-.9zM192.0 71.9h.9v.9h-.9zM195.7 75.9h.9v.9h-.9zM190.0 80.9h.9v.9h-.9zM196.7 75.8h.9v.9h-.9zM198.1 68.0h.9v.9h-.9zM194.7 70.9h.9v.9h-.9zM198.0 75.4h.9v.9h-.9zM185.0 79.5h.9v.9h-.9zM193.8 76.5h.9v.9h-.9zM194.5 77.5h.9v.9h-.9zM194.0 79.2h.9v.9h-.9zM201.1 70.2h.9v.9h-.9zM197.8 80.4h.9v.9h-.9zM193.2 81.6h.9v.9h-.9zM199.1 70.6h.9v.9h-.9zM196.8 73.1h.9v.9h-.9zM189.3 79.1h.9v.9h-.9zM191.8 79.7h.9v.9h-.9zM191.7 86.4h.9v.9h-.9zM196.5 76.4h.9v.9h-.9zM189.8 80.8h.9v.9h-.9zM184.3 82.9h.9v.9h-.9zM195.2 66.7h.9v.9h-.9zM198.6 71.4h.9v.9h-.9zM190.4 77.8h.9v.9h-.9zM187.1 85.3h.9v.9h-.9zM193.4 73.4h.9v.9h-.9zM201.0 71.7h.9v.9h-.9zM200.8 68.5h.9v.9h-.9zM195.2 73.2h.9v.9h-.9zM195.0 76.5h.9v.9h-.9zM196.8 71.9h.9v.9h-.9zM199.5 70.6h.9v.9h-.9zM187.9 80.6h.9v.9h-.9zM198.5 73.4h.9v.9h-.9zM196.8 67.8h.9v.9h-.9zM197.6 72.3h.9v.9h-.9zM201.8 70.1h.9v.9h-.9zM196.4 77.1h.9v.9h-.9zM199.3 72.8h.9v.9h-.9zM194.8 80.2h.9v.9h-.9zM197.2 74.0h.9v.9h-.9zM191.9 87.7h.9v.9h-.9zM194.6 74.2h.9v.9h-.9zM194.5 69.0h.9v.9h-.9zM196.4 66.4h.9v.9h-.9zM196.6 67.2h.9v.9h-.9zM189.7 81.1h.9v.9h-.9zM192.8 71.9h.9v.9h-.9zM188.0 77.9h.9v.9h-.9zM195.6 77.2h.9v.9h-.9zM191.6 72.9h.9v.9h-.9zM191.3 79.6h.9v.9h-.9zM196.2 77.2h.9v.9h-.9zM202.1 72.0h.9v.9h-.9zM194.1 77.3h.9v.9h-.9zM186.1 80.1h.9v.9h-.9zM196.1 70.9h.9v.9h-.9zM192.4 83.2h.9v.9h-.9zM200.6 74.9h.9v.9h-.9zM193.0 76.1h.9v.9h-.9zM187.6 86.4h.9v.9h-.9zM189.9 83.5h.9v.9h-.9zM198.7 70.3h.9v.9h-.9zM193.5 80.7h.9v.9h-.9zM198.6 68.5h.9v.9h-.9zM197.3 75.0h.9v.9h-.9zM188.4 84.6h.9v.9h-.9zM187.0 83.5h.9v.9h-.9zM196.9 71.5h.9v.9h-.9zM199.0 76.5h.9v.9h-.9zM189.3 78.8h.9v.9h-.9zM190.6 77.1h.9v.9h-.9zM186.4 79.8h.9v.9h-.9zM192.1 77.8h.9v.9h-.9zM187.2 83.2h.9v.9h-.9zM190.5 77.4h.9v.9h-.9zM188.9 85.9h.9v.9h-.9zM188.9 82.4h.9v.9h-.9zM192.1 80.7h.9v.9h-.9zM192.7 73.1h.9v.9h-.9zM190.5 79.2h.9v.9h-.9zM189.7 86.6h.9v.9h-.9zM190.3 84.2h.9v.9h-.9zM194.7 77.4h.9v.9h-.9zM190.8 84.1h.9v.9h-.9zM201.4 71.2h.9v.9h-.9zM189.8 82.2h.9v.9h-.9zM193.7 78.3h.9v.9h-.9zM190.0 82.7h.9v.9h-.9zM193.4 76.0h.9v.9h-.9zM199.5 76.9h.9v.9h-.9zM198.4 80.4h.9v.9h-.9zM191.9 79.5h.9v.9h-.9zM192.4 78.4h.9v.9h-.9zM201.0 77.5h.9v.9h-.9zM197.3 74.7h.9v.9h-.9zM190.5 82.6h.9v.9h-.9zM191.2 81.5h.9v.9h-.9zM192.2 79.0h.9v.9h-.9zM194.6 74.9h.9v.9h-.9zM195.7 77.8h.9v.9h-.9zM195.3 70.3h.9v.9h-.9zM195.3 79.1h.9v.9h-.9zM194.7 81.4h.9v.9h-.9zM190.7 79.5h.9v.9h-.9zM189.5 80.4h.9v.9h-.9zM198.7 78.6h.9v.9h-.9zM189.9 80.6h.9v.9h-.9zM185.7 83.8h.9v.9h-.9zM196.7 77.2h.9v.9h-.9zM187.9 79.6h.9v.9h-.9zM184.1 80.2h.9v.9h-.9zM200.2 70.2h.9v.9h-.9zM198.1 70.6h.9v.9h-.9zM201.5 66.1h.9v.9h-.9zM196.4 71.7h.9v.9h-.9zM188.1 81.0h.9v.9h-.9zM196.8 72.7h.9v.9h-.9zM196.3 66.4h.9v.9h-.9zM193.9 79.7h.9v.9h-.9zM194.5 75.1h.9v.9h-.9zM191.3 78.5h.9v.9h-.9zM193.4 76.4h.9v.9h-.9zM196.8 76.7h.9v.9h-.9zM189.1 83.2h.9v.9h-.9zM189.9 89.0h.9v.9h-.9zM190.3 73.2h.9v.9h-.9zM197.3 76.2h.9v.9h-.9zM196.4 77.6h.9v.9h-.9zM185.3 75.9h.9v.9h-.9zM197.0 75.5h.9v.9h-.9zM194.3 76.1h.9v.9h-.9zM189.9 80.7h.9v.9h-.9zM192.9 78.0h.9v.9h-.9zM194.8 77.3h.9v.9h-.9zM194.7 74.7h.9v.9h-.9zM188.6 80.0h.9v.9h-.9zM201.2 72.5h.9v.9h-.9zM197.7 72.7h.9v.9h-.9zM198.8 74.6h.9v.9h-.9zM194.0 86.1h.9v.9h-.9zM188.3 78.1h.9v.9h-.9zM187.3 80.8h.9v.9h-.9zM192.8 75.6h.9v.9h-.9zM190.0 80.6h.9v.9h-.9zM194.4 82.1h.9v.9h-.9zM195.7 76.4h.9v.9h-.9zM195.4 79.1h.9v.9h-.9zM205.0 71.6h.9v.9h-.9zM188.4 75.7h.9v.9h-.9zM192.4 77.2h.9v.9h-.9zM192.9 75.4h.9v.9h-.9zM194.3 77.9h.9v.9h-.9zM194.3 72.7h.9v.9h-.9zM192.0 84.6h.9v.9h-.9zM186.0 83.5h.9v.9h-.9zM197.1 70.6h.9v.9h-.9zM191.6 75.6h.9v.9h-.9zM184.5 82.3h.9v.9h-.9zM188.1 82.9h.9v.9h-.9zM191.3 77.5h.9v.9h-.9zM201.4 69.9h.9v.9h-.9zM188.7 80.7h.9v.9h-.9zM199.9 72.0h.9v.9h-.9zM200.5 70.5h.9v.9h-.9zM197.7 76.6h.9v.9h-.9zM190.4 83.1h.9v.9h-.9zM187.0 82.3h.9v.9h-.9zM197.9 76.9h.9v.9h-.9zM198.3 70.1h.9v.9h-.9zM185.6 82.5h.9v.9h-.9zM195.6 78.1h.9v.9h-.9zM196.2 69.8h.9v.9h-.9zM191.2 77.3h.9v.9h-.9zM191.0 74.5h.9v.9h-.9zM185.8 80.1h.9v.9h-.9zM191.5 80.3h.9v.9h-.9zM185.8 82.2h.9v.9h-.9zM200.6 75.4h.9v.9h-.9zM196.8 78.7h.9v.9h-.9zM187.5 84.9h.9v.9h-.9zM189.4 79.2h.9v.9h-.9zM198.2 72.0h.9v.9h-.9zM198.6 70.8h.9v.9h-.9zM200.3 73.8h.9v.9h-.9zM193.4 70.6h.9v.9h-.9zM186.9 83.6h.9v.9h-.9zM197.2 73.4h.9v.9h-.9zM192.6 79.5h.9v.9h-.9zM193.9 79.1h.9v.9h-.9zM190.3 79.2h.9v.9h-.9zM188.2 84.9h.9v.9h-.9zM196.2 70.0h.9v.9h-.9zM197.0 77.3h.9v.9h-.9zM193.4 78.5h.9v.9h-.9zM196.5 73.5h.9v.9h-.9zM191.5 83.1h.9v.9h-.9zM193.5 74.6h.9v.9h-.9zM197.8 66.6h.9v.9h-.9zM196.0 76.2h.9v.9h-.9zM194.1 76.8h.9v.9h-.9zM190.3 79.4h.9v.9h-.9zM194.2 73.9h.9v.9h-.9zM200.5 71.2h.9v.9h-.9zM192.5 81.3h.9v.9h-.9zM192.3 75.1h.9v.9h-.9zM191.3 74.6h.9v.9h-.9zM198.9 73.7h.9v.9h-.9zM188.4 78.8h.9v.9h-.9zM191.6 83.5h.9v.9h-.9zM198.2 77.1h.9v.9h-.9zM188.8 80.2h.9v.9h-.9zM191.6 87.3h.9v.9h-.9zM189.1 80.9h.9v.9h-.9zM190.1 80.5h.9v.9h-.9zM195.4 74.7h.9v.9h-.9zM199.8 71.9h.9v.9h-.9zM190.3 83.5h.9v.9h-.9zM187.3 85.0h.9v.9h-.9zM192.7 75.5h.9v.9h-.9zM186.7 83.3h.9v.9h-.9zM190.9 74.5h.9v.9h-.9zM187.3 80.2h.9v.9h-.9zM191.4 79.9h.9v.9h-.9zM194.9 75.6h.9v.9h-.9zM192.2 76.5h.9v.9h-.9zM200.8 70.1h.9v.9h-.9zM194.5 73.4h.9v.9h-.9zM194.0 76.4h.9v.9h-.9zM189.1 82.0h.9v.9h-.9zM193.6 80.5h.9v.9h-.9zM196.6 77.4h.9v.9h-.9zM184.6 83.1h.9v.9h-.9zM200.8 67.9h.9v.9h-.9zM195.3 69.0h.9v.9h-.9zM196.6 80.7h.9v.9h-.9zM189.4 74.0h.9v.9h-.9zM186.8 84.0h.9v.9h-.9zM182.4 83.5h.9v.9h-.9zM191.4 79.5h.9v.9h-.9zM196.1 75.0h.9v.9h-.9zM188.8 84.3h.9v.9h-.9zM199.9 68.1h.9v.9h-.9zM198.4 74.3h.9v.9h-.9zM193.3 74.9h.9v.9h-.9zM188.9 78.7h.9v.9h-.9zM200.8 66.5h.9v.9h-.9zM187.9 80.3h.9v.9h-.9zM198.6 77.5h.9v.9h-.9zM202.6 70.4h.9v.9h-.9zM191.0 81.9h.9v.9h-.9zM188.5 75.3h.9v.9h-.9zM201.3 68.4h.9v.9h-.9zM196.2 76.4h.9v.9h-.9zM189.5 75.1h.9v.9h-.9zM188.1 86.3h.9v.9h-.9zM187.7 79.5h.9v.9h-.9zM191.1 79.6h.9v.9h-.9zM195.4 75.9h.9v.9h-.9zM197.4 72.5h.9v.9h-.9zM188.6 82.2h.9v.9h-.9zM190.5 81.9h.9v.9h-.9zM204.5 69.3h.9v.9h-.9zM190.3 85.9h.9v.9h-.9zM202.5 72.2h.9v.9h-.9zM192.7 78.4h.9v.9h-.9zM189.8 74.0h.9v.9h-.9zM188.2 78.8h.9v.9h-.9zM192.8 76.2h.9v.9h-.9zM193.1 79.8h.9v.9h-.9zM191.6 83.3h.9v.9h-.9zM193.0 76.3h.9v.9h-.9zM190.6 77.8h.9v.9h-.9zM187.7 83.7h.9v.9h-.9zM193.6 77.7h.9v.9h-.9zM195.9 76.9h.9v.9h-.9zM187.5 86.2h.9v.9h-.9zM186.2 84.2h.9v.9h-.9zM195.1 66.7h.9v.9h-.9zM188.6 80.8h.9v.9h-.9zM185.4 75.3h.9v.9h-.9zM194.6 75.4h.9v.9h-.9zM197.5 82.2h.9v.9h-.9zM199.7 74.8h.9v.9h-.9zM195.9 75.8h.9v.9h-.9zM195.5 82.7h.9v.9h-.9zM187.9 79.4h.9v.9h-.9zM192.2 79.9h.9v.9h-.9zM187.7 85.2h.9v.9h-.9zM200.7 67.0h.9v.9h-.9zM198.3 69.9h.9v.9h-.9zM197.4 75.3h.9v.9h-.9zM184.7 87.4h.9v.9h-.9zM199.7 68.4h.9v.9h-.9zM188.9 81.6h.9v.9h-.9zM190.6 82.5h.9v.9h-.9zM199.8 69.6h.9v.9h-.9zM190.0 78.2h.9v.9h-.9zM196.4 75.4h.9v.9h-.9zM189.9 80.6h.9v.9h-.9zM187.8 83.7h.9v.9h-.9zM195.4 71.0h.9v.9h-.9zM198.7 71.4h.9v.9h-.9zM193.6 75.7h.9v.9h-.9zM193.9 71.6h.9v.9h-.9zM188.8 87.5h.9v.9h-.9zM186.7 84.9h.9v.9h-.9zM198.0 73.2h.9v.9h-.9zM192.0 81.8h.9v.9h-.9zM203.3 71.5h.9v.9h-.9zM199.6 74.2h.9v.9h-.9zM198.4 69.5h.9v.9h-.9zM198.5 72.6h.9v.9h-.9zM196.9 71.4h.9v.9h-.9zM190.9 79.1h.9v.9h-.9zM186.3 86.3h.9v.9h-.9zM198.4 76.0h.9v.9h-.9zM184.6 82.9h.9v.9h-.9zM202.5 70.2h.9v.9h-.9zM193.0 79.0h.9v.9h-.9zM188.0 79.4h.9v.9h-.9zM194.0 86.8h.9v.9h-.9zM198.7 71.2h.9v.9h-.9zM202.4 71.8h.9v.9h-.9zM200.2 69.7h.9v.9h-.9zM196.9 74.8h.9v.9h-.9zM195.8 77.8h.9v.9h-.9zM200.0 70.3h.9v.9h-.9zM193.4 77.3h.9v.9h-.9zM197.9 76.9h.9v.9h-.9zM197.7 76.6h.9v.9h-.9zM201.8 77.0h.9v.9h-.9zM196.2 75.3h.9v.9h-.9zM189.1 75.7h.9v.9h-.9zM185.1 81.2h.9v.9h-.9zM193.9 78.6h.9v.9h-.9zM182.9 85.0h.9v.9h-.9zM191.1 74.7h.9v.9h-.9zM195.0 79.6h.9v.9h-.9zM196.4 68.3h.9v.9h-.9zM191.2 73.9h.9v.9h-.9zM192.7 78.6h.9v.9h-.9zM196.2 78.5h.9v.9h-.9zM201.4 71.6h.9v.9h-.9zM184.4 82.9h.9v.9h-.9zM197.9 75.1h.9v.9h-.9zM192.2 75.0h.9v.9h-.9zM193.1 78.7h.9v.9h-.9zM185.9 74.5h.9v.9h-.9zM189.9 76.5h.9v.9h-.9zM188.7 83.6h.9v.9h-.9zM198.6 71.1h.9v.9h-.9zM195.4 76.5h.9v.9h-.9zM193.7 63.2h.9v.9h-.9zM197.6 77.7h.9v.9h-.9zM193.8 79.9h.9v.9h-.9zM191.8 86.4h.9v.9h-.9zM198.2 70.1h.9v.9h-.9zM197.8 75.8h.9v.9h-.9zM192.5 80.4h.9v.9h-.9zM197.5 72.1h.9v.9h-.9zM191.6 81.0h.9v.9h-.9zM189.1 82.2h.9v.9h-.9zM190.1 83.2h.9v.9h-.9zM194.4 75.5h.9v.9h-.9zM199.0 71.6h.9v.9h-.9zM189.0 79.3h.9v.9h-.9zM189.2 80.3h.9v.9h-.9zM202.0 68.8h.9v.9h-.9zM198.3 73.1h.9v.9h-.9zM193.5 78.6h.9v.9h-.9zM193.6 80.3h.9v.9h-.9zM188.0 80.5h.9v.9h-.9zM189.5 78.7h.9v.9h-.9zM190.3 74.7h.9v.9h-.9zM194.9 80.3h.9v.9h-.9zM202.4 74.5h.9v.9h-.9zM190.5 81.7h.9v.9h-.9zM203.5 68.8h.9v.9h-.9zM193.3 74.7h.9v.9h-.9zM201.1 69.5h.9v.9h-.9zM203.2 71.9h.9v.9h-.9zM197.2 74.4h.9v.9h-.9zM183.4 83.0h.9v.9h-.9zM201.7 69.4h.9v.9h-.9zM197.0 73.5h.9v.9h-.9zM191.4 82.6h.9v.9h-.9zM187.1 90.0h.9v.9h-.9zM191.0 80.1h.9v.9h-.9zM197.9 74.3h.9v.9h-.9zM193.7 80.5h.9v.9h-.9zM190.5 77.4h.9v.9h-.9zM188.6 81.8h.9v.9h-.9zM191.1 74.0h.9v.9h-.9zM191.7 80.1h.9v.9h-.9zM201.3 71.5h.9v.9h-.9zM190.9 81.3h.9v.9h-.9zM189.6 83.1h.9v.9h-.9zM189.0 79.4h.9v.9h-.9zM197.7 69.8h.9v.9h-.9zM190.1 85.5h.9v.9h-.9zM191.6 81.7h.9v.9h-.9zM192.9 76.7h.9v.9h-.9zM194.2 78.7h.9v.9h-.9zM190.7 77.6h.9v.9h-.9zM193.0 74.4h.9v.9h-.9zM196.1 75.7h.9v.9h-.9zM190.4 80.2h.9v.9h-.9zM193.0 78.9h.9v.9h-.9zM206.1 72.2h.9v.9h-.9zM192.7 79.7h.9v.9h-.9zM188.7 83.0h.9v.9h-.9zM201.1 76.4h.9v.9h-.9zM198.5 69.2h.9v.9h-.9zM192.7 77.6h.9v.9h-.9zM192.6 76.6h.9v.9h-.9zM195.8 74.6h.9v.9h-.9zM193.2 85.7h.9v.9h-.9zM192.0 72.0h.9v.9h-.9zM192.6 82.8h.9v.9h-.9zM196.2 69.7h.9v.9h-.9zM190.5 74.9h.9v.9h-.9zM190.6 79.8h.9v.9h-.9zM195.7 74.6h.9v.9h-.9zM192.9 76.9h.9v.9h-.9zM197.2 69.4h.9v.9h-.9zM188.8 84.7h.9v.9h-.9zM193.5 72.7h.9v.9h-.9zM198.9 73.7h.9v.9h-.9zM195.7 85.0h.9v.9h-.9zM190.5 75.8h.9v.9h-.9zM190.5 81.5h.9v.9h-.9zM191.2 80.2h.9v.9h-.9zM186.1 79.8h.9v.9h-.9zM196.6 74.0h.9v.9h-.9zM190.1 84.5h.9v.9h-.9zM201.2 72.4h.9v.9h-.9zM192.5 80.8h.9v.9h-.9zM193.1 75.7h.9v.9h-.9zM189.7 81.1h.9v.9h-.9zM189.5 78.5h.9v.9h-.9zM201.5 72.9h.9v.9h-.9zM190.2 78.3h.9v.9h-.9zM197.2 69.5h.9v.9h-.9zM197.3 71.2h.9v.9h-.9zM202.6 73.6h.9v.9h-.9zM187.1 78.5h.9v.9h-.9zM201.7 71.8h.9v.9h-.9zM201.1 72.0h.9v.9h-.9zM187.9 81.4h.9v.9h-.9zM188.9 83.0h.9v.9h-.9zM184.8 81.4h.9v.9h-.9zM196.1 75.9h.9v.9h-.9zM198.6 73.6h.9v.9h-.9zM194.1 74.0h.9v.9h-.9zM194.7 76.8h.9v.9h-.9zM197.8 72.9h.9v.9h-.9zM200.5 72.0h.9v.9h-.9zM201.1 71.7h.9v.9h-.9zM196.7 77.8h.9v.9h-.9zM189.3 81.5h.9v.9h-.9zM200.8 71.7h.9v.9h-.9zM197.5 76.3h.9v.9h-.9zM191.1 85.9h.9v.9h-.9zM202.4 68.3h.9v.9h-.9zM194.1 75.1h.9v.9h-.9zM192.2 76.5h.9v.9h-.9zM192.8 77.8h.9v.9h-.9zM185.9 79.4h.9v.9h-.9zM190.1 77.3h.9v.9h-.9zM196.0 77.2h.9v.9h-.9zM191.5 86.7h.9v.9h-.9zM204.7 69.0h.9v.9h-.9zM204.2 71.8h.9v.9h-.9zM199.3 74.6h.9v.9h-.9zM203.4 73.3h.9v.9h-.9zM202.4 73.6h.9v.9h-.9zM200.0 70.0h.9v.9h-.9zM199.1 73.4h.9v.9h-.9zM202.2 73.6h.9v.9h-.9zM199.9 70.0h.9v.9h-.9zM200.8 70.9h.9v.9h-.9zM200.2 74.9h.9v.9h-.9zM201.4 63.4h.9v.9h-.9zM199.1 71.5h.9v.9h-.9zM201.3 71.0h.9v.9h-.9zM200.2 75.2h.9v.9h-.9zM198.6 73.0h.9v.9h-.9zM203.5 73.6h.9v.9h-.9zM207.1 68.4h.9v.9h-.9zM199.0 72.0h.9v.9h-.9zM202.4 72.5h.9v.9h-.9zM199.0 69.8h.9v.9h-.9zM205.3 72.8h.9v.9h-.9zM202.8 73.3h.9v.9h-.9zM206.0 70.5h.9v.9h-.9zM201.8 66.4h.9v.9h-.9zM199.9 71.8h.9v.9h-.9zM202.7 68.9h.9v.9h-.9zM197.1 68.5h.9v.9h-.9zM195.0 67.9h.9v.9h-.9zM200.5 72.2h.9v.9h-.9zM205.0 71.3h.9v.9h-.9zM198.7 71.4h.9v.9h-.9zM199.8 73.8h.9v.9h-.9zM203.9 66.1h.9v.9h-.9zM200.1 76.7h.9v.9h-.9zM204.3 70.3h.9v.9h-.9zM192.1 72.8h.9v.9h-.9zM201.9 70.4h.9v.9h-.9zM203.1 71.6h.9v.9h-.9zM202.4 70.1h.9v.9h-.9zM200.3 71.9h.9v.9h-.9zM199.9 67.4h.9v.9h-.9zM197.2 71.5h.9v.9h-.9zM198.4 68.3h.9v.9h-.9zM198.8 72.6h.9v.9h-.9zM194.7 63.7h.9v.9h-.9zM201.2 70.1h.9v.9h-.9zM204.9 69.8h.9v.9h-.9zM196.5 71.4h.9v.9h-.9zM201.5 71.6h.9v.9h-.9zM201.6 76.7h.9v.9h-.9zM199.6 71.7h.9v.9h-.9zM200.5 65.7h.9v.9h-.9zM197.2 68.0h.9v.9h-.9zM199.7 67.1h.9v.9h-.9zM204.5 70.3h.9v.9h-.9zM197.8 68.5h.9v.9h-.9zM200.7 68.7h.9v.9h-.9zM197.5 67.0h.9v.9h-.9zM200.4 75.4h.9v.9h-.9zM192.7 69.4h.9v.9h-.9zM200.6 68.1h.9v.9h-.9zM206.7 70.9h.9v.9h-.9zM195.6 71.2h.9v.9h-.9zM197.1 72.7h.9v.9h-.9zM200.5 73.8h.9v.9h-.9zM197.7 71.5h.9v.9h-.9zM205.0 69.7h.9v.9h-.9zM197.5 69.4h.9v.9h-.9zM201.0 69.4h.9v.9h-.9zM201.7 73.6h.9v.9h-.9zM198.0 66.0h.9v.9h-.9zM197.9 65.9h.9v.9h-.9zM198.2 69.6h.9v.9h-.9zM195.6 70.4h.9v.9h-.9zM200.1 65.8h.9v.9h-.9zM199.0 65.6h.9v.9h-.9zM201.9 69.4h.9v.9h-.9zM201.5 74.0h.9v.9h-.9zM202.0 70.1h.9v.9h-.9zM200.9 68.8h.9v.9h-.9zM200.0 75.0h.9v.9h-.9zM198.4 69.8h.9v.9h-.9zM200.7 71.1h.9v.9h-.9zM202.1 66.8h.9v.9h-.9zM198.6 69.8h.9v.9h-.9zM200.8 71.8h.9v.9h-.9zM201.2 70.2h.9v.9h-.9zM197.5 66.8h.9v.9h-.9zM196.7 72.3h.9v.9h-.9zM204.4 67.7h.9v.9h-.9zM196.2 69.0h.9v.9h-.9zM200.6 68.5h.9v.9h-.9zM199.3 71.8h.9v.9h-.9zM201.0 68.7h.9v.9h-.9zM196.4 69.6h.9v.9h-.9zM202.9 65.3h.9v.9h-.9zM204.2 70.5h.9v.9h-.9zM204.2 68.2h.9v.9h-.9zM197.8 66.3h.9v.9h-.9zM200.6 70.3h.9v.9h-.9zM199.4 70.2h.9v.9h-.9zM201.2 67.8h.9v.9h-.9zM202.6 65.6h.9v.9h-.9zM198.7 70.9h.9v.9h-.9zM199.3 70.4h.9v.9h-.9zM195.6 69.1h.9v.9h-.9zM199.8 66.1h.9v.9h-.9zM201.5 66.5h.9v.9h-.9zM197.7 66.4h.9v.9h-.9zM200.5 67.8h.9v.9h-.9zM201.6 72.2h.9v.9h-.9zM199.0 71.4h.9v.9h-.9zM204.8 65.3h.9v.9h-.9zM195.2 74.8h.9v.9h-.9zM197.5 77.9h.9v.9h-.9zM202.3 63.6h.9v.9h-.9zM202.4 69.6h.9v.9h-.9zM200.3 72.3h.9v.9h-.9zM198.3 69.1h.9v.9h-.9zM200.4 65.3h.9v.9h-.9zM199.2 70.7h.9v.9h-.9zM200.1 70.4h.9v.9h-.9zM200.0 64.6h.9v.9h-.9zM197.6 64.7h.9v.9h-.9zM200.9 72.7h.9v.9h-.9zM200.5 64.5h.9v.9h-.9zM199.0 72.3h.9v.9h-.9zM201.4 72.2h.9v.9h-.9zM202.4 67.1h.9v.9h-.9zM200.8 71.0h.9v.9h-.9zM197.3 68.5h.9v.9h-.9zM199.8 75.5h.9v.9h-.9zM203.0 70.2h.9v.9h-.9zM200.3 65.7h.9v.9h-.9zM200.3 72.9h.9v.9h-.9zM199.1 71.7h.9v.9h-.9zM204.0 69.3h.9v.9h-.9zM195.9 69.9h.9v.9h-.9zM199.8 77.7h.9v.9h-.9zM199.9 69.9h.9v.9h-.9zM203.0 68.1h.9v.9h-.9zM199.3 69.8h.9v.9h-.9zM199.7 71.2h.9v.9h-.9zM200.6 63.7h.9v.9h-.9zM203.3 68.9h.9v.9h-.9zM202.1 70.4h.9v.9h-.9zM201.9 73.9h.9v.9h-.9zM199.7 69.0h.9v.9h-.9zM201.3 69.9h.9v.9h-.9zM205.2 69.6h.9v.9h-.9zM198.6 75.7h.9v.9h-.9zM198.3 72.4h.9v.9h-.9zM198.6 72.1h.9v.9h-.9zM204.7 74.1h.9v.9h-.9zM199.2 71.9h.9v.9h-.9zM203.6 70.7h.9v.9h-.9zM205.5 74.7h.9v.9h-.9zM205.1 70.4h.9v.9h-.9zM201.5 67.0h.9v.9h-.9zM197.9 72.0h.9v.9h-.9zM198.4 70.5h.9v.9h-.9zM197.4 68.4h.9v.9h-.9zM197.0 71.2h.9v.9h-.9zM198.4 70.8h.9v.9h-.9zM202.0 69.4h.9v.9h-.9zM200.5 76.8h.9v.9h-.9zM201.9 74.8h.9v.9h-.9zM204.6 72.8h.9v.9h-.9zM201.9 65.9h.9v.9h-.9zM201.8 67.7h.9v.9h-.9zM196.7 70.2h.9v.9h-.9zM203.6 72.1h.9v.9h-.9zM202.5 72.6h.9v.9h-.9zM202.6 67.5h.9v.9h-.9zM197.4 70.7h.9v.9h-.9zM203.3 70.3h.9v.9h-.9zM198.3 68.9h.9v.9h-.9zM199.1 68.6h.9v.9h-.9zM197.4 74.9h.9v.9h-.9zM179.8 79.0h.9v.9h-.9zM179.8 92.0h.9v.9h-.9zM183.1 82.7h.9v.9h-.9zM169.6 102.6h.9v.9h-.9zM172.4 80.4h.9v.9h-.9zM179.8 95.5h.9v.9h-.9zM183.8 83.9h.9v.9h-.9zM179.0 84.4h.9v.9h-.9zM178.8 84.7h.9v.9h-.9zM191.3 95.9h.9v.9h-.9zM177.9 88.0h.9v.9h-.9zM185.8 84.6h.9v.9h-.9zM177.5 86.0h.9v.9h-.9zM179.0 99.0h.9v.9h-.9zM175.6 81.3h.9v.9h-.9zM173.2 85.0h.9v.9h-.9zM171.9 81.3h.9v.9h-.9zM174.6 91.8h.9v.9h-.9zM180.1 86.6h.9v.9h-.9zM180.7 89.0h.9v.9h-.9zM178.2 83.4h.9v.9h-.9zM182.8 88.6h.9v.9h-.9zM177.8 86.6h.9v.9h-.9zM179.5 88.2h.9v.9h-.9zM172.6 85.1h.9v.9h-.9zM172.8 71.2h.9v.9h-.9zM172.3 104.2h.9v.9h-.9zM169.9 88.1h.9v.9h-.9zM182.6 87.7h.9v.9h-.9zM178.2 82.6h.9v.9h-.9zM175.1 84.4h.9v.9h-.9zM172.9 87.8h.9v.9h-.9zM181.9 94.2h.9v.9h-.9zM187.4 92.3h.9v.9h-.9zM195.3 89.9h.9v.9h-.9zM173.3 80.1h.9v.9h-.9zM180.2 94.0h.9v.9h-.9zM183.6 89.1h.9v.9h-.9zM185.7 89.3h.9v.9h-.9zM177.0 88.0h.9v.9h-.9zM179.4 92.7h.9v.9h-.9zM172.8 82.6h.9v.9h-.9zM184.9 86.8h.9v.9h-.9zM184.9 92.9h.9v.9h-.9zM180.6 96.3h.9v.9h-.9zM178.3 93.0h.9v.9h-.9zM183.2 95.4h.9v.9h-.9zM174.3 88.9h.9v.9h-.9zM186.7 93.4h.9v.9h-.9zM186.0 98.5h.9v.9h-.9zM176.1 89.0h.9v.9h-.9zM186.4 92.4h.9v.9h-.9zM174.7 91.9h.9v.9h-.9zM181.2 86.0h.9v.9h-.9zM177.2 94.7h.9v.9h-.9zM182.7 82.5h.9v.9h-.9zM174.5 87.3h.9v.9h-.9zM179.2 88.7h.9v.9h-.9zM174.9 91.0h.9v.9h-.9zM168.9 83.9h.9v.9h-.9zM179.2 89.0h.9v.9h-.9zM178.5 91.2h.9v.9h-.9zM179.9 87.1h.9v.9h-.9zM187.1 88.4h.9v.9h-.9zM192.2 78.9h.9v.9h-.9zM183.5 81.4h.9v.9h-.9zM170.4 83.1h.9v.9h-.9zM164.3 85.9h.9v.9h-.9zM178.5 82.8h.9v.9h-.9zM176.6 91.7h.9v.9h-.9zM175.8 94.6h.9v.9h-.9zM175.3 100.2h.9v.9h-.9zM178.8 80.9h.9v.9h-.9zM182.6 90.4h.9v.9h-.9zM171.4 100.8h.9v.9h-.9zM176.8 92.5h.9v.9h-.9zM192.7 84.9h.9v.9h-.9zM175.4 91.8h.9v.9h-.9zM167.0 95.7h.9v.9h-.9zM174.6 97.7h.9v.9h-.9zM185.3 82.2h.9v.9h-.9zM172.4 96.7h.9v.9h-.9zM172.8 89.2h.9v.9h-.9zM181.4 94.4h.9v.9h-.9zM179.3 84.2h.9v.9h-.9zM183.3 92.0h.9v.9h-.9zM184.7 82.8h.9v.9h-.9zM187.0 92.3h.9v.9h-.9zM177.5 92.9h.9v.9h-.9zM178.6 77.8h.9v.9h-.9zM175.7 91.2h.9v.9h-.9zM180.5 90.5h.9v.9h-.9zM175.2 82.7h.9v.9h-.9zM176.8 90.2h.9v.9h-.9zM178.5 91.1h.9v.9h-.9zM175.5 85.4h.9v.9h-.9zM175.9 87.2h.9v.9h-.9zM175.9 88.6h.9v.9h-.9zM176.6 97.1h.9v.9h-.9zM175.3 83.2h.9v.9h-.9zM181.1 99.1h.9v.9h-.9zM178.2 81.6h.9v.9h-.9zM182.8 82.6h.9v.9h-.9zM178.7 87.3h.9v.9h-.9zM173.0 93.9h.9v.9h-.9zM180.7 88.0h.9v.9h-.9zM180.4 81.8h.9v.9h-.9zM177.4 90.9h.9v.9h-.9zM182.5 77.7h.9v.9h-.9zM181.3 82.5h.9v.9h-.9zM161.7 104.6h.9v.9h-.9zM226.9 82.2h.9v.9h-.9zM221.1 95.6h.9v.9h-.9zM229.9 96.9h.9v.9h-.9zM181.4 86.1h.9v.9h-.9zM198.3 87.3h.9v.9h-.9zM212.2 102.3h.9v.9h-.9zM242.4 109.1h.9v.9h-.9zM204.8 89.9h.9v.9h-.9zM168.9 96.7h.9v.9h-.9zM216.4 100.3h.9v.9h-.9zM226.6 86.2h.9v.9h-.9zM188.8 103.1h.9v.9h-.9zM225.1 87.1h.9v.9h-.9zM213.6 107.5h.9v.9h-.9zM213.0 90.1h.9v.9h-.9zM218.6 93.5h.9v.9h-.9zM179.6 89.8h.9v.9h-.9z" fill="#000"/>
<line x1="149.80" y1="23.40" x2="149.80" y2="114.80" stroke="#000" stroke-width="1.5"/>
<line x1="149.00" y1="114.00" x2="244.10" y2="114.00" stroke="#000" stroke-width="1.6"/>
<line x1="149.80" y1="114.00" x2="149.80" y2="115.80" stroke="#000" stroke-width="0.9"/>
<line x1="147.20" y1="114.00" x2="149.80" y2="114.00" stroke="#000" stroke-width="0.9"/>
<line x1="156.86" y1="114.00" x2="156.86" y2="115.10" stroke="#000" stroke-width="0.6"/>
<line x1="148.50" y1="107.22" x2="149.80" y2="107.22" stroke="#000" stroke-width="0.6"/>
<line x1="160.99" y1="114.00" x2="160.99" y2="115.10" stroke="#000" stroke-width="0.6"/>
<line x1="148.50" y1="103.25" x2="149.80" y2="103.25" stroke="#000" stroke-width="0.6"/>
<line x1="163.92" y1="114.00" x2="163.92" y2="115.10" stroke="#000" stroke-width="0.6"/>
<line x1="148.50" y1="100.44" x2="149.80" y2="100.44" stroke="#000" stroke-width="0.6"/>
<line x1="166.19" y1="114.00" x2="166.19" y2="115.10" stroke="#000" stroke-width="0.6"/>
<line x1="148.50" y1="98.26" x2="149.80" y2="98.26" stroke="#000" stroke-width="0.6"/>
<line x1="168.05" y1="114.00" x2="168.05" y2="115.10" stroke="#000" stroke-width="0.6"/>
<line x1="148.50" y1="96.47" x2="149.80" y2="96.47" stroke="#000" stroke-width="0.6"/>
<line x1="169.62" y1="114.00" x2="169.62" y2="115.10" stroke="#000" stroke-width="0.6"/>
<line x1="148.50" y1="94.96" x2="149.80" y2="94.96" stroke="#000" stroke-width="0.6"/>
<line x1="170.98" y1="114.00" x2="170.98" y2="115.10" stroke="#000" stroke-width="0.6"/>
<line x1="148.50" y1="93.66" x2="149.80" y2="93.66" stroke="#000" stroke-width="0.6"/>
<line x1="172.18" y1="114.00" x2="172.18" y2="115.10" stroke="#000" stroke-width="0.6"/>
<line x1="148.50" y1="92.51" x2="149.80" y2="92.51" stroke="#000" stroke-width="0.6"/>
<text x="149.10" y="123.60" font-size="6.6" fill="#2a2a2a" font-weight="bold" text-anchor="middle" textLength="5.9" lengthAdjust="spacingAndGlyphs">10</text>
<text x="152.60" y="120.20" font-size="5.4" fill="#2a2a2a" font-weight="bold">0</text>
<g transform="translate(145.10,114.00) rotate(-90)"><text x="-2.6" y="0" font-size="6.6" fill="#2a2a2a" font-weight="bold" text-anchor="middle" textLength="5.0" lengthAdjust="spacingAndGlyphs">10</text><text x="1.0" y="-3.3" font-size="5.4" fill="#2a2a2a" font-weight="bold">0</text></g>
<line x1="173.25" y1="114.00" x2="173.25" y2="115.80" stroke="#000" stroke-width="0.9"/>
<line x1="147.20" y1="91.47" x2="149.80" y2="91.47" stroke="#000" stroke-width="0.9"/>
<line x1="180.31" y1="114.00" x2="180.31" y2="115.10" stroke="#000" stroke-width="0.6"/>
<line x1="148.50" y1="84.69" x2="149.80" y2="84.69" stroke="#000" stroke-width="0.6"/>
<line x1="184.44" y1="114.00" x2="184.44" y2="115.10" stroke="#000" stroke-width="0.6"/>
<line x1="148.50" y1="80.73" x2="149.80" y2="80.73" stroke="#000" stroke-width="0.6"/>
<line x1="187.37" y1="114.00" x2="187.37" y2="115.10" stroke="#000" stroke-width="0.6"/>
<line x1="148.50" y1="77.91" x2="149.80" y2="77.91" stroke="#000" stroke-width="0.6"/>
<line x1="189.64" y1="114.00" x2="189.64" y2="115.10" stroke="#000" stroke-width="0.6"/>
<line x1="148.50" y1="75.73" x2="149.80" y2="75.73" stroke="#000" stroke-width="0.6"/>
<line x1="191.50" y1="114.00" x2="191.50" y2="115.10" stroke="#000" stroke-width="0.6"/>
<line x1="148.50" y1="73.95" x2="149.80" y2="73.95" stroke="#000" stroke-width="0.6"/>
<line x1="193.07" y1="114.00" x2="193.07" y2="115.10" stroke="#000" stroke-width="0.6"/>
<line x1="148.50" y1="72.44" x2="149.80" y2="72.44" stroke="#000" stroke-width="0.6"/>
<line x1="194.43" y1="114.00" x2="194.43" y2="115.10" stroke="#000" stroke-width="0.6"/>
<line x1="148.50" y1="71.13" x2="149.80" y2="71.13" stroke="#000" stroke-width="0.6"/>
<line x1="195.63" y1="114.00" x2="195.63" y2="115.10" stroke="#000" stroke-width="0.6"/>
<line x1="148.50" y1="69.98" x2="149.80" y2="69.98" stroke="#000" stroke-width="0.6"/>
<text x="172.55" y="123.60" font-size="6.6" fill="#2a2a2a" font-weight="bold" text-anchor="middle" textLength="5.9" lengthAdjust="spacingAndGlyphs">10</text>
<text x="176.05" y="120.20" font-size="5.4" fill="#2a2a2a" font-weight="bold">1</text>
<g transform="translate(145.10,91.47) rotate(-90)"><text x="-2.6" y="0" font-size="6.6" fill="#2a2a2a" font-weight="bold" text-anchor="middle" textLength="5.0" lengthAdjust="spacingAndGlyphs">10</text><text x="1.0" y="-3.3" font-size="5.4" fill="#2a2a2a" font-weight="bold">1</text></g>
<line x1="196.70" y1="114.00" x2="196.70" y2="115.80" stroke="#000" stroke-width="0.9"/>
<line x1="147.20" y1="68.95" x2="149.80" y2="68.95" stroke="#000" stroke-width="0.9"/>
<line x1="203.76" y1="114.00" x2="203.76" y2="115.10" stroke="#000" stroke-width="0.6"/>
<line x1="148.50" y1="62.17" x2="149.80" y2="62.17" stroke="#000" stroke-width="0.6"/>
<line x1="207.89" y1="114.00" x2="207.89" y2="115.10" stroke="#000" stroke-width="0.6"/>
<line x1="148.50" y1="58.20" x2="149.80" y2="58.20" stroke="#000" stroke-width="0.6"/>
<line x1="210.82" y1="114.00" x2="210.82" y2="115.10" stroke="#000" stroke-width="0.6"/>
<line x1="148.50" y1="55.39" x2="149.80" y2="55.39" stroke="#000" stroke-width="0.6"/>
<line x1="213.09" y1="114.00" x2="213.09" y2="115.10" stroke="#000" stroke-width="0.6"/>
<line x1="148.50" y1="53.21" x2="149.80" y2="53.21" stroke="#000" stroke-width="0.6"/>
<line x1="214.95" y1="114.00" x2="214.95" y2="115.10" stroke="#000" stroke-width="0.6"/>
<line x1="148.50" y1="51.42" x2="149.80" y2="51.42" stroke="#000" stroke-width="0.6"/>
<line x1="216.52" y1="114.00" x2="216.52" y2="115.10" stroke="#000" stroke-width="0.6"/>
<line x1="148.50" y1="49.91" x2="149.80" y2="49.91" stroke="#000" stroke-width="0.6"/>
<line x1="217.88" y1="114.00" x2="217.88" y2="115.10" stroke="#000" stroke-width="0.6"/>
<line x1="148.50" y1="48.61" x2="149.80" y2="48.61" stroke="#000" stroke-width="0.6"/>
<line x1="219.08" y1="114.00" x2="219.08" y2="115.10" stroke="#000" stroke-width="0.6"/>
<line x1="148.50" y1="47.46" x2="149.80" y2="47.46" stroke="#000" stroke-width="0.6"/>
<text x="196.00" y="123.60" font-size="6.6" fill="#2a2a2a" font-weight="bold" text-anchor="middle" textLength="5.9" lengthAdjust="spacingAndGlyphs">10</text>
<text x="199.50" y="120.20" font-size="5.4" fill="#2a2a2a" font-weight="bold">2</text>
<g transform="translate(145.10,68.95) rotate(-90)"><text x="-2.6" y="0" font-size="6.6" fill="#2a2a2a" font-weight="bold" text-anchor="middle" textLength="5.0" lengthAdjust="spacingAndGlyphs">10</text><text x="1.0" y="-3.3" font-size="5.4" fill="#2a2a2a" font-weight="bold">2</text></g>
<line x1="220.15" y1="114.00" x2="220.15" y2="115.80" stroke="#000" stroke-width="0.9"/>
<line x1="147.20" y1="46.43" x2="149.80" y2="46.43" stroke="#000" stroke-width="0.9"/>
<line x1="227.21" y1="114.00" x2="227.21" y2="115.10" stroke="#000" stroke-width="0.6"/>
<line x1="148.50" y1="39.64" x2="149.80" y2="39.64" stroke="#000" stroke-width="0.6"/>
<line x1="231.34" y1="114.00" x2="231.34" y2="115.10" stroke="#000" stroke-width="0.6"/>
<line x1="148.50" y1="35.68" x2="149.80" y2="35.68" stroke="#000" stroke-width="0.6"/>
<line x1="234.27" y1="114.00" x2="234.27" y2="115.10" stroke="#000" stroke-width="0.6"/>
<line x1="148.50" y1="32.86" x2="149.80" y2="32.86" stroke="#000" stroke-width="0.6"/>
<line x1="236.54" y1="114.00" x2="236.54" y2="115.10" stroke="#000" stroke-width="0.6"/>
<line x1="148.50" y1="30.68" x2="149.80" y2="30.68" stroke="#000" stroke-width="0.6"/>
<line x1="238.40" y1="114.00" x2="238.40" y2="115.10" stroke="#000" stroke-width="0.6"/>
<line x1="148.50" y1="28.90" x2="149.80" y2="28.90" stroke="#000" stroke-width="0.6"/>
<line x1="239.97" y1="114.00" x2="239.97" y2="115.10" stroke="#000" stroke-width="0.6"/>
<line x1="148.50" y1="27.39" x2="149.80" y2="27.39" stroke="#000" stroke-width="0.6"/>
<line x1="241.33" y1="114.00" x2="241.33" y2="115.10" stroke="#000" stroke-width="0.6"/>
<line x1="148.50" y1="26.08" x2="149.80" y2="26.08" stroke="#000" stroke-width="0.6"/>
<line x1="242.53" y1="114.00" x2="242.53" y2="115.10" stroke="#000" stroke-width="0.6"/>
<line x1="148.50" y1="24.93" x2="149.80" y2="24.93" stroke="#000" stroke-width="0.6"/>
<text x="219.45" y="123.60" font-size="6.6" fill="#2a2a2a" font-weight="bold" text-anchor="middle" textLength="5.9" lengthAdjust="spacingAndGlyphs">10</text>
<text x="222.95" y="120.20" font-size="5.4" fill="#2a2a2a" font-weight="bold">3</text>
<g transform="translate(145.10,46.43) rotate(-90)"><text x="-2.6" y="0" font-size="6.6" fill="#2a2a2a" font-weight="bold" text-anchor="middle" textLength="5.0" lengthAdjust="spacingAndGlyphs">10</text><text x="1.0" y="-3.3" font-size="5.4" fill="#2a2a2a" font-weight="bold">3</text></g>
<line x1="243.60" y1="114.00" x2="243.60" y2="115.80" stroke="#000" stroke-width="0.9"/>
<line x1="147.20" y1="23.90" x2="149.80" y2="23.90" stroke="#000" stroke-width="0.9"/>
<text x="242.90" y="123.60" font-size="6.6" fill="#2a2a2a" font-weight="bold" text-anchor="middle" textLength="5.9" lengthAdjust="spacingAndGlyphs">10</text>
<text x="246.40" y="120.20" font-size="5.4" fill="#2a2a2a" font-weight="bold">4</text>
<g transform="translate(145.10,23.90) rotate(-90)"><text x="-2.6" y="0" font-size="6.6" fill="#2a2a2a" font-weight="bold" text-anchor="middle" textLength="5.0" lengthAdjust="spacingAndGlyphs">10</text><text x="1.0" y="-3.3" font-size="5.4" fill="#2a2a2a" font-weight="bold">4</text></g>
<text x="241.00" y="34.80" font-size="10" font-weight="bold" text-anchor="end" fill="#000" stroke="#000" stroke-width="0.15" >25%</text>
<text x="241.00" y="111.00" font-size="10" font-weight="bold" text-anchor="end" fill="#000" stroke="#000" stroke-width="0.15" >75%</text>
<text transform="translate(16.80,64.80) rotate(-90)" font-size="9.5" font-weight="bold" text-anchor="middle" stroke="#000" stroke-width="0.3">TCR<tspan font-size="10.5" dy="0.8">&#950;</tspan></text>
<text x="74.00" y="133.60" font-size="9.6" font-weight="bold" text-anchor="start" fill="#000" stroke="#000" stroke-width="0.3" >CD3</text>
<path d="M13.3 130.6 V86 M13.3 130.6 H65" stroke="#777" stroke-width="1" fill="none"/>
<path d="M10.8 86.8 L13.3 81.8 L15.8 86.8 Z" fill="#000"/>
<path d="M64.6 128.1 L70.6 130.6 L64.6 133.1 Z" fill="#000"/>
</svg></body></html>
